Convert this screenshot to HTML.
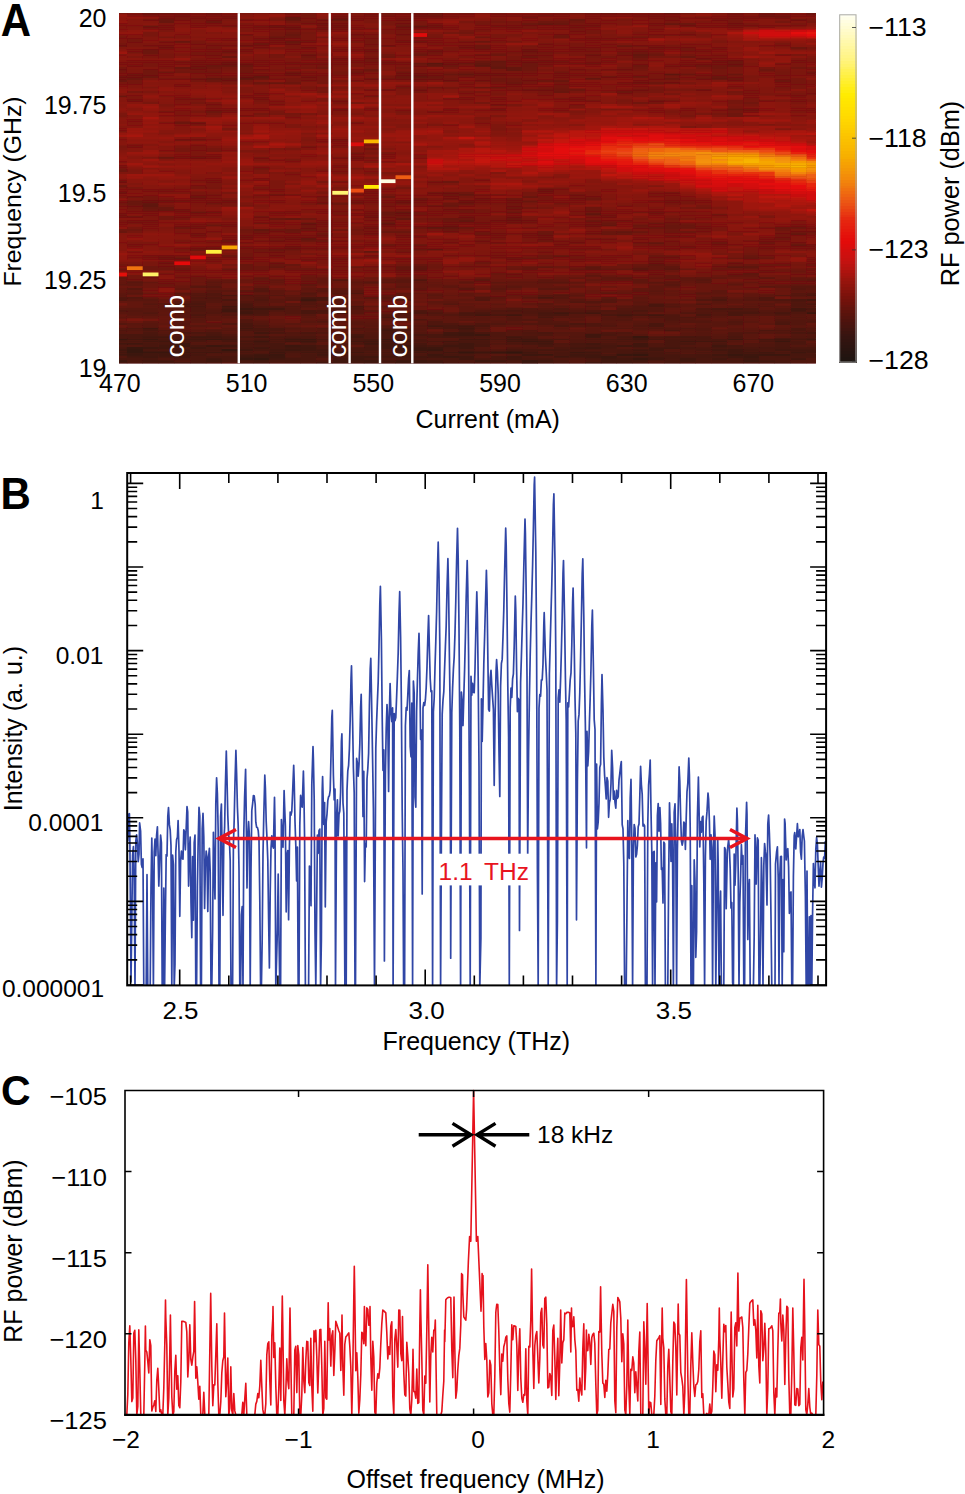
<!DOCTYPE html>
<html><head><meta charset="utf-8"><style>
html,body{margin:0;padding:0;background:#fff;width:965px;height:1494px;overflow:hidden}
svg{display:block}
text{font-family:"Liberation Sans", sans-serif}
</style></head><body>
<svg width="965" height="1494" viewBox="0 0 965 1494">
<rect width="965" height="1494" fill="#fff"/>
<filter id="blurA" x="0" y="0" width="1" height="1"><feGaussianBlur stdDeviation="0.75"/></filter>
<g filter="url(#blurA)"><rect x="119.0" y="13.1" width="696.7" height="350.2" fill="#81120b"/>
<path fill="#41140f" d="M119.0 362.21h8.2v1.39h-8.2zM119.0 353.45h8.2v2.49h-8.2zM119.0 349.07h8.2v2.49h-8.2zM126.9 342.51h16.1v2.49h-16.1zM142.7 355.64h16.1v2.49h-16.1zM142.7 327.19h16.1v2.49h-16.1zM174.3 349.07h16.1v2.49h-16.1zM190.1 346.88h16.1v2.49h-16.1zM190.1 335.94h16.1v2.49h-16.1zM205.9 357.83h16.1v2.49h-16.1zM205.9 351.26h16.1v2.49h-16.1zM237.5 349.07h16.1v2.49h-16.1zM253.3 346.88h16.1v2.49h-16.1zM284.9 340.32h16.1v2.49h-16.1zM300.7 362.21h16.1v1.39h-16.1zM316.5 353.45h16.1v2.49h-16.1zM332.3 362.21h16.1v1.39h-16.1zM332.3 360.02h16.1v2.49h-16.1zM348.1 351.26h16.1v2.49h-16.1zM363.9 355.64h16.1v2.49h-16.1zM363.9 342.51h16.1v2.49h-16.1zM395.5 353.45h16.1v2.49h-16.1zM395.5 338.13h16.1v2.49h-16.1zM427.1 360.02h16.1v2.49h-16.1zM427.1 355.64h16.1v2.49h-16.1zM442.9 351.26h16.1v2.49h-16.1zM442.9 333.75h16.1v2.49h-16.1zM458.7 357.83h16.1v2.49h-16.1zM458.7 355.64h16.1v2.49h-16.1zM458.7 346.88h16.1v2.49h-16.1zM458.7 344.70h16.1v2.49h-16.1zM490.3 360.02h16.1v2.49h-16.1zM506.1 362.21h16.1v1.39h-16.1zM506.1 355.64h16.1v2.49h-16.1zM506.1 338.13h16.1v2.49h-16.1zM506.1 314.05h16.1v2.49h-16.1zM553.5 355.64h16.1v2.49h-16.1zM553.5 311.86h16.1v2.49h-16.1zM600.9 360.02h16.1v2.49h-16.1zM600.9 357.83h16.1v2.49h-16.1zM616.7 360.02h16.1v2.49h-16.1zM616.7 344.70h16.1v2.49h-16.1zM632.5 349.07h16.1v2.49h-16.1zM632.5 342.51h16.1v2.49h-16.1zM679.9 340.32h16.1v2.49h-16.1zM711.5 353.45h16.1v2.49h-16.1zM727.3 338.13h16.1v2.49h-16.1zM758.9 362.21h16.1v1.39h-16.1zM758.9 351.26h16.1v2.49h-16.1zM790.5 357.83h16.1v2.49h-16.1z"/>
<path fill="#3a1410" d="M119.0 360.02h8.2v2.49h-8.2zM126.9 353.45h16.1v2.49h-16.1zM142.7 338.13h16.1v2.49h-16.1zM158.5 362.21h16.1v1.39h-16.1zM174.3 351.26h16.1v2.49h-16.1zM174.3 344.70h16.1v2.49h-16.1zM190.1 362.21h16.1v1.39h-16.1zM205.9 344.70h16.1v2.49h-16.1zM205.9 338.13h16.1v2.49h-16.1zM269.1 353.45h16.1v2.49h-16.1zM300.7 338.13h16.1v2.49h-16.1zM332.3 351.26h16.1v2.49h-16.1zM379.7 362.21h16.1v1.39h-16.1zM379.7 338.13h16.1v2.49h-16.1zM395.5 360.02h16.1v2.49h-16.1zM395.5 344.70h16.1v2.49h-16.1zM411.3 349.07h16.1v2.49h-16.1zM411.3 346.88h16.1v2.49h-16.1zM442.9 362.21h16.1v1.39h-16.1zM442.9 355.64h16.1v2.49h-16.1zM458.7 362.21h16.1v1.39h-16.1zM474.5 333.75h16.1v2.49h-16.1zM521.9 340.32h16.1v2.49h-16.1zM537.7 362.21h16.1v1.39h-16.1zM537.7 353.45h16.1v2.49h-16.1zM569.3 351.26h16.1v2.49h-16.1zM600.9 362.21h16.1v1.39h-16.1zM600.9 355.64h16.1v2.49h-16.1zM743.1 360.02h16.1v2.49h-16.1zM743.1 355.64h16.1v2.49h-16.1zM758.9 353.45h16.1v2.49h-16.1zM774.7 353.45h16.1v2.49h-16.1zM774.7 340.32h16.1v2.49h-16.1zM806.3 311.86h9.7v2.49h-9.7z"/>
<path fill="#48140e" d="M119.0 357.83h8.2v2.49h-8.2zM126.9 360.02h16.1v2.49h-16.1zM126.9 335.94h16.1v2.49h-16.1zM126.9 333.75h16.1v2.49h-16.1zM142.7 329.37h16.1v2.49h-16.1zM158.5 342.51h16.1v2.49h-16.1zM174.3 346.88h16.1v2.49h-16.1zM190.1 349.07h16.1v2.49h-16.1zM205.9 355.64h16.1v2.49h-16.1zM205.9 333.75h16.1v2.49h-16.1zM221.7 360.02h16.1v2.49h-16.1zM221.7 357.83h16.1v2.49h-16.1zM221.7 355.64h16.1v2.49h-16.1zM237.5 360.02h16.1v2.49h-16.1zM237.5 322.81h16.1v2.49h-16.1zM253.3 327.19h16.1v2.49h-16.1zM253.3 309.68h16.1v2.49h-16.1zM269.1 362.21h16.1v1.39h-16.1zM269.1 331.56h16.1v2.49h-16.1zM284.9 362.21h16.1v1.39h-16.1zM284.9 360.02h16.1v2.49h-16.1zM300.7 355.64h16.1v2.49h-16.1zM300.7 296.54h16.1v2.49h-16.1zM316.5 344.70h16.1v2.49h-16.1zM316.5 298.73h16.1v2.49h-16.1zM332.3 355.64h16.1v2.49h-16.1zM332.3 353.45h16.1v2.49h-16.1zM348.1 349.07h16.1v2.49h-16.1zM348.1 338.13h16.1v2.49h-16.1zM363.9 349.07h16.1v2.49h-16.1zM379.7 335.94h16.1v2.49h-16.1zM395.5 342.51h16.1v2.49h-16.1zM427.1 340.32h16.1v2.49h-16.1zM427.1 335.94h16.1v2.49h-16.1zM427.1 333.75h16.1v2.49h-16.1zM442.9 327.19h16.1v2.49h-16.1zM442.9 325.00h16.1v2.49h-16.1zM458.7 353.45h16.1v2.49h-16.1zM458.7 340.32h16.1v2.49h-16.1zM474.5 357.83h16.1v2.49h-16.1zM474.5 342.51h16.1v2.49h-16.1zM474.5 340.32h16.1v2.49h-16.1zM490.3 314.05h16.1v2.49h-16.1zM506.1 360.02h16.1v2.49h-16.1zM521.9 357.83h16.1v2.49h-16.1zM521.9 349.07h16.1v2.49h-16.1zM537.7 338.13h16.1v2.49h-16.1zM537.7 316.24h16.1v2.49h-16.1zM553.5 360.02h16.1v2.49h-16.1zM553.5 353.45h16.1v2.49h-16.1zM553.5 351.26h16.1v2.49h-16.1zM569.3 349.07h16.1v2.49h-16.1zM600.9 353.45h16.1v2.49h-16.1zM600.9 346.88h16.1v2.49h-16.1zM616.7 355.64h16.1v2.49h-16.1zM616.7 351.26h16.1v2.49h-16.1zM616.7 349.07h16.1v2.49h-16.1zM616.7 335.94h16.1v2.49h-16.1zM632.5 314.05h16.1v2.49h-16.1zM648.3 325.00h16.1v2.49h-16.1zM648.3 305.30h16.1v2.49h-16.1zM648.3 303.11h16.1v2.49h-16.1zM664.1 357.83h16.1v2.49h-16.1zM664.1 353.45h16.1v2.49h-16.1zM664.1 342.51h16.1v2.49h-16.1zM664.1 340.32h16.1v2.49h-16.1zM664.1 338.13h16.1v2.49h-16.1zM679.9 353.45h16.1v2.49h-16.1zM679.9 338.13h16.1v2.49h-16.1zM711.5 360.02h16.1v2.49h-16.1zM711.5 351.26h16.1v2.49h-16.1zM711.5 346.88h16.1v2.49h-16.1zM711.5 338.13h16.1v2.49h-16.1zM727.3 307.49h16.1v2.49h-16.1zM758.9 346.88h16.1v2.49h-16.1zM758.9 340.32h16.1v2.49h-16.1zM774.7 360.02h16.1v2.49h-16.1zM774.7 355.64h16.1v2.49h-16.1zM774.7 344.70h16.1v2.49h-16.1zM774.7 342.51h16.1v2.49h-16.1zM790.5 355.64h16.1v2.49h-16.1zM806.3 355.64h9.7v2.49h-9.7zM806.3 307.49h9.7v2.49h-9.7zM806.3 303.11h9.7v2.49h-9.7z"/>
<path fill="#51130d" d="M119.0 355.64h8.2v2.49h-8.2zM119.0 309.68h8.2v2.49h-8.2zM119.0 296.54h8.2v2.49h-8.2zM126.9 344.70h16.1v2.49h-16.1zM126.9 296.54h16.1v2.49h-16.1zM142.7 311.86h16.1v2.49h-16.1zM158.5 329.37h16.1v2.49h-16.1zM174.3 360.02h16.1v2.49h-16.1zM174.3 333.75h16.1v2.49h-16.1zM190.1 316.24h16.1v2.49h-16.1zM190.1 296.54h16.1v2.49h-16.1zM205.9 353.45h16.1v2.49h-16.1zM205.9 311.86h16.1v2.49h-16.1zM205.9 294.35h16.1v2.49h-16.1zM205.9 292.17h16.1v2.49h-16.1zM221.7 322.81h16.1v2.49h-16.1zM221.7 314.05h16.1v2.49h-16.1zM237.5 338.13h16.1v2.49h-16.1zM237.5 320.62h16.1v2.49h-16.1zM237.5 318.43h16.1v2.49h-16.1zM237.5 314.05h16.1v2.49h-16.1zM253.3 351.26h16.1v2.49h-16.1zM253.3 333.75h16.1v2.49h-16.1zM253.3 305.30h16.1v2.49h-16.1zM269.1 309.68h16.1v2.49h-16.1zM269.1 305.30h16.1v2.49h-16.1zM284.9 355.64h16.1v2.49h-16.1zM284.9 331.56h16.1v2.49h-16.1zM284.9 305.30h16.1v2.49h-16.1zM300.7 333.75h16.1v2.49h-16.1zM300.7 303.11h16.1v2.49h-16.1zM316.5 340.32h16.1v2.49h-16.1zM316.5 327.19h16.1v2.49h-16.1zM316.5 320.62h16.1v2.49h-16.1zM332.3 342.51h16.1v2.49h-16.1zM332.3 338.13h16.1v2.49h-16.1zM348.1 307.49h16.1v2.49h-16.1zM363.9 333.75h16.1v2.49h-16.1zM379.7 325.00h16.1v2.49h-16.1zM379.7 314.05h16.1v2.49h-16.1zM395.5 327.19h16.1v2.49h-16.1zM395.5 316.24h16.1v2.49h-16.1zM411.3 279.03h16.1v2.49h-16.1zM474.5 353.45h16.1v2.49h-16.1zM474.5 349.07h16.1v2.49h-16.1zM474.5 327.19h16.1v2.49h-16.1zM474.5 298.73h16.1v2.49h-16.1zM490.3 349.07h16.1v2.49h-16.1zM490.3 342.51h16.1v2.49h-16.1zM490.3 335.94h16.1v2.49h-16.1zM490.3 322.81h16.1v2.49h-16.1zM521.9 346.88h16.1v2.49h-16.1zM521.9 333.75h16.1v2.49h-16.1zM521.9 329.37h16.1v2.49h-16.1zM521.9 309.68h16.1v2.49h-16.1zM521.9 307.49h16.1v2.49h-16.1zM537.7 322.81h16.1v2.49h-16.1zM553.5 344.70h16.1v2.49h-16.1zM553.5 322.81h16.1v2.49h-16.1zM569.3 340.32h16.1v2.49h-16.1zM569.3 338.13h16.1v2.49h-16.1zM569.3 300.92h16.1v2.49h-16.1zM585.1 325.00h16.1v2.49h-16.1zM600.9 325.00h16.1v2.49h-16.1zM616.7 342.51h16.1v2.49h-16.1zM616.7 316.24h16.1v2.49h-16.1zM616.7 309.68h16.1v2.49h-16.1zM632.5 325.00h16.1v2.49h-16.1zM648.3 327.19h16.1v2.49h-16.1zM679.9 351.26h16.1v2.49h-16.1zM679.9 349.07h16.1v2.49h-16.1zM679.9 344.70h16.1v2.49h-16.1zM679.9 327.19h16.1v2.49h-16.1zM679.9 311.86h16.1v2.49h-16.1zM695.7 316.24h16.1v2.49h-16.1zM695.7 311.86h16.1v2.49h-16.1zM695.7 303.11h16.1v2.49h-16.1zM695.7 298.73h16.1v2.49h-16.1zM711.5 309.68h16.1v2.49h-16.1zM727.3 331.56h16.1v2.49h-16.1zM727.3 320.62h16.1v2.49h-16.1zM727.3 309.68h16.1v2.49h-16.1zM743.1 344.70h16.1v2.49h-16.1zM743.1 342.51h16.1v2.49h-16.1zM743.1 338.13h16.1v2.49h-16.1zM743.1 331.56h16.1v2.49h-16.1zM743.1 309.68h16.1v2.49h-16.1zM758.9 342.51h16.1v2.49h-16.1zM758.9 311.86h16.1v2.49h-16.1zM774.7 331.56h16.1v2.49h-16.1zM774.7 314.05h16.1v2.49h-16.1zM790.5 335.94h16.1v2.49h-16.1zM790.5 300.92h16.1v2.49h-16.1zM806.3 357.83h9.7v2.49h-9.7zM806.3 344.70h9.7v2.49h-9.7zM806.3 333.75h9.7v2.49h-9.7zM806.3 329.37h9.7v2.49h-9.7zM806.3 292.17h9.7v2.49h-9.7z"/>
<path fill="#43140f" d="M119.0 351.26h8.2v2.49h-8.2zM119.0 342.51h8.2v2.49h-8.2zM126.9 362.21h16.1v1.39h-16.1zM126.9 355.64h16.1v2.49h-16.1zM126.9 338.13h16.1v2.49h-16.1zM142.7 360.02h16.1v2.49h-16.1zM142.7 353.45h16.1v2.49h-16.1zM142.7 340.32h16.1v2.49h-16.1zM142.7 335.94h16.1v2.49h-16.1zM158.5 360.02h16.1v2.49h-16.1zM158.5 355.64h16.1v2.49h-16.1zM158.5 344.70h16.1v2.49h-16.1zM158.5 335.94h16.1v2.49h-16.1zM190.1 351.26h16.1v2.49h-16.1zM205.9 335.94h16.1v2.49h-16.1zM221.7 305.30h16.1v2.49h-16.1zM237.5 327.19h16.1v2.49h-16.1zM253.3 360.02h16.1v2.49h-16.1zM253.3 335.94h16.1v2.49h-16.1zM253.3 331.56h16.1v2.49h-16.1zM253.3 307.49h16.1v2.49h-16.1zM269.1 357.83h16.1v2.49h-16.1zM269.1 349.07h16.1v2.49h-16.1zM269.1 307.49h16.1v2.49h-16.1zM284.9 346.88h16.1v2.49h-16.1zM300.7 351.26h16.1v2.49h-16.1zM300.7 344.70h16.1v2.49h-16.1zM316.5 349.07h16.1v2.49h-16.1zM332.3 357.83h16.1v2.49h-16.1zM348.1 362.21h16.1v1.39h-16.1zM348.1 360.02h16.1v2.49h-16.1zM348.1 340.32h16.1v2.49h-16.1zM348.1 335.94h16.1v2.49h-16.1zM379.7 360.02h16.1v2.49h-16.1zM379.7 355.64h16.1v2.49h-16.1zM379.7 342.51h16.1v2.49h-16.1zM395.5 355.64h16.1v2.49h-16.1zM411.3 355.64h16.1v2.49h-16.1zM411.3 351.26h16.1v2.49h-16.1zM411.3 344.70h16.1v2.49h-16.1zM427.1 325.00h16.1v2.49h-16.1zM442.9 340.32h16.1v2.49h-16.1zM442.9 331.56h16.1v2.49h-16.1zM458.7 338.13h16.1v2.49h-16.1zM458.7 325.00h16.1v2.49h-16.1zM474.5 362.21h16.1v1.39h-16.1zM474.5 338.13h16.1v2.49h-16.1zM474.5 314.05h16.1v2.49h-16.1zM506.1 357.83h16.1v2.49h-16.1zM506.1 340.32h16.1v2.49h-16.1zM506.1 335.94h16.1v2.49h-16.1zM537.7 342.51h16.1v2.49h-16.1zM553.5 362.21h16.1v1.39h-16.1zM569.3 355.64h16.1v2.49h-16.1zM569.3 346.88h16.1v2.49h-16.1zM585.1 353.45h16.1v2.49h-16.1zM585.1 342.51h16.1v2.49h-16.1zM585.1 335.94h16.1v2.49h-16.1zM585.1 311.86h16.1v2.49h-16.1zM616.7 357.83h16.1v2.49h-16.1zM616.7 314.05h16.1v2.49h-16.1zM632.5 360.02h16.1v2.49h-16.1zM632.5 351.26h16.1v2.49h-16.1zM648.3 349.07h16.1v2.49h-16.1zM648.3 346.88h16.1v2.49h-16.1zM648.3 314.05h16.1v2.49h-16.1zM664.1 346.88h16.1v2.49h-16.1zM679.9 360.02h16.1v2.49h-16.1zM695.7 340.32h16.1v2.49h-16.1zM711.5 362.21h16.1v1.39h-16.1zM711.5 357.83h16.1v2.49h-16.1zM711.5 349.07h16.1v2.49h-16.1zM711.5 340.32h16.1v2.49h-16.1zM727.3 362.21h16.1v1.39h-16.1zM743.1 351.26h16.1v2.49h-16.1zM758.9 360.02h16.1v2.49h-16.1zM774.7 349.07h16.1v2.49h-16.1zM790.5 349.07h16.1v2.49h-16.1zM790.5 309.68h16.1v2.49h-16.1zM790.5 307.49h16.1v2.49h-16.1zM806.3 351.26h9.7v2.49h-9.7zM806.3 349.07h9.7v2.49h-9.7zM806.3 298.73h9.7v2.49h-9.7z"/>
<path fill="#46140e" d="M119.0 346.88h8.2v2.49h-8.2zM142.7 357.83h16.1v2.49h-16.1zM158.5 338.13h16.1v2.49h-16.1zM174.3 340.32h16.1v2.49h-16.1zM174.3 335.94h16.1v2.49h-16.1zM190.1 353.45h16.1v2.49h-16.1zM190.1 344.70h16.1v2.49h-16.1zM205.9 362.21h16.1v1.39h-16.1zM205.9 349.07h16.1v2.49h-16.1zM221.7 351.26h16.1v2.49h-16.1zM221.7 340.32h16.1v2.49h-16.1zM221.7 335.94h16.1v2.49h-16.1zM221.7 307.49h16.1v2.49h-16.1zM237.5 353.45h16.1v2.49h-16.1zM237.5 346.88h16.1v2.49h-16.1zM237.5 340.32h16.1v2.49h-16.1zM237.5 325.00h16.1v2.49h-16.1zM237.5 309.68h16.1v2.49h-16.1zM253.3 349.07h16.1v2.49h-16.1zM253.3 342.51h16.1v2.49h-16.1zM269.1 346.88h16.1v2.49h-16.1zM269.1 344.70h16.1v2.49h-16.1zM269.1 342.51h16.1v2.49h-16.1zM269.1 338.13h16.1v2.49h-16.1zM284.9 357.83h16.1v2.49h-16.1zM348.1 333.75h16.1v2.49h-16.1zM363.9 357.83h16.1v2.49h-16.1zM363.9 346.88h16.1v2.49h-16.1zM363.9 338.13h16.1v2.49h-16.1zM379.7 351.26h16.1v2.49h-16.1zM379.7 331.56h16.1v2.49h-16.1zM395.5 357.83h16.1v2.49h-16.1zM395.5 329.37h16.1v2.49h-16.1zM411.3 357.83h16.1v2.49h-16.1zM411.3 342.51h16.1v2.49h-16.1zM411.3 333.75h16.1v2.49h-16.1zM427.1 344.70h16.1v2.49h-16.1zM442.9 353.45h16.1v2.49h-16.1zM442.9 335.94h16.1v2.49h-16.1zM474.5 344.70h16.1v2.49h-16.1zM490.3 362.21h16.1v1.39h-16.1zM506.1 349.07h16.1v2.49h-16.1zM521.9 342.51h16.1v2.49h-16.1zM537.7 357.83h16.1v2.49h-16.1zM537.7 349.07h16.1v2.49h-16.1zM537.7 311.86h16.1v2.49h-16.1zM553.5 349.07h16.1v2.49h-16.1zM569.3 362.21h16.1v1.39h-16.1zM569.3 342.51h16.1v2.49h-16.1zM585.1 344.70h16.1v2.49h-16.1zM600.9 344.70h16.1v2.49h-16.1zM616.7 338.13h16.1v2.49h-16.1zM632.5 355.64h16.1v2.49h-16.1zM648.3 355.64h16.1v2.49h-16.1zM648.3 353.45h16.1v2.49h-16.1zM648.3 351.26h16.1v2.49h-16.1zM648.3 338.13h16.1v2.49h-16.1zM664.1 360.02h16.1v2.49h-16.1zM664.1 355.64h16.1v2.49h-16.1zM664.1 335.94h16.1v2.49h-16.1zM679.9 362.21h16.1v1.39h-16.1zM679.9 335.94h16.1v2.49h-16.1zM695.7 355.64h16.1v2.49h-16.1zM695.7 353.45h16.1v2.49h-16.1zM711.5 355.64h16.1v2.49h-16.1zM727.3 360.02h16.1v2.49h-16.1zM727.3 344.70h16.1v2.49h-16.1zM743.1 349.07h16.1v2.49h-16.1zM758.9 338.13h16.1v2.49h-16.1zM774.7 346.88h16.1v2.49h-16.1zM774.7 311.86h16.1v2.49h-16.1zM790.5 362.21h16.1v1.39h-16.1zM790.5 353.45h16.1v2.49h-16.1zM790.5 338.13h16.1v2.49h-16.1zM806.3 353.45h9.7v2.49h-9.7zM806.3 331.56h9.7v2.49h-9.7z"/>
<path fill="#4f130d" d="M119.0 344.70h8.2v2.49h-8.2zM119.0 329.37h8.2v2.49h-8.2zM119.0 298.73h8.2v2.49h-8.2zM126.9 327.19h16.1v2.49h-16.1zM158.5 357.83h16.1v2.49h-16.1zM158.5 333.75h16.1v2.49h-16.1zM190.1 309.68h16.1v2.49h-16.1zM190.1 307.49h16.1v2.49h-16.1zM190.1 300.92h16.1v2.49h-16.1zM205.9 340.32h16.1v2.49h-16.1zM205.9 296.54h16.1v2.49h-16.1zM221.7 362.21h16.1v1.39h-16.1zM221.7 353.45h16.1v2.49h-16.1zM221.7 346.88h16.1v2.49h-16.1zM221.7 333.75h16.1v2.49h-16.1zM237.5 294.35h16.1v2.49h-16.1zM253.3 325.00h16.1v2.49h-16.1zM253.3 314.05h16.1v2.49h-16.1zM253.3 298.73h16.1v2.49h-16.1zM284.9 353.45h16.1v2.49h-16.1zM300.7 342.51h16.1v2.49h-16.1zM316.5 331.56h16.1v2.49h-16.1zM316.5 311.86h16.1v2.49h-16.1zM332.3 349.07h16.1v2.49h-16.1zM332.3 333.75h16.1v2.49h-16.1zM348.1 327.19h16.1v2.49h-16.1zM348.1 292.17h16.1v2.49h-16.1zM363.9 335.94h16.1v2.49h-16.1zM395.5 311.86h16.1v2.49h-16.1zM411.3 335.94h16.1v2.49h-16.1zM411.3 318.43h16.1v2.49h-16.1zM411.3 309.68h16.1v2.49h-16.1zM427.1 327.19h16.1v2.49h-16.1zM427.1 322.81h16.1v2.49h-16.1zM427.1 320.62h16.1v2.49h-16.1zM427.1 311.86h16.1v2.49h-16.1zM442.9 322.81h16.1v2.49h-16.1zM474.5 322.81h16.1v2.49h-16.1zM490.3 333.75h16.1v2.49h-16.1zM490.3 331.56h16.1v2.49h-16.1zM490.3 309.68h16.1v2.49h-16.1zM506.1 353.45h16.1v2.49h-16.1zM506.1 346.88h16.1v2.49h-16.1zM521.9 331.56h16.1v2.49h-16.1zM521.9 311.86h16.1v2.49h-16.1zM537.7 355.64h16.1v2.49h-16.1zM537.7 333.75h16.1v2.49h-16.1zM537.7 309.68h16.1v2.49h-16.1zM553.5 357.83h16.1v2.49h-16.1zM553.5 342.51h16.1v2.49h-16.1zM553.5 307.49h16.1v2.49h-16.1zM569.3 357.83h16.1v2.49h-16.1zM585.1 349.07h16.1v2.49h-16.1zM585.1 340.32h16.1v2.49h-16.1zM585.1 322.81h16.1v2.49h-16.1zM585.1 309.68h16.1v2.49h-16.1zM600.9 340.32h16.1v2.49h-16.1zM600.9 331.56h16.1v2.49h-16.1zM600.9 309.68h16.1v2.49h-16.1zM616.7 331.56h16.1v2.49h-16.1zM616.7 311.86h16.1v2.49h-16.1zM632.5 346.88h16.1v2.49h-16.1zM648.3 360.02h16.1v2.49h-16.1zM648.3 344.70h16.1v2.49h-16.1zM648.3 342.51h16.1v2.49h-16.1zM648.3 316.24h16.1v2.49h-16.1zM664.1 318.43h16.1v2.49h-16.1zM664.1 316.24h16.1v2.49h-16.1zM664.1 314.05h16.1v2.49h-16.1zM679.9 316.24h16.1v2.49h-16.1zM695.7 307.49h16.1v2.49h-16.1zM727.3 333.75h16.1v2.49h-16.1zM743.1 307.49h16.1v2.49h-16.1zM758.9 344.70h16.1v2.49h-16.1zM758.9 298.73h16.1v2.49h-16.1zM758.9 296.54h16.1v2.49h-16.1zM774.7 329.37h16.1v2.49h-16.1zM774.7 320.62h16.1v2.49h-16.1zM774.7 298.73h16.1v2.49h-16.1zM790.5 360.02h16.1v2.49h-16.1zM790.5 311.86h16.1v2.49h-16.1zM790.5 305.30h16.1v2.49h-16.1zM790.5 303.11h16.1v2.49h-16.1zM806.3 362.21h9.7v1.39h-9.7zM806.3 360.02h9.7v2.49h-9.7zM806.3 335.94h9.7v2.49h-9.7zM806.3 320.62h9.7v2.49h-9.7zM806.3 309.68h9.7v2.49h-9.7zM806.3 305.30h9.7v2.49h-9.7z"/>
<path fill="#4a130e" d="M119.0 340.32h8.2v2.49h-8.2zM119.0 333.75h8.2v2.49h-8.2zM126.9 357.83h16.1v2.49h-16.1zM126.9 340.32h16.1v2.49h-16.1zM142.7 349.07h16.1v2.49h-16.1zM142.7 344.70h16.1v2.49h-16.1zM142.7 342.51h16.1v2.49h-16.1zM142.7 333.75h16.1v2.49h-16.1zM174.3 357.83h16.1v2.49h-16.1zM174.3 331.56h16.1v2.49h-16.1zM174.3 305.30h16.1v2.49h-16.1zM190.1 360.02h16.1v2.49h-16.1zM190.1 340.32h16.1v2.49h-16.1zM190.1 305.30h16.1v2.49h-16.1zM205.9 346.88h16.1v2.49h-16.1zM221.7 294.35h16.1v2.49h-16.1zM237.5 351.26h16.1v2.49h-16.1zM237.5 342.51h16.1v2.49h-16.1zM237.5 335.94h16.1v2.49h-16.1zM237.5 329.37h16.1v2.49h-16.1zM237.5 305.30h16.1v2.49h-16.1zM237.5 303.11h16.1v2.49h-16.1zM253.3 329.37h16.1v2.49h-16.1zM253.3 311.86h16.1v2.49h-16.1zM269.1 360.02h16.1v2.49h-16.1zM269.1 340.32h16.1v2.49h-16.1zM284.9 351.26h16.1v2.49h-16.1zM300.7 360.02h16.1v2.49h-16.1zM300.7 357.83h16.1v2.49h-16.1zM300.7 353.45h16.1v2.49h-16.1zM300.7 311.86h16.1v2.49h-16.1zM300.7 309.68h16.1v2.49h-16.1zM316.5 355.64h16.1v2.49h-16.1zM316.5 338.13h16.1v2.49h-16.1zM316.5 296.54h16.1v2.49h-16.1zM332.3 311.86h16.1v2.49h-16.1zM348.1 353.45h16.1v2.49h-16.1zM348.1 346.88h16.1v2.49h-16.1zM363.9 351.26h16.1v2.49h-16.1zM379.7 353.45h16.1v2.49h-16.1zM379.7 333.75h16.1v2.49h-16.1zM379.7 316.24h16.1v2.49h-16.1zM395.5 335.94h16.1v2.49h-16.1zM427.1 351.26h16.1v2.49h-16.1zM442.9 360.02h16.1v2.49h-16.1zM442.9 357.83h16.1v2.49h-16.1zM442.9 346.88h16.1v2.49h-16.1zM442.9 342.51h16.1v2.49h-16.1zM458.7 349.07h16.1v2.49h-16.1zM458.7 335.94h16.1v2.49h-16.1zM458.7 329.37h16.1v2.49h-16.1zM458.7 311.86h16.1v2.49h-16.1zM474.5 331.56h16.1v2.49h-16.1zM474.5 311.86h16.1v2.49h-16.1zM490.3 357.83h16.1v2.49h-16.1zM490.3 355.64h16.1v2.49h-16.1zM537.7 344.70h16.1v2.49h-16.1zM537.7 314.05h16.1v2.49h-16.1zM537.7 296.54h16.1v2.49h-16.1zM553.5 314.05h16.1v2.49h-16.1zM569.3 344.70h16.1v2.49h-16.1zM569.3 311.86h16.1v2.49h-16.1zM585.1 357.83h16.1v2.49h-16.1zM600.9 314.05h16.1v2.49h-16.1zM648.3 362.21h16.1v1.39h-16.1zM648.3 322.81h16.1v2.49h-16.1zM664.1 351.26h16.1v2.49h-16.1zM664.1 344.70h16.1v2.49h-16.1zM664.1 329.37h16.1v2.49h-16.1zM679.9 355.64h16.1v2.49h-16.1zM679.9 346.88h16.1v2.49h-16.1zM679.9 342.51h16.1v2.49h-16.1zM695.7 362.21h16.1v1.39h-16.1zM695.7 360.02h16.1v2.49h-16.1zM695.7 357.83h16.1v2.49h-16.1zM695.7 349.07h16.1v2.49h-16.1zM695.7 338.13h16.1v2.49h-16.1zM695.7 335.94h16.1v2.49h-16.1zM695.7 314.05h16.1v2.49h-16.1zM711.5 307.49h16.1v2.49h-16.1zM727.3 346.88h16.1v2.49h-16.1zM727.3 314.05h16.1v2.49h-16.1zM727.3 311.86h16.1v2.49h-16.1zM743.1 311.86h16.1v2.49h-16.1zM774.7 351.26h16.1v2.49h-16.1zM790.5 346.88h16.1v2.49h-16.1zM790.5 331.56h16.1v2.49h-16.1zM790.5 298.73h16.1v2.49h-16.1zM806.3 346.88h9.7v2.49h-9.7z"/>
<path fill="#371410" d="M119.0 338.13h8.2v2.49h-8.2zM126.9 346.88h16.1v2.49h-16.1zM521.9 360.02h16.1v2.49h-16.1z"/>
<path fill="#4c130e" d="M119.0 335.94h8.2v2.49h-8.2zM142.7 331.56h16.1v2.49h-16.1zM158.5 349.07h16.1v2.49h-16.1zM174.3 303.11h16.1v2.49h-16.1zM190.1 357.83h16.1v2.49h-16.1zM190.1 355.64h16.1v2.49h-16.1zM190.1 331.56h16.1v2.49h-16.1zM190.1 314.05h16.1v2.49h-16.1zM190.1 303.11h16.1v2.49h-16.1zM205.9 331.56h16.1v2.49h-16.1zM221.7 298.73h16.1v2.49h-16.1zM237.5 344.70h16.1v2.49h-16.1zM253.3 344.70h16.1v2.49h-16.1zM253.3 338.13h16.1v2.49h-16.1zM269.1 335.94h16.1v2.49h-16.1zM269.1 329.37h16.1v2.49h-16.1zM269.1 327.19h16.1v2.49h-16.1zM284.9 335.94h16.1v2.49h-16.1zM300.7 335.94h16.1v2.49h-16.1zM300.7 331.56h16.1v2.49h-16.1zM316.5 360.02h16.1v2.49h-16.1zM316.5 346.88h16.1v2.49h-16.1zM316.5 309.68h16.1v2.49h-16.1zM332.3 307.49h16.1v2.49h-16.1zM348.1 342.51h16.1v2.49h-16.1zM348.1 305.30h16.1v2.49h-16.1zM363.9 353.45h16.1v2.49h-16.1zM363.9 344.70h16.1v2.49h-16.1zM379.7 357.83h16.1v2.49h-16.1zM379.7 349.07h16.1v2.49h-16.1zM379.7 327.19h16.1v2.49h-16.1zM395.5 333.75h16.1v2.49h-16.1zM411.3 353.45h16.1v2.49h-16.1zM411.3 340.32h16.1v2.49h-16.1zM411.3 338.13h16.1v2.49h-16.1zM411.3 311.86h16.1v2.49h-16.1zM427.1 357.83h16.1v2.49h-16.1zM442.9 349.07h16.1v2.49h-16.1zM458.7 360.02h16.1v2.49h-16.1zM458.7 314.05h16.1v2.49h-16.1zM474.5 335.94h16.1v2.49h-16.1zM474.5 325.00h16.1v2.49h-16.1zM490.3 338.13h16.1v2.49h-16.1zM506.1 342.51h16.1v2.49h-16.1zM506.1 309.68h16.1v2.49h-16.1zM521.9 355.64h16.1v2.49h-16.1zM521.9 335.94h16.1v2.49h-16.1zM537.7 351.26h16.1v2.49h-16.1zM537.7 331.56h16.1v2.49h-16.1zM553.5 346.88h16.1v2.49h-16.1zM553.5 338.13h16.1v2.49h-16.1zM553.5 325.00h16.1v2.49h-16.1zM569.3 322.81h16.1v2.49h-16.1zM585.1 360.02h16.1v2.49h-16.1zM585.1 338.13h16.1v2.49h-16.1zM600.9 351.26h16.1v2.49h-16.1zM600.9 349.07h16.1v2.49h-16.1zM600.9 342.51h16.1v2.49h-16.1zM600.9 338.13h16.1v2.49h-16.1zM600.9 333.75h16.1v2.49h-16.1zM616.7 340.32h16.1v2.49h-16.1zM632.5 340.32h16.1v2.49h-16.1zM632.5 309.68h16.1v2.49h-16.1zM648.3 335.94h16.1v2.49h-16.1zM695.7 351.26h16.1v2.49h-16.1zM695.7 346.88h16.1v2.49h-16.1zM711.5 342.51h16.1v2.49h-16.1zM711.5 298.73h16.1v2.49h-16.1zM727.3 357.83h16.1v2.49h-16.1zM727.3 335.94h16.1v2.49h-16.1zM743.1 346.88h16.1v2.49h-16.1zM758.9 357.83h16.1v2.49h-16.1zM758.9 355.64h16.1v2.49h-16.1zM758.9 349.07h16.1v2.49h-16.1zM758.9 329.37h16.1v2.49h-16.1zM774.7 357.83h16.1v2.49h-16.1zM774.7 322.81h16.1v2.49h-16.1zM790.5 342.51h16.1v2.49h-16.1zM790.5 340.32h16.1v2.49h-16.1zM790.5 329.37h16.1v2.49h-16.1zM790.5 327.19h16.1v2.49h-16.1zM806.3 294.35h9.7v2.49h-9.7z"/>
<path fill="#55130d" d="M119.0 331.56h8.2v2.49h-8.2zM119.0 327.19h8.2v2.49h-8.2zM119.0 322.81h8.2v2.49h-8.2zM126.9 309.68h16.1v2.49h-16.1zM126.9 287.79h16.1v2.49h-16.1zM142.7 303.11h16.1v2.49h-16.1zM158.5 331.56h16.1v2.49h-16.1zM174.3 329.37h16.1v2.49h-16.1zM174.3 322.81h16.1v2.49h-16.1zM174.3 311.86h16.1v2.49h-16.1zM190.1 298.73h16.1v2.49h-16.1zM190.1 292.17h16.1v2.49h-16.1zM205.9 300.92h16.1v2.49h-16.1zM205.9 285.60h16.1v2.49h-16.1zM221.7 329.37h16.1v2.49h-16.1zM221.7 311.86h16.1v2.49h-16.1zM221.7 303.11h16.1v2.49h-16.1zM237.5 333.75h16.1v2.49h-16.1zM237.5 331.56h16.1v2.49h-16.1zM253.3 322.81h16.1v2.49h-16.1zM253.3 300.92h16.1v2.49h-16.1zM253.3 294.35h16.1v2.49h-16.1zM253.3 287.79h16.1v2.49h-16.1zM269.1 294.35h16.1v2.49h-16.1zM284.9 298.73h16.1v2.49h-16.1zM300.7 314.05h16.1v2.49h-16.1zM316.5 357.83h16.1v2.49h-16.1zM316.5 329.37h16.1v2.49h-16.1zM316.5 305.30h16.1v2.49h-16.1zM316.5 303.11h16.1v2.49h-16.1zM332.3 344.70h16.1v2.49h-16.1zM332.3 335.94h16.1v2.49h-16.1zM332.3 298.73h16.1v2.49h-16.1zM332.3 279.03h16.1v2.49h-16.1zM348.1 329.37h16.1v2.49h-16.1zM363.9 329.37h16.1v2.49h-16.1zM363.9 327.19h16.1v2.49h-16.1zM395.5 298.73h16.1v2.49h-16.1zM411.3 329.37h16.1v2.49h-16.1zM411.3 327.19h16.1v2.49h-16.1zM427.1 314.05h16.1v2.49h-16.1zM442.9 329.37h16.1v2.49h-16.1zM442.9 303.11h16.1v2.49h-16.1zM458.7 316.24h16.1v2.49h-16.1zM506.1 333.75h16.1v2.49h-16.1zM506.1 331.56h16.1v2.49h-16.1zM506.1 329.37h16.1v2.49h-16.1zM506.1 322.81h16.1v2.49h-16.1zM537.7 346.88h16.1v2.49h-16.1zM537.7 318.43h16.1v2.49h-16.1zM537.7 307.49h16.1v2.49h-16.1zM537.7 294.35h16.1v2.49h-16.1zM553.5 331.56h16.1v2.49h-16.1zM553.5 320.62h16.1v2.49h-16.1zM553.5 316.24h16.1v2.49h-16.1zM553.5 296.54h16.1v2.49h-16.1zM569.3 333.75h16.1v2.49h-16.1zM569.3 331.56h16.1v2.49h-16.1zM569.3 316.24h16.1v2.49h-16.1zM569.3 314.05h16.1v2.49h-16.1zM585.1 305.30h16.1v2.49h-16.1zM600.9 322.81h16.1v2.49h-16.1zM600.9 318.43h16.1v2.49h-16.1zM600.9 316.24h16.1v2.49h-16.1zM600.9 300.92h16.1v2.49h-16.1zM600.9 298.73h16.1v2.49h-16.1zM616.7 327.19h16.1v2.49h-16.1zM632.5 333.75h16.1v2.49h-16.1zM632.5 322.81h16.1v2.49h-16.1zM632.5 311.86h16.1v2.49h-16.1zM664.1 320.62h16.1v2.49h-16.1zM664.1 303.11h16.1v2.49h-16.1zM679.9 318.43h16.1v2.49h-16.1zM695.7 333.75h16.1v2.49h-16.1zM695.7 331.56h16.1v2.49h-16.1zM711.5 335.94h16.1v2.49h-16.1zM711.5 311.86h16.1v2.49h-16.1zM743.1 314.05h16.1v2.49h-16.1zM743.1 298.73h16.1v2.49h-16.1zM758.9 331.56h16.1v2.49h-16.1zM758.9 314.05h16.1v2.49h-16.1zM758.9 309.68h16.1v2.49h-16.1zM758.9 305.30h16.1v2.49h-16.1zM774.7 307.49h16.1v2.49h-16.1zM774.7 294.35h16.1v2.49h-16.1zM790.5 318.43h16.1v2.49h-16.1zM790.5 314.05h16.1v2.49h-16.1zM790.5 292.17h16.1v2.49h-16.1zM790.5 287.79h16.1v2.49h-16.1zM806.3 342.51h9.7v2.49h-9.7z"/>
<path fill="#67130c" d="M119.0 325.00h8.2v2.49h-8.2zM126.9 285.60h16.1v2.49h-16.1zM126.9 200.24h16.1v2.49h-16.1zM142.7 206.80h16.1v2.49h-16.1zM158.5 325.00h16.1v2.49h-16.1zM158.5 300.92h16.1v2.49h-16.1zM158.5 208.99h16.1v2.49h-16.1zM158.5 156.46h16.1v2.49h-16.1zM158.5 20.76h16.1v2.49h-16.1zM174.3 268.09h16.1v2.49h-16.1zM174.3 263.71h16.1v2.49h-16.1zM174.3 66.72h16.1v2.49h-16.1zM174.3 40.46h16.1v2.49h-16.1zM190.1 281.22h16.1v2.49h-16.1zM205.9 327.19h16.1v2.49h-16.1zM221.7 268.09h16.1v2.49h-16.1zM221.7 64.54h16.1v2.49h-16.1zM237.5 279.03h16.1v2.49h-16.1zM237.5 263.71h16.1v2.49h-16.1zM253.3 279.03h16.1v2.49h-16.1zM253.3 77.67h16.1v2.49h-16.1zM269.1 287.79h16.1v2.49h-16.1zM269.1 248.39h16.1v2.49h-16.1zM284.9 263.71h16.1v2.49h-16.1zM284.9 40.46h16.1v2.49h-16.1zM284.9 33.89h16.1v2.49h-16.1zM300.7 325.00h16.1v2.49h-16.1zM300.7 285.60h16.1v2.49h-16.1zM300.7 276.84h16.1v2.49h-16.1zM316.5 314.05h16.1v2.49h-16.1zM316.5 283.41h16.1v2.49h-16.1zM332.3 294.35h16.1v2.49h-16.1zM332.3 281.22h16.1v2.49h-16.1zM348.1 279.03h16.1v2.49h-16.1zM348.1 265.90h16.1v2.49h-16.1zM363.9 314.05h16.1v2.49h-16.1zM363.9 298.73h16.1v2.49h-16.1zM379.7 211.18h16.1v2.49h-16.1zM395.5 287.79h16.1v2.49h-16.1zM395.5 25.14h16.1v2.49h-16.1zM411.3 307.49h16.1v2.49h-16.1zM411.3 300.92h16.1v2.49h-16.1zM411.3 296.54h16.1v2.49h-16.1zM411.3 276.84h16.1v2.49h-16.1zM411.3 263.71h16.1v2.49h-16.1zM411.3 248.39h16.1v2.49h-16.1zM411.3 62.35h16.1v2.49h-16.1zM427.1 329.37h16.1v2.49h-16.1zM427.1 305.30h16.1v2.49h-16.1zM442.9 287.79h16.1v2.49h-16.1zM442.9 283.41h16.1v2.49h-16.1zM442.9 204.62h16.1v2.49h-16.1zM442.9 73.29h16.1v2.49h-16.1zM458.7 320.62h16.1v2.49h-16.1zM458.7 300.92h16.1v2.49h-16.1zM458.7 202.43h16.1v2.49h-16.1zM474.5 300.92h16.1v2.49h-16.1zM474.5 294.35h16.1v2.49h-16.1zM474.5 287.79h16.1v2.49h-16.1zM474.5 276.84h16.1v2.49h-16.1zM490.3 329.37h16.1v2.49h-16.1zM490.3 283.41h16.1v2.49h-16.1zM490.3 64.54h16.1v2.49h-16.1zM490.3 62.35h16.1v2.49h-16.1zM506.1 268.09h16.1v2.49h-16.1zM521.9 200.24h16.1v2.49h-16.1zM521.9 195.86h16.1v2.49h-16.1zM537.7 292.17h16.1v2.49h-16.1zM537.7 257.15h16.1v2.49h-16.1zM553.5 303.11h16.1v2.49h-16.1zM553.5 276.84h16.1v2.49h-16.1zM553.5 90.80h16.1v2.49h-16.1zM553.5 79.86h16.1v2.49h-16.1zM569.3 327.19h16.1v2.49h-16.1zM569.3 303.11h16.1v2.49h-16.1zM569.3 296.54h16.1v2.49h-16.1zM585.1 292.17h16.1v2.49h-16.1zM585.1 289.98h16.1v2.49h-16.1zM600.9 329.37h16.1v2.49h-16.1zM600.9 233.07h16.1v2.49h-16.1zM600.9 230.88h16.1v2.49h-16.1zM616.7 289.98h16.1v2.49h-16.1zM632.5 55.78h16.1v2.49h-16.1zM648.3 296.54h16.1v2.49h-16.1zM648.3 283.41h16.1v2.49h-16.1zM664.1 300.92h16.1v2.49h-16.1zM664.1 226.50h16.1v2.49h-16.1zM664.1 224.31h16.1v2.49h-16.1zM664.1 22.95h16.1v2.49h-16.1zM664.1 13.10h16.1v1.39h-16.1zM679.9 283.41h16.1v2.49h-16.1zM679.9 226.50h16.1v2.49h-16.1zM695.7 289.98h16.1v2.49h-16.1zM711.5 327.19h16.1v2.49h-16.1zM711.5 287.79h16.1v2.49h-16.1zM711.5 285.60h16.1v2.49h-16.1zM711.5 283.41h16.1v2.49h-16.1zM727.3 303.11h16.1v2.49h-16.1zM727.3 281.22h16.1v2.49h-16.1zM727.3 64.54h16.1v2.49h-16.1zM743.1 254.96h16.1v2.49h-16.1zM774.7 289.98h16.1v2.49h-16.1zM774.7 279.03h16.1v2.49h-16.1zM806.3 283.41h9.7v2.49h-9.7z"/>
<path fill="#64130c" d="M119.0 320.62h8.2v2.49h-8.2zM119.0 314.05h8.2v2.49h-8.2zM119.0 300.92h8.2v2.49h-8.2zM119.0 289.98h8.2v2.49h-8.2zM119.0 279.03h8.2v2.49h-8.2zM142.7 296.54h16.1v2.49h-16.1zM142.7 281.22h16.1v2.49h-16.1zM142.7 202.43h16.1v2.49h-16.1zM158.5 320.62h16.1v2.49h-16.1zM158.5 318.43h16.1v2.49h-16.1zM158.5 298.73h16.1v2.49h-16.1zM174.3 298.73h16.1v2.49h-16.1zM174.3 294.35h16.1v2.49h-16.1zM174.3 287.79h16.1v2.49h-16.1zM174.3 257.15h16.1v2.49h-16.1zM190.1 322.81h16.1v2.49h-16.1zM190.1 289.98h16.1v2.49h-16.1zM205.9 279.03h16.1v2.49h-16.1zM205.9 77.67h16.1v2.49h-16.1zM221.7 318.43h16.1v2.49h-16.1zM221.7 287.79h16.1v2.49h-16.1zM253.3 316.24h16.1v2.49h-16.1zM253.3 285.60h16.1v2.49h-16.1zM269.1 320.62h16.1v2.49h-16.1zM269.1 318.43h16.1v2.49h-16.1zM269.1 296.54h16.1v2.49h-16.1zM269.1 281.22h16.1v2.49h-16.1zM269.1 265.90h16.1v2.49h-16.1zM284.9 289.98h16.1v2.49h-16.1zM284.9 217.75h16.1v2.49h-16.1zM284.9 18.57h16.1v2.49h-16.1zM284.9 16.38h16.1v2.49h-16.1zM316.5 292.17h16.1v2.49h-16.1zM316.5 276.84h16.1v2.49h-16.1zM332.3 322.81h16.1v2.49h-16.1zM332.3 18.57h16.1v2.49h-16.1zM348.1 318.43h16.1v2.49h-16.1zM348.1 303.11h16.1v2.49h-16.1zM348.1 294.35h16.1v2.49h-16.1zM348.1 287.79h16.1v2.49h-16.1zM348.1 283.41h16.1v2.49h-16.1zM379.7 322.81h16.1v2.49h-16.1zM379.7 320.62h16.1v2.49h-16.1zM379.7 307.49h16.1v2.49h-16.1zM379.7 287.79h16.1v2.49h-16.1zM395.5 268.09h16.1v2.49h-16.1zM395.5 217.75h16.1v2.49h-16.1zM411.3 305.30h16.1v2.49h-16.1zM411.3 292.17h16.1v2.49h-16.1zM411.3 283.41h16.1v2.49h-16.1zM411.3 75.48h16.1v2.49h-16.1zM427.1 303.11h16.1v2.49h-16.1zM427.1 292.17h16.1v2.49h-16.1zM427.1 285.60h16.1v2.49h-16.1zM427.1 281.22h16.1v2.49h-16.1zM442.9 305.30h16.1v2.49h-16.1zM442.9 298.73h16.1v2.49h-16.1zM442.9 294.35h16.1v2.49h-16.1zM458.7 193.67h16.1v2.49h-16.1zM474.5 305.30h16.1v2.49h-16.1zM474.5 292.17h16.1v2.49h-16.1zM474.5 62.35h16.1v2.49h-16.1zM490.3 305.30h16.1v2.49h-16.1zM490.3 298.73h16.1v2.49h-16.1zM490.3 60.16h16.1v2.49h-16.1zM506.1 294.35h16.1v2.49h-16.1zM506.1 287.79h16.1v2.49h-16.1zM506.1 283.41h16.1v2.49h-16.1zM506.1 68.91h16.1v2.49h-16.1zM506.1 66.72h16.1v2.49h-16.1zM521.9 327.19h16.1v2.49h-16.1zM521.9 325.00h16.1v2.49h-16.1zM521.9 320.62h16.1v2.49h-16.1zM521.9 294.35h16.1v2.49h-16.1zM521.9 268.09h16.1v2.49h-16.1zM521.9 265.90h16.1v2.49h-16.1zM537.7 298.73h16.1v2.49h-16.1zM537.7 283.41h16.1v2.49h-16.1zM537.7 22.95h16.1v2.49h-16.1zM553.5 285.60h16.1v2.49h-16.1zM553.5 254.96h16.1v2.49h-16.1zM569.3 276.84h16.1v2.49h-16.1zM569.3 268.09h16.1v2.49h-16.1zM585.1 318.43h16.1v2.49h-16.1zM585.1 298.73h16.1v2.49h-16.1zM585.1 77.67h16.1v2.49h-16.1zM600.9 268.09h16.1v2.49h-16.1zM600.9 224.31h16.1v2.49h-16.1zM616.7 329.37h16.1v2.49h-16.1zM616.7 279.03h16.1v2.49h-16.1zM616.7 268.09h16.1v2.49h-16.1zM632.5 265.90h16.1v2.49h-16.1zM632.5 53.59h16.1v2.49h-16.1zM648.3 333.75h16.1v2.49h-16.1zM648.3 300.92h16.1v2.49h-16.1zM648.3 298.73h16.1v2.49h-16.1zM648.3 294.35h16.1v2.49h-16.1zM648.3 276.84h16.1v2.49h-16.1zM648.3 268.09h16.1v2.49h-16.1zM648.3 265.90h16.1v2.49h-16.1zM664.1 298.73h16.1v2.49h-16.1zM664.1 292.17h16.1v2.49h-16.1zM664.1 274.66h16.1v2.49h-16.1zM679.9 322.81h16.1v2.49h-16.1zM679.9 307.49h16.1v2.49h-16.1zM679.9 298.73h16.1v2.49h-16.1zM679.9 292.17h16.1v2.49h-16.1zM679.9 281.22h16.1v2.49h-16.1zM695.7 294.35h16.1v2.49h-16.1zM711.5 294.35h16.1v2.49h-16.1zM711.5 77.67h16.1v2.49h-16.1zM727.3 296.54h16.1v2.49h-16.1zM743.1 325.00h16.1v2.49h-16.1zM743.1 322.81h16.1v2.49h-16.1zM743.1 292.17h16.1v2.49h-16.1zM743.1 281.22h16.1v2.49h-16.1zM758.9 335.94h16.1v2.49h-16.1zM758.9 318.43h16.1v2.49h-16.1zM758.9 316.24h16.1v2.49h-16.1zM790.5 283.41h16.1v2.49h-16.1zM790.5 244.01h16.1v2.49h-16.1zM790.5 233.07h16.1v2.49h-16.1zM806.3 276.84h9.7v2.49h-9.7z"/>
<path fill="#6e120b" d="M119.0 318.43h8.2v2.49h-8.2zM119.0 268.09h8.2v2.49h-8.2zM119.0 228.69h8.2v2.49h-8.2zM119.0 191.48h8.2v2.49h-8.2zM119.0 180.54h8.2v2.49h-8.2zM119.0 75.48h8.2v2.49h-8.2zM119.0 44.84h8.2v2.49h-8.2zM126.9 279.03h16.1v2.49h-16.1zM126.9 228.69h16.1v2.49h-16.1zM126.9 215.56h16.1v2.49h-16.1zM126.9 204.62h16.1v2.49h-16.1zM126.9 73.29h16.1v2.49h-16.1zM158.5 296.54h16.1v2.49h-16.1zM158.5 285.60h16.1v2.49h-16.1zM158.5 265.90h16.1v2.49h-16.1zM158.5 261.52h16.1v2.49h-16.1zM158.5 200.24h16.1v2.49h-16.1zM158.5 71.10h16.1v2.49h-16.1zM158.5 13.10h16.1v1.39h-16.1zM190.1 156.46h16.1v2.49h-16.1zM190.1 77.67h16.1v2.49h-16.1zM205.9 320.62h16.1v2.49h-16.1zM205.9 248.39h16.1v2.49h-16.1zM205.9 211.18h16.1v2.49h-16.1zM205.9 202.43h16.1v2.49h-16.1zM205.9 66.72h16.1v2.49h-16.1zM221.7 200.24h16.1v2.49h-16.1zM221.7 51.40h16.1v2.49h-16.1zM237.5 292.17h16.1v2.49h-16.1zM237.5 287.79h16.1v2.49h-16.1zM237.5 235.26h16.1v2.49h-16.1zM237.5 228.69h16.1v2.49h-16.1zM237.5 75.48h16.1v2.49h-16.1zM237.5 71.10h16.1v2.49h-16.1zM237.5 44.84h16.1v2.49h-16.1zM253.3 248.39h16.1v2.49h-16.1zM253.3 222.13h16.1v2.49h-16.1zM269.1 239.64h16.1v2.49h-16.1zM269.1 193.67h16.1v2.49h-16.1zM269.1 38.27h16.1v2.49h-16.1zM284.9 318.43h16.1v2.49h-16.1zM284.9 300.92h16.1v2.49h-16.1zM284.9 283.41h16.1v2.49h-16.1zM284.9 71.10h16.1v2.49h-16.1zM284.9 42.65h16.1v2.49h-16.1zM284.9 31.70h16.1v2.49h-16.1zM300.7 259.33h16.1v2.49h-16.1zM300.7 226.50h16.1v2.49h-16.1zM300.7 224.31h16.1v2.49h-16.1zM300.7 217.75h16.1v2.49h-16.1zM300.7 53.59h16.1v2.49h-16.1zM316.5 235.26h16.1v2.49h-16.1zM316.5 66.72h16.1v2.49h-16.1zM316.5 27.33h16.1v2.49h-16.1zM316.5 22.95h16.1v2.49h-16.1zM332.3 283.41h16.1v2.49h-16.1zM332.3 108.31h16.1v2.49h-16.1zM332.3 25.14h16.1v2.49h-16.1zM348.1 316.24h16.1v2.49h-16.1zM348.1 202.43h16.1v2.49h-16.1zM348.1 156.46h16.1v2.49h-16.1zM348.1 71.10h16.1v2.49h-16.1zM363.9 311.86h16.1v2.49h-16.1zM363.9 300.92h16.1v2.49h-16.1zM363.9 265.90h16.1v2.49h-16.1zM363.9 254.96h16.1v2.49h-16.1zM363.9 233.07h16.1v2.49h-16.1zM363.9 226.50h16.1v2.49h-16.1zM363.9 215.56h16.1v2.49h-16.1zM363.9 187.11h16.1v2.49h-16.1zM363.9 49.21h16.1v2.49h-16.1zM379.7 309.68h16.1v2.49h-16.1zM379.7 300.92h16.1v2.49h-16.1zM379.7 224.31h16.1v2.49h-16.1zM379.7 55.78h16.1v2.49h-16.1zM379.7 44.84h16.1v2.49h-16.1zM395.5 303.11h16.1v2.49h-16.1zM395.5 202.43h16.1v2.49h-16.1zM395.5 77.67h16.1v2.49h-16.1zM395.5 71.10h16.1v2.49h-16.1zM411.3 289.98h16.1v2.49h-16.1zM411.3 270.28h16.1v2.49h-16.1zM411.3 235.26h16.1v2.49h-16.1zM411.3 77.67h16.1v2.49h-16.1zM411.3 64.54h16.1v2.49h-16.1zM411.3 40.46h16.1v2.49h-16.1zM411.3 14.19h16.1v2.49h-16.1zM427.1 298.73h16.1v2.49h-16.1zM427.1 263.71h16.1v2.49h-16.1zM427.1 204.62h16.1v2.49h-16.1zM427.1 86.42h16.1v2.49h-16.1zM427.1 77.67h16.1v2.49h-16.1zM427.1 49.21h16.1v2.49h-16.1zM427.1 25.14h16.1v2.49h-16.1zM427.1 14.19h16.1v2.49h-16.1zM427.1 13.10h16.1v1.39h-16.1zM442.9 289.98h16.1v2.49h-16.1zM442.9 224.31h16.1v2.49h-16.1zM442.9 198.05h16.1v2.49h-16.1zM442.9 191.48h16.1v2.49h-16.1zM442.9 79.86h16.1v2.49h-16.1zM442.9 62.35h16.1v2.49h-16.1zM458.7 283.41h16.1v2.49h-16.1zM458.7 279.03h16.1v2.49h-16.1zM458.7 211.18h16.1v2.49h-16.1zM458.7 208.99h16.1v2.49h-16.1zM458.7 191.48h16.1v2.49h-16.1zM474.5 230.88h16.1v2.49h-16.1zM474.5 222.13h16.1v2.49h-16.1zM474.5 198.05h16.1v2.49h-16.1zM474.5 36.08h16.1v2.49h-16.1zM490.3 294.35h16.1v2.49h-16.1zM490.3 276.84h16.1v2.49h-16.1zM490.3 274.66h16.1v2.49h-16.1zM490.3 79.86h16.1v2.49h-16.1zM490.3 77.67h16.1v2.49h-16.1zM506.1 292.17h16.1v2.49h-16.1zM506.1 272.47h16.1v2.49h-16.1zM506.1 219.94h16.1v2.49h-16.1zM506.1 202.43h16.1v2.49h-16.1zM506.1 60.16h16.1v2.49h-16.1zM521.9 300.92h16.1v2.49h-16.1zM521.9 88.61h16.1v2.49h-16.1zM521.9 68.91h16.1v2.49h-16.1zM521.9 66.72h16.1v2.49h-16.1zM521.9 51.40h16.1v2.49h-16.1zM537.7 235.26h16.1v2.49h-16.1zM537.7 88.61h16.1v2.49h-16.1zM537.7 60.16h16.1v2.49h-16.1zM537.7 20.76h16.1v2.49h-16.1zM553.5 274.66h16.1v2.49h-16.1zM553.5 33.89h16.1v2.49h-16.1zM553.5 20.76h16.1v2.49h-16.1zM569.3 283.41h16.1v2.49h-16.1zM569.3 274.66h16.1v2.49h-16.1zM569.3 265.90h16.1v2.49h-16.1zM585.1 287.79h16.1v2.49h-16.1zM585.1 285.60h16.1v2.49h-16.1zM585.1 62.35h16.1v2.49h-16.1zM585.1 53.59h16.1v2.49h-16.1zM600.9 289.98h16.1v2.49h-16.1zM600.9 75.48h16.1v2.49h-16.1zM600.9 13.10h16.1v1.39h-16.1zM616.7 265.90h16.1v2.49h-16.1zM616.7 263.71h16.1v2.49h-16.1zM632.5 276.84h16.1v2.49h-16.1zM632.5 270.28h16.1v2.49h-16.1zM632.5 241.82h16.1v2.49h-16.1zM632.5 226.50h16.1v2.49h-16.1zM632.5 82.05h16.1v2.49h-16.1zM632.5 51.40h16.1v2.49h-16.1zM648.3 272.47h16.1v2.49h-16.1zM648.3 261.52h16.1v2.49h-16.1zM648.3 211.18h16.1v2.49h-16.1zM664.1 279.03h16.1v2.49h-16.1zM664.1 257.15h16.1v2.49h-16.1zM664.1 235.26h16.1v2.49h-16.1zM664.1 228.69h16.1v2.49h-16.1zM664.1 82.05h16.1v2.49h-16.1zM679.9 296.54h16.1v2.49h-16.1zM679.9 246.20h16.1v2.49h-16.1zM695.7 88.61h16.1v2.49h-16.1zM695.7 77.67h16.1v2.49h-16.1zM695.7 57.97h16.1v2.49h-16.1zM711.5 265.90h16.1v2.49h-16.1zM711.5 213.37h16.1v2.49h-16.1zM711.5 66.72h16.1v2.49h-16.1zM711.5 64.54h16.1v2.49h-16.1zM711.5 60.16h16.1v2.49h-16.1zM727.3 272.47h16.1v2.49h-16.1zM727.3 261.52h16.1v2.49h-16.1zM727.3 114.88h16.1v2.49h-16.1zM727.3 112.69h16.1v2.49h-16.1zM743.1 283.41h16.1v2.49h-16.1zM743.1 268.09h16.1v2.49h-16.1zM743.1 108.31h16.1v2.49h-16.1zM758.9 292.17h16.1v2.49h-16.1zM758.9 281.22h16.1v2.49h-16.1zM774.7 276.84h16.1v2.49h-16.1zM774.7 274.66h16.1v2.49h-16.1zM774.7 270.28h16.1v2.49h-16.1zM774.7 268.09h16.1v2.49h-16.1zM774.7 228.69h16.1v2.49h-16.1zM774.7 16.38h16.1v2.49h-16.1zM790.5 268.09h16.1v2.49h-16.1zM790.5 230.88h16.1v2.49h-16.1zM790.5 18.57h16.1v2.49h-16.1zM806.3 281.22h9.7v2.49h-9.7zM806.3 272.47h9.7v2.49h-9.7zM806.3 230.88h9.7v2.49h-9.7zM806.3 71.10h9.7v2.49h-9.7z"/>
<path fill="#5d130c" d="M119.0 316.24h8.2v2.49h-8.2zM119.0 292.17h8.2v2.49h-8.2zM119.0 283.41h8.2v2.49h-8.2zM126.9 325.00h16.1v2.49h-16.1zM126.9 316.24h16.1v2.49h-16.1zM126.9 283.41h16.1v2.49h-16.1zM142.7 320.62h16.1v2.49h-16.1zM142.7 300.92h16.1v2.49h-16.1zM158.5 327.19h16.1v2.49h-16.1zM158.5 314.05h16.1v2.49h-16.1zM158.5 309.68h16.1v2.49h-16.1zM174.3 327.19h16.1v2.49h-16.1zM205.9 322.81h16.1v2.49h-16.1zM205.9 318.43h16.1v2.49h-16.1zM205.9 316.24h16.1v2.49h-16.1zM205.9 303.11h16.1v2.49h-16.1zM205.9 283.41h16.1v2.49h-16.1zM237.5 316.24h16.1v2.49h-16.1zM237.5 289.98h16.1v2.49h-16.1zM269.1 314.05h16.1v2.49h-16.1zM269.1 292.17h16.1v2.49h-16.1zM269.1 289.98h16.1v2.49h-16.1zM284.9 314.05h16.1v2.49h-16.1zM284.9 294.35h16.1v2.49h-16.1zM300.7 307.49h16.1v2.49h-16.1zM316.5 300.92h16.1v2.49h-16.1zM332.3 287.79h16.1v2.49h-16.1zM348.1 344.70h16.1v2.49h-16.1zM348.1 281.22h16.1v2.49h-16.1zM363.9 320.62h16.1v2.49h-16.1zM363.9 309.68h16.1v2.49h-16.1zM395.5 325.00h16.1v2.49h-16.1zM395.5 292.17h16.1v2.49h-16.1zM395.5 285.60h16.1v2.49h-16.1zM411.3 287.79h16.1v2.49h-16.1zM411.3 281.22h16.1v2.49h-16.1zM411.3 268.09h16.1v2.49h-16.1zM427.1 300.92h16.1v2.49h-16.1zM442.9 320.62h16.1v2.49h-16.1zM442.9 318.43h16.1v2.49h-16.1zM442.9 316.24h16.1v2.49h-16.1zM442.9 300.92h16.1v2.49h-16.1zM442.9 285.60h16.1v2.49h-16.1zM458.7 309.68h16.1v2.49h-16.1zM458.7 307.49h16.1v2.49h-16.1zM458.7 305.30h16.1v2.49h-16.1zM458.7 281.22h16.1v2.49h-16.1zM474.5 320.62h16.1v2.49h-16.1zM474.5 307.49h16.1v2.49h-16.1zM474.5 279.03h16.1v2.49h-16.1zM474.5 64.54h16.1v2.49h-16.1zM490.3 346.88h16.1v2.49h-16.1zM490.3 318.43h16.1v2.49h-16.1zM490.3 303.11h16.1v2.49h-16.1zM490.3 296.54h16.1v2.49h-16.1zM490.3 281.22h16.1v2.49h-16.1zM521.9 316.24h16.1v2.49h-16.1zM537.7 279.03h16.1v2.49h-16.1zM553.5 340.32h16.1v2.49h-16.1zM553.5 335.94h16.1v2.49h-16.1zM553.5 298.73h16.1v2.49h-16.1zM585.1 307.49h16.1v2.49h-16.1zM585.1 274.66h16.1v2.49h-16.1zM585.1 268.09h16.1v2.49h-16.1zM585.1 265.90h16.1v2.49h-16.1zM600.9 296.54h16.1v2.49h-16.1zM600.9 292.17h16.1v2.49h-16.1zM616.7 322.81h16.1v2.49h-16.1zM632.5 331.56h16.1v2.49h-16.1zM632.5 303.11h16.1v2.49h-16.1zM632.5 296.54h16.1v2.49h-16.1zM648.3 292.17h16.1v2.49h-16.1zM664.1 325.00h16.1v2.49h-16.1zM664.1 73.29h16.1v2.49h-16.1zM679.9 325.00h16.1v2.49h-16.1zM679.9 309.68h16.1v2.49h-16.1zM679.9 305.30h16.1v2.49h-16.1zM679.9 303.11h16.1v2.49h-16.1zM679.9 276.84h16.1v2.49h-16.1zM695.7 305.30h16.1v2.49h-16.1zM695.7 296.54h16.1v2.49h-16.1zM695.7 276.84h16.1v2.49h-16.1zM711.5 331.56h16.1v2.49h-16.1zM711.5 303.11h16.1v2.49h-16.1zM711.5 292.17h16.1v2.49h-16.1zM711.5 289.98h16.1v2.49h-16.1zM727.3 300.92h16.1v2.49h-16.1zM727.3 283.41h16.1v2.49h-16.1zM743.1 327.19h16.1v2.49h-16.1zM743.1 316.24h16.1v2.49h-16.1zM758.9 322.81h16.1v2.49h-16.1zM758.9 307.49h16.1v2.49h-16.1zM758.9 294.35h16.1v2.49h-16.1zM758.9 276.84h16.1v2.49h-16.1zM774.7 333.75h16.1v2.49h-16.1zM774.7 325.00h16.1v2.49h-16.1zM790.5 289.98h16.1v2.49h-16.1zM806.3 325.00h9.7v2.49h-9.7zM806.3 279.03h9.7v2.49h-9.7z"/>
<path fill="#5a130c" d="M119.0 311.86h8.2v2.49h-8.2zM119.0 307.49h8.2v2.49h-8.2zM119.0 294.35h8.2v2.49h-8.2zM126.9 322.81h16.1v2.49h-16.1zM126.9 314.05h16.1v2.49h-16.1zM142.7 305.30h16.1v2.49h-16.1zM158.5 307.49h16.1v2.49h-16.1zM158.5 305.30h16.1v2.49h-16.1zM174.3 292.17h16.1v2.49h-16.1zM190.1 320.62h16.1v2.49h-16.1zM205.9 325.00h16.1v2.49h-16.1zM205.9 305.30h16.1v2.49h-16.1zM205.9 281.22h16.1v2.49h-16.1zM221.7 316.24h16.1v2.49h-16.1zM221.7 296.54h16.1v2.49h-16.1zM221.7 289.98h16.1v2.49h-16.1zM237.5 298.73h16.1v2.49h-16.1zM269.1 325.00h16.1v2.49h-16.1zM269.1 311.86h16.1v2.49h-16.1zM269.1 300.92h16.1v2.49h-16.1zM269.1 298.73h16.1v2.49h-16.1zM284.9 342.51h16.1v2.49h-16.1zM284.9 329.37h16.1v2.49h-16.1zM284.9 322.81h16.1v2.49h-16.1zM300.7 316.24h16.1v2.49h-16.1zM316.5 342.51h16.1v2.49h-16.1zM316.5 333.75h16.1v2.49h-16.1zM316.5 318.43h16.1v2.49h-16.1zM316.5 287.79h16.1v2.49h-16.1zM332.3 346.88h16.1v2.49h-16.1zM332.3 327.19h16.1v2.49h-16.1zM332.3 320.62h16.1v2.49h-16.1zM332.3 303.11h16.1v2.49h-16.1zM348.1 320.62h16.1v2.49h-16.1zM348.1 289.98h16.1v2.49h-16.1zM363.9 322.81h16.1v2.49h-16.1zM363.9 296.54h16.1v2.49h-16.1zM379.7 318.43h16.1v2.49h-16.1zM379.7 305.30h16.1v2.49h-16.1zM379.7 281.22h16.1v2.49h-16.1zM395.5 305.30h16.1v2.49h-16.1zM395.5 281.22h16.1v2.49h-16.1zM395.5 279.03h16.1v2.49h-16.1zM411.3 322.81h16.1v2.49h-16.1zM411.3 314.05h16.1v2.49h-16.1zM427.1 318.43h16.1v2.49h-16.1zM427.1 294.35h16.1v2.49h-16.1zM427.1 62.35h16.1v2.49h-16.1zM442.9 311.86h16.1v2.49h-16.1zM490.3 344.70h16.1v2.49h-16.1zM490.3 325.00h16.1v2.49h-16.1zM490.3 307.49h16.1v2.49h-16.1zM490.3 287.79h16.1v2.49h-16.1zM506.1 320.62h16.1v2.49h-16.1zM506.1 285.60h16.1v2.49h-16.1zM521.9 296.54h16.1v2.49h-16.1zM537.7 335.94h16.1v2.49h-16.1zM537.7 325.00h16.1v2.49h-16.1zM537.7 305.30h16.1v2.49h-16.1zM537.7 287.79h16.1v2.49h-16.1zM553.5 287.79h16.1v2.49h-16.1zM569.3 307.49h16.1v2.49h-16.1zM569.3 294.35h16.1v2.49h-16.1zM585.1 327.19h16.1v2.49h-16.1zM616.7 325.00h16.1v2.49h-16.1zM616.7 320.62h16.1v2.49h-16.1zM616.7 276.84h16.1v2.49h-16.1zM632.5 329.37h16.1v2.49h-16.1zM632.5 300.92h16.1v2.49h-16.1zM632.5 268.09h16.1v2.49h-16.1zM648.3 340.32h16.1v2.49h-16.1zM648.3 329.37h16.1v2.49h-16.1zM648.3 289.98h16.1v2.49h-16.1zM648.3 281.22h16.1v2.49h-16.1zM664.1 281.22h16.1v2.49h-16.1zM664.1 268.09h16.1v2.49h-16.1zM679.9 331.56h16.1v2.49h-16.1zM695.7 322.81h16.1v2.49h-16.1zM695.7 318.43h16.1v2.49h-16.1zM695.7 292.17h16.1v2.49h-16.1zM695.7 281.22h16.1v2.49h-16.1zM711.5 329.37h16.1v2.49h-16.1zM711.5 325.00h16.1v2.49h-16.1zM711.5 320.62h16.1v2.49h-16.1zM711.5 316.24h16.1v2.49h-16.1zM727.3 342.51h16.1v2.49h-16.1zM727.3 329.37h16.1v2.49h-16.1zM727.3 327.19h16.1v2.49h-16.1zM727.3 305.30h16.1v2.49h-16.1zM727.3 298.73h16.1v2.49h-16.1zM727.3 265.90h16.1v2.49h-16.1zM743.1 340.32h16.1v2.49h-16.1zM743.1 335.94h16.1v2.49h-16.1zM743.1 333.75h16.1v2.49h-16.1zM743.1 320.62h16.1v2.49h-16.1zM743.1 303.11h16.1v2.49h-16.1zM758.9 285.60h16.1v2.49h-16.1zM774.7 305.30h16.1v2.49h-16.1zM790.5 325.00h16.1v2.49h-16.1zM806.3 340.32h9.7v2.49h-9.7zM806.3 314.05h9.7v2.49h-9.7zM806.3 287.79h9.7v2.49h-9.7z"/>
<path fill="#62130c" d="M119.0 305.30h8.2v2.49h-8.2zM119.0 287.79h8.2v2.49h-8.2zM119.0 281.22h8.2v2.49h-8.2zM126.9 305.30h16.1v2.49h-16.1zM126.9 303.11h16.1v2.49h-16.1zM126.9 300.92h16.1v2.49h-16.1zM158.5 316.24h16.1v2.49h-16.1zM174.3 318.43h16.1v2.49h-16.1zM190.1 327.19h16.1v2.49h-16.1zM221.7 325.00h16.1v2.49h-16.1zM221.7 320.62h16.1v2.49h-16.1zM221.7 292.17h16.1v2.49h-16.1zM221.7 279.03h16.1v2.49h-16.1zM253.3 318.43h16.1v2.49h-16.1zM253.3 292.17h16.1v2.49h-16.1zM253.3 276.84h16.1v2.49h-16.1zM253.3 228.69h16.1v2.49h-16.1zM253.3 75.48h16.1v2.49h-16.1zM269.1 303.11h16.1v2.49h-16.1zM269.1 279.03h16.1v2.49h-16.1zM284.9 325.00h16.1v2.49h-16.1zM300.7 289.98h16.1v2.49h-16.1zM300.7 237.45h16.1v2.49h-16.1zM300.7 222.13h16.1v2.49h-16.1zM316.5 316.24h16.1v2.49h-16.1zM316.5 281.22h16.1v2.49h-16.1zM316.5 279.03h16.1v2.49h-16.1zM332.3 318.43h16.1v2.49h-16.1zM348.1 296.54h16.1v2.49h-16.1zM363.9 250.58h16.1v2.49h-16.1zM379.7 311.86h16.1v2.49h-16.1zM379.7 222.13h16.1v2.49h-16.1zM395.5 320.62h16.1v2.49h-16.1zM395.5 296.54h16.1v2.49h-16.1zM395.5 283.41h16.1v2.49h-16.1zM395.5 276.84h16.1v2.49h-16.1zM395.5 265.90h16.1v2.49h-16.1zM395.5 211.18h16.1v2.49h-16.1zM411.3 285.60h16.1v2.49h-16.1zM411.3 25.14h16.1v2.49h-16.1zM427.1 283.41h16.1v2.49h-16.1zM427.1 64.54h16.1v2.49h-16.1zM442.9 226.50h16.1v2.49h-16.1zM458.7 219.94h16.1v2.49h-16.1zM458.7 73.29h16.1v2.49h-16.1zM474.5 303.11h16.1v2.49h-16.1zM490.3 289.98h16.1v2.49h-16.1zM490.3 66.72h16.1v2.49h-16.1zM521.9 285.60h16.1v2.49h-16.1zM521.9 283.41h16.1v2.49h-16.1zM537.7 285.60h16.1v2.49h-16.1zM537.7 265.90h16.1v2.49h-16.1zM553.5 279.03h16.1v2.49h-16.1zM569.3 305.30h16.1v2.49h-16.1zM569.3 292.17h16.1v2.49h-16.1zM569.3 285.60h16.1v2.49h-16.1zM585.1 320.62h16.1v2.49h-16.1zM585.1 316.24h16.1v2.49h-16.1zM585.1 303.11h16.1v2.49h-16.1zM585.1 279.03h16.1v2.49h-16.1zM600.9 279.03h16.1v2.49h-16.1zM616.7 292.17h16.1v2.49h-16.1zM616.7 230.88h16.1v2.49h-16.1zM632.5 318.43h16.1v2.49h-16.1zM632.5 294.35h16.1v2.49h-16.1zM632.5 287.79h16.1v2.49h-16.1zM648.3 311.86h16.1v2.49h-16.1zM648.3 241.82h16.1v2.49h-16.1zM664.1 333.75h16.1v2.49h-16.1zM664.1 309.68h16.1v2.49h-16.1zM664.1 294.35h16.1v2.49h-16.1zM664.1 289.98h16.1v2.49h-16.1zM664.1 276.84h16.1v2.49h-16.1zM695.7 300.92h16.1v2.49h-16.1zM711.5 276.84h16.1v2.49h-16.1zM727.3 292.17h16.1v2.49h-16.1zM727.3 274.66h16.1v2.49h-16.1zM743.1 274.66h16.1v2.49h-16.1zM743.1 257.15h16.1v2.49h-16.1zM758.9 333.75h16.1v2.49h-16.1zM758.9 327.19h16.1v2.49h-16.1zM758.9 320.62h16.1v2.49h-16.1zM790.5 296.54h16.1v2.49h-16.1zM790.5 279.03h16.1v2.49h-16.1zM790.5 276.84h16.1v2.49h-16.1zM806.3 322.81h9.7v2.49h-9.7z"/>
<path fill="#71120b" d="M119.0 303.11h8.2v2.49h-8.2zM119.0 215.56h8.2v2.49h-8.2zM119.0 202.43h8.2v2.49h-8.2zM119.0 77.67h8.2v2.49h-8.2zM119.0 68.91h8.2v2.49h-8.2zM126.9 276.84h16.1v2.49h-16.1zM126.9 274.66h16.1v2.49h-16.1zM126.9 195.86h16.1v2.49h-16.1zM126.9 99.56h16.1v2.49h-16.1zM126.9 75.48h16.1v2.49h-16.1zM142.7 318.43h16.1v2.49h-16.1zM142.7 276.84h16.1v2.49h-16.1zM142.7 73.29h16.1v2.49h-16.1zM142.7 71.10h16.1v2.49h-16.1zM142.7 68.91h16.1v2.49h-16.1zM158.5 292.17h16.1v2.49h-16.1zM158.5 281.22h16.1v2.49h-16.1zM158.5 254.96h16.1v2.49h-16.1zM158.5 217.75h16.1v2.49h-16.1zM158.5 215.56h16.1v2.49h-16.1zM158.5 47.03h16.1v2.49h-16.1zM174.3 296.54h16.1v2.49h-16.1zM174.3 283.41h16.1v2.49h-16.1zM174.3 281.22h16.1v2.49h-16.1zM174.3 265.90h16.1v2.49h-16.1zM174.3 208.99h16.1v2.49h-16.1zM174.3 200.24h16.1v2.49h-16.1zM174.3 138.95h16.1v2.49h-16.1zM174.3 71.10h16.1v2.49h-16.1zM174.3 14.19h16.1v2.49h-16.1zM190.1 233.07h16.1v2.49h-16.1zM190.1 226.50h16.1v2.49h-16.1zM190.1 121.44h16.1v2.49h-16.1zM190.1 71.10h16.1v2.49h-16.1zM190.1 64.54h16.1v2.49h-16.1zM205.9 246.20h16.1v2.49h-16.1zM205.9 71.10h16.1v2.49h-16.1zM205.9 13.10h16.1v1.39h-16.1zM221.7 224.31h16.1v2.49h-16.1zM221.7 79.86h16.1v2.49h-16.1zM221.7 49.21h16.1v2.49h-16.1zM221.7 25.14h16.1v2.49h-16.1zM237.5 254.96h16.1v2.49h-16.1zM237.5 252.77h16.1v2.49h-16.1zM237.5 246.20h16.1v2.49h-16.1zM237.5 237.45h16.1v2.49h-16.1zM237.5 230.88h16.1v2.49h-16.1zM237.5 68.91h16.1v2.49h-16.1zM237.5 66.72h16.1v2.49h-16.1zM237.5 62.35h16.1v2.49h-16.1zM237.5 33.89h16.1v2.49h-16.1zM253.3 250.58h16.1v2.49h-16.1zM253.3 215.56h16.1v2.49h-16.1zM253.3 167.41h16.1v2.49h-16.1zM253.3 38.27h16.1v2.49h-16.1zM253.3 25.14h16.1v2.49h-16.1zM269.1 268.09h16.1v2.49h-16.1zM269.1 261.52h16.1v2.49h-16.1zM269.1 254.96h16.1v2.49h-16.1zM269.1 250.58h16.1v2.49h-16.1zM284.9 316.24h16.1v2.49h-16.1zM284.9 265.90h16.1v2.49h-16.1zM284.9 237.45h16.1v2.49h-16.1zM284.9 62.35h16.1v2.49h-16.1zM284.9 25.14h16.1v2.49h-16.1zM284.9 13.10h16.1v1.39h-16.1zM300.7 75.48h16.1v2.49h-16.1zM300.7 62.35h16.1v2.49h-16.1zM300.7 55.78h16.1v2.49h-16.1zM300.7 47.03h16.1v2.49h-16.1zM300.7 40.46h16.1v2.49h-16.1zM316.5 274.66h16.1v2.49h-16.1zM316.5 248.39h16.1v2.49h-16.1zM316.5 222.13h16.1v2.49h-16.1zM316.5 195.86h16.1v2.49h-16.1zM316.5 62.35h16.1v2.49h-16.1zM316.5 18.57h16.1v2.49h-16.1zM332.3 257.15h16.1v2.49h-16.1zM332.3 246.20h16.1v2.49h-16.1zM332.3 228.69h16.1v2.49h-16.1zM332.3 57.97h16.1v2.49h-16.1zM332.3 16.38h16.1v2.49h-16.1zM348.1 228.69h16.1v2.49h-16.1zM348.1 200.24h16.1v2.49h-16.1zM348.1 152.09h16.1v2.49h-16.1zM348.1 33.89h16.1v2.49h-16.1zM363.9 294.35h16.1v2.49h-16.1zM363.9 147.71h16.1v2.49h-16.1zM363.9 95.18h16.1v2.49h-16.1zM363.9 77.67h16.1v2.49h-16.1zM363.9 60.16h16.1v2.49h-16.1zM363.9 57.97h16.1v2.49h-16.1zM379.7 303.11h16.1v2.49h-16.1zM379.7 289.98h16.1v2.49h-16.1zM379.7 283.41h16.1v2.49h-16.1zM379.7 265.90h16.1v2.49h-16.1zM379.7 219.94h16.1v2.49h-16.1zM379.7 215.56h16.1v2.49h-16.1zM379.7 88.61h16.1v2.49h-16.1zM379.7 77.67h16.1v2.49h-16.1zM379.7 62.35h16.1v2.49h-16.1zM379.7 53.59h16.1v2.49h-16.1zM395.5 322.81h16.1v2.49h-16.1zM395.5 263.71h16.1v2.49h-16.1zM395.5 257.15h16.1v2.49h-16.1zM395.5 250.58h16.1v2.49h-16.1zM395.5 215.56h16.1v2.49h-16.1zM395.5 86.42h16.1v2.49h-16.1zM395.5 73.29h16.1v2.49h-16.1zM395.5 40.46h16.1v2.49h-16.1zM395.5 33.89h16.1v2.49h-16.1zM395.5 27.33h16.1v2.49h-16.1zM395.5 22.95h16.1v2.49h-16.1zM395.5 18.57h16.1v2.49h-16.1zM411.3 303.11h16.1v2.49h-16.1zM411.3 213.37h16.1v2.49h-16.1zM411.3 211.18h16.1v2.49h-16.1zM411.3 88.61h16.1v2.49h-16.1zM411.3 79.86h16.1v2.49h-16.1zM411.3 27.33h16.1v2.49h-16.1zM411.3 13.10h16.1v1.39h-16.1zM427.1 307.49h16.1v2.49h-16.1zM427.1 268.09h16.1v2.49h-16.1zM427.1 217.75h16.1v2.49h-16.1zM427.1 191.48h16.1v2.49h-16.1zM427.1 51.40h16.1v2.49h-16.1zM442.9 230.88h16.1v2.49h-16.1zM442.9 208.99h16.1v2.49h-16.1zM442.9 77.67h16.1v2.49h-16.1zM458.7 265.90h16.1v2.49h-16.1zM458.7 215.56h16.1v2.49h-16.1zM458.7 75.48h16.1v2.49h-16.1zM458.7 71.10h16.1v2.49h-16.1zM458.7 47.03h16.1v2.49h-16.1zM458.7 31.70h16.1v2.49h-16.1zM474.5 265.90h16.1v2.49h-16.1zM474.5 239.64h16.1v2.49h-16.1zM474.5 79.86h16.1v2.49h-16.1zM474.5 53.59h16.1v2.49h-16.1zM490.3 241.82h16.1v2.49h-16.1zM490.3 233.07h16.1v2.49h-16.1zM490.3 219.94h16.1v2.49h-16.1zM490.3 108.31h16.1v2.49h-16.1zM490.3 103.93h16.1v2.49h-16.1zM490.3 25.14h16.1v2.49h-16.1zM506.1 222.13h16.1v2.49h-16.1zM506.1 215.56h16.1v2.49h-16.1zM506.1 204.62h16.1v2.49h-16.1zM506.1 200.24h16.1v2.49h-16.1zM506.1 79.86h16.1v2.49h-16.1zM506.1 77.67h16.1v2.49h-16.1zM521.9 292.17h16.1v2.49h-16.1zM521.9 287.79h16.1v2.49h-16.1zM521.9 276.84h16.1v2.49h-16.1zM521.9 274.66h16.1v2.49h-16.1zM521.9 233.07h16.1v2.49h-16.1zM521.9 219.94h16.1v2.49h-16.1zM521.9 206.80h16.1v2.49h-16.1zM521.9 79.86h16.1v2.49h-16.1zM521.9 60.16h16.1v2.49h-16.1zM521.9 16.38h16.1v2.49h-16.1zM537.7 276.84h16.1v2.49h-16.1zM537.7 237.45h16.1v2.49h-16.1zM537.7 191.48h16.1v2.49h-16.1zM537.7 51.40h16.1v2.49h-16.1zM537.7 14.19h16.1v2.49h-16.1zM553.5 202.43h16.1v2.49h-16.1zM553.5 86.42h16.1v2.49h-16.1zM553.5 84.23h16.1v2.49h-16.1zM553.5 71.10h16.1v2.49h-16.1zM553.5 60.16h16.1v2.49h-16.1zM569.3 289.98h16.1v2.49h-16.1zM569.3 287.79h16.1v2.49h-16.1zM569.3 257.15h16.1v2.49h-16.1zM569.3 254.96h16.1v2.49h-16.1zM569.3 248.39h16.1v2.49h-16.1zM569.3 241.82h16.1v2.49h-16.1zM569.3 198.05h16.1v2.49h-16.1zM569.3 193.67h16.1v2.49h-16.1zM569.3 62.35h16.1v2.49h-16.1zM569.3 25.14h16.1v2.49h-16.1zM569.3 20.76h16.1v2.49h-16.1zM585.1 296.54h16.1v2.49h-16.1zM585.1 237.45h16.1v2.49h-16.1zM585.1 233.07h16.1v2.49h-16.1zM585.1 211.18h16.1v2.49h-16.1zM585.1 195.86h16.1v2.49h-16.1zM585.1 25.14h16.1v2.49h-16.1zM585.1 13.10h16.1v1.39h-16.1zM600.9 281.22h16.1v2.49h-16.1zM600.9 219.94h16.1v2.49h-16.1zM600.9 215.56h16.1v2.49h-16.1zM616.7 294.35h16.1v2.49h-16.1zM616.7 219.94h16.1v2.49h-16.1zM616.7 68.91h16.1v2.49h-16.1zM616.7 53.59h16.1v2.49h-16.1zM616.7 51.40h16.1v2.49h-16.1zM632.5 283.41h16.1v2.49h-16.1zM632.5 274.66h16.1v2.49h-16.1zM632.5 211.18h16.1v2.49h-16.1zM632.5 101.74h16.1v2.49h-16.1zM632.5 88.61h16.1v2.49h-16.1zM632.5 66.72h16.1v2.49h-16.1zM632.5 57.97h16.1v2.49h-16.1zM632.5 49.21h16.1v2.49h-16.1zM632.5 44.84h16.1v2.49h-16.1zM632.5 36.08h16.1v2.49h-16.1zM648.3 270.28h16.1v2.49h-16.1zM648.3 244.01h16.1v2.49h-16.1zM648.3 99.56h16.1v2.49h-16.1zM648.3 47.03h16.1v2.49h-16.1zM664.1 248.39h16.1v2.49h-16.1zM664.1 217.75h16.1v2.49h-16.1zM664.1 200.24h16.1v2.49h-16.1zM679.9 300.92h16.1v2.49h-16.1zM679.9 285.60h16.1v2.49h-16.1zM679.9 235.26h16.1v2.49h-16.1zM679.9 222.13h16.1v2.49h-16.1zM679.9 64.54h16.1v2.49h-16.1zM679.9 49.21h16.1v2.49h-16.1zM679.9 47.03h16.1v2.49h-16.1zM679.9 25.14h16.1v2.49h-16.1zM695.7 274.66h16.1v2.49h-16.1zM695.7 272.47h16.1v2.49h-16.1zM695.7 226.50h16.1v2.49h-16.1zM695.7 206.80h16.1v2.49h-16.1zM711.5 281.22h16.1v2.49h-16.1zM711.5 279.03h16.1v2.49h-16.1zM711.5 263.71h16.1v2.49h-16.1zM727.3 22.95h16.1v2.49h-16.1zM743.1 285.60h16.1v2.49h-16.1zM743.1 279.03h16.1v2.49h-16.1zM743.1 252.77h16.1v2.49h-16.1zM743.1 101.74h16.1v2.49h-16.1zM758.9 279.03h16.1v2.49h-16.1zM758.9 274.66h16.1v2.49h-16.1zM758.9 254.96h16.1v2.49h-16.1zM758.9 246.20h16.1v2.49h-16.1zM758.9 13.10h16.1v1.39h-16.1zM774.7 296.54h16.1v2.49h-16.1zM774.7 235.26h16.1v2.49h-16.1zM774.7 233.07h16.1v2.49h-16.1zM774.7 14.19h16.1v2.49h-16.1zM790.5 272.47h16.1v2.49h-16.1zM790.5 241.82h16.1v2.49h-16.1zM790.5 66.72h16.1v2.49h-16.1zM806.3 244.01h9.7v2.49h-9.7z"/>
<path fill="#69130c" d="M119.0 285.60h8.2v2.49h-8.2zM119.0 230.88h8.2v2.49h-8.2zM119.0 95.18h8.2v2.49h-8.2zM119.0 79.86h8.2v2.49h-8.2zM126.9 320.62h16.1v2.49h-16.1zM126.9 294.35h16.1v2.49h-16.1zM126.9 202.43h16.1v2.49h-16.1zM126.9 77.67h16.1v2.49h-16.1zM142.7 292.17h16.1v2.49h-16.1zM142.7 25.14h16.1v2.49h-16.1zM158.5 206.80h16.1v2.49h-16.1zM158.5 18.57h16.1v2.49h-16.1zM174.3 285.60h16.1v2.49h-16.1zM190.1 287.79h16.1v2.49h-16.1zM190.1 211.18h16.1v2.49h-16.1zM205.9 224.31h16.1v2.49h-16.1zM205.9 64.54h16.1v2.49h-16.1zM221.7 77.67h16.1v2.49h-16.1zM221.7 55.78h16.1v2.49h-16.1zM237.5 285.60h16.1v2.49h-16.1zM237.5 281.22h16.1v2.49h-16.1zM237.5 268.09h16.1v2.49h-16.1zM237.5 265.90h16.1v2.49h-16.1zM237.5 64.54h16.1v2.49h-16.1zM253.3 283.41h16.1v2.49h-16.1zM269.1 316.24h16.1v2.49h-16.1zM269.1 283.41h16.1v2.49h-16.1zM269.1 263.71h16.1v2.49h-16.1zM269.1 217.75h16.1v2.49h-16.1zM269.1 82.05h16.1v2.49h-16.1zM269.1 36.08h16.1v2.49h-16.1zM284.9 320.62h16.1v2.49h-16.1zM284.9 292.17h16.1v2.49h-16.1zM284.9 248.39h16.1v2.49h-16.1zM284.9 228.69h16.1v2.49h-16.1zM300.7 279.03h16.1v2.49h-16.1zM300.7 239.64h16.1v2.49h-16.1zM316.5 294.35h16.1v2.49h-16.1zM316.5 268.09h16.1v2.49h-16.1zM316.5 202.43h16.1v2.49h-16.1zM348.1 314.05h16.1v2.49h-16.1zM348.1 298.73h16.1v2.49h-16.1zM348.1 285.60h16.1v2.49h-16.1zM363.9 276.84h16.1v2.49h-16.1zM379.7 276.84h16.1v2.49h-16.1zM379.7 230.88h16.1v2.49h-16.1zM379.7 213.37h16.1v2.49h-16.1zM379.7 195.86h16.1v2.49h-16.1zM395.5 309.68h16.1v2.49h-16.1zM395.5 230.88h16.1v2.49h-16.1zM411.3 294.35h16.1v2.49h-16.1zM411.3 244.01h16.1v2.49h-16.1zM427.1 279.03h16.1v2.49h-16.1zM442.9 296.54h16.1v2.49h-16.1zM442.9 292.17h16.1v2.49h-16.1zM442.9 281.22h16.1v2.49h-16.1zM442.9 217.75h16.1v2.49h-16.1zM458.7 296.54h16.1v2.49h-16.1zM458.7 285.60h16.1v2.49h-16.1zM458.7 226.50h16.1v2.49h-16.1zM458.7 62.35h16.1v2.49h-16.1zM474.5 86.42h16.1v2.49h-16.1zM474.5 60.16h16.1v2.49h-16.1zM474.5 40.46h16.1v2.49h-16.1zM490.3 327.19h16.1v2.49h-16.1zM490.3 300.92h16.1v2.49h-16.1zM490.3 292.17h16.1v2.49h-16.1zM490.3 279.03h16.1v2.49h-16.1zM490.3 272.47h16.1v2.49h-16.1zM490.3 86.42h16.1v2.49h-16.1zM506.1 305.30h16.1v2.49h-16.1zM506.1 303.11h16.1v2.49h-16.1zM506.1 296.54h16.1v2.49h-16.1zM506.1 279.03h16.1v2.49h-16.1zM506.1 217.75h16.1v2.49h-16.1zM506.1 211.18h16.1v2.49h-16.1zM521.9 305.30h16.1v2.49h-16.1zM521.9 279.03h16.1v2.49h-16.1zM521.9 257.15h16.1v2.49h-16.1zM537.7 289.98h16.1v2.49h-16.1zM537.7 233.07h16.1v2.49h-16.1zM553.5 22.95h16.1v2.49h-16.1zM569.3 18.57h16.1v2.49h-16.1zM585.1 281.22h16.1v2.49h-16.1zM585.1 272.47h16.1v2.49h-16.1zM585.1 219.94h16.1v2.49h-16.1zM600.9 303.11h16.1v2.49h-16.1zM600.9 285.60h16.1v2.49h-16.1zM600.9 274.66h16.1v2.49h-16.1zM600.9 222.13h16.1v2.49h-16.1zM616.7 303.11h16.1v2.49h-16.1zM616.7 300.92h16.1v2.49h-16.1zM616.7 233.07h16.1v2.49h-16.1zM616.7 44.84h16.1v2.49h-16.1zM632.5 263.71h16.1v2.49h-16.1zM632.5 230.88h16.1v2.49h-16.1zM632.5 224.31h16.1v2.49h-16.1zM632.5 75.48h16.1v2.49h-16.1zM648.3 254.96h16.1v2.49h-16.1zM648.3 226.50h16.1v2.49h-16.1zM648.3 222.13h16.1v2.49h-16.1zM664.1 331.56h16.1v2.49h-16.1zM664.1 270.28h16.1v2.49h-16.1zM664.1 263.71h16.1v2.49h-16.1zM664.1 254.96h16.1v2.49h-16.1zM664.1 77.67h16.1v2.49h-16.1zM679.9 289.98h16.1v2.49h-16.1zM679.9 268.09h16.1v2.49h-16.1zM679.9 224.31h16.1v2.49h-16.1zM679.9 73.29h16.1v2.49h-16.1zM679.9 55.78h16.1v2.49h-16.1zM695.7 287.79h16.1v2.49h-16.1zM695.7 285.60h16.1v2.49h-16.1zM695.7 283.41h16.1v2.49h-16.1zM711.5 274.66h16.1v2.49h-16.1zM711.5 268.09h16.1v2.49h-16.1zM711.5 75.48h16.1v2.49h-16.1zM727.3 294.35h16.1v2.49h-16.1zM727.3 287.79h16.1v2.49h-16.1zM727.3 276.84h16.1v2.49h-16.1zM727.3 268.09h16.1v2.49h-16.1zM727.3 257.15h16.1v2.49h-16.1zM727.3 108.31h16.1v2.49h-16.1zM727.3 73.29h16.1v2.49h-16.1zM743.1 287.79h16.1v2.49h-16.1zM743.1 276.84h16.1v2.49h-16.1zM743.1 263.71h16.1v2.49h-16.1zM758.9 283.41h16.1v2.49h-16.1zM758.9 257.15h16.1v2.49h-16.1zM774.7 303.11h16.1v2.49h-16.1zM774.7 292.17h16.1v2.49h-16.1zM774.7 287.79h16.1v2.49h-16.1zM774.7 283.41h16.1v2.49h-16.1zM774.7 226.50h16.1v2.49h-16.1zM790.5 270.28h16.1v2.49h-16.1zM790.5 226.50h16.1v2.49h-16.1z"/>
<path fill="#5f130c" d="M119.0 276.84h8.2v2.49h-8.2zM126.9 289.98h16.1v2.49h-16.1zM142.7 316.24h16.1v2.49h-16.1zM142.7 204.62h16.1v2.49h-16.1zM158.5 322.81h16.1v2.49h-16.1zM158.5 311.86h16.1v2.49h-16.1zM205.9 287.79h16.1v2.49h-16.1zM221.7 281.22h16.1v2.49h-16.1zM237.5 77.67h16.1v2.49h-16.1zM269.1 322.81h16.1v2.49h-16.1zM300.7 322.81h16.1v2.49h-16.1zM300.7 318.43h16.1v2.49h-16.1zM300.7 287.79h16.1v2.49h-16.1zM300.7 283.41h16.1v2.49h-16.1zM316.5 322.81h16.1v2.49h-16.1zM332.3 331.56h16.1v2.49h-16.1zM332.3 316.24h16.1v2.49h-16.1zM332.3 314.05h16.1v2.49h-16.1zM348.1 325.00h16.1v2.49h-16.1zM348.1 300.92h16.1v2.49h-16.1zM363.9 318.43h16.1v2.49h-16.1zM363.9 305.30h16.1v2.49h-16.1zM379.7 298.73h16.1v2.49h-16.1zM379.7 294.35h16.1v2.49h-16.1zM379.7 279.03h16.1v2.49h-16.1zM395.5 307.49h16.1v2.49h-16.1zM395.5 294.35h16.1v2.49h-16.1zM411.3 320.62h16.1v2.49h-16.1zM411.3 316.24h16.1v2.49h-16.1zM411.3 265.90h16.1v2.49h-16.1zM427.1 316.24h16.1v2.49h-16.1zM427.1 296.54h16.1v2.49h-16.1zM427.1 248.39h16.1v2.49h-16.1zM427.1 226.50h16.1v2.49h-16.1zM458.7 303.11h16.1v2.49h-16.1zM458.7 298.73h16.1v2.49h-16.1zM458.7 294.35h16.1v2.49h-16.1zM458.7 292.17h16.1v2.49h-16.1zM490.3 285.60h16.1v2.49h-16.1zM506.1 325.00h16.1v2.49h-16.1zM506.1 281.22h16.1v2.49h-16.1zM521.9 303.11h16.1v2.49h-16.1zM521.9 281.22h16.1v2.49h-16.1zM537.7 329.37h16.1v2.49h-16.1zM537.7 327.19h16.1v2.49h-16.1zM553.5 329.37h16.1v2.49h-16.1zM553.5 318.43h16.1v2.49h-16.1zM553.5 300.92h16.1v2.49h-16.1zM569.3 329.37h16.1v2.49h-16.1zM569.3 320.62h16.1v2.49h-16.1zM569.3 281.22h16.1v2.49h-16.1zM585.1 213.37h16.1v2.49h-16.1zM600.9 305.30h16.1v2.49h-16.1zM600.9 276.84h16.1v2.49h-16.1zM616.7 298.73h16.1v2.49h-16.1zM632.5 298.73h16.1v2.49h-16.1zM632.5 289.98h16.1v2.49h-16.1zM632.5 281.22h16.1v2.49h-16.1zM632.5 279.03h16.1v2.49h-16.1zM648.3 287.79h16.1v2.49h-16.1zM648.3 285.60h16.1v2.49h-16.1zM648.3 263.71h16.1v2.49h-16.1zM664.1 311.86h16.1v2.49h-16.1zM664.1 307.49h16.1v2.49h-16.1zM664.1 285.60h16.1v2.49h-16.1zM664.1 265.90h16.1v2.49h-16.1zM679.9 314.05h16.1v2.49h-16.1zM679.9 279.03h16.1v2.49h-16.1zM711.5 318.43h16.1v2.49h-16.1zM711.5 305.30h16.1v2.49h-16.1zM727.3 325.00h16.1v2.49h-16.1zM727.3 316.24h16.1v2.49h-16.1zM743.1 318.43h16.1v2.49h-16.1zM743.1 300.92h16.1v2.49h-16.1zM743.1 294.35h16.1v2.49h-16.1zM743.1 272.47h16.1v2.49h-16.1zM743.1 265.90h16.1v2.49h-16.1zM758.9 300.92h16.1v2.49h-16.1zM774.7 285.60h16.1v2.49h-16.1zM806.3 296.54h9.7v2.49h-9.7zM806.3 289.98h9.7v2.49h-9.7z"/>
<path fill="#76120b" d="M119.0 274.66h8.2v2.49h-8.2zM119.0 204.62h8.2v2.49h-8.2zM119.0 167.41h8.2v2.49h-8.2zM119.0 71.10h8.2v2.49h-8.2zM119.0 66.72h8.2v2.49h-8.2zM119.0 42.65h8.2v2.49h-8.2zM119.0 36.08h8.2v2.49h-8.2zM126.9 265.90h16.1v2.49h-16.1zM126.9 263.71h16.1v2.49h-16.1zM126.9 244.01h16.1v2.49h-16.1zM126.9 226.50h16.1v2.49h-16.1zM126.9 222.13h16.1v2.49h-16.1zM126.9 145.52h16.1v2.49h-16.1zM126.9 90.80h16.1v2.49h-16.1zM126.9 79.86h16.1v2.49h-16.1zM126.9 64.54h16.1v2.49h-16.1zM126.9 51.40h16.1v2.49h-16.1zM142.7 289.98h16.1v2.49h-16.1zM142.7 279.03h16.1v2.49h-16.1zM142.7 53.59h16.1v2.49h-16.1zM142.7 44.84h16.1v2.49h-16.1zM142.7 27.33h16.1v2.49h-16.1zM158.5 279.03h16.1v2.49h-16.1zM158.5 272.47h16.1v2.49h-16.1zM158.5 204.62h16.1v2.49h-16.1zM158.5 189.29h16.1v2.49h-16.1zM158.5 110.50h16.1v2.49h-16.1zM158.5 77.67h16.1v2.49h-16.1zM158.5 40.46h16.1v2.49h-16.1zM158.5 36.08h16.1v2.49h-16.1zM158.5 25.14h16.1v2.49h-16.1zM174.3 276.84h16.1v2.49h-16.1zM174.3 248.39h16.1v2.49h-16.1zM174.3 215.56h16.1v2.49h-16.1zM174.3 211.18h16.1v2.49h-16.1zM174.3 156.46h16.1v2.49h-16.1zM174.3 149.90h16.1v2.49h-16.1zM174.3 147.71h16.1v2.49h-16.1zM174.3 97.37h16.1v2.49h-16.1zM174.3 77.67h16.1v2.49h-16.1zM174.3 60.16h16.1v2.49h-16.1zM174.3 18.57h16.1v2.49h-16.1zM174.3 16.38h16.1v2.49h-16.1zM190.1 274.66h16.1v2.49h-16.1zM190.1 254.96h16.1v2.49h-16.1zM190.1 246.20h16.1v2.49h-16.1zM190.1 101.74h16.1v2.49h-16.1zM190.1 97.37h16.1v2.49h-16.1zM190.1 79.86h16.1v2.49h-16.1zM190.1 60.16h16.1v2.49h-16.1zM190.1 53.59h16.1v2.49h-16.1zM190.1 51.40h16.1v2.49h-16.1zM190.1 42.65h16.1v2.49h-16.1zM190.1 16.38h16.1v2.49h-16.1zM205.9 230.88h16.1v2.49h-16.1zM205.9 200.24h16.1v2.49h-16.1zM205.9 193.67h16.1v2.49h-16.1zM205.9 187.11h16.1v2.49h-16.1zM205.9 180.54h16.1v2.49h-16.1zM205.9 156.46h16.1v2.49h-16.1zM205.9 147.71h16.1v2.49h-16.1zM205.9 112.69h16.1v2.49h-16.1zM205.9 103.93h16.1v2.49h-16.1zM205.9 75.48h16.1v2.49h-16.1zM205.9 68.91h16.1v2.49h-16.1zM205.9 51.40h16.1v2.49h-16.1zM205.9 47.03h16.1v2.49h-16.1zM205.9 44.84h16.1v2.49h-16.1zM205.9 14.19h16.1v2.49h-16.1zM221.7 270.28h16.1v2.49h-16.1zM221.7 204.62h16.1v2.49h-16.1zM221.7 202.43h16.1v2.49h-16.1zM221.7 110.50h16.1v2.49h-16.1zM221.7 66.72h16.1v2.49h-16.1zM221.7 60.16h16.1v2.49h-16.1zM221.7 44.84h16.1v2.49h-16.1zM237.5 274.66h16.1v2.49h-16.1zM237.5 270.28h16.1v2.49h-16.1zM237.5 250.58h16.1v2.49h-16.1zM237.5 241.82h16.1v2.49h-16.1zM237.5 233.07h16.1v2.49h-16.1zM237.5 204.62h16.1v2.49h-16.1zM237.5 114.88h16.1v2.49h-16.1zM253.3 270.28h16.1v2.49h-16.1zM253.3 239.64h16.1v2.49h-16.1zM253.3 156.46h16.1v2.49h-16.1zM253.3 92.99h16.1v2.49h-16.1zM253.3 64.54h16.1v2.49h-16.1zM253.3 47.03h16.1v2.49h-16.1zM269.1 285.60h16.1v2.49h-16.1zM269.1 274.66h16.1v2.49h-16.1zM269.1 252.77h16.1v2.49h-16.1zM269.1 246.20h16.1v2.49h-16.1zM269.1 235.26h16.1v2.49h-16.1zM269.1 211.18h16.1v2.49h-16.1zM269.1 189.29h16.1v2.49h-16.1zM269.1 112.69h16.1v2.49h-16.1zM269.1 77.67h16.1v2.49h-16.1zM269.1 55.78h16.1v2.49h-16.1zM269.1 40.46h16.1v2.49h-16.1zM284.9 287.79h16.1v2.49h-16.1zM284.9 285.60h16.1v2.49h-16.1zM284.9 252.77h16.1v2.49h-16.1zM284.9 250.58h16.1v2.49h-16.1zM284.9 239.64h16.1v2.49h-16.1zM284.9 112.69h16.1v2.49h-16.1zM300.7 270.28h16.1v2.49h-16.1zM300.7 252.77h16.1v2.49h-16.1zM300.7 248.39h16.1v2.49h-16.1zM300.7 235.26h16.1v2.49h-16.1zM300.7 145.52h16.1v2.49h-16.1zM300.7 79.86h16.1v2.49h-16.1zM300.7 57.97h16.1v2.49h-16.1zM300.7 31.70h16.1v2.49h-16.1zM300.7 27.33h16.1v2.49h-16.1zM300.7 22.95h16.1v2.49h-16.1zM300.7 16.38h16.1v2.49h-16.1zM300.7 14.19h16.1v2.49h-16.1zM300.7 13.10h16.1v1.39h-16.1zM316.5 246.20h16.1v2.49h-16.1zM316.5 230.88h16.1v2.49h-16.1zM316.5 219.94h16.1v2.49h-16.1zM316.5 200.24h16.1v2.49h-16.1zM316.5 198.05h16.1v2.49h-16.1zM316.5 90.80h16.1v2.49h-16.1zM316.5 79.86h16.1v2.49h-16.1zM316.5 77.67h16.1v2.49h-16.1zM316.5 36.08h16.1v2.49h-16.1zM316.5 25.14h16.1v2.49h-16.1zM332.3 268.09h16.1v2.49h-16.1zM332.3 265.90h16.1v2.49h-16.1zM332.3 180.54h16.1v2.49h-16.1zM332.3 165.22h16.1v2.49h-16.1zM332.3 156.46h16.1v2.49h-16.1zM332.3 99.56h16.1v2.49h-16.1zM332.3 73.29h16.1v2.49h-16.1zM332.3 71.10h16.1v2.49h-16.1zM332.3 62.35h16.1v2.49h-16.1zM332.3 14.19h16.1v2.49h-16.1zM348.1 270.28h16.1v2.49h-16.1zM348.1 268.09h16.1v2.49h-16.1zM348.1 230.88h16.1v2.49h-16.1zM348.1 222.13h16.1v2.49h-16.1zM348.1 208.99h16.1v2.49h-16.1zM348.1 193.67h16.1v2.49h-16.1zM348.1 167.41h16.1v2.49h-16.1zM348.1 158.65h16.1v2.49h-16.1zM348.1 121.44h16.1v2.49h-16.1zM348.1 79.86h16.1v2.49h-16.1zM348.1 68.91h16.1v2.49h-16.1zM348.1 49.21h16.1v2.49h-16.1zM348.1 18.57h16.1v2.49h-16.1zM363.9 270.28h16.1v2.49h-16.1zM363.9 230.88h16.1v2.49h-16.1zM363.9 211.18h16.1v2.49h-16.1zM363.9 191.48h16.1v2.49h-16.1zM363.9 108.31h16.1v2.49h-16.1zM363.9 88.61h16.1v2.49h-16.1zM363.9 62.35h16.1v2.49h-16.1zM363.9 55.78h16.1v2.49h-16.1zM363.9 42.65h16.1v2.49h-16.1zM363.9 36.08h16.1v2.49h-16.1zM363.9 33.89h16.1v2.49h-16.1zM363.9 27.33h16.1v2.49h-16.1zM379.7 292.17h16.1v2.49h-16.1zM379.7 263.71h16.1v2.49h-16.1zM379.7 193.67h16.1v2.49h-16.1zM395.5 272.47h16.1v2.49h-16.1zM395.5 233.07h16.1v2.49h-16.1zM395.5 224.31h16.1v2.49h-16.1zM395.5 208.99h16.1v2.49h-16.1zM395.5 31.70h16.1v2.49h-16.1zM411.3 204.62h16.1v2.49h-16.1zM411.3 202.43h16.1v2.49h-16.1zM411.3 90.80h16.1v2.49h-16.1zM411.3 51.40h16.1v2.49h-16.1zM411.3 36.08h16.1v2.49h-16.1zM411.3 33.89h16.1v2.49h-16.1zM427.1 289.98h16.1v2.49h-16.1zM427.1 270.28h16.1v2.49h-16.1zM427.1 219.94h16.1v2.49h-16.1zM427.1 213.37h16.1v2.49h-16.1zM427.1 71.10h16.1v2.49h-16.1zM427.1 53.59h16.1v2.49h-16.1zM427.1 36.08h16.1v2.49h-16.1zM442.9 265.90h16.1v2.49h-16.1zM442.9 254.96h16.1v2.49h-16.1zM442.9 195.86h16.1v2.49h-16.1zM442.9 108.31h16.1v2.49h-16.1zM442.9 71.10h16.1v2.49h-16.1zM442.9 31.70h16.1v2.49h-16.1zM458.7 244.01h16.1v2.49h-16.1zM458.7 228.69h16.1v2.49h-16.1zM458.7 86.42h16.1v2.49h-16.1zM458.7 29.52h16.1v2.49h-16.1zM474.5 263.71h16.1v2.49h-16.1zM474.5 254.96h16.1v2.49h-16.1zM474.5 241.82h16.1v2.49h-16.1zM474.5 219.94h16.1v2.49h-16.1zM474.5 217.75h16.1v2.49h-16.1zM474.5 200.24h16.1v2.49h-16.1zM474.5 101.74h16.1v2.49h-16.1zM474.5 90.80h16.1v2.49h-16.1zM474.5 77.67h16.1v2.49h-16.1zM474.5 20.76h16.1v2.49h-16.1zM490.3 265.90h16.1v2.49h-16.1zM490.3 257.15h16.1v2.49h-16.1zM490.3 235.26h16.1v2.49h-16.1zM490.3 217.75h16.1v2.49h-16.1zM490.3 211.18h16.1v2.49h-16.1zM490.3 202.43h16.1v2.49h-16.1zM490.3 198.05h16.1v2.49h-16.1zM490.3 193.67h16.1v2.49h-16.1zM490.3 75.48h16.1v2.49h-16.1zM506.1 276.84h16.1v2.49h-16.1zM506.1 233.07h16.1v2.49h-16.1zM506.1 88.61h16.1v2.49h-16.1zM506.1 84.23h16.1v2.49h-16.1zM506.1 62.35h16.1v2.49h-16.1zM506.1 57.97h16.1v2.49h-16.1zM506.1 55.78h16.1v2.49h-16.1zM506.1 40.46h16.1v2.49h-16.1zM506.1 27.33h16.1v2.49h-16.1zM506.1 20.76h16.1v2.49h-16.1zM521.9 270.28h16.1v2.49h-16.1zM521.9 226.50h16.1v2.49h-16.1zM521.9 222.13h16.1v2.49h-16.1zM521.9 217.75h16.1v2.49h-16.1zM521.9 193.67h16.1v2.49h-16.1zM521.9 77.67h16.1v2.49h-16.1zM521.9 73.29h16.1v2.49h-16.1zM521.9 44.84h16.1v2.49h-16.1zM521.9 27.33h16.1v2.49h-16.1zM521.9 25.14h16.1v2.49h-16.1zM537.7 270.28h16.1v2.49h-16.1zM537.7 206.80h16.1v2.49h-16.1zM537.7 187.11h16.1v2.49h-16.1zM537.7 90.80h16.1v2.49h-16.1zM537.7 62.35h16.1v2.49h-16.1zM537.7 53.59h16.1v2.49h-16.1zM537.7 42.65h16.1v2.49h-16.1zM553.5 239.64h16.1v2.49h-16.1zM553.5 187.11h16.1v2.49h-16.1zM553.5 97.37h16.1v2.49h-16.1zM553.5 75.48h16.1v2.49h-16.1zM553.5 18.57h16.1v2.49h-16.1zM569.3 270.28h16.1v2.49h-16.1zM569.3 239.64h16.1v2.49h-16.1zM569.3 217.75h16.1v2.49h-16.1zM569.3 103.93h16.1v2.49h-16.1zM569.3 99.56h16.1v2.49h-16.1zM569.3 73.29h16.1v2.49h-16.1zM569.3 57.97h16.1v2.49h-16.1zM569.3 49.21h16.1v2.49h-16.1zM569.3 22.95h16.1v2.49h-16.1zM585.1 294.35h16.1v2.49h-16.1zM585.1 259.33h16.1v2.49h-16.1zM585.1 230.88h16.1v2.49h-16.1zM585.1 215.56h16.1v2.49h-16.1zM585.1 38.27h16.1v2.49h-16.1zM585.1 31.70h16.1v2.49h-16.1zM585.1 29.52h16.1v2.49h-16.1zM585.1 22.95h16.1v2.49h-16.1zM600.9 272.47h16.1v2.49h-16.1zM600.9 254.96h16.1v2.49h-16.1zM600.9 248.39h16.1v2.49h-16.1zM600.9 228.69h16.1v2.49h-16.1zM600.9 68.91h16.1v2.49h-16.1zM600.9 60.16h16.1v2.49h-16.1zM616.7 296.54h16.1v2.49h-16.1zM616.7 254.96h16.1v2.49h-16.1zM616.7 228.69h16.1v2.49h-16.1zM616.7 204.62h16.1v2.49h-16.1zM616.7 82.05h16.1v2.49h-16.1zM616.7 75.48h16.1v2.49h-16.1zM616.7 66.72h16.1v2.49h-16.1zM632.5 252.77h16.1v2.49h-16.1zM632.5 244.01h16.1v2.49h-16.1zM632.5 233.07h16.1v2.49h-16.1zM632.5 217.75h16.1v2.49h-16.1zM632.5 90.80h16.1v2.49h-16.1zM632.5 79.86h16.1v2.49h-16.1zM632.5 14.19h16.1v2.49h-16.1zM648.3 252.77h16.1v2.49h-16.1zM648.3 213.37h16.1v2.49h-16.1zM648.3 90.80h16.1v2.49h-16.1zM648.3 55.78h16.1v2.49h-16.1zM648.3 51.40h16.1v2.49h-16.1zM664.1 239.64h16.1v2.49h-16.1zM664.1 219.94h16.1v2.49h-16.1zM664.1 211.18h16.1v2.49h-16.1zM664.1 99.56h16.1v2.49h-16.1zM664.1 64.54h16.1v2.49h-16.1zM664.1 55.78h16.1v2.49h-16.1zM664.1 47.03h16.1v2.49h-16.1zM664.1 33.89h16.1v2.49h-16.1zM664.1 18.57h16.1v2.49h-16.1zM664.1 16.38h16.1v2.49h-16.1zM679.9 206.80h16.1v2.49h-16.1zM679.9 202.43h16.1v2.49h-16.1zM679.9 200.24h16.1v2.49h-16.1zM695.7 270.28h16.1v2.49h-16.1zM695.7 268.09h16.1v2.49h-16.1zM695.7 230.88h16.1v2.49h-16.1zM695.7 224.31h16.1v2.49h-16.1zM695.7 222.13h16.1v2.49h-16.1zM695.7 204.62h16.1v2.49h-16.1zM695.7 73.29h16.1v2.49h-16.1zM695.7 66.72h16.1v2.49h-16.1zM695.7 49.21h16.1v2.49h-16.1zM711.5 252.77h16.1v2.49h-16.1zM711.5 112.69h16.1v2.49h-16.1zM711.5 47.03h16.1v2.49h-16.1zM727.3 254.96h16.1v2.49h-16.1zM727.3 252.77h16.1v2.49h-16.1zM727.3 244.01h16.1v2.49h-16.1zM727.3 101.74h16.1v2.49h-16.1zM727.3 79.86h16.1v2.49h-16.1zM727.3 75.48h16.1v2.49h-16.1zM727.3 20.76h16.1v2.49h-16.1zM727.3 14.19h16.1v2.49h-16.1zM743.1 289.98h16.1v2.49h-16.1zM743.1 250.58h16.1v2.49h-16.1zM743.1 248.39h16.1v2.49h-16.1zM743.1 246.20h16.1v2.49h-16.1zM743.1 239.64h16.1v2.49h-16.1zM743.1 110.50h16.1v2.49h-16.1zM758.9 265.90h16.1v2.49h-16.1zM758.9 237.45h16.1v2.49h-16.1zM758.9 226.50h16.1v2.49h-16.1zM758.9 99.56h16.1v2.49h-16.1zM758.9 16.38h16.1v2.49h-16.1zM774.7 239.64h16.1v2.49h-16.1zM774.7 230.88h16.1v2.49h-16.1zM774.7 86.42h16.1v2.49h-16.1zM774.7 73.29h16.1v2.49h-16.1zM774.7 71.10h16.1v2.49h-16.1zM774.7 53.59h16.1v2.49h-16.1zM790.5 224.31h16.1v2.49h-16.1zM790.5 99.56h16.1v2.49h-16.1zM790.5 95.18h16.1v2.49h-16.1zM790.5 79.86h16.1v2.49h-16.1zM790.5 77.67h16.1v2.49h-16.1zM790.5 60.16h16.1v2.49h-16.1zM806.3 270.28h9.7v2.49h-9.7zM806.3 248.39h9.7v2.49h-9.7zM806.3 226.50h9.7v2.49h-9.7zM806.3 92.99h9.7v2.49h-9.7zM806.3 73.29h9.7v2.49h-9.7zM806.3 20.76h9.7v2.49h-9.7z"/>
<path fill="#81120b" d="M119.0 272.47h8.2v2.49h-8.2zM119.0 270.28h8.2v2.49h-8.2zM119.0 265.90h8.2v2.49h-8.2zM119.0 211.18h8.2v2.49h-8.2zM119.0 208.99h8.2v2.49h-8.2zM119.0 193.67h8.2v2.49h-8.2zM119.0 182.73h8.2v2.49h-8.2zM119.0 138.95h8.2v2.49h-8.2zM119.0 128.01h8.2v2.49h-8.2zM119.0 64.54h8.2v2.49h-8.2zM119.0 47.03h8.2v2.49h-8.2zM119.0 27.33h8.2v2.49h-8.2zM119.0 25.14h8.2v2.49h-8.2zM126.9 254.96h16.1v2.49h-16.1zM126.9 235.26h16.1v2.49h-16.1zM126.9 191.48h16.1v2.49h-16.1zM126.9 189.29h16.1v2.49h-16.1zM126.9 182.73h16.1v2.49h-16.1zM126.9 123.63h16.1v2.49h-16.1zM126.9 121.44h16.1v2.49h-16.1zM126.9 86.42h16.1v2.49h-16.1zM126.9 84.23h16.1v2.49h-16.1zM126.9 66.72h16.1v2.49h-16.1zM126.9 62.35h16.1v2.49h-16.1zM126.9 36.08h16.1v2.49h-16.1zM126.9 33.89h16.1v2.49h-16.1zM142.7 193.67h16.1v2.49h-16.1zM142.7 191.48h16.1v2.49h-16.1zM142.7 66.72h16.1v2.49h-16.1zM142.7 47.03h16.1v2.49h-16.1zM142.7 38.27h16.1v2.49h-16.1zM142.7 36.08h16.1v2.49h-16.1zM158.5 259.33h16.1v2.49h-16.1zM158.5 228.69h16.1v2.49h-16.1zM158.5 222.13h16.1v2.49h-16.1zM158.5 211.18h16.1v2.49h-16.1zM158.5 187.11h16.1v2.49h-16.1zM158.5 169.60h16.1v2.49h-16.1zM158.5 158.65h16.1v2.49h-16.1zM158.5 132.39h16.1v2.49h-16.1zM158.5 114.88h16.1v2.49h-16.1zM158.5 75.48h16.1v2.49h-16.1zM174.3 233.07h16.1v2.49h-16.1zM174.3 213.37h16.1v2.49h-16.1zM174.3 189.29h16.1v2.49h-16.1zM174.3 108.31h16.1v2.49h-16.1zM174.3 103.93h16.1v2.49h-16.1zM174.3 95.18h16.1v2.49h-16.1zM174.3 75.48h16.1v2.49h-16.1zM174.3 49.21h16.1v2.49h-16.1zM174.3 47.03h16.1v2.49h-16.1zM174.3 42.65h16.1v2.49h-16.1zM174.3 22.95h16.1v2.49h-16.1zM190.1 272.47h16.1v2.49h-16.1zM190.1 239.64h16.1v2.49h-16.1zM190.1 206.80h16.1v2.49h-16.1zM190.1 143.33h16.1v2.49h-16.1zM190.1 114.88h16.1v2.49h-16.1zM190.1 103.93h16.1v2.49h-16.1zM190.1 55.78h16.1v2.49h-16.1zM190.1 36.08h16.1v2.49h-16.1zM205.9 268.09h16.1v2.49h-16.1zM205.9 250.58h16.1v2.49h-16.1zM205.9 235.26h16.1v2.49h-16.1zM205.9 233.07h16.1v2.49h-16.1zM205.9 228.69h16.1v2.49h-16.1zM205.9 213.37h16.1v2.49h-16.1zM205.9 171.78h16.1v2.49h-16.1zM205.9 138.95h16.1v2.49h-16.1zM205.9 97.37h16.1v2.49h-16.1zM205.9 31.70h16.1v2.49h-16.1zM221.7 276.84h16.1v2.49h-16.1zM221.7 272.47h16.1v2.49h-16.1zM221.7 187.11h16.1v2.49h-16.1zM221.7 182.73h16.1v2.49h-16.1zM221.7 149.90h16.1v2.49h-16.1zM221.7 123.63h16.1v2.49h-16.1zM221.7 86.42h16.1v2.49h-16.1zM221.7 73.29h16.1v2.49h-16.1zM221.7 57.97h16.1v2.49h-16.1zM221.7 20.76h16.1v2.49h-16.1zM221.7 13.10h16.1v1.39h-16.1zM237.5 178.35h16.1v2.49h-16.1zM237.5 169.60h16.1v2.49h-16.1zM237.5 167.41h16.1v2.49h-16.1zM237.5 132.39h16.1v2.49h-16.1zM237.5 121.44h16.1v2.49h-16.1zM237.5 97.37h16.1v2.49h-16.1zM237.5 60.16h16.1v2.49h-16.1zM237.5 55.78h16.1v2.49h-16.1zM237.5 47.03h16.1v2.49h-16.1zM253.3 272.47h16.1v2.49h-16.1zM253.3 257.15h16.1v2.49h-16.1zM253.3 241.82h16.1v2.49h-16.1zM253.3 237.45h16.1v2.49h-16.1zM253.3 226.50h16.1v2.49h-16.1zM253.3 219.94h16.1v2.49h-16.1zM253.3 211.18h16.1v2.49h-16.1zM253.3 206.80h16.1v2.49h-16.1zM253.3 189.29h16.1v2.49h-16.1zM253.3 184.92h16.1v2.49h-16.1zM253.3 141.14h16.1v2.49h-16.1zM253.3 95.18h16.1v2.49h-16.1zM253.3 90.80h16.1v2.49h-16.1zM253.3 79.86h16.1v2.49h-16.1zM253.3 71.10h16.1v2.49h-16.1zM253.3 40.46h16.1v2.49h-16.1zM253.3 29.52h16.1v2.49h-16.1zM269.1 202.43h16.1v2.49h-16.1zM269.1 191.48h16.1v2.49h-16.1zM269.1 167.41h16.1v2.49h-16.1zM269.1 92.99h16.1v2.49h-16.1zM269.1 86.42h16.1v2.49h-16.1zM269.1 71.10h16.1v2.49h-16.1zM269.1 60.16h16.1v2.49h-16.1zM284.9 274.66h16.1v2.49h-16.1zM284.9 213.37h16.1v2.49h-16.1zM284.9 182.73h16.1v2.49h-16.1zM284.9 167.41h16.1v2.49h-16.1zM284.9 160.84h16.1v2.49h-16.1zM284.9 117.07h16.1v2.49h-16.1zM284.9 86.42h16.1v2.49h-16.1zM284.9 68.91h16.1v2.49h-16.1zM284.9 51.40h16.1v2.49h-16.1zM300.7 263.71h16.1v2.49h-16.1zM300.7 230.88h16.1v2.49h-16.1zM300.7 200.24h16.1v2.49h-16.1zM300.7 176.16h16.1v2.49h-16.1zM300.7 154.27h16.1v2.49h-16.1zM300.7 147.71h16.1v2.49h-16.1zM300.7 136.76h16.1v2.49h-16.1zM300.7 132.39h16.1v2.49h-16.1zM300.7 125.82h16.1v2.49h-16.1zM300.7 99.56h16.1v2.49h-16.1zM300.7 60.16h16.1v2.49h-16.1zM300.7 49.21h16.1v2.49h-16.1zM316.5 254.96h16.1v2.49h-16.1zM316.5 244.01h16.1v2.49h-16.1zM316.5 217.75h16.1v2.49h-16.1zM316.5 187.11h16.1v2.49h-16.1zM316.5 138.95h16.1v2.49h-16.1zM316.5 112.69h16.1v2.49h-16.1zM316.5 71.10h16.1v2.49h-16.1zM316.5 68.91h16.1v2.49h-16.1zM332.3 272.47h16.1v2.49h-16.1zM332.3 254.96h16.1v2.49h-16.1zM332.3 244.01h16.1v2.49h-16.1zM332.3 195.86h16.1v2.49h-16.1zM332.3 167.41h16.1v2.49h-16.1zM332.3 143.33h16.1v2.49h-16.1zM332.3 13.10h16.1v1.39h-16.1zM348.1 274.66h16.1v2.49h-16.1zM348.1 254.96h16.1v2.49h-16.1zM348.1 217.75h16.1v2.49h-16.1zM348.1 191.48h16.1v2.49h-16.1zM348.1 77.67h16.1v2.49h-16.1zM348.1 38.27h16.1v2.49h-16.1zM348.1 25.14h16.1v2.49h-16.1zM363.9 292.17h16.1v2.49h-16.1zM363.9 263.71h16.1v2.49h-16.1zM363.9 246.20h16.1v2.49h-16.1zM363.9 235.26h16.1v2.49h-16.1zM363.9 206.80h16.1v2.49h-16.1zM363.9 169.60h16.1v2.49h-16.1zM363.9 158.65h16.1v2.49h-16.1zM363.9 145.52h16.1v2.49h-16.1zM363.9 75.48h16.1v2.49h-16.1zM363.9 73.29h16.1v2.49h-16.1zM363.9 13.10h16.1v1.39h-16.1zM379.7 189.29h16.1v2.49h-16.1zM379.7 154.27h16.1v2.49h-16.1zM379.7 147.71h16.1v2.49h-16.1zM379.7 66.72h16.1v2.49h-16.1zM379.7 42.65h16.1v2.49h-16.1zM379.7 36.08h16.1v2.49h-16.1zM379.7 16.38h16.1v2.49h-16.1zM395.5 252.77h16.1v2.49h-16.1zM395.5 237.45h16.1v2.49h-16.1zM395.5 222.13h16.1v2.49h-16.1zM395.5 198.05h16.1v2.49h-16.1zM395.5 193.67h16.1v2.49h-16.1zM395.5 184.92h16.1v2.49h-16.1zM395.5 125.82h16.1v2.49h-16.1zM395.5 123.63h16.1v2.49h-16.1zM395.5 60.16h16.1v2.49h-16.1zM395.5 53.59h16.1v2.49h-16.1zM395.5 42.65h16.1v2.49h-16.1zM411.3 241.82h16.1v2.49h-16.1zM411.3 239.64h16.1v2.49h-16.1zM411.3 237.45h16.1v2.49h-16.1zM411.3 193.67h16.1v2.49h-16.1zM411.3 187.11h16.1v2.49h-16.1zM411.3 55.78h16.1v2.49h-16.1zM411.3 47.03h16.1v2.49h-16.1zM411.3 31.70h16.1v2.49h-16.1zM427.1 259.33h16.1v2.49h-16.1zM427.1 244.01h16.1v2.49h-16.1zM427.1 230.88h16.1v2.49h-16.1zM427.1 222.13h16.1v2.49h-16.1zM427.1 202.43h16.1v2.49h-16.1zM427.1 90.80h16.1v2.49h-16.1zM427.1 68.91h16.1v2.49h-16.1zM427.1 57.97h16.1v2.49h-16.1zM427.1 44.84h16.1v2.49h-16.1zM427.1 31.70h16.1v2.49h-16.1zM442.9 246.20h16.1v2.49h-16.1zM442.9 237.45h16.1v2.49h-16.1zM442.9 187.11h16.1v2.49h-16.1zM442.9 110.50h16.1v2.49h-16.1zM442.9 90.80h16.1v2.49h-16.1zM442.9 88.61h16.1v2.49h-16.1zM442.9 51.40h16.1v2.49h-16.1zM442.9 44.84h16.1v2.49h-16.1zM442.9 40.46h16.1v2.49h-16.1zM442.9 38.27h16.1v2.49h-16.1zM458.7 248.39h16.1v2.49h-16.1zM458.7 246.20h16.1v2.49h-16.1zM458.7 233.07h16.1v2.49h-16.1zM458.7 224.31h16.1v2.49h-16.1zM458.7 84.23h16.1v2.49h-16.1zM458.7 53.59h16.1v2.49h-16.1zM458.7 49.21h16.1v2.49h-16.1zM458.7 14.19h16.1v2.49h-16.1zM474.5 289.98h16.1v2.49h-16.1zM474.5 283.41h16.1v2.49h-16.1zM474.5 248.39h16.1v2.49h-16.1zM474.5 246.20h16.1v2.49h-16.1zM474.5 244.01h16.1v2.49h-16.1zM474.5 206.80h16.1v2.49h-16.1zM474.5 189.29h16.1v2.49h-16.1zM474.5 82.05h16.1v2.49h-16.1zM474.5 57.97h16.1v2.49h-16.1zM474.5 33.89h16.1v2.49h-16.1zM474.5 25.14h16.1v2.49h-16.1zM490.3 248.39h16.1v2.49h-16.1zM490.3 239.64h16.1v2.49h-16.1zM490.3 226.50h16.1v2.49h-16.1zM490.3 171.78h16.1v2.49h-16.1zM490.3 132.39h16.1v2.49h-16.1zM490.3 55.78h16.1v2.49h-16.1zM490.3 47.03h16.1v2.49h-16.1zM506.1 263.71h16.1v2.49h-16.1zM506.1 254.96h16.1v2.49h-16.1zM506.1 250.58h16.1v2.49h-16.1zM506.1 226.50h16.1v2.49h-16.1zM506.1 193.67h16.1v2.49h-16.1zM506.1 123.63h16.1v2.49h-16.1zM506.1 99.56h16.1v2.49h-16.1zM506.1 44.84h16.1v2.49h-16.1zM506.1 36.08h16.1v2.49h-16.1zM506.1 29.52h16.1v2.49h-16.1zM521.9 259.33h16.1v2.49h-16.1zM521.9 248.39h16.1v2.49h-16.1zM521.9 211.18h16.1v2.49h-16.1zM521.9 97.37h16.1v2.49h-16.1zM521.9 84.23h16.1v2.49h-16.1zM521.9 38.27h16.1v2.49h-16.1zM521.9 18.57h16.1v2.49h-16.1zM537.7 193.67h16.1v2.49h-16.1zM537.7 176.16h16.1v2.49h-16.1zM537.7 108.31h16.1v2.49h-16.1zM537.7 97.37h16.1v2.49h-16.1zM537.7 95.18h16.1v2.49h-16.1zM537.7 84.23h16.1v2.49h-16.1zM537.7 77.67h16.1v2.49h-16.1zM537.7 66.72h16.1v2.49h-16.1zM537.7 40.46h16.1v2.49h-16.1zM537.7 33.89h16.1v2.49h-16.1zM553.5 272.47h16.1v2.49h-16.1zM553.5 252.77h16.1v2.49h-16.1zM553.5 237.45h16.1v2.49h-16.1zM553.5 228.69h16.1v2.49h-16.1zM553.5 215.56h16.1v2.49h-16.1zM553.5 99.56h16.1v2.49h-16.1zM553.5 57.97h16.1v2.49h-16.1zM553.5 49.21h16.1v2.49h-16.1zM553.5 31.70h16.1v2.49h-16.1zM553.5 16.38h16.1v2.49h-16.1zM569.3 263.71h16.1v2.49h-16.1zM569.3 261.52h16.1v2.49h-16.1zM569.3 250.58h16.1v2.49h-16.1zM569.3 226.50h16.1v2.49h-16.1zM569.3 206.80h16.1v2.49h-16.1zM569.3 184.92h16.1v2.49h-16.1zM569.3 112.69h16.1v2.49h-16.1zM569.3 77.67h16.1v2.49h-16.1zM569.3 60.16h16.1v2.49h-16.1zM569.3 33.89h16.1v2.49h-16.1zM585.1 252.77h16.1v2.49h-16.1zM585.1 241.82h16.1v2.49h-16.1zM585.1 239.64h16.1v2.49h-16.1zM585.1 88.61h16.1v2.49h-16.1zM585.1 84.23h16.1v2.49h-16.1zM585.1 71.10h16.1v2.49h-16.1zM585.1 33.89h16.1v2.49h-16.1zM600.9 261.52h16.1v2.49h-16.1zM600.9 202.43h16.1v2.49h-16.1zM600.9 195.86h16.1v2.49h-16.1zM600.9 193.67h16.1v2.49h-16.1zM600.9 101.74h16.1v2.49h-16.1zM600.9 88.61h16.1v2.49h-16.1zM600.9 57.97h16.1v2.49h-16.1zM600.9 31.70h16.1v2.49h-16.1zM616.7 283.41h16.1v2.49h-16.1zM616.7 272.47h16.1v2.49h-16.1zM616.7 252.77h16.1v2.49h-16.1zM616.7 222.13h16.1v2.49h-16.1zM616.7 217.75h16.1v2.49h-16.1zM616.7 77.67h16.1v2.49h-16.1zM632.5 272.47h16.1v2.49h-16.1zM632.5 259.33h16.1v2.49h-16.1zM632.5 235.26h16.1v2.49h-16.1zM632.5 200.24h16.1v2.49h-16.1zM632.5 108.31h16.1v2.49h-16.1zM632.5 84.23h16.1v2.49h-16.1zM632.5 38.27h16.1v2.49h-16.1zM648.3 250.58h16.1v2.49h-16.1zM648.3 235.26h16.1v2.49h-16.1zM648.3 215.56h16.1v2.49h-16.1zM648.3 184.92h16.1v2.49h-16.1zM648.3 108.31h16.1v2.49h-16.1zM664.1 112.69h16.1v2.49h-16.1zM664.1 71.10h16.1v2.49h-16.1zM664.1 62.35h16.1v2.49h-16.1zM664.1 49.21h16.1v2.49h-16.1zM679.9 263.71h16.1v2.49h-16.1zM679.9 261.52h16.1v2.49h-16.1zM679.9 248.39h16.1v2.49h-16.1zM679.9 233.07h16.1v2.49h-16.1zM679.9 57.97h16.1v2.49h-16.1zM679.9 20.76h16.1v2.49h-16.1zM695.7 265.90h16.1v2.49h-16.1zM695.7 248.39h16.1v2.49h-16.1zM695.7 244.01h16.1v2.49h-16.1zM695.7 215.56h16.1v2.49h-16.1zM695.7 90.80h16.1v2.49h-16.1zM695.7 79.86h16.1v2.49h-16.1zM695.7 53.59h16.1v2.49h-16.1zM695.7 42.65h16.1v2.49h-16.1zM695.7 36.08h16.1v2.49h-16.1zM695.7 22.95h16.1v2.49h-16.1zM711.5 261.52h16.1v2.49h-16.1zM711.5 237.45h16.1v2.49h-16.1zM711.5 224.31h16.1v2.49h-16.1zM711.5 99.56h16.1v2.49h-16.1zM711.5 90.80h16.1v2.49h-16.1zM711.5 33.89h16.1v2.49h-16.1zM711.5 22.95h16.1v2.49h-16.1zM711.5 14.19h16.1v2.49h-16.1zM711.5 13.10h16.1v1.39h-16.1zM727.3 241.82h16.1v2.49h-16.1zM727.3 239.64h16.1v2.49h-16.1zM727.3 84.23h16.1v2.49h-16.1zM727.3 51.40h16.1v2.49h-16.1zM727.3 27.33h16.1v2.49h-16.1zM743.1 244.01h16.1v2.49h-16.1zM743.1 226.50h16.1v2.49h-16.1zM743.1 95.18h16.1v2.49h-16.1zM743.1 86.42h16.1v2.49h-16.1zM758.9 261.52h16.1v2.49h-16.1zM758.9 222.13h16.1v2.49h-16.1zM758.9 108.31h16.1v2.49h-16.1zM758.9 90.80h16.1v2.49h-16.1zM758.9 88.61h16.1v2.49h-16.1zM758.9 86.42h16.1v2.49h-16.1zM758.9 73.29h16.1v2.49h-16.1zM774.7 265.90h16.1v2.49h-16.1zM774.7 254.96h16.1v2.49h-16.1zM774.7 248.39h16.1v2.49h-16.1zM774.7 224.31h16.1v2.49h-16.1zM774.7 95.18h16.1v2.49h-16.1zM790.5 108.31h16.1v2.49h-16.1zM790.5 97.37h16.1v2.49h-16.1zM790.5 75.48h16.1v2.49h-16.1zM790.5 20.76h16.1v2.49h-16.1zM806.3 224.31h9.7v2.49h-9.7zM806.3 68.91h9.7v2.49h-9.7zM806.3 62.35h9.7v2.49h-9.7z"/>
<path fill="#74120b" d="M119.0 263.71h8.2v2.49h-8.2zM119.0 213.37h8.2v2.49h-8.2zM119.0 200.24h8.2v2.49h-8.2zM126.9 230.88h16.1v2.49h-16.1zM126.9 219.94h16.1v2.49h-16.1zM126.9 206.80h16.1v2.49h-16.1zM126.9 82.05h16.1v2.49h-16.1zM126.9 40.46h16.1v2.49h-16.1zM126.9 38.27h16.1v2.49h-16.1zM142.7 287.79h16.1v2.49h-16.1zM142.7 254.96h16.1v2.49h-16.1zM142.7 219.94h16.1v2.49h-16.1zM142.7 198.05h16.1v2.49h-16.1zM142.7 195.86h16.1v2.49h-16.1zM142.7 18.57h16.1v2.49h-16.1zM142.7 14.19h16.1v2.49h-16.1zM158.5 263.71h16.1v2.49h-16.1zM158.5 44.84h16.1v2.49h-16.1zM158.5 16.38h16.1v2.49h-16.1zM174.3 289.98h16.1v2.49h-16.1zM174.3 274.66h16.1v2.49h-16.1zM174.3 270.28h16.1v2.49h-16.1zM174.3 259.33h16.1v2.49h-16.1zM174.3 254.96h16.1v2.49h-16.1zM174.3 217.75h16.1v2.49h-16.1zM174.3 68.91h16.1v2.49h-16.1zM174.3 13.10h16.1v1.39h-16.1zM190.1 257.15h16.1v2.49h-16.1zM190.1 235.26h16.1v2.49h-16.1zM190.1 224.31h16.1v2.49h-16.1zM190.1 198.05h16.1v2.49h-16.1zM190.1 187.11h16.1v2.49h-16.1zM190.1 184.92h16.1v2.49h-16.1zM190.1 138.95h16.1v2.49h-16.1zM190.1 123.63h16.1v2.49h-16.1zM190.1 68.91h16.1v2.49h-16.1zM190.1 62.35h16.1v2.49h-16.1zM205.9 276.84h16.1v2.49h-16.1zM205.9 149.90h16.1v2.49h-16.1zM205.9 62.35h16.1v2.49h-16.1zM205.9 53.59h16.1v2.49h-16.1zM205.9 18.57h16.1v2.49h-16.1zM221.7 263.71h16.1v2.49h-16.1zM221.7 75.48h16.1v2.49h-16.1zM221.7 16.38h16.1v2.49h-16.1zM237.5 276.84h16.1v2.49h-16.1zM237.5 248.39h16.1v2.49h-16.1zM237.5 79.86h16.1v2.49h-16.1zM237.5 73.29h16.1v2.49h-16.1zM237.5 49.21h16.1v2.49h-16.1zM237.5 18.57h16.1v2.49h-16.1zM253.3 263.71h16.1v2.49h-16.1zM253.3 261.52h16.1v2.49h-16.1zM253.3 233.07h16.1v2.49h-16.1zM253.3 112.69h16.1v2.49h-16.1zM253.3 97.37h16.1v2.49h-16.1zM253.3 73.29h16.1v2.49h-16.1zM253.3 68.91h16.1v2.49h-16.1zM269.1 276.84h16.1v2.49h-16.1zM269.1 237.45h16.1v2.49h-16.1zM269.1 230.88h16.1v2.49h-16.1zM269.1 222.13h16.1v2.49h-16.1zM269.1 53.59h16.1v2.49h-16.1zM269.1 42.65h16.1v2.49h-16.1zM269.1 33.89h16.1v2.49h-16.1zM269.1 31.70h16.1v2.49h-16.1zM284.9 279.03h16.1v2.49h-16.1zM284.9 235.26h16.1v2.49h-16.1zM284.9 193.67h16.1v2.49h-16.1zM284.9 79.86h16.1v2.49h-16.1zM284.9 77.67h16.1v2.49h-16.1zM284.9 66.72h16.1v2.49h-16.1zM284.9 29.52h16.1v2.49h-16.1zM284.9 20.76h16.1v2.49h-16.1zM300.7 246.20h16.1v2.49h-16.1zM300.7 77.67h16.1v2.49h-16.1zM300.7 66.72h16.1v2.49h-16.1zM300.7 20.76h16.1v2.49h-16.1zM316.5 285.60h16.1v2.49h-16.1zM316.5 270.28h16.1v2.49h-16.1zM316.5 257.15h16.1v2.49h-16.1zM316.5 228.69h16.1v2.49h-16.1zM316.5 224.31h16.1v2.49h-16.1zM316.5 86.42h16.1v2.49h-16.1zM316.5 82.05h16.1v2.49h-16.1zM316.5 75.48h16.1v2.49h-16.1zM316.5 64.54h16.1v2.49h-16.1zM332.3 276.84h16.1v2.49h-16.1zM332.3 259.33h16.1v2.49h-16.1zM332.3 239.64h16.1v2.49h-16.1zM332.3 213.37h16.1v2.49h-16.1zM332.3 211.18h16.1v2.49h-16.1zM332.3 138.95h16.1v2.49h-16.1zM332.3 27.33h16.1v2.49h-16.1zM332.3 22.95h16.1v2.49h-16.1zM348.1 276.84h16.1v2.49h-16.1zM348.1 246.20h16.1v2.49h-16.1zM348.1 233.07h16.1v2.49h-16.1zM348.1 73.29h16.1v2.49h-16.1zM348.1 60.16h16.1v2.49h-16.1zM363.9 303.11h16.1v2.49h-16.1zM363.9 285.60h16.1v2.49h-16.1zM363.9 268.09h16.1v2.49h-16.1zM363.9 244.01h16.1v2.49h-16.1zM363.9 228.69h16.1v2.49h-16.1zM363.9 213.37h16.1v2.49h-16.1zM363.9 200.24h16.1v2.49h-16.1zM363.9 156.46h16.1v2.49h-16.1zM363.9 51.40h16.1v2.49h-16.1zM363.9 44.84h16.1v2.49h-16.1zM363.9 40.46h16.1v2.49h-16.1zM363.9 38.27h16.1v2.49h-16.1zM363.9 14.19h16.1v2.49h-16.1zM379.7 268.09h16.1v2.49h-16.1zM379.7 228.69h16.1v2.49h-16.1zM379.7 217.75h16.1v2.49h-16.1zM379.7 204.62h16.1v2.49h-16.1zM379.7 202.43h16.1v2.49h-16.1zM379.7 60.16h16.1v2.49h-16.1zM379.7 14.19h16.1v2.49h-16.1zM379.7 13.10h16.1v1.39h-16.1zM395.5 289.98h16.1v2.49h-16.1zM395.5 274.66h16.1v2.49h-16.1zM395.5 248.39h16.1v2.49h-16.1zM395.5 244.01h16.1v2.49h-16.1zM395.5 235.26h16.1v2.49h-16.1zM395.5 228.69h16.1v2.49h-16.1zM395.5 187.11h16.1v2.49h-16.1zM395.5 66.72h16.1v2.49h-16.1zM395.5 62.35h16.1v2.49h-16.1zM395.5 29.52h16.1v2.49h-16.1zM411.3 257.15h16.1v2.49h-16.1zM411.3 246.20h16.1v2.49h-16.1zM411.3 217.75h16.1v2.49h-16.1zM411.3 200.24h16.1v2.49h-16.1zM411.3 16.38h16.1v2.49h-16.1zM427.1 276.84h16.1v2.49h-16.1zM427.1 261.52h16.1v2.49h-16.1zM427.1 257.15h16.1v2.49h-16.1zM427.1 228.69h16.1v2.49h-16.1zM427.1 193.67h16.1v2.49h-16.1zM427.1 180.54h16.1v2.49h-16.1zM427.1 110.50h16.1v2.49h-16.1zM427.1 73.29h16.1v2.49h-16.1zM427.1 27.33h16.1v2.49h-16.1zM427.1 22.95h16.1v2.49h-16.1zM427.1 16.38h16.1v2.49h-16.1zM442.9 274.66h16.1v2.49h-16.1zM442.9 241.82h16.1v2.49h-16.1zM442.9 222.13h16.1v2.49h-16.1zM442.9 97.37h16.1v2.49h-16.1zM442.9 86.42h16.1v2.49h-16.1zM442.9 75.48h16.1v2.49h-16.1zM442.9 66.72h16.1v2.49h-16.1zM458.7 289.98h16.1v2.49h-16.1zM458.7 268.09h16.1v2.49h-16.1zM458.7 263.71h16.1v2.49h-16.1zM458.7 222.13h16.1v2.49h-16.1zM458.7 204.62h16.1v2.49h-16.1zM458.7 195.86h16.1v2.49h-16.1zM458.7 64.54h16.1v2.49h-16.1zM458.7 44.84h16.1v2.49h-16.1zM458.7 40.46h16.1v2.49h-16.1zM458.7 13.10h16.1v1.39h-16.1zM474.5 226.50h16.1v2.49h-16.1zM474.5 211.18h16.1v2.49h-16.1zM474.5 208.99h16.1v2.49h-16.1zM474.5 202.43h16.1v2.49h-16.1zM474.5 193.67h16.1v2.49h-16.1zM474.5 75.48h16.1v2.49h-16.1zM474.5 71.10h16.1v2.49h-16.1zM474.5 22.95h16.1v2.49h-16.1zM490.3 254.96h16.1v2.49h-16.1zM490.3 237.45h16.1v2.49h-16.1zM490.3 82.05h16.1v2.49h-16.1zM490.3 68.91h16.1v2.49h-16.1zM490.3 20.76h16.1v2.49h-16.1zM506.1 289.98h16.1v2.49h-16.1zM506.1 208.99h16.1v2.49h-16.1zM506.1 73.29h16.1v2.49h-16.1zM506.1 64.54h16.1v2.49h-16.1zM506.1 51.40h16.1v2.49h-16.1zM506.1 25.14h16.1v2.49h-16.1zM521.9 272.47h16.1v2.49h-16.1zM521.9 254.96h16.1v2.49h-16.1zM521.9 235.26h16.1v2.49h-16.1zM521.9 191.48h16.1v2.49h-16.1zM521.9 82.05h16.1v2.49h-16.1zM521.9 71.10h16.1v2.49h-16.1zM521.9 53.59h16.1v2.49h-16.1zM537.7 274.66h16.1v2.49h-16.1zM537.7 250.58h16.1v2.49h-16.1zM537.7 198.05h16.1v2.49h-16.1zM537.7 195.86h16.1v2.49h-16.1zM537.7 86.42h16.1v2.49h-16.1zM537.7 64.54h16.1v2.49h-16.1zM537.7 55.78h16.1v2.49h-16.1zM553.5 292.17h16.1v2.49h-16.1zM553.5 244.01h16.1v2.49h-16.1zM553.5 82.05h16.1v2.49h-16.1zM553.5 73.29h16.1v2.49h-16.1zM569.3 279.03h16.1v2.49h-16.1zM569.3 259.33h16.1v2.49h-16.1zM569.3 195.86h16.1v2.49h-16.1zM569.3 68.91h16.1v2.49h-16.1zM569.3 47.03h16.1v2.49h-16.1zM569.3 38.27h16.1v2.49h-16.1zM569.3 29.52h16.1v2.49h-16.1zM569.3 27.33h16.1v2.49h-16.1zM585.1 248.39h16.1v2.49h-16.1zM585.1 222.13h16.1v2.49h-16.1zM585.1 99.56h16.1v2.49h-16.1zM585.1 55.78h16.1v2.49h-16.1zM585.1 49.21h16.1v2.49h-16.1zM585.1 47.03h16.1v2.49h-16.1zM600.9 237.45h16.1v2.49h-16.1zM600.9 213.37h16.1v2.49h-16.1zM600.9 55.78h16.1v2.49h-16.1zM600.9 38.27h16.1v2.49h-16.1zM616.7 287.79h16.1v2.49h-16.1zM616.7 285.60h16.1v2.49h-16.1zM616.7 281.22h16.1v2.49h-16.1zM616.7 36.08h16.1v2.49h-16.1zM616.7 13.10h16.1v1.39h-16.1zM632.5 285.60h16.1v2.49h-16.1zM632.5 237.45h16.1v2.49h-16.1zM632.5 68.91h16.1v2.49h-16.1zM648.3 230.88h16.1v2.49h-16.1zM648.3 228.69h16.1v2.49h-16.1zM648.3 224.31h16.1v2.49h-16.1zM648.3 200.24h16.1v2.49h-16.1zM648.3 101.74h16.1v2.49h-16.1zM648.3 88.61h16.1v2.49h-16.1zM648.3 77.67h16.1v2.49h-16.1zM648.3 44.84h16.1v2.49h-16.1zM648.3 33.89h16.1v2.49h-16.1zM648.3 22.95h16.1v2.49h-16.1zM648.3 14.19h16.1v2.49h-16.1zM664.1 272.47h16.1v2.49h-16.1zM664.1 261.52h16.1v2.49h-16.1zM664.1 244.01h16.1v2.49h-16.1zM664.1 241.82h16.1v2.49h-16.1zM664.1 202.43h16.1v2.49h-16.1zM664.1 191.48h16.1v2.49h-16.1zM664.1 75.48h16.1v2.49h-16.1zM679.9 287.79h16.1v2.49h-16.1zM679.9 274.66h16.1v2.49h-16.1zM679.9 217.75h16.1v2.49h-16.1zM679.9 53.59h16.1v2.49h-16.1zM679.9 33.89h16.1v2.49h-16.1zM695.7 228.69h16.1v2.49h-16.1zM695.7 75.48h16.1v2.49h-16.1zM711.5 272.47h16.1v2.49h-16.1zM711.5 270.28h16.1v2.49h-16.1zM711.5 257.15h16.1v2.49h-16.1zM711.5 244.01h16.1v2.49h-16.1zM711.5 73.29h16.1v2.49h-16.1zM711.5 71.10h16.1v2.49h-16.1zM711.5 68.91h16.1v2.49h-16.1zM711.5 62.35h16.1v2.49h-16.1zM711.5 18.57h16.1v2.49h-16.1zM727.3 279.03h16.1v2.49h-16.1zM727.3 110.50h16.1v2.49h-16.1zM727.3 99.56h16.1v2.49h-16.1zM727.3 90.80h16.1v2.49h-16.1zM727.3 25.14h16.1v2.49h-16.1zM727.3 18.57h16.1v2.49h-16.1zM727.3 13.10h16.1v1.39h-16.1zM743.1 25.14h16.1v2.49h-16.1zM743.1 16.38h16.1v2.49h-16.1zM758.9 289.98h16.1v2.49h-16.1zM758.9 268.09h16.1v2.49h-16.1zM758.9 248.39h16.1v2.49h-16.1zM758.9 239.64h16.1v2.49h-16.1zM758.9 66.72h16.1v2.49h-16.1zM774.7 281.22h16.1v2.49h-16.1zM774.7 20.76h16.1v2.49h-16.1zM790.5 274.66h16.1v2.49h-16.1zM790.5 263.71h16.1v2.49h-16.1zM790.5 246.20h16.1v2.49h-16.1zM790.5 82.05h16.1v2.49h-16.1zM806.3 259.33h9.7v2.49h-9.7zM806.3 246.20h9.7v2.49h-9.7zM806.3 233.07h9.7v2.49h-9.7zM806.3 66.72h9.7v2.49h-9.7zM806.3 14.19h9.7v2.49h-9.7z"/>
<path fill="#7e120b" d="M119.0 261.52h8.2v2.49h-8.2zM119.0 241.82h8.2v2.49h-8.2zM119.0 224.31h8.2v2.49h-8.2zM119.0 206.80h8.2v2.49h-8.2zM119.0 187.11h8.2v2.49h-8.2zM119.0 178.35h8.2v2.49h-8.2zM119.0 171.78h8.2v2.49h-8.2zM119.0 160.84h8.2v2.49h-8.2zM119.0 84.23h8.2v2.49h-8.2zM119.0 53.59h8.2v2.49h-8.2zM119.0 33.89h8.2v2.49h-8.2zM119.0 22.95h8.2v2.49h-8.2zM126.9 270.28h16.1v2.49h-16.1zM126.9 261.52h16.1v2.49h-16.1zM126.9 257.15h16.1v2.49h-16.1zM126.9 250.58h16.1v2.49h-16.1zM126.9 246.20h16.1v2.49h-16.1zM126.9 171.78h16.1v2.49h-16.1zM126.9 143.33h16.1v2.49h-16.1zM126.9 119.25h16.1v2.49h-16.1zM126.9 71.10h16.1v2.49h-16.1zM126.9 68.91h16.1v2.49h-16.1zM126.9 55.78h16.1v2.49h-16.1zM126.9 25.14h16.1v2.49h-16.1zM126.9 14.19h16.1v2.49h-16.1zM142.7 244.01h16.1v2.49h-16.1zM142.7 226.50h16.1v2.49h-16.1zM142.7 217.75h16.1v2.49h-16.1zM142.7 86.42h16.1v2.49h-16.1zM142.7 42.65h16.1v2.49h-16.1zM158.5 248.39h16.1v2.49h-16.1zM158.5 246.20h16.1v2.49h-16.1zM158.5 226.50h16.1v2.49h-16.1zM158.5 202.43h16.1v2.49h-16.1zM158.5 195.86h16.1v2.49h-16.1zM158.5 149.90h16.1v2.49h-16.1zM158.5 121.44h16.1v2.49h-16.1zM158.5 95.18h16.1v2.49h-16.1zM158.5 73.29h16.1v2.49h-16.1zM158.5 62.35h16.1v2.49h-16.1zM158.5 51.40h16.1v2.49h-16.1zM158.5 49.21h16.1v2.49h-16.1zM158.5 42.65h16.1v2.49h-16.1zM174.3 272.47h16.1v2.49h-16.1zM174.3 250.58h16.1v2.49h-16.1zM174.3 246.20h16.1v2.49h-16.1zM174.3 241.82h16.1v2.49h-16.1zM174.3 222.13h16.1v2.49h-16.1zM174.3 198.05h16.1v2.49h-16.1zM174.3 187.11h16.1v2.49h-16.1zM174.3 154.27h16.1v2.49h-16.1zM174.3 123.63h16.1v2.49h-16.1zM174.3 114.88h16.1v2.49h-16.1zM174.3 101.74h16.1v2.49h-16.1zM174.3 33.89h16.1v2.49h-16.1zM190.1 270.28h16.1v2.49h-16.1zM190.1 259.33h16.1v2.49h-16.1zM190.1 252.77h16.1v2.49h-16.1zM190.1 241.82h16.1v2.49h-16.1zM190.1 230.88h16.1v2.49h-16.1zM190.1 228.69h16.1v2.49h-16.1zM190.1 208.99h16.1v2.49h-16.1zM190.1 204.62h16.1v2.49h-16.1zM190.1 178.35h16.1v2.49h-16.1zM190.1 49.21h16.1v2.49h-16.1zM190.1 44.84h16.1v2.49h-16.1zM190.1 22.95h16.1v2.49h-16.1zM190.1 14.19h16.1v2.49h-16.1zM205.9 241.82h16.1v2.49h-16.1zM205.9 191.48h16.1v2.49h-16.1zM205.9 145.52h16.1v2.49h-16.1zM205.9 57.97h16.1v2.49h-16.1zM205.9 38.27h16.1v2.49h-16.1zM205.9 25.14h16.1v2.49h-16.1zM205.9 16.38h16.1v2.49h-16.1zM221.7 265.90h16.1v2.49h-16.1zM221.7 246.20h16.1v2.49h-16.1zM221.7 237.45h16.1v2.49h-16.1zM221.7 230.88h16.1v2.49h-16.1zM221.7 228.69h16.1v2.49h-16.1zM221.7 147.71h16.1v2.49h-16.1zM221.7 71.10h16.1v2.49h-16.1zM221.7 53.59h16.1v2.49h-16.1zM221.7 22.95h16.1v2.49h-16.1zM237.5 261.52h16.1v2.49h-16.1zM237.5 141.14h16.1v2.49h-16.1zM237.5 90.80h16.1v2.49h-16.1zM237.5 88.61h16.1v2.49h-16.1zM237.5 86.42h16.1v2.49h-16.1zM237.5 57.97h16.1v2.49h-16.1zM237.5 38.27h16.1v2.49h-16.1zM237.5 36.08h16.1v2.49h-16.1zM237.5 25.14h16.1v2.49h-16.1zM253.3 200.24h16.1v2.49h-16.1zM253.3 193.67h16.1v2.49h-16.1zM253.3 165.22h16.1v2.49h-16.1zM253.3 121.44h16.1v2.49h-16.1zM253.3 101.74h16.1v2.49h-16.1zM253.3 55.78h16.1v2.49h-16.1zM253.3 53.59h16.1v2.49h-16.1zM253.3 18.57h16.1v2.49h-16.1zM253.3 13.10h16.1v1.39h-16.1zM269.1 257.15h16.1v2.49h-16.1zM269.1 233.07h16.1v2.49h-16.1zM269.1 224.31h16.1v2.49h-16.1zM269.1 213.37h16.1v2.49h-16.1zM269.1 187.11h16.1v2.49h-16.1zM269.1 171.78h16.1v2.49h-16.1zM269.1 158.65h16.1v2.49h-16.1zM269.1 121.44h16.1v2.49h-16.1zM269.1 103.93h16.1v2.49h-16.1zM269.1 99.56h16.1v2.49h-16.1zM269.1 66.72h16.1v2.49h-16.1zM284.9 276.84h16.1v2.49h-16.1zM284.9 244.01h16.1v2.49h-16.1zM284.9 233.07h16.1v2.49h-16.1zM284.9 222.13h16.1v2.49h-16.1zM284.9 173.97h16.1v2.49h-16.1zM284.9 125.82h16.1v2.49h-16.1zM284.9 123.63h16.1v2.49h-16.1zM284.9 64.54h16.1v2.49h-16.1zM284.9 49.21h16.1v2.49h-16.1zM284.9 22.95h16.1v2.49h-16.1zM284.9 14.19h16.1v2.49h-16.1zM300.7 219.94h16.1v2.49h-16.1zM300.7 211.18h16.1v2.49h-16.1zM300.7 208.99h16.1v2.49h-16.1zM300.7 195.86h16.1v2.49h-16.1zM300.7 138.95h16.1v2.49h-16.1zM300.7 88.61h16.1v2.49h-16.1zM300.7 44.84h16.1v2.49h-16.1zM316.5 263.71h16.1v2.49h-16.1zM316.5 241.82h16.1v2.49h-16.1zM316.5 237.45h16.1v2.49h-16.1zM316.5 208.99h16.1v2.49h-16.1zM316.5 141.14h16.1v2.49h-16.1zM316.5 99.56h16.1v2.49h-16.1zM316.5 97.37h16.1v2.49h-16.1zM316.5 60.16h16.1v2.49h-16.1zM316.5 44.84h16.1v2.49h-16.1zM332.3 248.39h16.1v2.49h-16.1zM332.3 217.75h16.1v2.49h-16.1zM332.3 206.80h16.1v2.49h-16.1zM332.3 198.05h16.1v2.49h-16.1zM332.3 141.14h16.1v2.49h-16.1zM332.3 112.69h16.1v2.49h-16.1zM332.3 75.48h16.1v2.49h-16.1zM332.3 66.72h16.1v2.49h-16.1zM332.3 55.78h16.1v2.49h-16.1zM332.3 47.03h16.1v2.49h-16.1zM332.3 36.08h16.1v2.49h-16.1zM348.1 244.01h16.1v2.49h-16.1zM348.1 184.92h16.1v2.49h-16.1zM348.1 92.99h16.1v2.49h-16.1zM348.1 86.42h16.1v2.49h-16.1zM348.1 57.97h16.1v2.49h-16.1zM348.1 47.03h16.1v2.49h-16.1zM348.1 14.19h16.1v2.49h-16.1zM348.1 13.10h16.1v1.39h-16.1zM363.9 274.66h16.1v2.49h-16.1zM363.9 272.47h16.1v2.49h-16.1zM363.9 257.15h16.1v2.49h-16.1zM363.9 241.82h16.1v2.49h-16.1zM363.9 204.62h16.1v2.49h-16.1zM363.9 193.67h16.1v2.49h-16.1zM363.9 189.29h16.1v2.49h-16.1zM363.9 149.90h16.1v2.49h-16.1zM363.9 79.86h16.1v2.49h-16.1zM363.9 31.70h16.1v2.49h-16.1zM363.9 16.38h16.1v2.49h-16.1zM379.7 160.84h16.1v2.49h-16.1zM379.7 156.46h16.1v2.49h-16.1zM379.7 68.91h16.1v2.49h-16.1zM379.7 64.54h16.1v2.49h-16.1zM379.7 51.40h16.1v2.49h-16.1zM379.7 40.46h16.1v2.49h-16.1zM379.7 38.27h16.1v2.49h-16.1zM379.7 27.33h16.1v2.49h-16.1zM379.7 18.57h16.1v2.49h-16.1zM395.5 246.20h16.1v2.49h-16.1zM395.5 241.82h16.1v2.49h-16.1zM395.5 219.94h16.1v2.49h-16.1zM395.5 204.62h16.1v2.49h-16.1zM395.5 112.69h16.1v2.49h-16.1zM395.5 108.31h16.1v2.49h-16.1zM395.5 92.99h16.1v2.49h-16.1zM395.5 90.80h16.1v2.49h-16.1zM395.5 84.23h16.1v2.49h-16.1zM395.5 79.86h16.1v2.49h-16.1zM395.5 55.78h16.1v2.49h-16.1zM395.5 44.84h16.1v2.49h-16.1zM395.5 14.19h16.1v2.49h-16.1zM411.3 252.77h16.1v2.49h-16.1zM411.3 224.31h16.1v2.49h-16.1zM411.3 215.56h16.1v2.49h-16.1zM411.3 195.86h16.1v2.49h-16.1zM411.3 156.46h16.1v2.49h-16.1zM411.3 154.27h16.1v2.49h-16.1zM411.3 66.72h16.1v2.49h-16.1zM411.3 38.27h16.1v2.49h-16.1zM411.3 18.57h16.1v2.49h-16.1zM427.1 246.20h16.1v2.49h-16.1zM427.1 241.82h16.1v2.49h-16.1zM427.1 237.45h16.1v2.49h-16.1zM427.1 206.80h16.1v2.49h-16.1zM427.1 200.24h16.1v2.49h-16.1zM427.1 88.61h16.1v2.49h-16.1zM427.1 38.27h16.1v2.49h-16.1zM442.9 276.84h16.1v2.49h-16.1zM442.9 272.47h16.1v2.49h-16.1zM442.9 263.71h16.1v2.49h-16.1zM442.9 252.77h16.1v2.49h-16.1zM442.9 123.63h16.1v2.49h-16.1zM442.9 25.14h16.1v2.49h-16.1zM442.9 16.38h16.1v2.49h-16.1zM442.9 13.10h16.1v1.39h-16.1zM458.7 254.96h16.1v2.49h-16.1zM458.7 239.64h16.1v2.49h-16.1zM458.7 101.74h16.1v2.49h-16.1zM458.7 99.56h16.1v2.49h-16.1zM458.7 79.86h16.1v2.49h-16.1zM458.7 68.91h16.1v2.49h-16.1zM458.7 42.65h16.1v2.49h-16.1zM458.7 33.89h16.1v2.49h-16.1zM474.5 272.47h16.1v2.49h-16.1zM474.5 268.09h16.1v2.49h-16.1zM474.5 259.33h16.1v2.49h-16.1zM474.5 252.77h16.1v2.49h-16.1zM474.5 250.58h16.1v2.49h-16.1zM474.5 235.26h16.1v2.49h-16.1zM474.5 184.92h16.1v2.49h-16.1zM474.5 121.44h16.1v2.49h-16.1zM474.5 108.31h16.1v2.49h-16.1zM474.5 95.18h16.1v2.49h-16.1zM474.5 68.91h16.1v2.49h-16.1zM474.5 66.72h16.1v2.49h-16.1zM474.5 55.78h16.1v2.49h-16.1zM490.3 246.20h16.1v2.49h-16.1zM490.3 224.31h16.1v2.49h-16.1zM490.3 208.99h16.1v2.49h-16.1zM490.3 206.80h16.1v2.49h-16.1zM490.3 200.24h16.1v2.49h-16.1zM490.3 125.82h16.1v2.49h-16.1zM490.3 123.63h16.1v2.49h-16.1zM490.3 99.56h16.1v2.49h-16.1zM490.3 88.61h16.1v2.49h-16.1zM490.3 84.23h16.1v2.49h-16.1zM490.3 57.97h16.1v2.49h-16.1zM490.3 44.84h16.1v2.49h-16.1zM490.3 38.27h16.1v2.49h-16.1zM490.3 27.33h16.1v2.49h-16.1zM506.1 261.52h16.1v2.49h-16.1zM506.1 246.20h16.1v2.49h-16.1zM506.1 241.82h16.1v2.49h-16.1zM521.9 263.71h16.1v2.49h-16.1zM521.9 204.62h16.1v2.49h-16.1zM521.9 57.97h16.1v2.49h-16.1zM521.9 31.70h16.1v2.49h-16.1zM537.7 224.31h16.1v2.49h-16.1zM537.7 215.56h16.1v2.49h-16.1zM537.7 31.70h16.1v2.49h-16.1zM537.7 25.14h16.1v2.49h-16.1zM537.7 13.10h16.1v1.39h-16.1zM553.5 270.28h16.1v2.49h-16.1zM553.5 268.09h16.1v2.49h-16.1zM553.5 263.71h16.1v2.49h-16.1zM553.5 261.52h16.1v2.49h-16.1zM553.5 248.39h16.1v2.49h-16.1zM553.5 217.75h16.1v2.49h-16.1zM553.5 198.05h16.1v2.49h-16.1zM553.5 193.67h16.1v2.49h-16.1zM553.5 108.31h16.1v2.49h-16.1zM553.5 44.84h16.1v2.49h-16.1zM569.3 252.77h16.1v2.49h-16.1zM569.3 233.07h16.1v2.49h-16.1zM569.3 219.94h16.1v2.49h-16.1zM569.3 82.05h16.1v2.49h-16.1zM569.3 71.10h16.1v2.49h-16.1zM569.3 66.72h16.1v2.49h-16.1zM585.1 283.41h16.1v2.49h-16.1zM585.1 228.69h16.1v2.49h-16.1zM585.1 202.43h16.1v2.49h-16.1zM585.1 95.18h16.1v2.49h-16.1zM585.1 82.05h16.1v2.49h-16.1zM585.1 64.54h16.1v2.49h-16.1zM585.1 44.84h16.1v2.49h-16.1zM585.1 40.46h16.1v2.49h-16.1zM585.1 27.33h16.1v2.49h-16.1zM585.1 20.76h16.1v2.49h-16.1zM585.1 16.38h16.1v2.49h-16.1zM600.9 294.35h16.1v2.49h-16.1zM600.9 241.82h16.1v2.49h-16.1zM600.9 217.75h16.1v2.49h-16.1zM600.9 211.18h16.1v2.49h-16.1zM600.9 206.80h16.1v2.49h-16.1zM600.9 198.05h16.1v2.49h-16.1zM600.9 189.29h16.1v2.49h-16.1zM600.9 86.42h16.1v2.49h-16.1zM600.9 84.23h16.1v2.49h-16.1zM600.9 62.35h16.1v2.49h-16.1zM600.9 53.59h16.1v2.49h-16.1zM600.9 49.21h16.1v2.49h-16.1zM600.9 47.03h16.1v2.49h-16.1zM600.9 29.52h16.1v2.49h-16.1zM600.9 22.95h16.1v2.49h-16.1zM600.9 18.57h16.1v2.49h-16.1zM616.7 259.33h16.1v2.49h-16.1zM616.7 257.15h16.1v2.49h-16.1zM616.7 224.31h16.1v2.49h-16.1zM616.7 208.99h16.1v2.49h-16.1zM616.7 202.43h16.1v2.49h-16.1zM616.7 108.31h16.1v2.49h-16.1zM616.7 84.23h16.1v2.49h-16.1zM616.7 73.29h16.1v2.49h-16.1zM616.7 64.54h16.1v2.49h-16.1zM616.7 62.35h16.1v2.49h-16.1zM616.7 42.65h16.1v2.49h-16.1zM616.7 38.27h16.1v2.49h-16.1zM616.7 20.76h16.1v2.49h-16.1zM632.5 246.20h16.1v2.49h-16.1zM632.5 239.64h16.1v2.49h-16.1zM632.5 215.56h16.1v2.49h-16.1zM632.5 202.43h16.1v2.49h-16.1zM632.5 95.18h16.1v2.49h-16.1zM632.5 92.99h16.1v2.49h-16.1zM632.5 77.67h16.1v2.49h-16.1zM632.5 47.03h16.1v2.49h-16.1zM632.5 33.89h16.1v2.49h-16.1zM632.5 22.95h16.1v2.49h-16.1zM632.5 18.57h16.1v2.49h-16.1zM632.5 16.38h16.1v2.49h-16.1zM648.3 248.39h16.1v2.49h-16.1zM648.3 208.99h16.1v2.49h-16.1zM648.3 195.86h16.1v2.49h-16.1zM648.3 110.50h16.1v2.49h-16.1zM648.3 60.16h16.1v2.49h-16.1zM648.3 29.52h16.1v2.49h-16.1zM648.3 20.76h16.1v2.49h-16.1zM664.1 237.45h16.1v2.49h-16.1zM664.1 53.59h16.1v2.49h-16.1zM679.9 265.90h16.1v2.49h-16.1zM679.9 228.69h16.1v2.49h-16.1zM679.9 215.56h16.1v2.49h-16.1zM679.9 195.86h16.1v2.49h-16.1zM679.9 125.82h16.1v2.49h-16.1zM679.9 112.69h16.1v2.49h-16.1zM679.9 110.50h16.1v2.49h-16.1zM679.9 51.40h16.1v2.49h-16.1zM679.9 42.65h16.1v2.49h-16.1zM679.9 16.38h16.1v2.49h-16.1zM695.7 261.52h16.1v2.49h-16.1zM695.7 246.20h16.1v2.49h-16.1zM695.7 239.64h16.1v2.49h-16.1zM695.7 233.07h16.1v2.49h-16.1zM695.7 213.37h16.1v2.49h-16.1zM695.7 211.18h16.1v2.49h-16.1zM695.7 202.43h16.1v2.49h-16.1zM711.5 248.39h16.1v2.49h-16.1zM711.5 222.13h16.1v2.49h-16.1zM711.5 110.50h16.1v2.49h-16.1zM711.5 79.86h16.1v2.49h-16.1zM711.5 49.21h16.1v2.49h-16.1zM711.5 20.76h16.1v2.49h-16.1zM711.5 16.38h16.1v2.49h-16.1zM727.3 230.88h16.1v2.49h-16.1zM727.3 222.13h16.1v2.49h-16.1zM727.3 57.97h16.1v2.49h-16.1zM743.1 230.88h16.1v2.49h-16.1zM743.1 88.61h16.1v2.49h-16.1zM743.1 79.86h16.1v2.49h-16.1zM743.1 77.67h16.1v2.49h-16.1zM743.1 64.54h16.1v2.49h-16.1zM743.1 62.35h16.1v2.49h-16.1zM743.1 57.97h16.1v2.49h-16.1zM743.1 18.57h16.1v2.49h-16.1zM743.1 14.19h16.1v2.49h-16.1zM743.1 13.10h16.1v1.39h-16.1zM758.9 235.26h16.1v2.49h-16.1zM758.9 71.10h16.1v2.49h-16.1zM758.9 44.84h16.1v2.49h-16.1zM774.7 252.77h16.1v2.49h-16.1zM774.7 128.01h16.1v2.49h-16.1zM774.7 84.23h16.1v2.49h-16.1zM774.7 66.72h16.1v2.49h-16.1zM774.7 18.57h16.1v2.49h-16.1zM790.5 252.77h16.1v2.49h-16.1zM790.5 239.64h16.1v2.49h-16.1zM790.5 222.13h16.1v2.49h-16.1zM790.5 219.94h16.1v2.49h-16.1zM790.5 114.88h16.1v2.49h-16.1zM790.5 106.12h16.1v2.49h-16.1zM790.5 90.80h16.1v2.49h-16.1zM790.5 68.91h16.1v2.49h-16.1zM790.5 25.14h16.1v2.49h-16.1zM806.3 265.90h9.7v2.49h-9.7zM806.3 235.26h9.7v2.49h-9.7zM806.3 110.50h9.7v2.49h-9.7zM806.3 84.23h9.7v2.49h-9.7zM806.3 55.78h9.7v2.49h-9.7z"/>
<path fill="#89130c" d="M119.0 259.33h8.2v2.49h-8.2zM119.0 226.50h8.2v2.49h-8.2zM119.0 152.09h8.2v2.49h-8.2zM119.0 119.25h8.2v2.49h-8.2zM119.0 110.50h8.2v2.49h-8.2zM119.0 106.12h8.2v2.49h-8.2zM119.0 101.74h8.2v2.49h-8.2zM119.0 57.97h8.2v2.49h-8.2zM119.0 49.21h8.2v2.49h-8.2zM126.9 259.33h16.1v2.49h-16.1zM126.9 252.77h16.1v2.49h-16.1zM126.9 180.54h16.1v2.49h-16.1zM126.9 178.35h16.1v2.49h-16.1zM126.9 117.07h16.1v2.49h-16.1zM126.9 88.61h16.1v2.49h-16.1zM126.9 57.97h16.1v2.49h-16.1zM142.7 252.77h16.1v2.49h-16.1zM142.7 237.45h16.1v2.49h-16.1zM142.7 235.26h16.1v2.49h-16.1zM142.7 178.35h16.1v2.49h-16.1zM142.7 147.71h16.1v2.49h-16.1zM142.7 110.50h16.1v2.49h-16.1zM142.7 92.99h16.1v2.49h-16.1zM142.7 88.61h16.1v2.49h-16.1zM142.7 84.23h16.1v2.49h-16.1zM142.7 22.95h16.1v2.49h-16.1zM158.5 287.79h16.1v2.49h-16.1zM158.5 276.84h16.1v2.49h-16.1zM158.5 252.77h16.1v2.49h-16.1zM158.5 250.58h16.1v2.49h-16.1zM158.5 237.45h16.1v2.49h-16.1zM158.5 235.26h16.1v2.49h-16.1zM158.5 224.31h16.1v2.49h-16.1zM158.5 184.92h16.1v2.49h-16.1zM158.5 167.41h16.1v2.49h-16.1zM158.5 108.31h16.1v2.49h-16.1zM158.5 97.37h16.1v2.49h-16.1zM158.5 57.97h16.1v2.49h-16.1zM158.5 38.27h16.1v2.49h-16.1zM174.3 202.43h16.1v2.49h-16.1zM174.3 178.35h16.1v2.49h-16.1zM174.3 158.65h16.1v2.49h-16.1zM174.3 132.39h16.1v2.49h-16.1zM174.3 90.80h16.1v2.49h-16.1zM174.3 79.86h16.1v2.49h-16.1zM174.3 73.29h16.1v2.49h-16.1zM174.3 38.27h16.1v2.49h-16.1zM190.1 244.01h16.1v2.49h-16.1zM190.1 189.29h16.1v2.49h-16.1zM190.1 95.18h16.1v2.49h-16.1zM190.1 84.23h16.1v2.49h-16.1zM205.9 123.63h16.1v2.49h-16.1zM205.9 86.42h16.1v2.49h-16.1zM221.7 261.52h16.1v2.49h-16.1zM221.7 244.01h16.1v2.49h-16.1zM221.7 178.35h16.1v2.49h-16.1zM221.7 125.82h16.1v2.49h-16.1zM221.7 121.44h16.1v2.49h-16.1zM221.7 112.69h16.1v2.49h-16.1zM221.7 106.12h16.1v2.49h-16.1zM221.7 27.33h16.1v2.49h-16.1zM237.5 217.75h16.1v2.49h-16.1zM237.5 200.24h16.1v2.49h-16.1zM237.5 193.67h16.1v2.49h-16.1zM237.5 187.11h16.1v2.49h-16.1zM237.5 154.27h16.1v2.49h-16.1zM237.5 130.20h16.1v2.49h-16.1zM237.5 106.12h16.1v2.49h-16.1zM237.5 103.93h16.1v2.49h-16.1zM237.5 53.59h16.1v2.49h-16.1zM237.5 40.46h16.1v2.49h-16.1zM237.5 31.70h16.1v2.49h-16.1zM237.5 20.76h16.1v2.49h-16.1zM237.5 16.38h16.1v2.49h-16.1zM253.3 224.31h16.1v2.49h-16.1zM253.3 208.99h16.1v2.49h-16.1zM253.3 202.43h16.1v2.49h-16.1zM253.3 160.84h16.1v2.49h-16.1zM253.3 154.27h16.1v2.49h-16.1zM253.3 119.25h16.1v2.49h-16.1zM253.3 14.19h16.1v2.49h-16.1zM269.1 206.80h16.1v2.49h-16.1zM269.1 204.62h16.1v2.49h-16.1zM269.1 198.05h16.1v2.49h-16.1zM269.1 160.84h16.1v2.49h-16.1zM269.1 125.82h16.1v2.49h-16.1zM269.1 114.88h16.1v2.49h-16.1zM269.1 108.31h16.1v2.49h-16.1zM269.1 84.23h16.1v2.49h-16.1zM269.1 79.86h16.1v2.49h-16.1zM269.1 49.21h16.1v2.49h-16.1zM269.1 20.76h16.1v2.49h-16.1zM284.9 206.80h16.1v2.49h-16.1zM284.9 198.05h16.1v2.49h-16.1zM284.9 191.48h16.1v2.49h-16.1zM284.9 187.11h16.1v2.49h-16.1zM284.9 156.46h16.1v2.49h-16.1zM284.9 152.09h16.1v2.49h-16.1zM284.9 149.90h16.1v2.49h-16.1zM284.9 108.31h16.1v2.49h-16.1zM284.9 101.74h16.1v2.49h-16.1zM300.7 206.80h16.1v2.49h-16.1zM300.7 191.48h16.1v2.49h-16.1zM300.7 171.78h16.1v2.49h-16.1zM300.7 158.65h16.1v2.49h-16.1zM300.7 143.33h16.1v2.49h-16.1zM300.7 134.58h16.1v2.49h-16.1zM300.7 123.63h16.1v2.49h-16.1zM300.7 97.37h16.1v2.49h-16.1zM316.5 265.90h16.1v2.49h-16.1zM316.5 213.37h16.1v2.49h-16.1zM316.5 206.80h16.1v2.49h-16.1zM316.5 204.62h16.1v2.49h-16.1zM316.5 189.29h16.1v2.49h-16.1zM316.5 182.73h16.1v2.49h-16.1zM316.5 158.65h16.1v2.49h-16.1zM316.5 156.46h16.1v2.49h-16.1zM316.5 103.93h16.1v2.49h-16.1zM316.5 55.78h16.1v2.49h-16.1zM316.5 31.70h16.1v2.49h-16.1zM332.3 230.88h16.1v2.49h-16.1zM332.3 154.27h16.1v2.49h-16.1zM332.3 136.76h16.1v2.49h-16.1zM332.3 103.93h16.1v2.49h-16.1zM332.3 92.99h16.1v2.49h-16.1zM332.3 44.84h16.1v2.49h-16.1zM332.3 40.46h16.1v2.49h-16.1zM348.1 237.45h16.1v2.49h-16.1zM348.1 219.94h16.1v2.49h-16.1zM348.1 211.18h16.1v2.49h-16.1zM348.1 189.29h16.1v2.49h-16.1zM348.1 180.54h16.1v2.49h-16.1zM348.1 75.48h16.1v2.49h-16.1zM348.1 66.72h16.1v2.49h-16.1zM348.1 42.65h16.1v2.49h-16.1zM348.1 29.52h16.1v2.49h-16.1zM363.9 237.45h16.1v2.49h-16.1zM363.9 173.97h16.1v2.49h-16.1zM363.9 123.63h16.1v2.49h-16.1zM363.9 112.69h16.1v2.49h-16.1zM363.9 110.50h16.1v2.49h-16.1zM363.9 97.37h16.1v2.49h-16.1zM363.9 92.99h16.1v2.49h-16.1zM363.9 90.80h16.1v2.49h-16.1zM379.7 272.47h16.1v2.49h-16.1zM379.7 239.64h16.1v2.49h-16.1zM379.7 167.41h16.1v2.49h-16.1zM379.7 145.52h16.1v2.49h-16.1zM379.7 141.14h16.1v2.49h-16.1zM379.7 121.44h16.1v2.49h-16.1zM379.7 117.07h16.1v2.49h-16.1zM379.7 90.80h16.1v2.49h-16.1zM379.7 86.42h16.1v2.49h-16.1zM379.7 73.29h16.1v2.49h-16.1zM379.7 71.10h16.1v2.49h-16.1zM379.7 47.03h16.1v2.49h-16.1zM395.5 149.90h16.1v2.49h-16.1zM395.5 128.01h16.1v2.49h-16.1zM395.5 121.44h16.1v2.49h-16.1zM395.5 51.40h16.1v2.49h-16.1zM411.3 206.80h16.1v2.49h-16.1zM411.3 191.48h16.1v2.49h-16.1zM411.3 189.29h16.1v2.49h-16.1zM411.3 149.90h16.1v2.49h-16.1zM411.3 145.52h16.1v2.49h-16.1zM411.3 108.31h16.1v2.49h-16.1zM411.3 92.99h16.1v2.49h-16.1zM427.1 250.58h16.1v2.49h-16.1zM427.1 189.29h16.1v2.49h-16.1zM427.1 187.11h16.1v2.49h-16.1zM427.1 176.16h16.1v2.49h-16.1zM427.1 121.44h16.1v2.49h-16.1zM427.1 84.23h16.1v2.49h-16.1zM427.1 66.72h16.1v2.49h-16.1zM427.1 47.03h16.1v2.49h-16.1zM442.9 233.07h16.1v2.49h-16.1zM442.9 173.97h16.1v2.49h-16.1zM442.9 134.58h16.1v2.49h-16.1zM442.9 53.59h16.1v2.49h-16.1zM442.9 22.95h16.1v2.49h-16.1zM458.7 237.45h16.1v2.49h-16.1zM458.7 176.16h16.1v2.49h-16.1zM458.7 171.78h16.1v2.49h-16.1zM458.7 143.33h16.1v2.49h-16.1zM458.7 121.44h16.1v2.49h-16.1zM458.7 103.93h16.1v2.49h-16.1zM458.7 88.61h16.1v2.49h-16.1zM458.7 57.97h16.1v2.49h-16.1zM474.5 173.97h16.1v2.49h-16.1zM474.5 114.88h16.1v2.49h-16.1zM474.5 103.93h16.1v2.49h-16.1zM474.5 99.56h16.1v2.49h-16.1zM506.1 244.01h16.1v2.49h-16.1zM506.1 239.64h16.1v2.49h-16.1zM506.1 224.31h16.1v2.49h-16.1zM506.1 191.48h16.1v2.49h-16.1zM506.1 16.38h16.1v2.49h-16.1zM521.9 228.69h16.1v2.49h-16.1zM521.9 176.16h16.1v2.49h-16.1zM521.9 123.63h16.1v2.49h-16.1zM537.7 241.82h16.1v2.49h-16.1zM537.7 117.07h16.1v2.49h-16.1zM537.7 110.50h16.1v2.49h-16.1zM537.7 82.05h16.1v2.49h-16.1zM553.5 230.88h16.1v2.49h-16.1zM553.5 184.92h16.1v2.49h-16.1zM553.5 117.07h16.1v2.49h-16.1zM553.5 55.78h16.1v2.49h-16.1zM569.3 230.88h16.1v2.49h-16.1zM569.3 204.62h16.1v2.49h-16.1zM569.3 187.11h16.1v2.49h-16.1zM569.3 182.73h16.1v2.49h-16.1zM569.3 117.07h16.1v2.49h-16.1zM569.3 114.88h16.1v2.49h-16.1zM569.3 79.86h16.1v2.49h-16.1zM569.3 64.54h16.1v2.49h-16.1zM585.1 261.52h16.1v2.49h-16.1zM585.1 250.58h16.1v2.49h-16.1zM585.1 244.01h16.1v2.49h-16.1zM585.1 182.73h16.1v2.49h-16.1zM585.1 112.69h16.1v2.49h-16.1zM585.1 101.74h16.1v2.49h-16.1zM585.1 92.99h16.1v2.49h-16.1zM600.9 246.20h16.1v2.49h-16.1zM600.9 244.01h16.1v2.49h-16.1zM600.9 200.24h16.1v2.49h-16.1zM600.9 95.18h16.1v2.49h-16.1zM600.9 71.10h16.1v2.49h-16.1zM600.9 16.38h16.1v2.49h-16.1zM616.7 237.45h16.1v2.49h-16.1zM616.7 215.56h16.1v2.49h-16.1zM616.7 206.80h16.1v2.49h-16.1zM616.7 193.67h16.1v2.49h-16.1zM616.7 187.11h16.1v2.49h-16.1zM616.7 27.33h16.1v2.49h-16.1zM632.5 187.11h16.1v2.49h-16.1zM632.5 123.63h16.1v2.49h-16.1zM632.5 110.50h16.1v2.49h-16.1zM648.3 112.69h16.1v2.49h-16.1zM648.3 106.12h16.1v2.49h-16.1zM664.1 250.58h16.1v2.49h-16.1zM664.1 208.99h16.1v2.49h-16.1zM664.1 114.88h16.1v2.49h-16.1zM664.1 86.42h16.1v2.49h-16.1zM664.1 36.08h16.1v2.49h-16.1zM679.9 106.12h16.1v2.49h-16.1zM679.9 99.56h16.1v2.49h-16.1zM679.9 40.46h16.1v2.49h-16.1zM679.9 29.52h16.1v2.49h-16.1zM695.7 263.71h16.1v2.49h-16.1zM695.7 257.15h16.1v2.49h-16.1zM695.7 110.50h16.1v2.49h-16.1zM695.7 106.12h16.1v2.49h-16.1zM695.7 95.18h16.1v2.49h-16.1zM695.7 71.10h16.1v2.49h-16.1zM695.7 13.10h16.1v1.39h-16.1zM711.5 233.07h16.1v2.49h-16.1zM711.5 219.94h16.1v2.49h-16.1zM711.5 211.18h16.1v2.49h-16.1zM711.5 208.99h16.1v2.49h-16.1zM711.5 204.62h16.1v2.49h-16.1zM711.5 202.43h16.1v2.49h-16.1zM711.5 200.24h16.1v2.49h-16.1zM711.5 121.44h16.1v2.49h-16.1zM711.5 103.93h16.1v2.49h-16.1zM727.3 250.58h16.1v2.49h-16.1zM727.3 228.69h16.1v2.49h-16.1zM727.3 226.50h16.1v2.49h-16.1zM727.3 88.61h16.1v2.49h-16.1zM727.3 42.65h16.1v2.49h-16.1zM743.1 228.69h16.1v2.49h-16.1zM743.1 222.13h16.1v2.49h-16.1zM743.1 121.44h16.1v2.49h-16.1zM743.1 53.59h16.1v2.49h-16.1zM743.1 44.84h16.1v2.49h-16.1zM743.1 42.65h16.1v2.49h-16.1zM758.9 230.88h16.1v2.49h-16.1zM758.9 53.59h16.1v2.49h-16.1zM758.9 40.46h16.1v2.49h-16.1zM774.7 259.33h16.1v2.49h-16.1zM774.7 110.50h16.1v2.49h-16.1zM774.7 106.12h16.1v2.49h-16.1zM774.7 103.93h16.1v2.49h-16.1zM774.7 101.74h16.1v2.49h-16.1zM790.5 128.01h16.1v2.49h-16.1zM790.5 117.07h16.1v2.49h-16.1zM790.5 88.61h16.1v2.49h-16.1zM790.5 55.78h16.1v2.49h-16.1zM790.5 42.65h16.1v2.49h-16.1zM806.3 252.77h9.7v2.49h-9.7zM806.3 241.82h9.7v2.49h-9.7zM806.3 239.64h9.7v2.49h-9.7zM806.3 222.13h9.7v2.49h-9.7zM806.3 106.12h9.7v2.49h-9.7zM806.3 40.46h9.7v2.49h-9.7z"/>
<path fill="#8e130c" d="M119.0 257.15h8.2v2.49h-8.2zM119.0 254.96h8.2v2.49h-8.2zM119.0 176.16h8.2v2.49h-8.2zM119.0 173.97h8.2v2.49h-8.2zM119.0 163.03h8.2v2.49h-8.2zM119.0 108.31h8.2v2.49h-8.2zM119.0 90.80h8.2v2.49h-8.2zM119.0 16.38h8.2v2.49h-8.2zM126.9 165.22h16.1v2.49h-16.1zM126.9 160.84h16.1v2.49h-16.1zM126.9 158.65h16.1v2.49h-16.1zM126.9 154.27h16.1v2.49h-16.1zM126.9 110.50h16.1v2.49h-16.1zM126.9 106.12h16.1v2.49h-16.1zM126.9 29.52h16.1v2.49h-16.1zM142.7 250.58h16.1v2.49h-16.1zM142.7 233.07h16.1v2.49h-16.1zM142.7 180.54h16.1v2.49h-16.1zM142.7 176.16h16.1v2.49h-16.1zM142.7 160.84h16.1v2.49h-16.1zM142.7 123.63h16.1v2.49h-16.1zM142.7 29.52h16.1v2.49h-16.1zM158.5 193.67h16.1v2.49h-16.1zM158.5 178.35h16.1v2.49h-16.1zM158.5 171.78h16.1v2.49h-16.1zM158.5 152.09h16.1v2.49h-16.1zM158.5 138.95h16.1v2.49h-16.1zM158.5 134.58h16.1v2.49h-16.1zM158.5 128.01h16.1v2.49h-16.1zM158.5 123.63h16.1v2.49h-16.1zM158.5 117.07h16.1v2.49h-16.1zM158.5 86.42h16.1v2.49h-16.1zM174.3 195.86h16.1v2.49h-16.1zM174.3 193.67h16.1v2.49h-16.1zM174.3 167.41h16.1v2.49h-16.1zM174.3 160.84h16.1v2.49h-16.1zM174.3 143.33h16.1v2.49h-16.1zM174.3 141.14h16.1v2.49h-16.1zM190.1 163.03h16.1v2.49h-16.1zM190.1 92.99h16.1v2.49h-16.1zM190.1 88.61h16.1v2.49h-16.1zM190.1 27.33h16.1v2.49h-16.1zM205.9 254.96h16.1v2.49h-16.1zM205.9 252.77h16.1v2.49h-16.1zM205.9 219.94h16.1v2.49h-16.1zM205.9 169.60h16.1v2.49h-16.1zM205.9 160.84h16.1v2.49h-16.1zM205.9 141.14h16.1v2.49h-16.1zM205.9 132.39h16.1v2.49h-16.1zM205.9 88.61h16.1v2.49h-16.1zM205.9 84.23h16.1v2.49h-16.1zM205.9 29.52h16.1v2.49h-16.1zM205.9 27.33h16.1v2.49h-16.1zM221.7 233.07h16.1v2.49h-16.1zM221.7 171.78h16.1v2.49h-16.1zM221.7 165.22h16.1v2.49h-16.1zM221.7 154.27h16.1v2.49h-16.1zM221.7 134.58h16.1v2.49h-16.1zM237.5 182.73h16.1v2.49h-16.1zM237.5 176.16h16.1v2.49h-16.1zM237.5 171.78h16.1v2.49h-16.1zM237.5 156.46h16.1v2.49h-16.1zM237.5 101.74h16.1v2.49h-16.1zM237.5 84.23h16.1v2.49h-16.1zM253.3 182.73h16.1v2.49h-16.1zM253.3 176.16h16.1v2.49h-16.1zM253.3 138.95h16.1v2.49h-16.1zM253.3 16.38h16.1v2.49h-16.1zM269.1 128.01h16.1v2.49h-16.1zM269.1 95.18h16.1v2.49h-16.1zM269.1 90.80h16.1v2.49h-16.1zM269.1 51.40h16.1v2.49h-16.1zM284.9 215.56h16.1v2.49h-16.1zM284.9 169.60h16.1v2.49h-16.1zM284.9 163.03h16.1v2.49h-16.1zM284.9 145.52h16.1v2.49h-16.1zM284.9 138.95h16.1v2.49h-16.1zM284.9 128.01h16.1v2.49h-16.1zM284.9 99.56h16.1v2.49h-16.1zM284.9 90.80h16.1v2.49h-16.1zM284.9 84.23h16.1v2.49h-16.1zM300.7 261.52h16.1v2.49h-16.1zM300.7 178.35h16.1v2.49h-16.1zM300.7 152.09h16.1v2.49h-16.1zM316.5 165.22h16.1v2.49h-16.1zM316.5 92.99h16.1v2.49h-16.1zM316.5 84.23h16.1v2.49h-16.1zM332.3 173.97h16.1v2.49h-16.1zM332.3 53.59h16.1v2.49h-16.1zM348.1 206.80h16.1v2.49h-16.1zM348.1 165.22h16.1v2.49h-16.1zM348.1 163.03h16.1v2.49h-16.1zM348.1 160.84h16.1v2.49h-16.1zM348.1 141.14h16.1v2.49h-16.1zM348.1 132.39h16.1v2.49h-16.1zM363.9 184.92h16.1v2.49h-16.1zM363.9 134.58h16.1v2.49h-16.1zM379.7 252.77h16.1v2.49h-16.1zM379.7 180.54h16.1v2.49h-16.1zM379.7 125.82h16.1v2.49h-16.1zM379.7 112.69h16.1v2.49h-16.1zM379.7 99.56h16.1v2.49h-16.1zM379.7 92.99h16.1v2.49h-16.1zM395.5 191.48h16.1v2.49h-16.1zM395.5 176.16h16.1v2.49h-16.1zM395.5 158.65h16.1v2.49h-16.1zM395.5 147.71h16.1v2.49h-16.1zM395.5 145.52h16.1v2.49h-16.1zM395.5 117.07h16.1v2.49h-16.1zM395.5 114.88h16.1v2.49h-16.1zM395.5 97.37h16.1v2.49h-16.1zM411.3 182.73h16.1v2.49h-16.1zM411.3 169.60h16.1v2.49h-16.1zM411.3 158.65h16.1v2.49h-16.1zM411.3 134.58h16.1v2.49h-16.1zM411.3 82.05h16.1v2.49h-16.1zM411.3 57.97h16.1v2.49h-16.1zM427.1 125.82h16.1v2.49h-16.1zM427.1 117.07h16.1v2.49h-16.1zM427.1 108.31h16.1v2.49h-16.1zM427.1 97.37h16.1v2.49h-16.1zM427.1 95.18h16.1v2.49h-16.1zM427.1 92.99h16.1v2.49h-16.1zM427.1 20.76h16.1v2.49h-16.1zM442.9 270.28h16.1v2.49h-16.1zM442.9 184.92h16.1v2.49h-16.1zM442.9 171.78h16.1v2.49h-16.1zM442.9 132.39h16.1v2.49h-16.1zM442.9 128.01h16.1v2.49h-16.1zM442.9 119.25h16.1v2.49h-16.1zM442.9 117.07h16.1v2.49h-16.1zM442.9 106.12h16.1v2.49h-16.1zM442.9 33.89h16.1v2.49h-16.1zM458.7 272.47h16.1v2.49h-16.1zM458.7 182.73h16.1v2.49h-16.1zM458.7 134.58h16.1v2.49h-16.1zM458.7 130.20h16.1v2.49h-16.1zM458.7 128.01h16.1v2.49h-16.1zM458.7 117.07h16.1v2.49h-16.1zM474.5 14.19h16.1v2.49h-16.1zM490.3 195.86h16.1v2.49h-16.1zM490.3 191.48h16.1v2.49h-16.1zM490.3 173.97h16.1v2.49h-16.1zM490.3 119.25h16.1v2.49h-16.1zM506.1 138.95h16.1v2.49h-16.1zM506.1 125.82h16.1v2.49h-16.1zM506.1 114.88h16.1v2.49h-16.1zM506.1 110.50h16.1v2.49h-16.1zM506.1 106.12h16.1v2.49h-16.1zM506.1 101.74h16.1v2.49h-16.1zM506.1 92.99h16.1v2.49h-16.1zM521.9 187.11h16.1v2.49h-16.1zM521.9 178.35h16.1v2.49h-16.1zM521.9 101.74h16.1v2.49h-16.1zM521.9 29.52h16.1v2.49h-16.1zM537.7 217.75h16.1v2.49h-16.1zM537.7 213.37h16.1v2.49h-16.1zM537.7 182.73h16.1v2.49h-16.1zM537.7 178.35h16.1v2.49h-16.1zM537.7 123.63h16.1v2.49h-16.1zM537.7 106.12h16.1v2.49h-16.1zM553.5 38.27h16.1v2.49h-16.1zM569.3 215.56h16.1v2.49h-16.1zM569.3 86.42h16.1v2.49h-16.1zM585.1 114.88h16.1v2.49h-16.1zM600.9 27.33h16.1v2.49h-16.1zM616.7 248.39h16.1v2.49h-16.1zM616.7 191.48h16.1v2.49h-16.1zM616.7 40.46h16.1v2.49h-16.1zM616.7 25.14h16.1v2.49h-16.1zM616.7 16.38h16.1v2.49h-16.1zM632.5 191.48h16.1v2.49h-16.1zM632.5 112.69h16.1v2.49h-16.1zM648.3 189.29h16.1v2.49h-16.1zM648.3 114.88h16.1v2.49h-16.1zM648.3 95.18h16.1v2.49h-16.1zM648.3 64.54h16.1v2.49h-16.1zM664.1 121.44h16.1v2.49h-16.1zM664.1 84.23h16.1v2.49h-16.1zM664.1 51.40h16.1v2.49h-16.1zM679.9 121.44h16.1v2.49h-16.1zM679.9 92.99h16.1v2.49h-16.1zM679.9 84.23h16.1v2.49h-16.1zM695.7 195.86h16.1v2.49h-16.1zM695.7 103.93h16.1v2.49h-16.1zM695.7 84.23h16.1v2.49h-16.1zM695.7 14.19h16.1v2.49h-16.1zM711.5 254.96h16.1v2.49h-16.1zM727.3 217.75h16.1v2.49h-16.1zM727.3 208.99h16.1v2.49h-16.1zM727.3 206.80h16.1v2.49h-16.1zM727.3 204.62h16.1v2.49h-16.1zM727.3 202.43h16.1v2.49h-16.1zM727.3 200.24h16.1v2.49h-16.1zM727.3 119.25h16.1v2.49h-16.1zM727.3 97.37h16.1v2.49h-16.1zM743.1 217.75h16.1v2.49h-16.1zM743.1 82.05h16.1v2.49h-16.1zM758.9 219.94h16.1v2.49h-16.1zM758.9 213.37h16.1v2.49h-16.1zM758.9 106.12h16.1v2.49h-16.1zM758.9 97.37h16.1v2.49h-16.1zM758.9 60.16h16.1v2.49h-16.1zM758.9 49.21h16.1v2.49h-16.1zM774.7 250.58h16.1v2.49h-16.1zM774.7 215.56h16.1v2.49h-16.1zM774.7 114.88h16.1v2.49h-16.1zM774.7 97.37h16.1v2.49h-16.1zM790.5 213.37h16.1v2.49h-16.1zM790.5 125.82h16.1v2.49h-16.1zM790.5 40.46h16.1v2.49h-16.1zM806.3 219.94h9.7v2.49h-9.7zM806.3 125.82h9.7v2.49h-9.7zM806.3 123.63h9.7v2.49h-9.7zM806.3 103.93h9.7v2.49h-9.7zM806.3 77.67h9.7v2.49h-9.7z"/>
<path fill="#97140d" d="M119.0 252.77h8.2v2.49h-8.2zM126.9 112.69h16.1v2.49h-16.1zM142.7 149.90h16.1v2.49h-16.1zM142.7 125.82h16.1v2.49h-16.1zM142.7 121.44h16.1v2.49h-16.1zM158.5 165.22h16.1v2.49h-16.1zM158.5 136.76h16.1v2.49h-16.1zM205.9 117.07h16.1v2.49h-16.1zM221.7 141.14h16.1v2.49h-16.1zM221.7 136.76h16.1v2.49h-16.1zM221.7 130.20h16.1v2.49h-16.1zM237.5 184.92h16.1v2.49h-16.1zM237.5 158.65h16.1v2.49h-16.1zM253.3 180.54h16.1v2.49h-16.1zM269.1 141.14h16.1v2.49h-16.1zM269.1 130.20h16.1v2.49h-16.1zM269.1 88.61h16.1v2.49h-16.1zM300.7 189.29h16.1v2.49h-16.1zM300.7 182.73h16.1v2.49h-16.1zM300.7 180.54h16.1v2.49h-16.1zM300.7 103.93h16.1v2.49h-16.1zM316.5 119.25h16.1v2.49h-16.1zM316.5 114.88h16.1v2.49h-16.1zM332.3 90.80h16.1v2.49h-16.1zM332.3 84.23h16.1v2.49h-16.1zM332.3 42.65h16.1v2.49h-16.1zM348.1 252.77h16.1v2.49h-16.1zM348.1 136.76h16.1v2.49h-16.1zM348.1 53.59h16.1v2.49h-16.1zM363.9 141.14h16.1v2.49h-16.1zM363.9 136.76h16.1v2.49h-16.1zM363.9 117.07h16.1v2.49h-16.1zM379.7 132.39h16.1v2.49h-16.1zM395.5 136.76h16.1v2.49h-16.1zM395.5 106.12h16.1v2.49h-16.1zM411.3 128.01h16.1v2.49h-16.1zM411.3 121.44h16.1v2.49h-16.1zM442.9 141.14h16.1v2.49h-16.1zM458.7 173.97h16.1v2.49h-16.1zM458.7 114.88h16.1v2.49h-16.1zM474.5 145.52h16.1v2.49h-16.1zM474.5 106.12h16.1v2.49h-16.1zM490.3 180.54h16.1v2.49h-16.1zM490.3 167.41h16.1v2.49h-16.1zM506.1 180.54h16.1v2.49h-16.1zM506.1 178.35h16.1v2.49h-16.1zM506.1 141.14h16.1v2.49h-16.1zM521.9 134.58h16.1v2.49h-16.1zM521.9 121.44h16.1v2.49h-16.1zM521.9 117.07h16.1v2.49h-16.1zM537.7 184.92h16.1v2.49h-16.1zM537.7 173.97h16.1v2.49h-16.1zM537.7 128.01h16.1v2.49h-16.1zM553.5 180.54h16.1v2.49h-16.1zM553.5 171.78h16.1v2.49h-16.1zM553.5 114.88h16.1v2.49h-16.1zM569.3 173.97h16.1v2.49h-16.1zM569.3 125.82h16.1v2.49h-16.1zM569.3 108.31h16.1v2.49h-16.1zM585.1 171.78h16.1v2.49h-16.1zM585.1 119.25h16.1v2.49h-16.1zM585.1 117.07h16.1v2.49h-16.1zM585.1 106.12h16.1v2.49h-16.1zM600.9 123.63h16.1v2.49h-16.1zM600.9 121.44h16.1v2.49h-16.1zM616.7 182.73h16.1v2.49h-16.1zM616.7 110.50h16.1v2.49h-16.1zM632.5 121.44h16.1v2.49h-16.1zM632.5 114.88h16.1v2.49h-16.1zM632.5 106.12h16.1v2.49h-16.1zM632.5 25.14h16.1v2.49h-16.1zM664.1 187.11h16.1v2.49h-16.1zM664.1 184.92h16.1v2.49h-16.1zM664.1 27.33h16.1v2.49h-16.1zM679.9 101.74h16.1v2.49h-16.1zM695.7 29.52h16.1v2.49h-16.1zM711.5 235.26h16.1v2.49h-16.1zM711.5 82.05h16.1v2.49h-16.1zM743.1 215.56h16.1v2.49h-16.1zM743.1 208.99h16.1v2.49h-16.1zM743.1 125.82h16.1v2.49h-16.1zM743.1 49.21h16.1v2.49h-16.1zM743.1 47.03h16.1v2.49h-16.1zM758.9 27.33h16.1v2.49h-16.1zM774.7 125.82h16.1v2.49h-16.1zM774.7 112.69h16.1v2.49h-16.1zM806.3 119.25h9.7v2.49h-9.7zM806.3 42.65h9.7v2.49h-9.7z"/>
<path fill="#8c130c" d="M119.0 250.58h8.2v2.49h-8.2zM119.0 198.05h8.2v2.49h-8.2zM119.0 158.65h8.2v2.49h-8.2zM119.0 154.27h8.2v2.49h-8.2zM119.0 123.63h8.2v2.49h-8.2zM119.0 88.61h8.2v2.49h-8.2zM119.0 18.57h8.2v2.49h-8.2zM126.9 138.95h16.1v2.49h-16.1zM142.7 239.64h16.1v2.49h-16.1zM142.7 182.73h16.1v2.49h-16.1zM142.7 171.78h16.1v2.49h-16.1zM142.7 163.03h16.1v2.49h-16.1zM142.7 145.52h16.1v2.49h-16.1zM142.7 138.95h16.1v2.49h-16.1zM142.7 132.39h16.1v2.49h-16.1zM142.7 97.37h16.1v2.49h-16.1zM142.7 79.86h16.1v2.49h-16.1zM142.7 16.38h16.1v2.49h-16.1zM158.5 289.98h16.1v2.49h-16.1zM158.5 244.01h16.1v2.49h-16.1zM158.5 233.07h16.1v2.49h-16.1zM158.5 213.37h16.1v2.49h-16.1zM158.5 112.69h16.1v2.49h-16.1zM158.5 92.99h16.1v2.49h-16.1zM174.3 252.77h16.1v2.49h-16.1zM174.3 180.54h16.1v2.49h-16.1zM174.3 173.97h16.1v2.49h-16.1zM174.3 163.03h16.1v2.49h-16.1zM174.3 106.12h16.1v2.49h-16.1zM174.3 88.61h16.1v2.49h-16.1zM174.3 29.52h16.1v2.49h-16.1zM174.3 27.33h16.1v2.49h-16.1zM190.1 261.52h16.1v2.49h-16.1zM190.1 217.75h16.1v2.49h-16.1zM190.1 171.78h16.1v2.49h-16.1zM190.1 169.60h16.1v2.49h-16.1zM190.1 167.41h16.1v2.49h-16.1zM190.1 130.20h16.1v2.49h-16.1zM190.1 106.12h16.1v2.49h-16.1zM205.9 265.90h16.1v2.49h-16.1zM205.9 263.71h16.1v2.49h-16.1zM205.9 167.41h16.1v2.49h-16.1zM205.9 165.22h16.1v2.49h-16.1zM205.9 152.09h16.1v2.49h-16.1zM205.9 143.33h16.1v2.49h-16.1zM205.9 134.58h16.1v2.49h-16.1zM221.7 213.37h16.1v2.49h-16.1zM221.7 211.18h16.1v2.49h-16.1zM221.7 184.92h16.1v2.49h-16.1zM221.7 132.39h16.1v2.49h-16.1zM221.7 92.99h16.1v2.49h-16.1zM221.7 84.23h16.1v2.49h-16.1zM237.5 211.18h16.1v2.49h-16.1zM237.5 208.99h16.1v2.49h-16.1zM237.5 189.29h16.1v2.49h-16.1zM237.5 152.09h16.1v2.49h-16.1zM237.5 147.71h16.1v2.49h-16.1zM237.5 119.25h16.1v2.49h-16.1zM253.3 244.01h16.1v2.49h-16.1zM253.3 51.40h16.1v2.49h-16.1zM253.3 20.76h16.1v2.49h-16.1zM269.1 208.99h16.1v2.49h-16.1zM269.1 156.46h16.1v2.49h-16.1zM269.1 152.09h16.1v2.49h-16.1zM269.1 138.95h16.1v2.49h-16.1zM269.1 119.25h16.1v2.49h-16.1zM269.1 97.37h16.1v2.49h-16.1zM269.1 44.84h16.1v2.49h-16.1zM269.1 22.95h16.1v2.49h-16.1zM284.9 204.62h16.1v2.49h-16.1zM284.9 180.54h16.1v2.49h-16.1zM284.9 141.14h16.1v2.49h-16.1zM284.9 121.44h16.1v2.49h-16.1zM284.9 119.25h16.1v2.49h-16.1zM284.9 103.93h16.1v2.49h-16.1zM300.7 213.37h16.1v2.49h-16.1zM300.7 198.05h16.1v2.49h-16.1zM300.7 184.92h16.1v2.49h-16.1zM300.7 121.44h16.1v2.49h-16.1zM300.7 114.88h16.1v2.49h-16.1zM300.7 101.74h16.1v2.49h-16.1zM300.7 25.14h16.1v2.49h-16.1zM316.5 128.01h16.1v2.49h-16.1zM316.5 123.63h16.1v2.49h-16.1zM316.5 117.07h16.1v2.49h-16.1zM316.5 108.31h16.1v2.49h-16.1zM316.5 49.21h16.1v2.49h-16.1zM316.5 38.27h16.1v2.49h-16.1zM316.5 14.19h16.1v2.49h-16.1zM316.5 13.10h16.1v1.39h-16.1zM332.3 182.73h16.1v2.49h-16.1zM332.3 160.84h16.1v2.49h-16.1zM332.3 152.09h16.1v2.49h-16.1zM332.3 147.71h16.1v2.49h-16.1zM332.3 77.67h16.1v2.49h-16.1zM332.3 51.40h16.1v2.49h-16.1zM348.1 215.56h16.1v2.49h-16.1zM348.1 204.62h16.1v2.49h-16.1zM348.1 195.86h16.1v2.49h-16.1zM348.1 182.73h16.1v2.49h-16.1zM348.1 114.88h16.1v2.49h-16.1zM348.1 95.18h16.1v2.49h-16.1zM348.1 55.78h16.1v2.49h-16.1zM363.9 261.52h16.1v2.49h-16.1zM363.9 132.39h16.1v2.49h-16.1zM363.9 128.01h16.1v2.49h-16.1zM363.9 121.44h16.1v2.49h-16.1zM363.9 29.52h16.1v2.49h-16.1zM379.7 274.66h16.1v2.49h-16.1zM379.7 254.96h16.1v2.49h-16.1zM379.7 149.90h16.1v2.49h-16.1zM379.7 130.20h16.1v2.49h-16.1zM379.7 101.74h16.1v2.49h-16.1zM379.7 97.37h16.1v2.49h-16.1zM379.7 57.97h16.1v2.49h-16.1zM395.5 154.27h16.1v2.49h-16.1zM395.5 101.74h16.1v2.49h-16.1zM395.5 99.56h16.1v2.49h-16.1zM395.5 95.18h16.1v2.49h-16.1zM411.3 222.13h16.1v2.49h-16.1zM411.3 208.99h16.1v2.49h-16.1zM411.3 173.97h16.1v2.49h-16.1zM411.3 167.41h16.1v2.49h-16.1zM411.3 160.84h16.1v2.49h-16.1zM411.3 147.71h16.1v2.49h-16.1zM411.3 136.76h16.1v2.49h-16.1zM411.3 119.25h16.1v2.49h-16.1zM411.3 84.23h16.1v2.49h-16.1zM411.3 44.84h16.1v2.49h-16.1zM427.1 178.35h16.1v2.49h-16.1zM427.1 119.25h16.1v2.49h-16.1zM427.1 29.52h16.1v2.49h-16.1zM442.9 250.58h16.1v2.49h-16.1zM442.9 235.26h16.1v2.49h-16.1zM442.9 125.82h16.1v2.49h-16.1zM442.9 92.99h16.1v2.49h-16.1zM442.9 18.57h16.1v2.49h-16.1zM458.7 270.28h16.1v2.49h-16.1zM458.7 169.60h16.1v2.49h-16.1zM458.7 145.52h16.1v2.49h-16.1zM458.7 119.25h16.1v2.49h-16.1zM458.7 110.50h16.1v2.49h-16.1zM458.7 18.57h16.1v2.49h-16.1zM474.5 191.48h16.1v2.49h-16.1zM474.5 134.58h16.1v2.49h-16.1zM474.5 125.82h16.1v2.49h-16.1zM474.5 112.69h16.1v2.49h-16.1zM474.5 88.61h16.1v2.49h-16.1zM474.5 84.23h16.1v2.49h-16.1zM474.5 16.38h16.1v2.49h-16.1zM490.3 213.37h16.1v2.49h-16.1zM490.3 189.29h16.1v2.49h-16.1zM490.3 176.16h16.1v2.49h-16.1zM490.3 117.07h16.1v2.49h-16.1zM490.3 112.69h16.1v2.49h-16.1zM506.1 228.69h16.1v2.49h-16.1zM506.1 136.76h16.1v2.49h-16.1zM506.1 130.20h16.1v2.49h-16.1zM506.1 108.31h16.1v2.49h-16.1zM521.9 261.52h16.1v2.49h-16.1zM521.9 108.31h16.1v2.49h-16.1zM537.7 244.01h16.1v2.49h-16.1zM553.5 213.37h16.1v2.49h-16.1zM553.5 208.99h16.1v2.49h-16.1zM553.5 195.86h16.1v2.49h-16.1zM553.5 123.63h16.1v2.49h-16.1zM553.5 119.25h16.1v2.49h-16.1zM553.5 64.54h16.1v2.49h-16.1zM569.3 235.26h16.1v2.49h-16.1zM569.3 101.74h16.1v2.49h-16.1zM569.3 92.99h16.1v2.49h-16.1zM585.1 204.62h16.1v2.49h-16.1zM600.9 226.50h16.1v2.49h-16.1zM600.9 180.54h16.1v2.49h-16.1zM600.9 114.88h16.1v2.49h-16.1zM600.9 64.54h16.1v2.49h-16.1zM616.7 244.01h16.1v2.49h-16.1zM616.7 241.82h16.1v2.49h-16.1zM616.7 235.26h16.1v2.49h-16.1zM616.7 198.05h16.1v2.49h-16.1zM616.7 189.29h16.1v2.49h-16.1zM616.7 112.69h16.1v2.49h-16.1zM616.7 103.93h16.1v2.49h-16.1zM616.7 60.16h16.1v2.49h-16.1zM616.7 31.70h16.1v2.49h-16.1zM616.7 29.52h16.1v2.49h-16.1zM632.5 213.37h16.1v2.49h-16.1zM632.5 184.92h16.1v2.49h-16.1zM648.3 84.23h16.1v2.49h-16.1zM648.3 62.35h16.1v2.49h-16.1zM648.3 40.46h16.1v2.49h-16.1zM664.1 101.74h16.1v2.49h-16.1zM679.9 259.33h16.1v2.49h-16.1zM679.9 250.58h16.1v2.49h-16.1zM679.9 219.94h16.1v2.49h-16.1zM679.9 191.48h16.1v2.49h-16.1zM679.9 123.63h16.1v2.49h-16.1zM679.9 117.07h16.1v2.49h-16.1zM679.9 14.19h16.1v2.49h-16.1zM695.7 259.33h16.1v2.49h-16.1zM695.7 235.26h16.1v2.49h-16.1zM695.7 97.37h16.1v2.49h-16.1zM695.7 27.33h16.1v2.49h-16.1zM711.5 230.88h16.1v2.49h-16.1zM711.5 123.63h16.1v2.49h-16.1zM711.5 36.08h16.1v2.49h-16.1zM711.5 27.33h16.1v2.49h-16.1zM727.3 235.26h16.1v2.49h-16.1zM727.3 224.31h16.1v2.49h-16.1zM727.3 215.56h16.1v2.49h-16.1zM727.3 82.05h16.1v2.49h-16.1zM727.3 55.78h16.1v2.49h-16.1zM727.3 49.21h16.1v2.49h-16.1zM727.3 44.84h16.1v2.49h-16.1zM743.1 211.18h16.1v2.49h-16.1zM743.1 51.40h16.1v2.49h-16.1zM743.1 27.33h16.1v2.49h-16.1zM758.9 233.07h16.1v2.49h-16.1zM758.9 217.75h16.1v2.49h-16.1zM758.9 211.18h16.1v2.49h-16.1zM758.9 110.50h16.1v2.49h-16.1zM758.9 103.93h16.1v2.49h-16.1zM758.9 101.74h16.1v2.49h-16.1zM758.9 95.18h16.1v2.49h-16.1zM758.9 47.03h16.1v2.49h-16.1zM758.9 42.65h16.1v2.49h-16.1zM774.7 121.44h16.1v2.49h-16.1zM774.7 108.31h16.1v2.49h-16.1zM790.5 250.58h16.1v2.49h-16.1zM790.5 119.25h16.1v2.49h-16.1zM806.3 215.56h9.7v2.49h-9.7zM806.3 112.69h9.7v2.49h-9.7zM806.3 25.14h9.7v2.49h-9.7z"/>
<path fill="#84130c" d="M119.0 248.39h8.2v2.49h-8.2zM119.0 244.01h8.2v2.49h-8.2zM119.0 233.07h8.2v2.49h-8.2zM119.0 217.75h8.2v2.49h-8.2zM119.0 149.90h8.2v2.49h-8.2zM119.0 125.82h8.2v2.49h-8.2zM119.0 99.56h8.2v2.49h-8.2zM119.0 92.99h8.2v2.49h-8.2zM119.0 60.16h8.2v2.49h-8.2zM126.9 239.64h16.1v2.49h-16.1zM126.9 233.07h16.1v2.49h-16.1zM126.9 224.31h16.1v2.49h-16.1zM126.9 217.75h16.1v2.49h-16.1zM126.9 193.67h16.1v2.49h-16.1zM126.9 167.41h16.1v2.49h-16.1zM126.9 149.90h16.1v2.49h-16.1zM126.9 147.71h16.1v2.49h-16.1zM126.9 114.88h16.1v2.49h-16.1zM126.9 92.99h16.1v2.49h-16.1zM126.9 47.03h16.1v2.49h-16.1zM126.9 27.33h16.1v2.49h-16.1zM126.9 22.95h16.1v2.49h-16.1zM126.9 18.57h16.1v2.49h-16.1zM142.7 270.28h16.1v2.49h-16.1zM142.7 167.41h16.1v2.49h-16.1zM142.7 143.33h16.1v2.49h-16.1zM142.7 99.56h16.1v2.49h-16.1zM142.7 40.46h16.1v2.49h-16.1zM142.7 20.76h16.1v2.49h-16.1zM158.5 270.28h16.1v2.49h-16.1zM158.5 230.88h16.1v2.49h-16.1zM158.5 219.94h16.1v2.49h-16.1zM158.5 180.54h16.1v2.49h-16.1zM158.5 154.27h16.1v2.49h-16.1zM158.5 145.52h16.1v2.49h-16.1zM158.5 106.12h16.1v2.49h-16.1zM158.5 101.74h16.1v2.49h-16.1zM158.5 82.05h16.1v2.49h-16.1zM158.5 68.91h16.1v2.49h-16.1zM174.3 206.80h16.1v2.49h-16.1zM174.3 204.62h16.1v2.49h-16.1zM174.3 184.92h16.1v2.49h-16.1zM174.3 171.78h16.1v2.49h-16.1zM174.3 152.09h16.1v2.49h-16.1zM174.3 128.01h16.1v2.49h-16.1zM174.3 125.82h16.1v2.49h-16.1zM174.3 82.05h16.1v2.49h-16.1zM174.3 64.54h16.1v2.49h-16.1zM174.3 55.78h16.1v2.49h-16.1zM174.3 51.40h16.1v2.49h-16.1zM174.3 20.76h16.1v2.49h-16.1zM190.1 263.71h16.1v2.49h-16.1zM190.1 250.58h16.1v2.49h-16.1zM190.1 176.16h16.1v2.49h-16.1zM190.1 158.65h16.1v2.49h-16.1zM190.1 112.69h16.1v2.49h-16.1zM190.1 82.05h16.1v2.49h-16.1zM190.1 31.70h16.1v2.49h-16.1zM190.1 29.52h16.1v2.49h-16.1zM205.9 272.47h16.1v2.49h-16.1zM205.9 244.01h16.1v2.49h-16.1zM205.9 226.50h16.1v2.49h-16.1zM205.9 208.99h16.1v2.49h-16.1zM205.9 206.80h16.1v2.49h-16.1zM205.9 189.29h16.1v2.49h-16.1zM205.9 36.08h16.1v2.49h-16.1zM221.7 274.66h16.1v2.49h-16.1zM221.7 215.56h16.1v2.49h-16.1zM221.7 180.54h16.1v2.49h-16.1zM221.7 169.60h16.1v2.49h-16.1zM221.7 167.41h16.1v2.49h-16.1zM221.7 103.93h16.1v2.49h-16.1zM221.7 90.80h16.1v2.49h-16.1zM221.7 47.03h16.1v2.49h-16.1zM221.7 40.46h16.1v2.49h-16.1zM237.5 272.47h16.1v2.49h-16.1zM237.5 244.01h16.1v2.49h-16.1zM237.5 239.64h16.1v2.49h-16.1zM237.5 222.13h16.1v2.49h-16.1zM237.5 219.94h16.1v2.49h-16.1zM237.5 143.33h16.1v2.49h-16.1zM237.5 128.01h16.1v2.49h-16.1zM237.5 125.82h16.1v2.49h-16.1zM237.5 123.63h16.1v2.49h-16.1zM237.5 110.50h16.1v2.49h-16.1zM237.5 14.19h16.1v2.49h-16.1zM253.3 213.37h16.1v2.49h-16.1zM253.3 198.05h16.1v2.49h-16.1zM253.3 152.09h16.1v2.49h-16.1zM253.3 110.50h16.1v2.49h-16.1zM253.3 88.61h16.1v2.49h-16.1zM253.3 86.42h16.1v2.49h-16.1zM253.3 84.23h16.1v2.49h-16.1zM253.3 66.72h16.1v2.49h-16.1zM253.3 31.70h16.1v2.49h-16.1zM269.1 272.47h16.1v2.49h-16.1zM269.1 270.28h16.1v2.49h-16.1zM269.1 244.01h16.1v2.49h-16.1zM269.1 226.50h16.1v2.49h-16.1zM269.1 215.56h16.1v2.49h-16.1zM269.1 195.86h16.1v2.49h-16.1zM269.1 178.35h16.1v2.49h-16.1zM269.1 176.16h16.1v2.49h-16.1zM269.1 173.97h16.1v2.49h-16.1zM269.1 154.27h16.1v2.49h-16.1zM269.1 16.38h16.1v2.49h-16.1zM284.9 272.47h16.1v2.49h-16.1zM284.9 219.94h16.1v2.49h-16.1zM284.9 202.43h16.1v2.49h-16.1zM284.9 189.29h16.1v2.49h-16.1zM284.9 178.35h16.1v2.49h-16.1zM284.9 176.16h16.1v2.49h-16.1zM284.9 154.27h16.1v2.49h-16.1zM284.9 95.18h16.1v2.49h-16.1zM300.7 250.58h16.1v2.49h-16.1zM300.7 244.01h16.1v2.49h-16.1zM300.7 215.56h16.1v2.49h-16.1zM300.7 204.62h16.1v2.49h-16.1zM300.7 193.67h16.1v2.49h-16.1zM300.7 187.11h16.1v2.49h-16.1zM300.7 167.41h16.1v2.49h-16.1zM300.7 156.46h16.1v2.49h-16.1zM300.7 141.14h16.1v2.49h-16.1zM300.7 90.80h16.1v2.49h-16.1zM300.7 84.23h16.1v2.49h-16.1zM300.7 82.05h16.1v2.49h-16.1zM300.7 68.91h16.1v2.49h-16.1zM316.5 250.58h16.1v2.49h-16.1zM316.5 215.56h16.1v2.49h-16.1zM316.5 193.67h16.1v2.49h-16.1zM316.5 154.27h16.1v2.49h-16.1zM316.5 145.52h16.1v2.49h-16.1zM316.5 125.82h16.1v2.49h-16.1zM316.5 110.50h16.1v2.49h-16.1zM316.5 47.03h16.1v2.49h-16.1zM316.5 40.46h16.1v2.49h-16.1zM332.3 250.58h16.1v2.49h-16.1zM332.3 241.82h16.1v2.49h-16.1zM332.3 226.50h16.1v2.49h-16.1zM332.3 200.24h16.1v2.49h-16.1zM332.3 189.29h16.1v2.49h-16.1zM332.3 184.92h16.1v2.49h-16.1zM332.3 163.03h16.1v2.49h-16.1zM332.3 158.65h16.1v2.49h-16.1zM332.3 88.61h16.1v2.49h-16.1zM348.1 235.26h16.1v2.49h-16.1zM348.1 224.31h16.1v2.49h-16.1zM348.1 169.60h16.1v2.49h-16.1zM348.1 149.90h16.1v2.49h-16.1zM348.1 147.71h16.1v2.49h-16.1zM348.1 110.50h16.1v2.49h-16.1zM348.1 108.31h16.1v2.49h-16.1zM348.1 88.61h16.1v2.49h-16.1zM348.1 22.95h16.1v2.49h-16.1zM348.1 20.76h16.1v2.49h-16.1zM363.9 222.13h16.1v2.49h-16.1zM363.9 114.88h16.1v2.49h-16.1zM363.9 101.74h16.1v2.49h-16.1zM363.9 25.14h16.1v2.49h-16.1zM379.7 259.33h16.1v2.49h-16.1zM379.7 241.82h16.1v2.49h-16.1zM379.7 191.48h16.1v2.49h-16.1zM379.7 128.01h16.1v2.49h-16.1zM379.7 123.63h16.1v2.49h-16.1zM379.7 119.25h16.1v2.49h-16.1zM379.7 110.50h16.1v2.49h-16.1zM379.7 108.31h16.1v2.49h-16.1zM379.7 103.93h16.1v2.49h-16.1zM379.7 79.86h16.1v2.49h-16.1zM379.7 49.21h16.1v2.49h-16.1zM379.7 33.89h16.1v2.49h-16.1zM379.7 25.14h16.1v2.49h-16.1zM395.5 226.50h16.1v2.49h-16.1zM395.5 178.35h16.1v2.49h-16.1zM395.5 173.97h16.1v2.49h-16.1zM395.5 141.14h16.1v2.49h-16.1zM395.5 103.93h16.1v2.49h-16.1zM395.5 49.21h16.1v2.49h-16.1zM395.5 47.03h16.1v2.49h-16.1zM411.3 254.96h16.1v2.49h-16.1zM411.3 233.07h16.1v2.49h-16.1zM411.3 165.22h16.1v2.49h-16.1zM411.3 123.63h16.1v2.49h-16.1zM411.3 112.69h16.1v2.49h-16.1zM411.3 110.50h16.1v2.49h-16.1zM411.3 99.56h16.1v2.49h-16.1zM427.1 254.96h16.1v2.49h-16.1zM427.1 252.77h16.1v2.49h-16.1zM427.1 239.64h16.1v2.49h-16.1zM427.1 235.26h16.1v2.49h-16.1zM427.1 195.86h16.1v2.49h-16.1zM427.1 145.52h16.1v2.49h-16.1zM427.1 99.56h16.1v2.49h-16.1zM427.1 60.16h16.1v2.49h-16.1zM427.1 55.78h16.1v2.49h-16.1zM442.9 200.24h16.1v2.49h-16.1zM442.9 189.29h16.1v2.49h-16.1zM442.9 112.69h16.1v2.49h-16.1zM442.9 99.56h16.1v2.49h-16.1zM442.9 68.91h16.1v2.49h-16.1zM442.9 55.78h16.1v2.49h-16.1zM442.9 29.52h16.1v2.49h-16.1zM458.7 274.66h16.1v2.49h-16.1zM458.7 250.58h16.1v2.49h-16.1zM458.7 206.80h16.1v2.49h-16.1zM458.7 189.29h16.1v2.49h-16.1zM458.7 187.11h16.1v2.49h-16.1zM458.7 184.92h16.1v2.49h-16.1zM458.7 180.54h16.1v2.49h-16.1zM458.7 178.35h16.1v2.49h-16.1zM458.7 112.69h16.1v2.49h-16.1zM458.7 108.31h16.1v2.49h-16.1zM458.7 77.67h16.1v2.49h-16.1zM458.7 51.40h16.1v2.49h-16.1zM458.7 38.27h16.1v2.49h-16.1zM458.7 25.14h16.1v2.49h-16.1zM458.7 22.95h16.1v2.49h-16.1zM458.7 16.38h16.1v2.49h-16.1zM474.5 274.66h16.1v2.49h-16.1zM474.5 270.28h16.1v2.49h-16.1zM474.5 228.69h16.1v2.49h-16.1zM474.5 187.11h16.1v2.49h-16.1zM474.5 180.54h16.1v2.49h-16.1zM474.5 123.63h16.1v2.49h-16.1zM474.5 119.25h16.1v2.49h-16.1zM474.5 110.50h16.1v2.49h-16.1zM474.5 97.37h16.1v2.49h-16.1zM474.5 92.99h16.1v2.49h-16.1zM474.5 38.27h16.1v2.49h-16.1zM474.5 31.70h16.1v2.49h-16.1zM474.5 18.57h16.1v2.49h-16.1zM474.5 13.10h16.1v1.39h-16.1zM490.3 134.58h16.1v2.49h-16.1zM490.3 130.20h16.1v2.49h-16.1zM490.3 110.50h16.1v2.49h-16.1zM490.3 101.74h16.1v2.49h-16.1zM490.3 95.18h16.1v2.49h-16.1zM490.3 42.65h16.1v2.49h-16.1zM490.3 29.52h16.1v2.49h-16.1zM490.3 16.38h16.1v2.49h-16.1zM506.1 230.88h16.1v2.49h-16.1zM506.1 189.29h16.1v2.49h-16.1zM506.1 132.39h16.1v2.49h-16.1zM506.1 128.01h16.1v2.49h-16.1zM506.1 121.44h16.1v2.49h-16.1zM506.1 90.80h16.1v2.49h-16.1zM506.1 13.10h16.1v1.39h-16.1zM521.9 252.77h16.1v2.49h-16.1zM521.9 224.31h16.1v2.49h-16.1zM521.9 208.99h16.1v2.49h-16.1zM521.9 189.29h16.1v2.49h-16.1zM521.9 180.54h16.1v2.49h-16.1zM521.9 95.18h16.1v2.49h-16.1zM521.9 40.46h16.1v2.49h-16.1zM521.9 33.89h16.1v2.49h-16.1zM537.7 259.33h16.1v2.49h-16.1zM537.7 222.13h16.1v2.49h-16.1zM537.7 71.10h16.1v2.49h-16.1zM537.7 38.27h16.1v2.49h-16.1zM537.7 16.38h16.1v2.49h-16.1zM553.5 259.33h16.1v2.49h-16.1zM553.5 250.58h16.1v2.49h-16.1zM553.5 224.31h16.1v2.49h-16.1zM553.5 176.16h16.1v2.49h-16.1zM553.5 53.59h16.1v2.49h-16.1zM553.5 40.46h16.1v2.49h-16.1zM553.5 29.52h16.1v2.49h-16.1zM569.3 244.01h16.1v2.49h-16.1zM569.3 95.18h16.1v2.49h-16.1zM569.3 40.46h16.1v2.49h-16.1zM569.3 36.08h16.1v2.49h-16.1zM569.3 16.38h16.1v2.49h-16.1zM585.1 235.26h16.1v2.49h-16.1zM585.1 200.24h16.1v2.49h-16.1zM585.1 189.29h16.1v2.49h-16.1zM585.1 184.92h16.1v2.49h-16.1zM585.1 180.54h16.1v2.49h-16.1zM585.1 110.50h16.1v2.49h-16.1zM585.1 108.31h16.1v2.49h-16.1zM585.1 97.37h16.1v2.49h-16.1zM585.1 90.80h16.1v2.49h-16.1zM585.1 86.42h16.1v2.49h-16.1zM585.1 79.86h16.1v2.49h-16.1zM600.9 263.71h16.1v2.49h-16.1zM600.9 250.58h16.1v2.49h-16.1zM600.9 235.26h16.1v2.49h-16.1zM600.9 204.62h16.1v2.49h-16.1zM600.9 99.56h16.1v2.49h-16.1zM600.9 82.05h16.1v2.49h-16.1zM600.9 73.29h16.1v2.49h-16.1zM600.9 66.72h16.1v2.49h-16.1zM616.7 270.28h16.1v2.49h-16.1zM616.7 261.52h16.1v2.49h-16.1zM616.7 250.58h16.1v2.49h-16.1zM616.7 226.50h16.1v2.49h-16.1zM616.7 213.37h16.1v2.49h-16.1zM616.7 97.37h16.1v2.49h-16.1zM616.7 33.89h16.1v2.49h-16.1zM632.5 257.15h16.1v2.49h-16.1zM632.5 254.96h16.1v2.49h-16.1zM632.5 206.80h16.1v2.49h-16.1zM632.5 195.86h16.1v2.49h-16.1zM632.5 99.56h16.1v2.49h-16.1zM632.5 42.65h16.1v2.49h-16.1zM632.5 40.46h16.1v2.49h-16.1zM632.5 29.52h16.1v2.49h-16.1zM632.5 27.33h16.1v2.49h-16.1zM648.3 217.75h16.1v2.49h-16.1zM648.3 204.62h16.1v2.49h-16.1zM648.3 202.43h16.1v2.49h-16.1zM648.3 97.37h16.1v2.49h-16.1zM648.3 68.91h16.1v2.49h-16.1zM648.3 66.72h16.1v2.49h-16.1zM648.3 57.97h16.1v2.49h-16.1zM648.3 31.70h16.1v2.49h-16.1zM664.1 213.37h16.1v2.49h-16.1zM664.1 206.80h16.1v2.49h-16.1zM664.1 108.31h16.1v2.49h-16.1zM664.1 97.37h16.1v2.49h-16.1zM664.1 90.80h16.1v2.49h-16.1zM664.1 68.91h16.1v2.49h-16.1zM664.1 40.46h16.1v2.49h-16.1zM664.1 25.14h16.1v2.49h-16.1zM679.9 270.28h16.1v2.49h-16.1zM679.9 237.45h16.1v2.49h-16.1zM679.9 208.99h16.1v2.49h-16.1zM679.9 204.62h16.1v2.49h-16.1zM679.9 90.80h16.1v2.49h-16.1zM679.9 66.72h16.1v2.49h-16.1zM679.9 18.57h16.1v2.49h-16.1zM695.7 250.58h16.1v2.49h-16.1zM695.7 198.05h16.1v2.49h-16.1zM695.7 108.31h16.1v2.49h-16.1zM695.7 92.99h16.1v2.49h-16.1zM695.7 86.42h16.1v2.49h-16.1zM695.7 82.05h16.1v2.49h-16.1zM695.7 47.03h16.1v2.49h-16.1zM695.7 31.70h16.1v2.49h-16.1zM695.7 18.57h16.1v2.49h-16.1zM711.5 217.75h16.1v2.49h-16.1zM711.5 101.74h16.1v2.49h-16.1zM711.5 88.61h16.1v2.49h-16.1zM711.5 51.40h16.1v2.49h-16.1zM711.5 44.84h16.1v2.49h-16.1zM711.5 42.65h16.1v2.49h-16.1zM727.3 259.33h16.1v2.49h-16.1zM727.3 213.37h16.1v2.49h-16.1zM727.3 123.63h16.1v2.49h-16.1zM727.3 40.46h16.1v2.49h-16.1zM743.1 106.12h16.1v2.49h-16.1zM743.1 84.23h16.1v2.49h-16.1zM743.1 73.29h16.1v2.49h-16.1zM743.1 71.10h16.1v2.49h-16.1zM743.1 66.72h16.1v2.49h-16.1zM743.1 60.16h16.1v2.49h-16.1zM743.1 20.76h16.1v2.49h-16.1zM758.9 259.33h16.1v2.49h-16.1zM758.9 22.95h16.1v2.49h-16.1zM758.9 20.76h16.1v2.49h-16.1zM758.9 18.57h16.1v2.49h-16.1zM774.7 257.15h16.1v2.49h-16.1zM774.7 64.54h16.1v2.49h-16.1zM790.5 103.93h16.1v2.49h-16.1zM790.5 44.84h16.1v2.49h-16.1zM790.5 16.38h16.1v2.49h-16.1zM790.5 13.10h16.1v1.39h-16.1zM806.3 237.45h9.7v2.49h-9.7zM806.3 97.37h9.7v2.49h-9.7zM806.3 95.18h9.7v2.49h-9.7zM806.3 75.48h9.7v2.49h-9.7zM806.3 49.21h9.7v2.49h-9.7zM806.3 44.84h9.7v2.49h-9.7zM806.3 22.95h9.7v2.49h-9.7zM806.3 16.38h9.7v2.49h-9.7z"/>
<path fill="#86130c" d="M119.0 246.20h8.2v2.49h-8.2zM119.0 239.64h8.2v2.49h-8.2zM119.0 237.45h8.2v2.49h-8.2zM119.0 235.26h8.2v2.49h-8.2zM119.0 143.33h8.2v2.49h-8.2zM119.0 141.14h8.2v2.49h-8.2zM119.0 136.76h8.2v2.49h-8.2zM119.0 121.44h8.2v2.49h-8.2zM119.0 117.07h8.2v2.49h-8.2zM119.0 103.93h8.2v2.49h-8.2zM119.0 97.37h8.2v2.49h-8.2zM119.0 86.42h8.2v2.49h-8.2zM119.0 55.78h8.2v2.49h-8.2zM119.0 29.52h8.2v2.49h-8.2zM126.9 272.47h16.1v2.49h-16.1zM126.9 213.37h16.1v2.49h-16.1zM126.9 184.92h16.1v2.49h-16.1zM126.9 156.46h16.1v2.49h-16.1zM126.9 125.82h16.1v2.49h-16.1zM126.9 108.31h16.1v2.49h-16.1zM126.9 101.74h16.1v2.49h-16.1zM126.9 53.59h16.1v2.49h-16.1zM126.9 20.76h16.1v2.49h-16.1zM142.7 259.33h16.1v2.49h-16.1zM142.7 248.39h16.1v2.49h-16.1zM142.7 246.20h16.1v2.49h-16.1zM142.7 230.88h16.1v2.49h-16.1zM142.7 187.11h16.1v2.49h-16.1zM142.7 184.92h16.1v2.49h-16.1zM142.7 82.05h16.1v2.49h-16.1zM142.7 57.97h16.1v2.49h-16.1zM158.5 274.66h16.1v2.49h-16.1zM158.5 241.82h16.1v2.49h-16.1zM158.5 239.64h16.1v2.49h-16.1zM158.5 163.03h16.1v2.49h-16.1zM158.5 147.71h16.1v2.49h-16.1zM158.5 141.14h16.1v2.49h-16.1zM158.5 130.20h16.1v2.49h-16.1zM158.5 99.56h16.1v2.49h-16.1zM158.5 90.80h16.1v2.49h-16.1zM158.5 84.23h16.1v2.49h-16.1zM158.5 79.86h16.1v2.49h-16.1zM158.5 33.89h16.1v2.49h-16.1zM158.5 31.70h16.1v2.49h-16.1zM174.3 237.45h16.1v2.49h-16.1zM174.3 235.26h16.1v2.49h-16.1zM174.3 219.94h16.1v2.49h-16.1zM174.3 169.60h16.1v2.49h-16.1zM174.3 136.76h16.1v2.49h-16.1zM174.3 130.20h16.1v2.49h-16.1zM174.3 119.25h16.1v2.49h-16.1zM174.3 117.07h16.1v2.49h-16.1zM174.3 92.99h16.1v2.49h-16.1zM174.3 86.42h16.1v2.49h-16.1zM174.3 44.84h16.1v2.49h-16.1zM174.3 31.70h16.1v2.49h-16.1zM174.3 25.14h16.1v2.49h-16.1zM190.1 237.45h16.1v2.49h-16.1zM190.1 182.73h16.1v2.49h-16.1zM190.1 173.97h16.1v2.49h-16.1zM190.1 128.01h16.1v2.49h-16.1zM190.1 108.31h16.1v2.49h-16.1zM190.1 86.42h16.1v2.49h-16.1zM190.1 38.27h16.1v2.49h-16.1zM190.1 33.89h16.1v2.49h-16.1zM205.9 217.75h16.1v2.49h-16.1zM205.9 176.16h16.1v2.49h-16.1zM205.9 173.97h16.1v2.49h-16.1zM205.9 158.65h16.1v2.49h-16.1zM205.9 136.76h16.1v2.49h-16.1zM205.9 82.05h16.1v2.49h-16.1zM205.9 40.46h16.1v2.49h-16.1zM205.9 33.89h16.1v2.49h-16.1zM221.7 259.33h16.1v2.49h-16.1zM221.7 250.58h16.1v2.49h-16.1zM221.7 219.94h16.1v2.49h-16.1zM221.7 195.86h16.1v2.49h-16.1zM221.7 193.67h16.1v2.49h-16.1zM221.7 173.97h16.1v2.49h-16.1zM221.7 145.52h16.1v2.49h-16.1zM221.7 97.37h16.1v2.49h-16.1zM221.7 88.61h16.1v2.49h-16.1zM221.7 36.08h16.1v2.49h-16.1zM221.7 33.89h16.1v2.49h-16.1zM221.7 31.70h16.1v2.49h-16.1zM237.5 224.31h16.1v2.49h-16.1zM237.5 198.05h16.1v2.49h-16.1zM237.5 191.48h16.1v2.49h-16.1zM237.5 180.54h16.1v2.49h-16.1zM237.5 173.97h16.1v2.49h-16.1zM237.5 165.22h16.1v2.49h-16.1zM237.5 112.69h16.1v2.49h-16.1zM237.5 92.99h16.1v2.49h-16.1zM253.3 147.71h16.1v2.49h-16.1zM253.3 106.12h16.1v2.49h-16.1zM253.3 103.93h16.1v2.49h-16.1zM253.3 49.21h16.1v2.49h-16.1zM253.3 33.89h16.1v2.49h-16.1zM253.3 22.95h16.1v2.49h-16.1zM269.1 259.33h16.1v2.49h-16.1zM269.1 165.22h16.1v2.49h-16.1zM269.1 149.90h16.1v2.49h-16.1zM269.1 123.63h16.1v2.49h-16.1zM284.9 261.52h16.1v2.49h-16.1zM284.9 259.33h16.1v2.49h-16.1zM284.9 208.99h16.1v2.49h-16.1zM284.9 200.24h16.1v2.49h-16.1zM284.9 88.61h16.1v2.49h-16.1zM284.9 55.78h16.1v2.49h-16.1zM300.7 254.96h16.1v2.49h-16.1zM300.7 169.60h16.1v2.49h-16.1zM300.7 128.01h16.1v2.49h-16.1zM300.7 117.07h16.1v2.49h-16.1zM300.7 42.65h16.1v2.49h-16.1zM316.5 167.41h16.1v2.49h-16.1zM316.5 132.39h16.1v2.49h-16.1zM316.5 51.40h16.1v2.49h-16.1zM316.5 16.38h16.1v2.49h-16.1zM332.3 274.66h16.1v2.49h-16.1zM332.3 237.45h16.1v2.49h-16.1zM332.3 215.56h16.1v2.49h-16.1zM332.3 123.63h16.1v2.49h-16.1zM332.3 121.44h16.1v2.49h-16.1zM332.3 114.88h16.1v2.49h-16.1zM332.3 97.37h16.1v2.49h-16.1zM332.3 82.05h16.1v2.49h-16.1zM332.3 33.89h16.1v2.49h-16.1zM348.1 272.47h16.1v2.49h-16.1zM348.1 248.39h16.1v2.49h-16.1zM348.1 241.82h16.1v2.49h-16.1zM348.1 187.11h16.1v2.49h-16.1zM348.1 171.78h16.1v2.49h-16.1zM348.1 145.52h16.1v2.49h-16.1zM348.1 123.63h16.1v2.49h-16.1zM348.1 97.37h16.1v2.49h-16.1zM348.1 51.40h16.1v2.49h-16.1zM348.1 44.84h16.1v2.49h-16.1zM363.9 252.77h16.1v2.49h-16.1zM363.9 180.54h16.1v2.49h-16.1zM363.9 178.35h16.1v2.49h-16.1zM363.9 154.27h16.1v2.49h-16.1zM363.9 106.12h16.1v2.49h-16.1zM363.9 86.42h16.1v2.49h-16.1zM363.9 82.05h16.1v2.49h-16.1zM363.9 22.95h16.1v2.49h-16.1zM379.7 248.39h16.1v2.49h-16.1zM379.7 235.26h16.1v2.49h-16.1zM379.7 178.35h16.1v2.49h-16.1zM379.7 173.97h16.1v2.49h-16.1zM379.7 95.18h16.1v2.49h-16.1zM395.5 206.80h16.1v2.49h-16.1zM395.5 195.86h16.1v2.49h-16.1zM395.5 189.29h16.1v2.49h-16.1zM395.5 160.84h16.1v2.49h-16.1zM395.5 152.09h16.1v2.49h-16.1zM395.5 119.25h16.1v2.49h-16.1zM411.3 180.54h16.1v2.49h-16.1zM411.3 176.16h16.1v2.49h-16.1zM411.3 125.82h16.1v2.49h-16.1zM411.3 97.37h16.1v2.49h-16.1zM411.3 95.18h16.1v2.49h-16.1zM411.3 60.16h16.1v2.49h-16.1zM411.3 42.65h16.1v2.49h-16.1zM427.1 184.92h16.1v2.49h-16.1zM427.1 112.69h16.1v2.49h-16.1zM427.1 103.93h16.1v2.49h-16.1zM427.1 18.57h16.1v2.49h-16.1zM442.9 257.15h16.1v2.49h-16.1zM442.9 244.01h16.1v2.49h-16.1zM442.9 130.20h16.1v2.49h-16.1zM442.9 103.93h16.1v2.49h-16.1zM442.9 101.74h16.1v2.49h-16.1zM442.9 84.23h16.1v2.49h-16.1zM442.9 82.05h16.1v2.49h-16.1zM442.9 36.08h16.1v2.49h-16.1zM458.7 241.82h16.1v2.49h-16.1zM458.7 95.18h16.1v2.49h-16.1zM458.7 66.72h16.1v2.49h-16.1zM458.7 27.33h16.1v2.49h-16.1zM474.5 257.15h16.1v2.49h-16.1zM474.5 51.40h16.1v2.49h-16.1zM474.5 42.65h16.1v2.49h-16.1zM490.3 263.71h16.1v2.49h-16.1zM490.3 259.33h16.1v2.49h-16.1zM490.3 244.01h16.1v2.49h-16.1zM490.3 121.44h16.1v2.49h-16.1zM490.3 106.12h16.1v2.49h-16.1zM490.3 31.70h16.1v2.49h-16.1zM506.1 270.28h16.1v2.49h-16.1zM506.1 248.39h16.1v2.49h-16.1zM506.1 237.45h16.1v2.49h-16.1zM506.1 235.26h16.1v2.49h-16.1zM506.1 195.86h16.1v2.49h-16.1zM506.1 176.16h16.1v2.49h-16.1zM506.1 134.58h16.1v2.49h-16.1zM506.1 97.37h16.1v2.49h-16.1zM506.1 95.18h16.1v2.49h-16.1zM506.1 38.27h16.1v2.49h-16.1zM506.1 31.70h16.1v2.49h-16.1zM506.1 18.57h16.1v2.49h-16.1zM521.9 119.25h16.1v2.49h-16.1zM521.9 103.93h16.1v2.49h-16.1zM521.9 92.99h16.1v2.49h-16.1zM521.9 36.08h16.1v2.49h-16.1zM521.9 13.10h16.1v1.39h-16.1zM537.7 272.47h16.1v2.49h-16.1zM537.7 228.69h16.1v2.49h-16.1zM537.7 219.94h16.1v2.49h-16.1zM537.7 211.18h16.1v2.49h-16.1zM537.7 208.99h16.1v2.49h-16.1zM537.7 202.43h16.1v2.49h-16.1zM537.7 114.88h16.1v2.49h-16.1zM537.7 99.56h16.1v2.49h-16.1zM537.7 29.52h16.1v2.49h-16.1zM553.5 219.94h16.1v2.49h-16.1zM553.5 206.80h16.1v2.49h-16.1zM553.5 173.97h16.1v2.49h-16.1zM553.5 106.12h16.1v2.49h-16.1zM553.5 103.93h16.1v2.49h-16.1zM553.5 101.74h16.1v2.49h-16.1zM553.5 95.18h16.1v2.49h-16.1zM553.5 92.99h16.1v2.49h-16.1zM569.3 123.63h16.1v2.49h-16.1zM569.3 55.78h16.1v2.49h-16.1zM569.3 14.19h16.1v2.49h-16.1zM585.1 187.11h16.1v2.49h-16.1zM585.1 178.35h16.1v2.49h-16.1zM585.1 66.72h16.1v2.49h-16.1zM600.9 252.77h16.1v2.49h-16.1zM600.9 191.48h16.1v2.49h-16.1zM600.9 187.11h16.1v2.49h-16.1zM600.9 184.92h16.1v2.49h-16.1zM600.9 182.73h16.1v2.49h-16.1zM600.9 97.37h16.1v2.49h-16.1zM600.9 79.86h16.1v2.49h-16.1zM600.9 51.40h16.1v2.49h-16.1zM600.9 40.46h16.1v2.49h-16.1zM600.9 25.14h16.1v2.49h-16.1zM616.7 200.24h16.1v2.49h-16.1zM616.7 195.86h16.1v2.49h-16.1zM616.7 184.92h16.1v2.49h-16.1zM616.7 95.18h16.1v2.49h-16.1zM616.7 86.42h16.1v2.49h-16.1zM616.7 79.86h16.1v2.49h-16.1zM632.5 248.39h16.1v2.49h-16.1zM632.5 208.99h16.1v2.49h-16.1zM632.5 198.05h16.1v2.49h-16.1zM632.5 193.67h16.1v2.49h-16.1zM632.5 103.93h16.1v2.49h-16.1zM632.5 20.76h16.1v2.49h-16.1zM648.3 198.05h16.1v2.49h-16.1zM648.3 92.99h16.1v2.49h-16.1zM648.3 42.65h16.1v2.49h-16.1zM664.1 252.77h16.1v2.49h-16.1zM664.1 60.16h16.1v2.49h-16.1zM664.1 57.97h16.1v2.49h-16.1zM664.1 42.65h16.1v2.49h-16.1zM664.1 31.70h16.1v2.49h-16.1zM664.1 29.52h16.1v2.49h-16.1zM679.9 239.64h16.1v2.49h-16.1zM679.9 193.67h16.1v2.49h-16.1zM679.9 95.18h16.1v2.49h-16.1zM679.9 86.42h16.1v2.49h-16.1zM679.9 79.86h16.1v2.49h-16.1zM679.9 36.08h16.1v2.49h-16.1zM695.7 219.94h16.1v2.49h-16.1zM695.7 208.99h16.1v2.49h-16.1zM695.7 125.82h16.1v2.49h-16.1zM695.7 123.63h16.1v2.49h-16.1zM695.7 99.56h16.1v2.49h-16.1zM695.7 60.16h16.1v2.49h-16.1zM695.7 40.46h16.1v2.49h-16.1zM711.5 259.33h16.1v2.49h-16.1zM711.5 92.99h16.1v2.49h-16.1zM711.5 86.42h16.1v2.49h-16.1zM711.5 38.27h16.1v2.49h-16.1zM727.3 246.20h16.1v2.49h-16.1zM727.3 237.45h16.1v2.49h-16.1zM727.3 219.94h16.1v2.49h-16.1zM727.3 121.44h16.1v2.49h-16.1zM727.3 53.59h16.1v2.49h-16.1zM727.3 47.03h16.1v2.49h-16.1zM743.1 241.82h16.1v2.49h-16.1zM743.1 237.45h16.1v2.49h-16.1zM743.1 235.26h16.1v2.49h-16.1zM743.1 219.94h16.1v2.49h-16.1zM743.1 213.37h16.1v2.49h-16.1zM743.1 123.63h16.1v2.49h-16.1zM743.1 68.91h16.1v2.49h-16.1zM743.1 40.46h16.1v2.49h-16.1zM758.9 228.69h16.1v2.49h-16.1zM758.9 224.31h16.1v2.49h-16.1zM758.9 114.88h16.1v2.49h-16.1zM758.9 84.23h16.1v2.49h-16.1zM758.9 82.05h16.1v2.49h-16.1zM758.9 79.86h16.1v2.49h-16.1zM758.9 77.67h16.1v2.49h-16.1zM758.9 57.97h16.1v2.49h-16.1zM774.7 222.13h16.1v2.49h-16.1zM774.7 123.63h16.1v2.49h-16.1zM774.7 90.80h16.1v2.49h-16.1zM774.7 47.03h16.1v2.49h-16.1zM774.7 40.46h16.1v2.49h-16.1zM774.7 22.95h16.1v2.49h-16.1zM790.5 123.63h16.1v2.49h-16.1zM790.5 112.69h16.1v2.49h-16.1zM790.5 49.21h16.1v2.49h-16.1zM806.3 254.96h9.7v2.49h-9.7zM806.3 250.58h9.7v2.49h-9.7zM806.3 117.07h9.7v2.49h-9.7zM806.3 114.88h9.7v2.49h-9.7zM806.3 101.74h9.7v2.49h-9.7zM806.3 86.42h9.7v2.49h-9.7zM806.3 64.54h9.7v2.49h-9.7zM806.3 53.59h9.7v2.49h-9.7z"/>
<path fill="#7b120b" d="M119.0 222.13h8.2v2.49h-8.2zM119.0 189.29h8.2v2.49h-8.2zM119.0 147.71h8.2v2.49h-8.2zM119.0 130.20h8.2v2.49h-8.2zM119.0 112.69h8.2v2.49h-8.2zM119.0 73.29h8.2v2.49h-8.2zM119.0 62.35h8.2v2.49h-8.2zM119.0 40.46h8.2v2.49h-8.2zM119.0 38.27h8.2v2.49h-8.2zM126.9 241.82h16.1v2.49h-16.1zM126.9 211.18h16.1v2.49h-16.1zM126.9 198.05h16.1v2.49h-16.1zM126.9 169.60h16.1v2.49h-16.1zM126.9 97.37h16.1v2.49h-16.1zM126.9 95.18h16.1v2.49h-16.1zM126.9 60.16h16.1v2.49h-16.1zM126.9 49.21h16.1v2.49h-16.1zM126.9 44.84h16.1v2.49h-16.1zM126.9 42.65h16.1v2.49h-16.1zM126.9 13.10h16.1v1.39h-16.1zM142.7 241.82h16.1v2.49h-16.1zM142.7 228.69h16.1v2.49h-16.1zM142.7 224.31h16.1v2.49h-16.1zM142.7 215.56h16.1v2.49h-16.1zM142.7 211.18h16.1v2.49h-16.1zM142.7 156.46h16.1v2.49h-16.1zM142.7 90.80h16.1v2.49h-16.1zM142.7 77.67h16.1v2.49h-16.1zM142.7 60.16h16.1v2.49h-16.1zM142.7 55.78h16.1v2.49h-16.1zM158.5 191.48h16.1v2.49h-16.1zM158.5 103.93h16.1v2.49h-16.1zM158.5 64.54h16.1v2.49h-16.1zM158.5 60.16h16.1v2.49h-16.1zM158.5 29.52h16.1v2.49h-16.1zM158.5 22.95h16.1v2.49h-16.1zM174.3 279.03h16.1v2.49h-16.1zM174.3 228.69h16.1v2.49h-16.1zM174.3 224.31h16.1v2.49h-16.1zM174.3 191.48h16.1v2.49h-16.1zM174.3 145.52h16.1v2.49h-16.1zM174.3 112.69h16.1v2.49h-16.1zM174.3 110.50h16.1v2.49h-16.1zM174.3 99.56h16.1v2.49h-16.1zM174.3 53.59h16.1v2.49h-16.1zM174.3 36.08h16.1v2.49h-16.1zM190.1 265.90h16.1v2.49h-16.1zM190.1 222.13h16.1v2.49h-16.1zM190.1 215.56h16.1v2.49h-16.1zM190.1 202.43h16.1v2.49h-16.1zM190.1 180.54h16.1v2.49h-16.1zM190.1 154.27h16.1v2.49h-16.1zM190.1 152.09h16.1v2.49h-16.1zM190.1 149.90h16.1v2.49h-16.1zM190.1 136.76h16.1v2.49h-16.1zM190.1 99.56h16.1v2.49h-16.1zM190.1 75.48h16.1v2.49h-16.1zM190.1 73.29h16.1v2.49h-16.1zM190.1 57.97h16.1v2.49h-16.1zM190.1 25.14h16.1v2.49h-16.1zM190.1 20.76h16.1v2.49h-16.1zM190.1 13.10h16.1v1.39h-16.1zM205.9 274.66h16.1v2.49h-16.1zM205.9 270.28h16.1v2.49h-16.1zM205.9 261.52h16.1v2.49h-16.1zM205.9 257.15h16.1v2.49h-16.1zM205.9 215.56h16.1v2.49h-16.1zM205.9 204.62h16.1v2.49h-16.1zM205.9 198.05h16.1v2.49h-16.1zM205.9 154.27h16.1v2.49h-16.1zM205.9 114.88h16.1v2.49h-16.1zM205.9 106.12h16.1v2.49h-16.1zM205.9 101.74h16.1v2.49h-16.1zM205.9 22.95h16.1v2.49h-16.1zM221.7 257.15h16.1v2.49h-16.1zM221.7 252.77h16.1v2.49h-16.1zM221.7 241.82h16.1v2.49h-16.1zM221.7 235.26h16.1v2.49h-16.1zM221.7 226.50h16.1v2.49h-16.1zM221.7 222.13h16.1v2.49h-16.1zM221.7 217.75h16.1v2.49h-16.1zM221.7 42.65h16.1v2.49h-16.1zM221.7 18.57h16.1v2.49h-16.1zM237.5 283.41h16.1v2.49h-16.1zM237.5 259.33h16.1v2.49h-16.1zM237.5 202.43h16.1v2.49h-16.1zM237.5 195.86h16.1v2.49h-16.1zM237.5 149.90h16.1v2.49h-16.1zM237.5 108.31h16.1v2.49h-16.1zM237.5 51.40h16.1v2.49h-16.1zM237.5 29.52h16.1v2.49h-16.1zM237.5 27.33h16.1v2.49h-16.1zM237.5 22.95h16.1v2.49h-16.1zM237.5 13.10h16.1v1.39h-16.1zM253.3 259.33h16.1v2.49h-16.1zM253.3 246.20h16.1v2.49h-16.1zM253.3 217.75h16.1v2.49h-16.1zM253.3 204.62h16.1v2.49h-16.1zM253.3 171.78h16.1v2.49h-16.1zM253.3 169.60h16.1v2.49h-16.1zM253.3 158.65h16.1v2.49h-16.1zM253.3 149.90h16.1v2.49h-16.1zM253.3 114.88h16.1v2.49h-16.1zM253.3 62.35h16.1v2.49h-16.1zM253.3 57.97h16.1v2.49h-16.1zM253.3 36.08h16.1v2.49h-16.1zM269.1 241.82h16.1v2.49h-16.1zM269.1 219.94h16.1v2.49h-16.1zM269.1 200.24h16.1v2.49h-16.1zM269.1 184.92h16.1v2.49h-16.1zM269.1 182.73h16.1v2.49h-16.1zM269.1 180.54h16.1v2.49h-16.1zM269.1 147.71h16.1v2.49h-16.1zM269.1 101.74h16.1v2.49h-16.1zM269.1 75.48h16.1v2.49h-16.1zM269.1 64.54h16.1v2.49h-16.1zM269.1 57.97h16.1v2.49h-16.1zM269.1 27.33h16.1v2.49h-16.1zM269.1 13.10h16.1v1.39h-16.1zM284.9 270.28h16.1v2.49h-16.1zM284.9 257.15h16.1v2.49h-16.1zM284.9 254.96h16.1v2.49h-16.1zM284.9 241.82h16.1v2.49h-16.1zM284.9 226.50h16.1v2.49h-16.1zM284.9 224.31h16.1v2.49h-16.1zM284.9 171.78h16.1v2.49h-16.1zM284.9 75.48h16.1v2.49h-16.1zM284.9 60.16h16.1v2.49h-16.1zM284.9 57.97h16.1v2.49h-16.1zM284.9 53.59h16.1v2.49h-16.1zM284.9 38.27h16.1v2.49h-16.1zM300.7 272.47h16.1v2.49h-16.1zM300.7 241.82h16.1v2.49h-16.1zM300.7 233.07h16.1v2.49h-16.1zM300.7 73.29h16.1v2.49h-16.1zM300.7 51.40h16.1v2.49h-16.1zM300.7 29.52h16.1v2.49h-16.1zM316.5 252.77h16.1v2.49h-16.1zM316.5 211.18h16.1v2.49h-16.1zM316.5 169.60h16.1v2.49h-16.1zM316.5 53.59h16.1v2.49h-16.1zM332.3 270.28h16.1v2.49h-16.1zM332.3 261.52h16.1v2.49h-16.1zM332.3 235.26h16.1v2.49h-16.1zM332.3 233.07h16.1v2.49h-16.1zM332.3 222.13h16.1v2.49h-16.1zM332.3 204.62h16.1v2.49h-16.1zM332.3 193.67h16.1v2.49h-16.1zM332.3 169.60h16.1v2.49h-16.1zM332.3 145.52h16.1v2.49h-16.1zM332.3 110.50h16.1v2.49h-16.1zM332.3 86.42h16.1v2.49h-16.1zM332.3 68.91h16.1v2.49h-16.1zM332.3 60.16h16.1v2.49h-16.1zM332.3 38.27h16.1v2.49h-16.1zM348.1 198.05h16.1v2.49h-16.1zM348.1 154.27h16.1v2.49h-16.1zM348.1 143.33h16.1v2.49h-16.1zM348.1 112.69h16.1v2.49h-16.1zM348.1 31.70h16.1v2.49h-16.1zM348.1 16.38h16.1v2.49h-16.1zM363.9 289.98h16.1v2.49h-16.1zM363.9 239.64h16.1v2.49h-16.1zM363.9 219.94h16.1v2.49h-16.1zM363.9 208.99h16.1v2.49h-16.1zM363.9 198.05h16.1v2.49h-16.1zM363.9 167.41h16.1v2.49h-16.1zM363.9 160.84h16.1v2.49h-16.1zM363.9 71.10h16.1v2.49h-16.1zM363.9 66.72h16.1v2.49h-16.1zM363.9 64.54h16.1v2.49h-16.1zM363.9 53.59h16.1v2.49h-16.1zM363.9 47.03h16.1v2.49h-16.1zM363.9 20.76h16.1v2.49h-16.1zM363.9 18.57h16.1v2.49h-16.1zM379.7 257.15h16.1v2.49h-16.1zM379.7 250.58h16.1v2.49h-16.1zM379.7 246.20h16.1v2.49h-16.1zM379.7 233.07h16.1v2.49h-16.1zM379.7 226.50h16.1v2.49h-16.1zM379.7 208.99h16.1v2.49h-16.1zM379.7 206.80h16.1v2.49h-16.1zM379.7 198.05h16.1v2.49h-16.1zM379.7 187.11h16.1v2.49h-16.1zM379.7 171.78h16.1v2.49h-16.1zM395.5 259.33h16.1v2.49h-16.1zM395.5 239.64h16.1v2.49h-16.1zM395.5 171.78h16.1v2.49h-16.1zM395.5 88.61h16.1v2.49h-16.1zM395.5 68.91h16.1v2.49h-16.1zM395.5 64.54h16.1v2.49h-16.1zM411.3 272.47h16.1v2.49h-16.1zM411.3 250.58h16.1v2.49h-16.1zM427.1 215.56h16.1v2.49h-16.1zM427.1 211.18h16.1v2.49h-16.1zM427.1 182.73h16.1v2.49h-16.1zM427.1 123.63h16.1v2.49h-16.1zM427.1 40.46h16.1v2.49h-16.1zM442.9 248.39h16.1v2.49h-16.1zM442.9 215.56h16.1v2.49h-16.1zM442.9 213.37h16.1v2.49h-16.1zM442.9 182.73h16.1v2.49h-16.1zM442.9 57.97h16.1v2.49h-16.1zM442.9 42.65h16.1v2.49h-16.1zM442.9 27.33h16.1v2.49h-16.1zM442.9 14.19h16.1v2.49h-16.1zM458.7 261.52h16.1v2.49h-16.1zM458.7 252.77h16.1v2.49h-16.1zM458.7 230.88h16.1v2.49h-16.1zM458.7 213.37h16.1v2.49h-16.1zM458.7 198.05h16.1v2.49h-16.1zM458.7 92.99h16.1v2.49h-16.1zM458.7 60.16h16.1v2.49h-16.1zM474.5 237.45h16.1v2.49h-16.1zM474.5 213.37h16.1v2.49h-16.1zM474.5 204.62h16.1v2.49h-16.1zM474.5 195.86h16.1v2.49h-16.1zM474.5 117.07h16.1v2.49h-16.1zM474.5 27.33h16.1v2.49h-16.1zM490.3 250.58h16.1v2.49h-16.1zM490.3 228.69h16.1v2.49h-16.1zM490.3 222.13h16.1v2.49h-16.1zM490.3 204.62h16.1v2.49h-16.1zM490.3 128.01h16.1v2.49h-16.1zM490.3 114.88h16.1v2.49h-16.1zM490.3 90.80h16.1v2.49h-16.1zM490.3 51.40h16.1v2.49h-16.1zM490.3 22.95h16.1v2.49h-16.1zM490.3 18.57h16.1v2.49h-16.1zM490.3 14.19h16.1v2.49h-16.1zM506.1 298.73h16.1v2.49h-16.1zM506.1 252.77h16.1v2.49h-16.1zM506.1 213.37h16.1v2.49h-16.1zM506.1 53.59h16.1v2.49h-16.1zM506.1 49.21h16.1v2.49h-16.1zM506.1 47.03h16.1v2.49h-16.1zM521.9 250.58h16.1v2.49h-16.1zM521.9 241.82h16.1v2.49h-16.1zM521.9 230.88h16.1v2.49h-16.1zM521.9 198.05h16.1v2.49h-16.1zM521.9 90.80h16.1v2.49h-16.1zM521.9 86.42h16.1v2.49h-16.1zM521.9 75.48h16.1v2.49h-16.1zM521.9 14.19h16.1v2.49h-16.1zM537.7 261.52h16.1v2.49h-16.1zM537.7 248.39h16.1v2.49h-16.1zM537.7 226.50h16.1v2.49h-16.1zM537.7 204.62h16.1v2.49h-16.1zM537.7 75.48h16.1v2.49h-16.1zM537.7 73.29h16.1v2.49h-16.1zM537.7 47.03h16.1v2.49h-16.1zM537.7 36.08h16.1v2.49h-16.1zM537.7 27.33h16.1v2.49h-16.1zM537.7 18.57h16.1v2.49h-16.1zM553.5 226.50h16.1v2.49h-16.1zM553.5 222.13h16.1v2.49h-16.1zM553.5 204.62h16.1v2.49h-16.1zM553.5 200.24h16.1v2.49h-16.1zM553.5 191.48h16.1v2.49h-16.1zM553.5 189.29h16.1v2.49h-16.1zM553.5 110.50h16.1v2.49h-16.1zM553.5 68.91h16.1v2.49h-16.1zM553.5 66.72h16.1v2.49h-16.1zM553.5 47.03h16.1v2.49h-16.1zM553.5 42.65h16.1v2.49h-16.1zM553.5 25.14h16.1v2.49h-16.1zM553.5 14.19h16.1v2.49h-16.1zM569.3 272.47h16.1v2.49h-16.1zM569.3 237.45h16.1v2.49h-16.1zM569.3 222.13h16.1v2.49h-16.1zM569.3 208.99h16.1v2.49h-16.1zM569.3 200.24h16.1v2.49h-16.1zM569.3 191.48h16.1v2.49h-16.1zM569.3 110.50h16.1v2.49h-16.1zM569.3 106.12h16.1v2.49h-16.1zM569.3 84.23h16.1v2.49h-16.1zM585.1 254.96h16.1v2.49h-16.1zM585.1 193.67h16.1v2.49h-16.1zM585.1 191.48h16.1v2.49h-16.1zM585.1 73.29h16.1v2.49h-16.1zM585.1 42.65h16.1v2.49h-16.1zM585.1 18.57h16.1v2.49h-16.1zM585.1 14.19h16.1v2.49h-16.1zM600.9 287.79h16.1v2.49h-16.1zM600.9 259.33h16.1v2.49h-16.1zM600.9 77.67h16.1v2.49h-16.1zM600.9 42.65h16.1v2.49h-16.1zM600.9 36.08h16.1v2.49h-16.1zM600.9 33.89h16.1v2.49h-16.1zM600.9 20.76h16.1v2.49h-16.1zM616.7 211.18h16.1v2.49h-16.1zM616.7 101.74h16.1v2.49h-16.1zM616.7 92.99h16.1v2.49h-16.1zM616.7 88.61h16.1v2.49h-16.1zM616.7 71.10h16.1v2.49h-16.1zM616.7 55.78h16.1v2.49h-16.1zM616.7 47.03h16.1v2.49h-16.1zM616.7 22.95h16.1v2.49h-16.1zM616.7 14.19h16.1v2.49h-16.1zM632.5 261.52h16.1v2.49h-16.1zM632.5 250.58h16.1v2.49h-16.1zM632.5 219.94h16.1v2.49h-16.1zM632.5 204.62h16.1v2.49h-16.1zM632.5 86.42h16.1v2.49h-16.1zM632.5 73.29h16.1v2.49h-16.1zM632.5 71.10h16.1v2.49h-16.1zM632.5 62.35h16.1v2.49h-16.1zM632.5 60.16h16.1v2.49h-16.1zM632.5 31.70h16.1v2.49h-16.1zM632.5 13.10h16.1v1.39h-16.1zM648.3 246.20h16.1v2.49h-16.1zM648.3 239.64h16.1v2.49h-16.1zM648.3 237.45h16.1v2.49h-16.1zM648.3 219.94h16.1v2.49h-16.1zM648.3 206.80h16.1v2.49h-16.1zM648.3 191.48h16.1v2.49h-16.1zM648.3 71.10h16.1v2.49h-16.1zM648.3 36.08h16.1v2.49h-16.1zM648.3 27.33h16.1v2.49h-16.1zM648.3 25.14h16.1v2.49h-16.1zM648.3 18.57h16.1v2.49h-16.1zM664.1 259.33h16.1v2.49h-16.1zM664.1 233.07h16.1v2.49h-16.1zM664.1 204.62h16.1v2.49h-16.1zM664.1 193.67h16.1v2.49h-16.1zM664.1 110.50h16.1v2.49h-16.1zM664.1 66.72h16.1v2.49h-16.1zM679.9 272.47h16.1v2.49h-16.1zM679.9 257.15h16.1v2.49h-16.1zM679.9 254.96h16.1v2.49h-16.1zM679.9 241.82h16.1v2.49h-16.1zM679.9 213.37h16.1v2.49h-16.1zM679.9 211.18h16.1v2.49h-16.1zM679.9 198.05h16.1v2.49h-16.1zM679.9 108.31h16.1v2.49h-16.1zM679.9 75.48h16.1v2.49h-16.1zM679.9 71.10h16.1v2.49h-16.1zM679.9 68.91h16.1v2.49h-16.1zM679.9 60.16h16.1v2.49h-16.1zM679.9 44.84h16.1v2.49h-16.1zM695.7 200.24h16.1v2.49h-16.1zM695.7 68.91h16.1v2.49h-16.1zM695.7 51.40h16.1v2.49h-16.1zM695.7 44.84h16.1v2.49h-16.1zM695.7 33.89h16.1v2.49h-16.1zM695.7 20.76h16.1v2.49h-16.1zM711.5 250.58h16.1v2.49h-16.1zM711.5 246.20h16.1v2.49h-16.1zM711.5 239.64h16.1v2.49h-16.1zM711.5 215.56h16.1v2.49h-16.1zM711.5 206.80h16.1v2.49h-16.1zM711.5 114.88h16.1v2.49h-16.1zM711.5 57.97h16.1v2.49h-16.1zM711.5 53.59h16.1v2.49h-16.1zM711.5 40.46h16.1v2.49h-16.1zM727.3 270.28h16.1v2.49h-16.1zM727.3 233.07h16.1v2.49h-16.1zM727.3 103.93h16.1v2.49h-16.1zM727.3 71.10h16.1v2.49h-16.1zM743.1 261.52h16.1v2.49h-16.1zM743.1 259.33h16.1v2.49h-16.1zM743.1 114.88h16.1v2.49h-16.1zM743.1 92.99h16.1v2.49h-16.1zM743.1 75.48h16.1v2.49h-16.1zM758.9 252.77h16.1v2.49h-16.1zM758.9 250.58h16.1v2.49h-16.1zM758.9 244.01h16.1v2.49h-16.1zM758.9 215.56h16.1v2.49h-16.1zM758.9 123.63h16.1v2.49h-16.1zM758.9 92.99h16.1v2.49h-16.1zM758.9 75.48h16.1v2.49h-16.1zM774.7 272.47h16.1v2.49h-16.1zM774.7 261.52h16.1v2.49h-16.1zM774.7 244.01h16.1v2.49h-16.1zM774.7 241.82h16.1v2.49h-16.1zM774.7 99.56h16.1v2.49h-16.1zM774.7 92.99h16.1v2.49h-16.1zM774.7 88.61h16.1v2.49h-16.1zM774.7 82.05h16.1v2.49h-16.1zM774.7 77.67h16.1v2.49h-16.1zM774.7 44.84h16.1v2.49h-16.1zM774.7 25.14h16.1v2.49h-16.1zM774.7 13.10h16.1v1.39h-16.1zM790.5 237.45h16.1v2.49h-16.1zM790.5 235.26h16.1v2.49h-16.1zM790.5 110.50h16.1v2.49h-16.1zM790.5 101.74h16.1v2.49h-16.1zM790.5 73.29h16.1v2.49h-16.1zM790.5 71.10h16.1v2.49h-16.1zM790.5 64.54h16.1v2.49h-16.1zM790.5 62.35h16.1v2.49h-16.1zM790.5 57.97h16.1v2.49h-16.1zM790.5 14.19h16.1v2.49h-16.1zM806.3 274.66h9.7v2.49h-9.7zM806.3 228.69h9.7v2.49h-9.7zM806.3 108.31h9.7v2.49h-9.7zM806.3 99.56h9.7v2.49h-9.7zM806.3 90.80h9.7v2.49h-9.7zM806.3 88.61h9.7v2.49h-9.7zM806.3 82.05h9.7v2.49h-9.7zM806.3 79.86h9.7v2.49h-9.7z"/>
<path fill="#79120b" d="M119.0 219.94h8.2v2.49h-8.2zM119.0 195.86h8.2v2.49h-8.2zM119.0 165.22h8.2v2.49h-8.2zM119.0 145.52h8.2v2.49h-8.2zM119.0 114.88h8.2v2.49h-8.2zM119.0 82.05h8.2v2.49h-8.2zM119.0 13.10h8.2v1.39h-8.2zM126.9 318.43h16.1v2.49h-16.1zM126.9 208.99h16.1v2.49h-16.1zM126.9 187.11h16.1v2.49h-16.1zM142.7 294.35h16.1v2.49h-16.1zM142.7 272.47h16.1v2.49h-16.1zM142.7 263.71h16.1v2.49h-16.1zM142.7 261.52h16.1v2.49h-16.1zM142.7 257.15h16.1v2.49h-16.1zM142.7 222.13h16.1v2.49h-16.1zM142.7 213.37h16.1v2.49h-16.1zM142.7 189.29h16.1v2.49h-16.1zM142.7 101.74h16.1v2.49h-16.1zM142.7 64.54h16.1v2.49h-16.1zM142.7 62.35h16.1v2.49h-16.1zM142.7 33.89h16.1v2.49h-16.1zM142.7 31.70h16.1v2.49h-16.1zM158.5 294.35h16.1v2.49h-16.1zM158.5 198.05h16.1v2.49h-16.1zM158.5 66.72h16.1v2.49h-16.1zM158.5 55.78h16.1v2.49h-16.1zM158.5 53.59h16.1v2.49h-16.1zM158.5 27.33h16.1v2.49h-16.1zM158.5 14.19h16.1v2.49h-16.1zM174.3 239.64h16.1v2.49h-16.1zM174.3 230.88h16.1v2.49h-16.1zM174.3 84.23h16.1v2.49h-16.1zM174.3 62.35h16.1v2.49h-16.1zM190.1 268.09h16.1v2.49h-16.1zM190.1 213.37h16.1v2.49h-16.1zM190.1 200.24h16.1v2.49h-16.1zM190.1 193.67h16.1v2.49h-16.1zM190.1 191.48h16.1v2.49h-16.1zM190.1 147.71h16.1v2.49h-16.1zM190.1 145.52h16.1v2.49h-16.1zM190.1 110.50h16.1v2.49h-16.1zM190.1 47.03h16.1v2.49h-16.1zM190.1 40.46h16.1v2.49h-16.1zM190.1 18.57h16.1v2.49h-16.1zM205.9 259.33h16.1v2.49h-16.1zM205.9 239.64h16.1v2.49h-16.1zM205.9 222.13h16.1v2.49h-16.1zM205.9 195.86h16.1v2.49h-16.1zM205.9 184.92h16.1v2.49h-16.1zM205.9 182.73h16.1v2.49h-16.1zM205.9 178.35h16.1v2.49h-16.1zM205.9 108.31h16.1v2.49h-16.1zM205.9 73.29h16.1v2.49h-16.1zM205.9 60.16h16.1v2.49h-16.1zM205.9 55.78h16.1v2.49h-16.1zM205.9 49.21h16.1v2.49h-16.1zM205.9 42.65h16.1v2.49h-16.1zM221.7 248.39h16.1v2.49h-16.1zM221.7 198.05h16.1v2.49h-16.1zM221.7 191.48h16.1v2.49h-16.1zM221.7 128.01h16.1v2.49h-16.1zM221.7 108.31h16.1v2.49h-16.1zM221.7 82.05h16.1v2.49h-16.1zM221.7 68.91h16.1v2.49h-16.1zM221.7 38.27h16.1v2.49h-16.1zM221.7 14.19h16.1v2.49h-16.1zM237.5 226.50h16.1v2.49h-16.1zM237.5 95.18h16.1v2.49h-16.1zM237.5 82.05h16.1v2.49h-16.1zM237.5 42.65h16.1v2.49h-16.1zM253.3 274.66h16.1v2.49h-16.1zM253.3 254.96h16.1v2.49h-16.1zM253.3 252.77h16.1v2.49h-16.1zM253.3 235.26h16.1v2.49h-16.1zM253.3 195.86h16.1v2.49h-16.1zM253.3 187.11h16.1v2.49h-16.1zM253.3 178.35h16.1v2.49h-16.1zM253.3 108.31h16.1v2.49h-16.1zM253.3 99.56h16.1v2.49h-16.1zM253.3 60.16h16.1v2.49h-16.1zM253.3 44.84h16.1v2.49h-16.1zM253.3 27.33h16.1v2.49h-16.1zM269.1 110.50h16.1v2.49h-16.1zM269.1 73.29h16.1v2.49h-16.1zM269.1 68.91h16.1v2.49h-16.1zM269.1 62.35h16.1v2.49h-16.1zM269.1 47.03h16.1v2.49h-16.1zM269.1 29.52h16.1v2.49h-16.1zM269.1 18.57h16.1v2.49h-16.1zM284.9 281.22h16.1v2.49h-16.1zM284.9 211.18h16.1v2.49h-16.1zM284.9 158.65h16.1v2.49h-16.1zM284.9 147.71h16.1v2.49h-16.1zM284.9 114.88h16.1v2.49h-16.1zM284.9 47.03h16.1v2.49h-16.1zM284.9 44.84h16.1v2.49h-16.1zM300.7 265.90h16.1v2.49h-16.1zM300.7 257.15h16.1v2.49h-16.1zM300.7 202.43h16.1v2.49h-16.1zM300.7 112.69h16.1v2.49h-16.1zM300.7 86.42h16.1v2.49h-16.1zM300.7 71.10h16.1v2.49h-16.1zM300.7 64.54h16.1v2.49h-16.1zM300.7 38.27h16.1v2.49h-16.1zM300.7 36.08h16.1v2.49h-16.1zM300.7 33.89h16.1v2.49h-16.1zM300.7 18.57h16.1v2.49h-16.1zM316.5 272.47h16.1v2.49h-16.1zM316.5 261.52h16.1v2.49h-16.1zM316.5 259.33h16.1v2.49h-16.1zM316.5 226.50h16.1v2.49h-16.1zM316.5 191.48h16.1v2.49h-16.1zM316.5 180.54h16.1v2.49h-16.1zM316.5 88.61h16.1v2.49h-16.1zM316.5 73.29h16.1v2.49h-16.1zM316.5 57.97h16.1v2.49h-16.1zM316.5 29.52h16.1v2.49h-16.1zM316.5 20.76h16.1v2.49h-16.1zM332.3 263.71h16.1v2.49h-16.1zM332.3 224.31h16.1v2.49h-16.1zM332.3 219.94h16.1v2.49h-16.1zM332.3 208.99h16.1v2.49h-16.1zM332.3 191.48h16.1v2.49h-16.1zM332.3 187.11h16.1v2.49h-16.1zM332.3 171.78h16.1v2.49h-16.1zM332.3 101.74h16.1v2.49h-16.1zM332.3 79.86h16.1v2.49h-16.1zM332.3 64.54h16.1v2.49h-16.1zM332.3 49.21h16.1v2.49h-16.1zM332.3 29.52h16.1v2.49h-16.1zM332.3 20.76h16.1v2.49h-16.1zM348.1 257.15h16.1v2.49h-16.1zM348.1 250.58h16.1v2.49h-16.1zM348.1 239.64h16.1v2.49h-16.1zM348.1 226.50h16.1v2.49h-16.1zM348.1 213.37h16.1v2.49h-16.1zM348.1 101.74h16.1v2.49h-16.1zM348.1 64.54h16.1v2.49h-16.1zM348.1 62.35h16.1v2.49h-16.1zM348.1 40.46h16.1v2.49h-16.1zM348.1 36.08h16.1v2.49h-16.1zM348.1 27.33h16.1v2.49h-16.1zM363.9 287.79h16.1v2.49h-16.1zM363.9 224.31h16.1v2.49h-16.1zM363.9 217.75h16.1v2.49h-16.1zM363.9 202.43h16.1v2.49h-16.1zM363.9 195.86h16.1v2.49h-16.1zM363.9 171.78h16.1v2.49h-16.1zM363.9 152.09h16.1v2.49h-16.1zM363.9 143.33h16.1v2.49h-16.1zM379.7 270.28h16.1v2.49h-16.1zM379.7 200.24h16.1v2.49h-16.1zM379.7 152.09h16.1v2.49h-16.1zM379.7 75.48h16.1v2.49h-16.1zM379.7 31.70h16.1v2.49h-16.1zM379.7 29.52h16.1v2.49h-16.1zM379.7 22.95h16.1v2.49h-16.1zM379.7 20.76h16.1v2.49h-16.1zM395.5 261.52h16.1v2.49h-16.1zM395.5 110.50h16.1v2.49h-16.1zM395.5 38.27h16.1v2.49h-16.1zM395.5 36.08h16.1v2.49h-16.1zM395.5 20.76h16.1v2.49h-16.1zM395.5 16.38h16.1v2.49h-16.1zM395.5 13.10h16.1v1.39h-16.1zM411.3 261.52h16.1v2.49h-16.1zM411.3 259.33h16.1v2.49h-16.1zM411.3 230.88h16.1v2.49h-16.1zM411.3 228.69h16.1v2.49h-16.1zM411.3 219.94h16.1v2.49h-16.1zM411.3 86.42h16.1v2.49h-16.1zM411.3 71.10h16.1v2.49h-16.1zM411.3 68.91h16.1v2.49h-16.1zM411.3 49.21h16.1v2.49h-16.1zM411.3 22.95h16.1v2.49h-16.1zM411.3 20.76h16.1v2.49h-16.1zM427.1 274.66h16.1v2.49h-16.1zM427.1 272.47h16.1v2.49h-16.1zM427.1 224.31h16.1v2.49h-16.1zM427.1 208.99h16.1v2.49h-16.1zM427.1 198.05h16.1v2.49h-16.1zM427.1 79.86h16.1v2.49h-16.1zM427.1 42.65h16.1v2.49h-16.1zM427.1 33.89h16.1v2.49h-16.1zM442.9 268.09h16.1v2.49h-16.1zM442.9 239.64h16.1v2.49h-16.1zM442.9 211.18h16.1v2.49h-16.1zM442.9 206.80h16.1v2.49h-16.1zM442.9 60.16h16.1v2.49h-16.1zM442.9 49.21h16.1v2.49h-16.1zM442.9 47.03h16.1v2.49h-16.1zM458.7 276.84h16.1v2.49h-16.1zM458.7 97.37h16.1v2.49h-16.1zM458.7 90.80h16.1v2.49h-16.1zM458.7 82.05h16.1v2.49h-16.1zM458.7 55.78h16.1v2.49h-16.1zM458.7 20.76h16.1v2.49h-16.1zM474.5 224.31h16.1v2.49h-16.1zM474.5 215.56h16.1v2.49h-16.1zM474.5 178.35h16.1v2.49h-16.1zM474.5 49.21h16.1v2.49h-16.1zM474.5 29.52h16.1v2.49h-16.1zM490.3 270.28h16.1v2.49h-16.1zM490.3 268.09h16.1v2.49h-16.1zM490.3 261.52h16.1v2.49h-16.1zM490.3 252.77h16.1v2.49h-16.1zM490.3 230.88h16.1v2.49h-16.1zM490.3 215.56h16.1v2.49h-16.1zM490.3 97.37h16.1v2.49h-16.1zM490.3 92.99h16.1v2.49h-16.1zM490.3 71.10h16.1v2.49h-16.1zM490.3 49.21h16.1v2.49h-16.1zM490.3 40.46h16.1v2.49h-16.1zM490.3 36.08h16.1v2.49h-16.1zM490.3 33.89h16.1v2.49h-16.1zM490.3 13.10h16.1v1.39h-16.1zM506.1 259.33h16.1v2.49h-16.1zM506.1 103.93h16.1v2.49h-16.1zM506.1 86.42h16.1v2.49h-16.1zM506.1 75.48h16.1v2.49h-16.1zM506.1 71.10h16.1v2.49h-16.1zM506.1 33.89h16.1v2.49h-16.1zM506.1 22.95h16.1v2.49h-16.1zM506.1 14.19h16.1v2.49h-16.1zM521.9 289.98h16.1v2.49h-16.1zM521.9 246.20h16.1v2.49h-16.1zM521.9 239.64h16.1v2.49h-16.1zM521.9 237.45h16.1v2.49h-16.1zM521.9 215.56h16.1v2.49h-16.1zM521.9 202.43h16.1v2.49h-16.1zM521.9 47.03h16.1v2.49h-16.1zM521.9 20.76h16.1v2.49h-16.1zM537.7 268.09h16.1v2.49h-16.1zM537.7 263.71h16.1v2.49h-16.1zM537.7 252.77h16.1v2.49h-16.1zM537.7 246.20h16.1v2.49h-16.1zM537.7 200.24h16.1v2.49h-16.1zM537.7 92.99h16.1v2.49h-16.1zM537.7 68.91h16.1v2.49h-16.1zM537.7 57.97h16.1v2.49h-16.1zM537.7 49.21h16.1v2.49h-16.1zM537.7 44.84h16.1v2.49h-16.1zM553.5 257.15h16.1v2.49h-16.1zM553.5 246.20h16.1v2.49h-16.1zM553.5 241.82h16.1v2.49h-16.1zM553.5 233.07h16.1v2.49h-16.1zM553.5 77.67h16.1v2.49h-16.1zM553.5 62.35h16.1v2.49h-16.1zM553.5 51.40h16.1v2.49h-16.1zM553.5 27.33h16.1v2.49h-16.1zM553.5 13.10h16.1v1.39h-16.1zM569.3 246.20h16.1v2.49h-16.1zM569.3 224.31h16.1v2.49h-16.1zM569.3 213.37h16.1v2.49h-16.1zM569.3 211.18h16.1v2.49h-16.1zM569.3 202.43h16.1v2.49h-16.1zM569.3 97.37h16.1v2.49h-16.1zM569.3 90.80h16.1v2.49h-16.1zM569.3 75.48h16.1v2.49h-16.1zM569.3 53.59h16.1v2.49h-16.1zM569.3 51.40h16.1v2.49h-16.1zM569.3 44.84h16.1v2.49h-16.1zM569.3 42.65h16.1v2.49h-16.1zM569.3 31.70h16.1v2.49h-16.1zM569.3 13.10h16.1v1.39h-16.1zM585.1 270.28h16.1v2.49h-16.1zM585.1 263.71h16.1v2.49h-16.1zM585.1 257.15h16.1v2.49h-16.1zM585.1 246.20h16.1v2.49h-16.1zM585.1 226.50h16.1v2.49h-16.1zM585.1 217.75h16.1v2.49h-16.1zM585.1 75.48h16.1v2.49h-16.1zM585.1 68.91h16.1v2.49h-16.1zM585.1 60.16h16.1v2.49h-16.1zM585.1 57.97h16.1v2.49h-16.1zM585.1 51.40h16.1v2.49h-16.1zM585.1 36.08h16.1v2.49h-16.1zM600.9 283.41h16.1v2.49h-16.1zM600.9 270.28h16.1v2.49h-16.1zM600.9 257.15h16.1v2.49h-16.1zM600.9 239.64h16.1v2.49h-16.1zM600.9 208.99h16.1v2.49h-16.1zM600.9 108.31h16.1v2.49h-16.1zM600.9 90.80h16.1v2.49h-16.1zM600.9 44.84h16.1v2.49h-16.1zM600.9 14.19h16.1v2.49h-16.1zM616.7 239.64h16.1v2.49h-16.1zM616.7 99.56h16.1v2.49h-16.1zM616.7 57.97h16.1v2.49h-16.1zM616.7 49.21h16.1v2.49h-16.1zM616.7 18.57h16.1v2.49h-16.1zM632.5 228.69h16.1v2.49h-16.1zM632.5 222.13h16.1v2.49h-16.1zM648.3 233.07h16.1v2.49h-16.1zM648.3 193.67h16.1v2.49h-16.1zM648.3 86.42h16.1v2.49h-16.1zM648.3 79.86h16.1v2.49h-16.1zM648.3 75.48h16.1v2.49h-16.1zM648.3 73.29h16.1v2.49h-16.1zM648.3 49.21h16.1v2.49h-16.1zM648.3 16.38h16.1v2.49h-16.1zM648.3 13.10h16.1v1.39h-16.1zM664.1 246.20h16.1v2.49h-16.1zM664.1 215.56h16.1v2.49h-16.1zM664.1 198.05h16.1v2.49h-16.1zM664.1 195.86h16.1v2.49h-16.1zM664.1 92.99h16.1v2.49h-16.1zM664.1 88.61h16.1v2.49h-16.1zM664.1 79.86h16.1v2.49h-16.1zM664.1 44.84h16.1v2.49h-16.1zM664.1 20.76h16.1v2.49h-16.1zM664.1 14.19h16.1v2.49h-16.1zM679.9 244.01h16.1v2.49h-16.1zM679.9 114.88h16.1v2.49h-16.1zM679.9 88.61h16.1v2.49h-16.1zM679.9 82.05h16.1v2.49h-16.1zM679.9 77.67h16.1v2.49h-16.1zM679.9 62.35h16.1v2.49h-16.1zM679.9 31.70h16.1v2.49h-16.1zM679.9 13.10h16.1v1.39h-16.1zM695.7 241.82h16.1v2.49h-16.1zM695.7 237.45h16.1v2.49h-16.1zM695.7 217.75h16.1v2.49h-16.1zM695.7 112.69h16.1v2.49h-16.1zM695.7 62.35h16.1v2.49h-16.1zM695.7 55.78h16.1v2.49h-16.1zM695.7 25.14h16.1v2.49h-16.1zM695.7 16.38h16.1v2.49h-16.1zM711.5 228.69h16.1v2.49h-16.1zM711.5 226.50h16.1v2.49h-16.1zM711.5 108.31h16.1v2.49h-16.1zM711.5 55.78h16.1v2.49h-16.1zM711.5 25.14h16.1v2.49h-16.1zM727.3 289.98h16.1v2.49h-16.1zM727.3 248.39h16.1v2.49h-16.1zM727.3 106.12h16.1v2.49h-16.1zM727.3 92.99h16.1v2.49h-16.1zM727.3 86.42h16.1v2.49h-16.1zM727.3 68.91h16.1v2.49h-16.1zM727.3 66.72h16.1v2.49h-16.1zM727.3 16.38h16.1v2.49h-16.1zM743.1 270.28h16.1v2.49h-16.1zM743.1 103.93h16.1v2.49h-16.1zM743.1 99.56h16.1v2.49h-16.1zM743.1 97.37h16.1v2.49h-16.1zM743.1 90.80h16.1v2.49h-16.1zM743.1 22.95h16.1v2.49h-16.1zM758.9 287.79h16.1v2.49h-16.1zM758.9 272.47h16.1v2.49h-16.1zM758.9 25.14h16.1v2.49h-16.1zM774.7 246.20h16.1v2.49h-16.1zM774.7 75.48h16.1v2.49h-16.1zM774.7 68.91h16.1v2.49h-16.1zM774.7 62.35h16.1v2.49h-16.1zM774.7 42.65h16.1v2.49h-16.1zM790.5 265.90h16.1v2.49h-16.1zM790.5 261.52h16.1v2.49h-16.1zM790.5 254.96h16.1v2.49h-16.1zM790.5 248.39h16.1v2.49h-16.1zM790.5 228.69h16.1v2.49h-16.1zM790.5 92.99h16.1v2.49h-16.1zM790.5 86.42h16.1v2.49h-16.1zM790.5 84.23h16.1v2.49h-16.1zM790.5 53.59h16.1v2.49h-16.1zM790.5 22.95h16.1v2.49h-16.1zM806.3 261.52h9.7v2.49h-9.7zM806.3 257.15h9.7v2.49h-9.7zM806.3 60.16h9.7v2.49h-9.7zM806.3 57.97h9.7v2.49h-9.7zM806.3 47.03h9.7v2.49h-9.7zM806.3 18.57h9.7v2.49h-9.7z"/>
<path fill="#6c120b" d="M119.0 184.92h8.2v2.49h-8.2zM119.0 169.60h8.2v2.49h-8.2zM126.9 268.09h16.1v2.49h-16.1zM142.7 285.60h16.1v2.49h-16.1zM142.7 283.41h16.1v2.49h-16.1zM142.7 274.66h16.1v2.49h-16.1zM142.7 268.09h16.1v2.49h-16.1zM142.7 265.90h16.1v2.49h-16.1zM142.7 208.99h16.1v2.49h-16.1zM142.7 200.24h16.1v2.49h-16.1zM142.7 75.48h16.1v2.49h-16.1zM142.7 51.40h16.1v2.49h-16.1zM142.7 49.21h16.1v2.49h-16.1zM142.7 13.10h16.1v1.39h-16.1zM158.5 283.41h16.1v2.49h-16.1zM158.5 268.09h16.1v2.49h-16.1zM158.5 257.15h16.1v2.49h-16.1zM174.3 261.52h16.1v2.49h-16.1zM174.3 226.50h16.1v2.49h-16.1zM174.3 121.44h16.1v2.49h-16.1zM190.1 283.41h16.1v2.49h-16.1zM190.1 279.03h16.1v2.49h-16.1zM190.1 276.84h16.1v2.49h-16.1zM190.1 248.39h16.1v2.49h-16.1zM190.1 195.86h16.1v2.49h-16.1zM190.1 66.72h16.1v2.49h-16.1zM205.9 110.50h16.1v2.49h-16.1zM205.9 79.86h16.1v2.49h-16.1zM205.9 20.76h16.1v2.49h-16.1zM221.7 285.60h16.1v2.49h-16.1zM221.7 283.41h16.1v2.49h-16.1zM221.7 254.96h16.1v2.49h-16.1zM221.7 239.64h16.1v2.49h-16.1zM221.7 62.35h16.1v2.49h-16.1zM237.5 257.15h16.1v2.49h-16.1zM253.3 281.22h16.1v2.49h-16.1zM253.3 268.09h16.1v2.49h-16.1zM253.3 265.90h16.1v2.49h-16.1zM253.3 230.88h16.1v2.49h-16.1zM253.3 82.05h16.1v2.49h-16.1zM253.3 42.65h16.1v2.49h-16.1zM269.1 228.69h16.1v2.49h-16.1zM269.1 25.14h16.1v2.49h-16.1zM284.9 268.09h16.1v2.49h-16.1zM284.9 246.20h16.1v2.49h-16.1zM284.9 230.88h16.1v2.49h-16.1zM284.9 82.05h16.1v2.49h-16.1zM284.9 73.29h16.1v2.49h-16.1zM284.9 36.08h16.1v2.49h-16.1zM284.9 27.33h16.1v2.49h-16.1zM300.7 281.22h16.1v2.49h-16.1zM300.7 274.66h16.1v2.49h-16.1zM300.7 268.09h16.1v2.49h-16.1zM300.7 228.69h16.1v2.49h-16.1zM316.5 325.00h16.1v2.49h-16.1zM316.5 239.64h16.1v2.49h-16.1zM316.5 233.07h16.1v2.49h-16.1zM332.3 285.60h16.1v2.49h-16.1zM332.3 202.43h16.1v2.49h-16.1zM363.9 316.24h16.1v2.49h-16.1zM363.9 307.49h16.1v2.49h-16.1zM363.9 283.41h16.1v2.49h-16.1zM363.9 279.03h16.1v2.49h-16.1zM363.9 68.91h16.1v2.49h-16.1zM379.7 285.60h16.1v2.49h-16.1zM379.7 244.01h16.1v2.49h-16.1zM395.5 300.92h16.1v2.49h-16.1zM395.5 270.28h16.1v2.49h-16.1zM395.5 213.37h16.1v2.49h-16.1zM395.5 200.24h16.1v2.49h-16.1zM395.5 75.48h16.1v2.49h-16.1zM411.3 298.73h16.1v2.49h-16.1zM411.3 274.66h16.1v2.49h-16.1zM411.3 226.50h16.1v2.49h-16.1zM411.3 198.05h16.1v2.49h-16.1zM411.3 73.29h16.1v2.49h-16.1zM411.3 53.59h16.1v2.49h-16.1zM427.1 287.79h16.1v2.49h-16.1zM427.1 265.90h16.1v2.49h-16.1zM427.1 75.48h16.1v2.49h-16.1zM442.9 309.68h16.1v2.49h-16.1zM442.9 307.49h16.1v2.49h-16.1zM442.9 279.03h16.1v2.49h-16.1zM442.9 228.69h16.1v2.49h-16.1zM442.9 219.94h16.1v2.49h-16.1zM442.9 202.43h16.1v2.49h-16.1zM442.9 193.67h16.1v2.49h-16.1zM442.9 180.54h16.1v2.49h-16.1zM442.9 64.54h16.1v2.49h-16.1zM458.7 217.75h16.1v2.49h-16.1zM458.7 200.24h16.1v2.49h-16.1zM474.5 285.60h16.1v2.49h-16.1zM474.5 281.22h16.1v2.49h-16.1zM474.5 261.52h16.1v2.49h-16.1zM474.5 233.07h16.1v2.49h-16.1zM474.5 73.29h16.1v2.49h-16.1zM474.5 47.03h16.1v2.49h-16.1zM474.5 44.84h16.1v2.49h-16.1zM490.3 73.29h16.1v2.49h-16.1zM490.3 53.59h16.1v2.49h-16.1zM506.1 327.19h16.1v2.49h-16.1zM506.1 300.92h16.1v2.49h-16.1zM506.1 274.66h16.1v2.49h-16.1zM506.1 265.90h16.1v2.49h-16.1zM506.1 257.15h16.1v2.49h-16.1zM506.1 206.80h16.1v2.49h-16.1zM506.1 198.05h16.1v2.49h-16.1zM506.1 82.05h16.1v2.49h-16.1zM521.9 298.73h16.1v2.49h-16.1zM521.9 64.54h16.1v2.49h-16.1zM521.9 62.35h16.1v2.49h-16.1zM521.9 55.78h16.1v2.49h-16.1zM521.9 49.21h16.1v2.49h-16.1zM521.9 22.95h16.1v2.49h-16.1zM537.7 300.92h16.1v2.49h-16.1zM537.7 254.96h16.1v2.49h-16.1zM537.7 239.64h16.1v2.49h-16.1zM537.7 230.88h16.1v2.49h-16.1zM537.7 189.29h16.1v2.49h-16.1zM537.7 79.86h16.1v2.49h-16.1zM553.5 289.98h16.1v2.49h-16.1zM553.5 283.41h16.1v2.49h-16.1zM553.5 265.90h16.1v2.49h-16.1zM553.5 88.61h16.1v2.49h-16.1zM553.5 36.08h16.1v2.49h-16.1zM569.3 88.61h16.1v2.49h-16.1zM585.1 276.84h16.1v2.49h-16.1zM585.1 224.31h16.1v2.49h-16.1zM585.1 208.99h16.1v2.49h-16.1zM585.1 206.80h16.1v2.49h-16.1zM585.1 198.05h16.1v2.49h-16.1zM600.9 307.49h16.1v2.49h-16.1zM600.9 265.90h16.1v2.49h-16.1zM616.7 274.66h16.1v2.49h-16.1zM616.7 90.80h16.1v2.49h-16.1zM632.5 292.17h16.1v2.49h-16.1zM632.5 64.54h16.1v2.49h-16.1zM648.3 331.56h16.1v2.49h-16.1zM648.3 279.03h16.1v2.49h-16.1zM648.3 274.66h16.1v2.49h-16.1zM648.3 259.33h16.1v2.49h-16.1zM648.3 257.15h16.1v2.49h-16.1zM648.3 82.05h16.1v2.49h-16.1zM648.3 53.59h16.1v2.49h-16.1zM664.1 296.54h16.1v2.49h-16.1zM664.1 287.79h16.1v2.49h-16.1zM664.1 230.88h16.1v2.49h-16.1zM664.1 222.13h16.1v2.49h-16.1zM679.9 294.35h16.1v2.49h-16.1zM679.9 230.88h16.1v2.49h-16.1zM679.9 22.95h16.1v2.49h-16.1zM695.7 64.54h16.1v2.49h-16.1zM711.5 241.82h16.1v2.49h-16.1zM727.3 285.60h16.1v2.49h-16.1zM727.3 263.71h16.1v2.49h-16.1zM727.3 77.67h16.1v2.49h-16.1zM727.3 62.35h16.1v2.49h-16.1zM727.3 60.16h16.1v2.49h-16.1zM758.9 325.00h16.1v2.49h-16.1zM758.9 270.28h16.1v2.49h-16.1zM758.9 263.71h16.1v2.49h-16.1zM758.9 241.82h16.1v2.49h-16.1zM758.9 68.91h16.1v2.49h-16.1zM758.9 14.19h16.1v2.49h-16.1zM774.7 263.71h16.1v2.49h-16.1zM774.7 237.45h16.1v2.49h-16.1zM774.7 79.86h16.1v2.49h-16.1zM790.5 281.22h16.1v2.49h-16.1zM790.5 47.03h16.1v2.49h-16.1zM806.3 268.09h9.7v2.49h-9.7zM806.3 263.71h9.7v2.49h-9.7zM806.3 13.10h9.7v1.39h-9.7z"/>
<path fill="#91130c" d="M119.0 156.46h8.2v2.49h-8.2zM119.0 31.70h8.2v2.49h-8.2zM119.0 20.76h8.2v2.49h-8.2zM126.9 248.39h16.1v2.49h-16.1zM126.9 237.45h16.1v2.49h-16.1zM126.9 141.14h16.1v2.49h-16.1zM126.9 31.70h16.1v2.49h-16.1zM126.9 16.38h16.1v2.49h-16.1zM142.7 169.60h16.1v2.49h-16.1zM142.7 154.27h16.1v2.49h-16.1zM142.7 141.14h16.1v2.49h-16.1zM142.7 134.58h16.1v2.49h-16.1zM142.7 128.01h16.1v2.49h-16.1zM142.7 114.88h16.1v2.49h-16.1zM142.7 112.69h16.1v2.49h-16.1zM158.5 143.33h16.1v2.49h-16.1zM158.5 125.82h16.1v2.49h-16.1zM158.5 119.25h16.1v2.49h-16.1zM158.5 88.61h16.1v2.49h-16.1zM174.3 182.73h16.1v2.49h-16.1zM190.1 219.94h16.1v2.49h-16.1zM190.1 165.22h16.1v2.49h-16.1zM190.1 160.84h16.1v2.49h-16.1zM190.1 141.14h16.1v2.49h-16.1zM190.1 117.07h16.1v2.49h-16.1zM190.1 90.80h16.1v2.49h-16.1zM205.9 99.56h16.1v2.49h-16.1zM205.9 95.18h16.1v2.49h-16.1zM205.9 92.99h16.1v2.49h-16.1zM205.9 90.80h16.1v2.49h-16.1zM221.7 189.29h16.1v2.49h-16.1zM221.7 163.03h16.1v2.49h-16.1zM221.7 158.65h16.1v2.49h-16.1zM221.7 114.88h16.1v2.49h-16.1zM221.7 29.52h16.1v2.49h-16.1zM237.5 215.56h16.1v2.49h-16.1zM237.5 145.52h16.1v2.49h-16.1zM237.5 138.95h16.1v2.49h-16.1zM253.3 173.97h16.1v2.49h-16.1zM253.3 143.33h16.1v2.49h-16.1zM253.3 132.39h16.1v2.49h-16.1zM253.3 123.63h16.1v2.49h-16.1zM269.1 169.60h16.1v2.49h-16.1zM284.9 195.86h16.1v2.49h-16.1zM284.9 184.92h16.1v2.49h-16.1zM284.9 165.22h16.1v2.49h-16.1zM284.9 136.76h16.1v2.49h-16.1zM284.9 134.58h16.1v2.49h-16.1zM284.9 110.50h16.1v2.49h-16.1zM284.9 97.37h16.1v2.49h-16.1zM300.7 173.97h16.1v2.49h-16.1zM300.7 165.22h16.1v2.49h-16.1zM300.7 149.90h16.1v2.49h-16.1zM300.7 130.20h16.1v2.49h-16.1zM300.7 119.25h16.1v2.49h-16.1zM300.7 108.31h16.1v2.49h-16.1zM300.7 95.18h16.1v2.49h-16.1zM316.5 178.35h16.1v2.49h-16.1zM316.5 176.16h16.1v2.49h-16.1zM316.5 171.78h16.1v2.49h-16.1zM316.5 147.71h16.1v2.49h-16.1zM316.5 136.76h16.1v2.49h-16.1zM316.5 106.12h16.1v2.49h-16.1zM316.5 42.65h16.1v2.49h-16.1zM316.5 33.89h16.1v2.49h-16.1zM332.3 252.77h16.1v2.49h-16.1zM332.3 149.90h16.1v2.49h-16.1zM332.3 119.25h16.1v2.49h-16.1zM332.3 106.12h16.1v2.49h-16.1zM332.3 31.70h16.1v2.49h-16.1zM348.1 263.71h16.1v2.49h-16.1zM348.1 261.52h16.1v2.49h-16.1zM348.1 259.33h16.1v2.49h-16.1zM348.1 134.58h16.1v2.49h-16.1zM348.1 128.01h16.1v2.49h-16.1zM348.1 119.25h16.1v2.49h-16.1zM348.1 90.80h16.1v2.49h-16.1zM348.1 82.05h16.1v2.49h-16.1zM363.9 248.39h16.1v2.49h-16.1zM363.9 130.20h16.1v2.49h-16.1zM363.9 99.56h16.1v2.49h-16.1zM379.7 261.52h16.1v2.49h-16.1zM379.7 237.45h16.1v2.49h-16.1zM379.7 169.60h16.1v2.49h-16.1zM379.7 158.65h16.1v2.49h-16.1zM379.7 143.33h16.1v2.49h-16.1zM379.7 136.76h16.1v2.49h-16.1zM379.7 114.88h16.1v2.49h-16.1zM379.7 106.12h16.1v2.49h-16.1zM379.7 84.23h16.1v2.49h-16.1zM395.5 254.96h16.1v2.49h-16.1zM395.5 169.60h16.1v2.49h-16.1zM395.5 167.41h16.1v2.49h-16.1zM395.5 165.22h16.1v2.49h-16.1zM395.5 156.46h16.1v2.49h-16.1zM411.3 184.92h16.1v2.49h-16.1zM411.3 152.09h16.1v2.49h-16.1zM411.3 138.95h16.1v2.49h-16.1zM411.3 114.88h16.1v2.49h-16.1zM411.3 103.93h16.1v2.49h-16.1zM411.3 29.52h16.1v2.49h-16.1zM427.1 171.78h16.1v2.49h-16.1zM427.1 147.71h16.1v2.49h-16.1zM427.1 138.95h16.1v2.49h-16.1zM442.9 261.52h16.1v2.49h-16.1zM442.9 259.33h16.1v2.49h-16.1zM442.9 178.35h16.1v2.49h-16.1zM442.9 176.16h16.1v2.49h-16.1zM442.9 145.52h16.1v2.49h-16.1zM458.7 259.33h16.1v2.49h-16.1zM458.7 132.39h16.1v2.49h-16.1zM458.7 123.63h16.1v2.49h-16.1zM458.7 36.08h16.1v2.49h-16.1zM474.5 176.16h16.1v2.49h-16.1zM474.5 171.78h16.1v2.49h-16.1zM506.1 119.25h16.1v2.49h-16.1zM506.1 112.69h16.1v2.49h-16.1zM521.9 244.01h16.1v2.49h-16.1zM521.9 128.01h16.1v2.49h-16.1zM521.9 114.88h16.1v2.49h-16.1zM521.9 112.69h16.1v2.49h-16.1zM521.9 110.50h16.1v2.49h-16.1zM521.9 106.12h16.1v2.49h-16.1zM521.9 99.56h16.1v2.49h-16.1zM537.7 125.82h16.1v2.49h-16.1zM537.7 119.25h16.1v2.49h-16.1zM553.5 182.73h16.1v2.49h-16.1zM553.5 178.35h16.1v2.49h-16.1zM553.5 125.82h16.1v2.49h-16.1zM553.5 121.44h16.1v2.49h-16.1zM569.3 180.54h16.1v2.49h-16.1zM569.3 178.35h16.1v2.49h-16.1zM585.1 103.93h16.1v2.49h-16.1zM616.7 180.54h16.1v2.49h-16.1zM616.7 114.88h16.1v2.49h-16.1zM632.5 182.73h16.1v2.49h-16.1zM632.5 97.37h16.1v2.49h-16.1zM648.3 123.63h16.1v2.49h-16.1zM648.3 103.93h16.1v2.49h-16.1zM664.1 189.29h16.1v2.49h-16.1zM664.1 117.07h16.1v2.49h-16.1zM664.1 95.18h16.1v2.49h-16.1zM664.1 38.27h16.1v2.49h-16.1zM679.9 252.77h16.1v2.49h-16.1zM679.9 97.37h16.1v2.49h-16.1zM679.9 27.33h16.1v2.49h-16.1zM695.7 254.96h16.1v2.49h-16.1zM695.7 193.67h16.1v2.49h-16.1zM695.7 121.44h16.1v2.49h-16.1zM695.7 114.88h16.1v2.49h-16.1zM695.7 38.27h16.1v2.49h-16.1zM711.5 125.82h16.1v2.49h-16.1zM711.5 117.07h16.1v2.49h-16.1zM711.5 31.70h16.1v2.49h-16.1zM711.5 29.52h16.1v2.49h-16.1zM727.3 211.18h16.1v2.49h-16.1zM727.3 125.82h16.1v2.49h-16.1zM727.3 38.27h16.1v2.49h-16.1zM727.3 29.52h16.1v2.49h-16.1zM743.1 130.20h16.1v2.49h-16.1zM743.1 112.69h16.1v2.49h-16.1zM758.9 117.07h16.1v2.49h-16.1zM758.9 64.54h16.1v2.49h-16.1zM774.7 219.94h16.1v2.49h-16.1zM774.7 213.37h16.1v2.49h-16.1zM774.7 211.18h16.1v2.49h-16.1zM774.7 117.07h16.1v2.49h-16.1zM774.7 57.97h16.1v2.49h-16.1zM774.7 55.78h16.1v2.49h-16.1zM774.7 49.21h16.1v2.49h-16.1zM774.7 27.33h16.1v2.49h-16.1zM790.5 259.33h16.1v2.49h-16.1zM790.5 217.75h16.1v2.49h-16.1zM790.5 121.44h16.1v2.49h-16.1zM790.5 27.33h16.1v2.49h-16.1zM806.3 51.40h9.7v2.49h-9.7zM806.3 38.27h9.7v2.49h-9.7z"/>
<path fill="#9f140d" d="M119.0 134.58h8.2v2.49h-8.2zM126.9 163.03h16.1v2.49h-16.1zM142.7 165.22h16.1v2.49h-16.1zM237.5 163.03h16.1v2.49h-16.1zM300.7 106.12h16.1v2.49h-16.1zM300.7 92.99h16.1v2.49h-16.1zM316.5 95.18h16.1v2.49h-16.1zM332.3 128.01h16.1v2.49h-16.1zM348.1 117.07h16.1v2.49h-16.1zM348.1 103.93h16.1v2.49h-16.1zM427.1 169.60h16.1v2.49h-16.1zM427.1 154.27h16.1v2.49h-16.1zM427.1 132.39h16.1v2.49h-16.1zM474.5 130.20h16.1v2.49h-16.1zM490.3 187.11h16.1v2.49h-16.1zM490.3 143.33h16.1v2.49h-16.1zM506.1 184.92h16.1v2.49h-16.1zM506.1 173.97h16.1v2.49h-16.1zM506.1 147.71h16.1v2.49h-16.1zM521.9 184.92h16.1v2.49h-16.1zM521.9 132.39h16.1v2.49h-16.1zM537.7 132.39h16.1v2.49h-16.1zM537.7 112.69h16.1v2.49h-16.1zM616.7 123.63h16.1v2.49h-16.1zM616.7 119.25h16.1v2.49h-16.1zM616.7 117.07h16.1v2.49h-16.1zM632.5 119.25h16.1v2.49h-16.1zM648.3 119.25h16.1v2.49h-16.1zM664.1 103.93h16.1v2.49h-16.1zM695.7 191.48h16.1v2.49h-16.1zM695.7 119.25h16.1v2.49h-16.1zM711.5 95.18h16.1v2.49h-16.1zM727.3 195.86h16.1v2.49h-16.1zM743.1 206.80h16.1v2.49h-16.1zM743.1 204.62h16.1v2.49h-16.1zM743.1 202.43h16.1v2.49h-16.1zM743.1 128.01h16.1v2.49h-16.1zM743.1 117.07h16.1v2.49h-16.1zM743.1 55.78h16.1v2.49h-16.1zM758.9 204.62h16.1v2.49h-16.1zM758.9 202.43h16.1v2.49h-16.1zM758.9 51.40h16.1v2.49h-16.1zM758.9 38.27h16.1v2.49h-16.1zM774.7 119.25h16.1v2.49h-16.1zM790.5 211.18h16.1v2.49h-16.1zM790.5 134.58h16.1v2.49h-16.1zM806.3 130.20h9.7v2.49h-9.7z"/>
<path fill="#94140d" d="M119.0 132.39h8.2v2.49h-8.2zM119.0 14.19h8.2v2.49h-8.2zM126.9 136.76h16.1v2.49h-16.1zM126.9 103.93h16.1v2.49h-16.1zM142.7 136.76h16.1v2.49h-16.1zM142.7 119.25h16.1v2.49h-16.1zM142.7 108.31h16.1v2.49h-16.1zM142.7 103.93h16.1v2.49h-16.1zM142.7 95.18h16.1v2.49h-16.1zM158.5 182.73h16.1v2.49h-16.1zM158.5 176.16h16.1v2.49h-16.1zM158.5 160.84h16.1v2.49h-16.1zM174.3 244.01h16.1v2.49h-16.1zM174.3 176.16h16.1v2.49h-16.1zM174.3 165.22h16.1v2.49h-16.1zM174.3 57.97h16.1v2.49h-16.1zM190.1 132.39h16.1v2.49h-16.1zM190.1 125.82h16.1v2.49h-16.1zM205.9 237.45h16.1v2.49h-16.1zM205.9 163.03h16.1v2.49h-16.1zM205.9 121.44h16.1v2.49h-16.1zM221.7 208.99h16.1v2.49h-16.1zM221.7 156.46h16.1v2.49h-16.1zM221.7 152.09h16.1v2.49h-16.1zM221.7 143.33h16.1v2.49h-16.1zM221.7 119.25h16.1v2.49h-16.1zM221.7 101.74h16.1v2.49h-16.1zM221.7 95.18h16.1v2.49h-16.1zM237.5 213.37h16.1v2.49h-16.1zM237.5 117.07h16.1v2.49h-16.1zM237.5 99.56h16.1v2.49h-16.1zM253.3 191.48h16.1v2.49h-16.1zM269.1 163.03h16.1v2.49h-16.1zM269.1 136.76h16.1v2.49h-16.1zM269.1 134.58h16.1v2.49h-16.1zM269.1 106.12h16.1v2.49h-16.1zM269.1 14.19h16.1v2.49h-16.1zM284.9 132.39h16.1v2.49h-16.1zM300.7 160.84h16.1v2.49h-16.1zM300.7 110.50h16.1v2.49h-16.1zM316.5 149.90h16.1v2.49h-16.1zM316.5 143.33h16.1v2.49h-16.1zM316.5 101.74h16.1v2.49h-16.1zM332.3 178.35h16.1v2.49h-16.1zM332.3 134.58h16.1v2.49h-16.1zM332.3 132.39h16.1v2.49h-16.1zM332.3 125.82h16.1v2.49h-16.1zM332.3 117.07h16.1v2.49h-16.1zM348.1 178.35h16.1v2.49h-16.1zM348.1 173.97h16.1v2.49h-16.1zM348.1 138.95h16.1v2.49h-16.1zM348.1 125.82h16.1v2.49h-16.1zM348.1 99.56h16.1v2.49h-16.1zM348.1 84.23h16.1v2.49h-16.1zM363.9 182.73h16.1v2.49h-16.1zM363.9 138.95h16.1v2.49h-16.1zM363.9 125.82h16.1v2.49h-16.1zM363.9 119.25h16.1v2.49h-16.1zM379.7 184.92h16.1v2.49h-16.1zM379.7 176.16h16.1v2.49h-16.1zM379.7 138.95h16.1v2.49h-16.1zM379.7 82.05h16.1v2.49h-16.1zM395.5 182.73h16.1v2.49h-16.1zM395.5 180.54h16.1v2.49h-16.1zM395.5 143.33h16.1v2.49h-16.1zM395.5 82.05h16.1v2.49h-16.1zM395.5 57.97h16.1v2.49h-16.1zM411.3 178.35h16.1v2.49h-16.1zM411.3 171.78h16.1v2.49h-16.1zM411.3 106.12h16.1v2.49h-16.1zM411.3 101.74h16.1v2.49h-16.1zM427.1 136.76h16.1v2.49h-16.1zM427.1 134.58h16.1v2.49h-16.1zM427.1 106.12h16.1v2.49h-16.1zM442.9 147.71h16.1v2.49h-16.1zM442.9 143.33h16.1v2.49h-16.1zM442.9 121.44h16.1v2.49h-16.1zM442.9 114.88h16.1v2.49h-16.1zM442.9 20.76h16.1v2.49h-16.1zM458.7 257.15h16.1v2.49h-16.1zM458.7 235.26h16.1v2.49h-16.1zM458.7 106.12h16.1v2.49h-16.1zM474.5 169.60h16.1v2.49h-16.1zM474.5 132.39h16.1v2.49h-16.1zM474.5 128.01h16.1v2.49h-16.1zM490.3 138.95h16.1v2.49h-16.1zM490.3 136.76h16.1v2.49h-16.1zM506.1 169.60h16.1v2.49h-16.1zM506.1 117.07h16.1v2.49h-16.1zM506.1 42.65h16.1v2.49h-16.1zM521.9 213.37h16.1v2.49h-16.1zM521.9 182.73h16.1v2.49h-16.1zM521.9 141.14h16.1v2.49h-16.1zM521.9 125.82h16.1v2.49h-16.1zM521.9 42.65h16.1v2.49h-16.1zM537.7 101.74h16.1v2.49h-16.1zM553.5 235.26h16.1v2.49h-16.1zM569.3 228.69h16.1v2.49h-16.1zM569.3 189.29h16.1v2.49h-16.1zM569.3 121.44h16.1v2.49h-16.1zM600.9 110.50h16.1v2.49h-16.1zM648.3 187.11h16.1v2.49h-16.1zM679.9 103.93h16.1v2.49h-16.1zM679.9 38.27h16.1v2.49h-16.1zM695.7 252.77h16.1v2.49h-16.1zM695.7 101.74h16.1v2.49h-16.1zM711.5 195.86h16.1v2.49h-16.1zM711.5 106.12h16.1v2.49h-16.1zM711.5 97.37h16.1v2.49h-16.1zM711.5 84.23h16.1v2.49h-16.1zM727.3 95.18h16.1v2.49h-16.1zM727.3 36.08h16.1v2.49h-16.1zM743.1 233.07h16.1v2.49h-16.1zM743.1 224.31h16.1v2.49h-16.1zM758.9 121.44h16.1v2.49h-16.1zM758.9 55.78h16.1v2.49h-16.1zM774.7 217.75h16.1v2.49h-16.1zM774.7 60.16h16.1v2.49h-16.1zM774.7 51.40h16.1v2.49h-16.1zM790.5 257.15h16.1v2.49h-16.1zM790.5 215.56h16.1v2.49h-16.1zM790.5 51.40h16.1v2.49h-16.1zM806.3 217.75h9.7v2.49h-9.7zM806.3 128.01h9.7v2.49h-9.7z"/>
<path fill="#9c140d" d="M119.0 51.40h8.2v2.49h-8.2zM126.9 173.97h16.1v2.49h-16.1zM126.9 130.20h16.1v2.49h-16.1zM142.7 173.97h16.1v2.49h-16.1zM142.7 158.65h16.1v2.49h-16.1zM142.7 152.09h16.1v2.49h-16.1zM142.7 106.12h16.1v2.49h-16.1zM158.5 173.97h16.1v2.49h-16.1zM174.3 134.58h16.1v2.49h-16.1zM190.1 134.58h16.1v2.49h-16.1zM205.9 128.01h16.1v2.49h-16.1zM221.7 138.95h16.1v2.49h-16.1zM221.7 117.07h16.1v2.49h-16.1zM237.5 206.80h16.1v2.49h-16.1zM237.5 134.58h16.1v2.49h-16.1zM269.1 145.52h16.1v2.49h-16.1zM284.9 106.12h16.1v2.49h-16.1zM316.5 121.44h16.1v2.49h-16.1zM332.3 176.16h16.1v2.49h-16.1zM348.1 130.20h16.1v2.49h-16.1zM363.9 259.33h16.1v2.49h-16.1zM363.9 176.16h16.1v2.49h-16.1zM379.7 182.73h16.1v2.49h-16.1zM379.7 165.22h16.1v2.49h-16.1zM379.7 134.58h16.1v2.49h-16.1zM395.5 138.95h16.1v2.49h-16.1zM395.5 134.58h16.1v2.49h-16.1zM411.3 163.03h16.1v2.49h-16.1zM411.3 141.14h16.1v2.49h-16.1zM427.1 233.07h16.1v2.49h-16.1zM442.9 169.60h16.1v2.49h-16.1zM458.7 138.95h16.1v2.49h-16.1zM490.3 145.52h16.1v2.49h-16.1zM490.3 141.14h16.1v2.49h-16.1zM506.1 145.52h16.1v2.49h-16.1zM521.9 143.33h16.1v2.49h-16.1zM537.7 171.78h16.1v2.49h-16.1zM553.5 128.01h16.1v2.49h-16.1zM569.3 176.16h16.1v2.49h-16.1zM569.3 171.78h16.1v2.49h-16.1zM569.3 119.25h16.1v2.49h-16.1zM600.9 178.35h16.1v2.49h-16.1zM648.3 180.54h16.1v2.49h-16.1zM648.3 121.44h16.1v2.49h-16.1zM664.1 123.63h16.1v2.49h-16.1zM664.1 106.12h16.1v2.49h-16.1zM711.5 119.25h16.1v2.49h-16.1zM758.9 208.99h16.1v2.49h-16.1zM758.9 125.82h16.1v2.49h-16.1zM758.9 112.69h16.1v2.49h-16.1zM790.5 206.80h16.1v2.49h-16.1zM806.3 213.37h9.7v2.49h-9.7zM806.3 204.62h9.7v2.49h-9.7zM806.3 141.14h9.7v2.49h-9.7z"/>
<path fill="#351410" d="M126.9 351.26h16.1v2.49h-16.1zM126.9 349.07h16.1v2.49h-16.1zM221.7 349.07h16.1v2.49h-16.1zM253.3 357.83h16.1v2.49h-16.1zM363.9 362.21h16.1v1.39h-16.1zM458.7 351.26h16.1v2.49h-16.1zM632.5 353.45h16.1v2.49h-16.1z"/>
<path fill="#58130c" d="M126.9 331.56h16.1v2.49h-16.1zM126.9 311.86h16.1v2.49h-16.1zM126.9 307.49h16.1v2.49h-16.1zM126.9 298.73h16.1v2.49h-16.1zM126.9 292.17h16.1v2.49h-16.1zM126.9 281.22h16.1v2.49h-16.1zM142.7 325.00h16.1v2.49h-16.1zM142.7 322.81h16.1v2.49h-16.1zM142.7 314.05h16.1v2.49h-16.1zM142.7 309.68h16.1v2.49h-16.1zM142.7 307.49h16.1v2.49h-16.1zM142.7 298.73h16.1v2.49h-16.1zM158.5 303.11h16.1v2.49h-16.1zM174.3 325.00h16.1v2.49h-16.1zM174.3 320.62h16.1v2.49h-16.1zM174.3 316.24h16.1v2.49h-16.1zM174.3 314.05h16.1v2.49h-16.1zM174.3 309.68h16.1v2.49h-16.1zM174.3 307.49h16.1v2.49h-16.1zM174.3 300.92h16.1v2.49h-16.1zM190.1 329.37h16.1v2.49h-16.1zM190.1 325.00h16.1v2.49h-16.1zM190.1 318.43h16.1v2.49h-16.1zM190.1 285.60h16.1v2.49h-16.1zM205.9 314.05h16.1v2.49h-16.1zM205.9 307.49h16.1v2.49h-16.1zM205.9 289.98h16.1v2.49h-16.1zM221.7 331.56h16.1v2.49h-16.1zM221.7 327.19h16.1v2.49h-16.1zM221.7 300.92h16.1v2.49h-16.1zM237.5 296.54h16.1v2.49h-16.1zM253.3 320.62h16.1v2.49h-16.1zM253.3 303.11h16.1v2.49h-16.1zM269.1 333.75h16.1v2.49h-16.1zM284.9 303.11h16.1v2.49h-16.1zM284.9 296.54h16.1v2.49h-16.1zM300.7 329.37h16.1v2.49h-16.1zM300.7 327.19h16.1v2.49h-16.1zM300.7 320.62h16.1v2.49h-16.1zM300.7 294.35h16.1v2.49h-16.1zM316.5 307.49h16.1v2.49h-16.1zM316.5 289.98h16.1v2.49h-16.1zM332.3 340.32h16.1v2.49h-16.1zM332.3 329.37h16.1v2.49h-16.1zM332.3 325.00h16.1v2.49h-16.1zM332.3 309.68h16.1v2.49h-16.1zM332.3 300.92h16.1v2.49h-16.1zM332.3 296.54h16.1v2.49h-16.1zM332.3 289.98h16.1v2.49h-16.1zM348.1 331.56h16.1v2.49h-16.1zM348.1 322.81h16.1v2.49h-16.1zM348.1 311.86h16.1v2.49h-16.1zM348.1 309.68h16.1v2.49h-16.1zM363.9 325.00h16.1v2.49h-16.1zM363.9 281.22h16.1v2.49h-16.1zM379.7 296.54h16.1v2.49h-16.1zM427.1 331.56h16.1v2.49h-16.1zM427.1 309.68h16.1v2.49h-16.1zM458.7 322.81h16.1v2.49h-16.1zM458.7 318.43h16.1v2.49h-16.1zM458.7 287.79h16.1v2.49h-16.1zM474.5 329.37h16.1v2.49h-16.1zM474.5 318.43h16.1v2.49h-16.1zM474.5 316.24h16.1v2.49h-16.1zM490.3 353.45h16.1v2.49h-16.1zM490.3 320.62h16.1v2.49h-16.1zM490.3 316.24h16.1v2.49h-16.1zM506.1 344.70h16.1v2.49h-16.1zM537.7 303.11h16.1v2.49h-16.1zM537.7 281.22h16.1v2.49h-16.1zM553.5 333.75h16.1v2.49h-16.1zM553.5 327.19h16.1v2.49h-16.1zM553.5 305.30h16.1v2.49h-16.1zM553.5 281.22h16.1v2.49h-16.1zM569.3 318.43h16.1v2.49h-16.1zM569.3 298.73h16.1v2.49h-16.1zM585.1 331.56h16.1v2.49h-16.1zM585.1 329.37h16.1v2.49h-16.1zM585.1 314.05h16.1v2.49h-16.1zM600.9 327.19h16.1v2.49h-16.1zM600.9 320.62h16.1v2.49h-16.1zM616.7 305.30h16.1v2.49h-16.1zM632.5 320.62h16.1v2.49h-16.1zM632.5 316.24h16.1v2.49h-16.1zM648.3 320.62h16.1v2.49h-16.1zM648.3 318.43h16.1v2.49h-16.1zM664.1 322.81h16.1v2.49h-16.1zM664.1 283.41h16.1v2.49h-16.1zM679.9 333.75h16.1v2.49h-16.1zM679.9 329.37h16.1v2.49h-16.1zM695.7 325.00h16.1v2.49h-16.1zM695.7 279.03h16.1v2.49h-16.1zM711.5 333.75h16.1v2.49h-16.1zM711.5 322.81h16.1v2.49h-16.1zM711.5 300.92h16.1v2.49h-16.1zM727.3 318.43h16.1v2.49h-16.1zM743.1 329.37h16.1v2.49h-16.1zM743.1 305.30h16.1v2.49h-16.1zM743.1 296.54h16.1v2.49h-16.1zM758.9 303.11h16.1v2.49h-16.1zM774.7 335.94h16.1v2.49h-16.1zM774.7 327.19h16.1v2.49h-16.1zM774.7 316.24h16.1v2.49h-16.1zM774.7 300.92h16.1v2.49h-16.1zM790.5 285.60h16.1v2.49h-16.1zM806.3 316.24h9.7v2.49h-9.7zM806.3 300.92h9.7v2.49h-9.7zM806.3 285.60h9.7v2.49h-9.7z"/>
<path fill="#53130d" d="M126.9 329.37h16.1v2.49h-16.1zM190.1 342.51h16.1v2.49h-16.1zM190.1 333.75h16.1v2.49h-16.1zM190.1 311.86h16.1v2.49h-16.1zM190.1 294.35h16.1v2.49h-16.1zM205.9 342.51h16.1v2.49h-16.1zM205.9 329.37h16.1v2.49h-16.1zM205.9 309.68h16.1v2.49h-16.1zM205.9 298.73h16.1v2.49h-16.1zM221.7 342.51h16.1v2.49h-16.1zM237.5 300.92h16.1v2.49h-16.1zM253.3 296.54h16.1v2.49h-16.1zM253.3 289.98h16.1v2.49h-16.1zM284.9 333.75h16.1v2.49h-16.1zM284.9 327.19h16.1v2.49h-16.1zM284.9 311.86h16.1v2.49h-16.1zM284.9 309.68h16.1v2.49h-16.1zM284.9 307.49h16.1v2.49h-16.1zM300.7 305.30h16.1v2.49h-16.1zM300.7 300.92h16.1v2.49h-16.1zM300.7 292.17h16.1v2.49h-16.1zM316.5 335.94h16.1v2.49h-16.1zM332.3 305.30h16.1v2.49h-16.1zM332.3 292.17h16.1v2.49h-16.1zM363.9 331.56h16.1v2.49h-16.1zM395.5 331.56h16.1v2.49h-16.1zM395.5 318.43h16.1v2.49h-16.1zM395.5 314.05h16.1v2.49h-16.1zM411.3 331.56h16.1v2.49h-16.1zM411.3 325.00h16.1v2.49h-16.1zM427.1 342.51h16.1v2.49h-16.1zM427.1 338.13h16.1v2.49h-16.1zM442.9 338.13h16.1v2.49h-16.1zM442.9 314.05h16.1v2.49h-16.1zM474.5 355.64h16.1v2.49h-16.1zM474.5 346.88h16.1v2.49h-16.1zM474.5 309.68h16.1v2.49h-16.1zM474.5 296.54h16.1v2.49h-16.1zM490.3 340.32h16.1v2.49h-16.1zM490.3 311.86h16.1v2.49h-16.1zM506.1 318.43h16.1v2.49h-16.1zM506.1 316.24h16.1v2.49h-16.1zM506.1 311.86h16.1v2.49h-16.1zM506.1 307.49h16.1v2.49h-16.1zM521.9 344.70h16.1v2.49h-16.1zM521.9 322.81h16.1v2.49h-16.1zM521.9 318.43h16.1v2.49h-16.1zM521.9 314.05h16.1v2.49h-16.1zM537.7 320.62h16.1v2.49h-16.1zM553.5 309.68h16.1v2.49h-16.1zM553.5 294.35h16.1v2.49h-16.1zM569.3 360.02h16.1v2.49h-16.1zM569.3 335.94h16.1v2.49h-16.1zM569.3 325.00h16.1v2.49h-16.1zM569.3 309.68h16.1v2.49h-16.1zM585.1 300.92h16.1v2.49h-16.1zM600.9 335.94h16.1v2.49h-16.1zM600.9 311.86h16.1v2.49h-16.1zM616.7 346.88h16.1v2.49h-16.1zM616.7 333.75h16.1v2.49h-16.1zM616.7 318.43h16.1v2.49h-16.1zM616.7 307.49h16.1v2.49h-16.1zM632.5 327.19h16.1v2.49h-16.1zM632.5 307.49h16.1v2.49h-16.1zM632.5 305.30h16.1v2.49h-16.1zM648.3 309.68h16.1v2.49h-16.1zM648.3 307.49h16.1v2.49h-16.1zM664.1 349.07h16.1v2.49h-16.1zM664.1 327.19h16.1v2.49h-16.1zM664.1 305.30h16.1v2.49h-16.1zM679.9 320.62h16.1v2.49h-16.1zM695.7 344.70h16.1v2.49h-16.1zM695.7 342.51h16.1v2.49h-16.1zM695.7 329.37h16.1v2.49h-16.1zM695.7 327.19h16.1v2.49h-16.1zM695.7 320.62h16.1v2.49h-16.1zM695.7 309.68h16.1v2.49h-16.1zM711.5 314.05h16.1v2.49h-16.1zM711.5 296.54h16.1v2.49h-16.1zM727.3 340.32h16.1v2.49h-16.1zM727.3 322.81h16.1v2.49h-16.1zM774.7 318.43h16.1v2.49h-16.1zM774.7 309.68h16.1v2.49h-16.1zM790.5 344.70h16.1v2.49h-16.1zM790.5 333.75h16.1v2.49h-16.1zM790.5 322.81h16.1v2.49h-16.1zM790.5 320.62h16.1v2.49h-16.1zM790.5 316.24h16.1v2.49h-16.1zM790.5 294.35h16.1v2.49h-16.1zM806.3 327.19h9.7v2.49h-9.7zM806.3 318.43h9.7v2.49h-9.7z"/>
<path fill="#99140d" d="M126.9 176.16h16.1v2.49h-16.1zM126.9 152.09h16.1v2.49h-16.1zM126.9 132.39h16.1v2.49h-16.1zM126.9 128.01h16.1v2.49h-16.1zM142.7 130.20h16.1v2.49h-16.1zM190.1 119.25h16.1v2.49h-16.1zM205.9 130.20h16.1v2.49h-16.1zM205.9 119.25h16.1v2.49h-16.1zM221.7 206.80h16.1v2.49h-16.1zM221.7 176.16h16.1v2.49h-16.1zM221.7 160.84h16.1v2.49h-16.1zM221.7 99.56h16.1v2.49h-16.1zM237.5 160.84h16.1v2.49h-16.1zM253.3 163.03h16.1v2.49h-16.1zM253.3 128.01h16.1v2.49h-16.1zM253.3 125.82h16.1v2.49h-16.1zM253.3 117.07h16.1v2.49h-16.1zM269.1 132.39h16.1v2.49h-16.1zM269.1 117.07h16.1v2.49h-16.1zM284.9 130.20h16.1v2.49h-16.1zM284.9 92.99h16.1v2.49h-16.1zM300.7 163.03h16.1v2.49h-16.1zM316.5 184.92h16.1v2.49h-16.1zM316.5 163.03h16.1v2.49h-16.1zM316.5 160.84h16.1v2.49h-16.1zM316.5 152.09h16.1v2.49h-16.1zM316.5 130.20h16.1v2.49h-16.1zM332.3 130.20h16.1v2.49h-16.1zM332.3 95.18h16.1v2.49h-16.1zM363.9 163.03h16.1v2.49h-16.1zM363.9 103.93h16.1v2.49h-16.1zM363.9 84.23h16.1v2.49h-16.1zM379.7 163.03h16.1v2.49h-16.1zM395.5 132.39h16.1v2.49h-16.1zM395.5 130.20h16.1v2.49h-16.1zM411.3 117.07h16.1v2.49h-16.1zM427.1 173.97h16.1v2.49h-16.1zM427.1 143.33h16.1v2.49h-16.1zM427.1 141.14h16.1v2.49h-16.1zM427.1 128.01h16.1v2.49h-16.1zM427.1 114.88h16.1v2.49h-16.1zM427.1 101.74h16.1v2.49h-16.1zM427.1 82.05h16.1v2.49h-16.1zM442.9 138.95h16.1v2.49h-16.1zM458.7 141.14h16.1v2.49h-16.1zM474.5 182.73h16.1v2.49h-16.1zM474.5 167.41h16.1v2.49h-16.1zM474.5 138.95h16.1v2.49h-16.1zM490.3 184.92h16.1v2.49h-16.1zM490.3 178.35h16.1v2.49h-16.1zM506.1 187.11h16.1v2.49h-16.1zM506.1 171.78h16.1v2.49h-16.1zM506.1 167.41h16.1v2.49h-16.1zM506.1 143.33h16.1v2.49h-16.1zM537.7 180.54h16.1v2.49h-16.1zM537.7 121.44h16.1v2.49h-16.1zM537.7 103.93h16.1v2.49h-16.1zM553.5 211.18h16.1v2.49h-16.1zM553.5 112.69h16.1v2.49h-16.1zM569.3 169.60h16.1v2.49h-16.1zM569.3 128.01h16.1v2.49h-16.1zM585.1 176.16h16.1v2.49h-16.1zM585.1 173.97h16.1v2.49h-16.1zM585.1 169.60h16.1v2.49h-16.1zM585.1 123.63h16.1v2.49h-16.1zM585.1 121.44h16.1v2.49h-16.1zM600.9 119.25h16.1v2.49h-16.1zM600.9 117.07h16.1v2.49h-16.1zM600.9 112.69h16.1v2.49h-16.1zM600.9 103.93h16.1v2.49h-16.1zM600.9 92.99h16.1v2.49h-16.1zM616.7 246.20h16.1v2.49h-16.1zM616.7 178.35h16.1v2.49h-16.1zM632.5 189.29h16.1v2.49h-16.1zM632.5 180.54h16.1v2.49h-16.1zM648.3 182.73h16.1v2.49h-16.1zM664.1 182.73h16.1v2.49h-16.1zM679.9 189.29h16.1v2.49h-16.1zM679.9 119.25h16.1v2.49h-16.1zM711.5 198.05h16.1v2.49h-16.1zM727.3 117.07h16.1v2.49h-16.1zM727.3 33.89h16.1v2.49h-16.1zM758.9 128.01h16.1v2.49h-16.1zM758.9 62.35h16.1v2.49h-16.1zM774.7 208.99h16.1v2.49h-16.1zM774.7 38.27h16.1v2.49h-16.1zM790.5 38.27h16.1v2.49h-16.1zM806.3 134.58h9.7v2.49h-9.7zM806.3 121.44h9.7v2.49h-9.7zM806.3 27.33h9.7v2.49h-9.7z"/>
<path fill="#a6140e" d="M126.9 134.58h16.1v2.49h-16.1zM142.7 117.07h16.1v2.49h-16.1zM348.1 176.16h16.1v2.49h-16.1zM348.1 106.12h16.1v2.49h-16.1zM363.9 165.22h16.1v2.49h-16.1zM395.5 163.03h16.1v2.49h-16.1zM427.1 156.46h16.1v2.49h-16.1zM442.9 156.46h16.1v2.49h-16.1zM442.9 149.90h16.1v2.49h-16.1zM442.9 136.76h16.1v2.49h-16.1zM490.3 147.71h16.1v2.49h-16.1zM506.1 149.90h16.1v2.49h-16.1zM521.9 167.41h16.1v2.49h-16.1zM521.9 165.22h16.1v2.49h-16.1zM521.9 136.76h16.1v2.49h-16.1zM537.7 136.76h16.1v2.49h-16.1zM553.5 130.20h16.1v2.49h-16.1zM569.3 165.22h16.1v2.49h-16.1zM600.9 106.12h16.1v2.49h-16.1zM616.7 125.82h16.1v2.49h-16.1zM632.5 178.35h16.1v2.49h-16.1zM664.1 125.82h16.1v2.49h-16.1zM664.1 119.25h16.1v2.49h-16.1zM679.9 187.11h16.1v2.49h-16.1zM727.3 128.01h16.1v2.49h-16.1zM743.1 38.27h16.1v2.49h-16.1zM758.9 206.80h16.1v2.49h-16.1zM774.7 206.80h16.1v2.49h-16.1zM774.7 130.20h16.1v2.49h-16.1zM790.5 136.76h16.1v2.49h-16.1zM806.3 211.18h9.7v2.49h-9.7zM806.3 202.43h9.7v2.49h-9.7zM806.3 136.76h9.7v2.49h-9.7z"/>
<path fill="#3f140f" d="M142.7 362.21h16.1v1.39h-16.1zM158.5 353.45h16.1v2.49h-16.1zM158.5 346.88h16.1v2.49h-16.1zM158.5 340.32h16.1v2.49h-16.1zM174.3 355.64h16.1v2.49h-16.1zM174.3 353.45h16.1v2.49h-16.1zM174.3 338.13h16.1v2.49h-16.1zM190.1 338.13h16.1v2.49h-16.1zM205.9 360.02h16.1v2.49h-16.1zM221.7 344.70h16.1v2.49h-16.1zM221.7 338.13h16.1v2.49h-16.1zM221.7 309.68h16.1v2.49h-16.1zM237.5 362.21h16.1v1.39h-16.1zM237.5 355.64h16.1v2.49h-16.1zM237.5 311.86h16.1v2.49h-16.1zM253.3 353.45h16.1v2.49h-16.1zM300.7 349.07h16.1v2.49h-16.1zM300.7 346.88h16.1v2.49h-16.1zM316.5 351.26h16.1v2.49h-16.1zM348.1 357.83h16.1v2.49h-16.1zM348.1 355.64h16.1v2.49h-16.1zM363.9 340.32h16.1v2.49h-16.1zM379.7 346.88h16.1v2.49h-16.1zM379.7 344.70h16.1v2.49h-16.1zM379.7 340.32h16.1v2.49h-16.1zM379.7 329.37h16.1v2.49h-16.1zM395.5 351.26h16.1v2.49h-16.1zM395.5 346.88h16.1v2.49h-16.1zM442.9 344.70h16.1v2.49h-16.1zM458.7 342.51h16.1v2.49h-16.1zM458.7 331.56h16.1v2.49h-16.1zM458.7 327.19h16.1v2.49h-16.1zM521.9 351.26h16.1v2.49h-16.1zM521.9 338.13h16.1v2.49h-16.1zM537.7 360.02h16.1v2.49h-16.1zM537.7 340.32h16.1v2.49h-16.1zM569.3 353.45h16.1v2.49h-16.1zM585.1 355.64h16.1v2.49h-16.1zM585.1 351.26h16.1v2.49h-16.1zM585.1 346.88h16.1v2.49h-16.1zM585.1 333.75h16.1v2.49h-16.1zM632.5 362.21h16.1v1.39h-16.1zM632.5 344.70h16.1v2.49h-16.1zM632.5 338.13h16.1v2.49h-16.1zM648.3 357.83h16.1v2.49h-16.1zM664.1 362.21h16.1v1.39h-16.1zM679.9 357.83h16.1v2.49h-16.1zM711.5 344.70h16.1v2.49h-16.1zM727.3 355.64h16.1v2.49h-16.1zM727.3 351.26h16.1v2.49h-16.1zM727.3 349.07h16.1v2.49h-16.1zM743.1 362.21h16.1v1.39h-16.1zM743.1 357.83h16.1v2.49h-16.1zM774.7 338.13h16.1v2.49h-16.1zM806.3 338.13h9.7v2.49h-9.7z"/>
<path fill="#381410" d="M142.7 351.26h16.1v2.49h-16.1zM158.5 351.26h16.1v2.49h-16.1zM237.5 357.83h16.1v2.49h-16.1zM316.5 362.21h16.1v1.39h-16.1zM427.1 349.07h16.1v2.49h-16.1zM490.3 351.26h16.1v2.49h-16.1zM585.1 362.21h16.1v1.39h-16.1zM616.7 362.21h16.1v1.39h-16.1zM616.7 353.45h16.1v2.49h-16.1zM632.5 357.83h16.1v2.49h-16.1zM632.5 335.94h16.1v2.49h-16.1zM727.3 353.45h16.1v2.49h-16.1z"/>
<path fill="#3d140f" d="M142.7 346.88h16.1v2.49h-16.1zM174.3 362.21h16.1v1.39h-16.1zM174.3 342.51h16.1v2.49h-16.1zM237.5 307.49h16.1v2.49h-16.1zM253.3 362.21h16.1v1.39h-16.1zM253.3 355.64h16.1v2.49h-16.1zM253.3 340.32h16.1v2.49h-16.1zM269.1 355.64h16.1v2.49h-16.1zM269.1 351.26h16.1v2.49h-16.1zM284.9 349.07h16.1v2.49h-16.1zM284.9 344.70h16.1v2.49h-16.1zM284.9 338.13h16.1v2.49h-16.1zM300.7 340.32h16.1v2.49h-16.1zM300.7 298.73h16.1v2.49h-16.1zM363.9 360.02h16.1v2.49h-16.1zM395.5 349.07h16.1v2.49h-16.1zM395.5 340.32h16.1v2.49h-16.1zM411.3 360.02h16.1v2.49h-16.1zM427.1 353.45h16.1v2.49h-16.1zM427.1 346.88h16.1v2.49h-16.1zM458.7 333.75h16.1v2.49h-16.1zM474.5 360.02h16.1v2.49h-16.1zM474.5 351.26h16.1v2.49h-16.1zM521.9 353.45h16.1v2.49h-16.1zM743.1 353.45h16.1v2.49h-16.1zM774.7 362.21h16.1v1.39h-16.1zM790.5 351.26h16.1v2.49h-16.1z"/>
<path fill="#a2140d" d="M205.9 125.82h16.1v2.49h-16.1zM253.3 130.20h16.1v2.49h-16.1zM284.9 143.33h16.1v2.49h-16.1zM316.5 173.97h16.1v2.49h-16.1zM316.5 134.58h16.1v2.49h-16.1zM411.3 132.39h16.1v2.49h-16.1zM411.3 130.20h16.1v2.49h-16.1zM427.1 152.09h16.1v2.49h-16.1zM427.1 149.90h16.1v2.49h-16.1zM442.9 165.22h16.1v2.49h-16.1zM442.9 152.09h16.1v2.49h-16.1zM442.9 95.18h16.1v2.49h-16.1zM458.7 167.41h16.1v2.49h-16.1zM458.7 125.82h16.1v2.49h-16.1zM474.5 165.22h16.1v2.49h-16.1zM521.9 173.97h16.1v2.49h-16.1zM521.9 169.60h16.1v2.49h-16.1zM553.5 169.60h16.1v2.49h-16.1zM585.1 128.01h16.1v2.49h-16.1zM585.1 125.82h16.1v2.49h-16.1zM616.7 121.44h16.1v2.49h-16.1zM616.7 106.12h16.1v2.49h-16.1zM648.3 38.27h16.1v2.49h-16.1zM695.7 117.07h16.1v2.49h-16.1zM743.1 119.25h16.1v2.49h-16.1zM758.9 130.20h16.1v2.49h-16.1zM758.9 119.25h16.1v2.49h-16.1zM790.5 204.62h16.1v2.49h-16.1zM806.3 206.80h9.7v2.49h-9.7zM806.3 138.95h9.7v2.49h-9.7z"/>
<path fill="#a9130e" d="M237.5 136.76h16.1v2.49h-16.1zM253.3 145.52h16.1v2.49h-16.1zM253.3 136.76h16.1v2.49h-16.1zM411.3 143.33h16.1v2.49h-16.1zM427.1 130.20h16.1v2.49h-16.1zM442.9 154.27h16.1v2.49h-16.1zM458.7 165.22h16.1v2.49h-16.1zM458.7 158.65h16.1v2.49h-16.1zM458.7 149.90h16.1v2.49h-16.1zM474.5 136.76h16.1v2.49h-16.1zM490.3 182.73h16.1v2.49h-16.1zM490.3 169.60h16.1v2.49h-16.1zM521.9 138.95h16.1v2.49h-16.1zM600.9 176.16h16.1v2.49h-16.1zM632.5 125.82h16.1v2.49h-16.1zM648.3 117.07h16.1v2.49h-16.1zM711.5 193.67h16.1v2.49h-16.1zM727.3 130.20h16.1v2.49h-16.1zM743.1 200.24h16.1v2.49h-16.1zM743.1 198.05h16.1v2.49h-16.1zM743.1 195.86h16.1v2.49h-16.1zM743.1 193.67h16.1v2.49h-16.1zM743.1 132.39h16.1v2.49h-16.1zM743.1 36.08h16.1v2.49h-16.1zM758.9 132.39h16.1v2.49h-16.1zM790.5 208.99h16.1v2.49h-16.1zM790.5 130.20h16.1v2.49h-16.1z"/>
<path fill="#ac130e" d="M253.3 134.58h16.1v2.49h-16.1zM269.1 143.33h16.1v2.49h-16.1zM458.7 147.71h16.1v2.49h-16.1zM474.5 143.33h16.1v2.49h-16.1zM490.3 152.09h16.1v2.49h-16.1zM506.1 182.73h16.1v2.49h-16.1zM569.3 167.41h16.1v2.49h-16.1zM600.9 171.78h16.1v2.49h-16.1zM600.9 125.82h16.1v2.49h-16.1zM695.7 189.29h16.1v2.49h-16.1zM727.3 31.70h16.1v2.49h-16.1zM774.7 202.43h16.1v2.49h-16.1zM774.7 200.24h16.1v2.49h-16.1zM774.7 134.58h16.1v2.49h-16.1zM790.5 202.43h16.1v2.49h-16.1zM790.5 138.95h16.1v2.49h-16.1z"/>
<path fill="#341410" d="M395.5 362.21h16.1v1.39h-16.1zM411.3 362.21h16.1v1.39h-16.1zM427.1 362.21h16.1v1.39h-16.1z"/>
<path fill="#af130e" d="M427.1 167.41h16.1v2.49h-16.1zM442.9 167.41h16.1v2.49h-16.1zM442.9 158.65h16.1v2.49h-16.1zM458.7 163.03h16.1v2.49h-16.1zM458.7 152.09h16.1v2.49h-16.1zM474.5 152.09h16.1v2.49h-16.1zM506.1 152.09h16.1v2.49h-16.1zM521.9 130.20h16.1v2.49h-16.1zM537.7 169.60h16.1v2.49h-16.1zM553.5 167.41h16.1v2.49h-16.1zM632.5 117.07h16.1v2.49h-16.1zM648.3 125.82h16.1v2.49h-16.1zM664.1 180.54h16.1v2.49h-16.1zM711.5 191.48h16.1v2.49h-16.1zM727.3 198.05h16.1v2.49h-16.1zM727.3 191.48h16.1v2.49h-16.1zM727.3 132.39h16.1v2.49h-16.1zM743.1 191.48h16.1v2.49h-16.1zM758.9 198.05h16.1v2.49h-16.1zM758.9 193.67h16.1v2.49h-16.1zM774.7 193.67h16.1v2.49h-16.1zM774.7 132.39h16.1v2.49h-16.1zM790.5 132.39h16.1v2.49h-16.1zM806.3 143.33h9.7v2.49h-9.7z"/>
<path fill="#b6130f" d="M427.1 165.22h16.1v2.49h-16.1zM458.7 156.46h16.1v2.49h-16.1zM474.5 147.71h16.1v2.49h-16.1zM490.3 149.90h16.1v2.49h-16.1zM506.1 160.84h16.1v2.49h-16.1zM537.7 167.41h16.1v2.49h-16.1zM537.7 141.14h16.1v2.49h-16.1zM553.5 136.76h16.1v2.49h-16.1zM553.5 132.39h16.1v2.49h-16.1zM585.1 134.58h16.1v2.49h-16.1zM616.7 173.97h16.1v2.49h-16.1zM695.7 187.11h16.1v2.49h-16.1zM695.7 128.01h16.1v2.49h-16.1zM758.9 200.24h16.1v2.49h-16.1zM790.5 36.08h16.1v2.49h-16.1zM806.3 132.39h9.7v2.49h-9.7z"/>
<path fill="#c51210" d="M427.1 163.03h16.1v2.49h-16.1zM474.5 160.84h16.1v2.49h-16.1zM474.5 158.65h16.1v2.49h-16.1zM490.3 158.65h16.1v2.49h-16.1zM506.1 163.03h16.1v2.49h-16.1zM521.9 160.84h16.1v2.49h-16.1zM521.9 156.46h16.1v2.49h-16.1zM521.9 149.90h16.1v2.49h-16.1zM537.7 158.65h16.1v2.49h-16.1zM553.5 141.14h16.1v2.49h-16.1zM553.5 138.95h16.1v2.49h-16.1zM569.3 136.76h16.1v2.49h-16.1zM600.9 167.41h16.1v2.49h-16.1zM600.9 128.01h16.1v2.49h-16.1zM616.7 134.58h16.1v2.49h-16.1zM632.5 128.01h16.1v2.49h-16.1zM664.1 178.35h16.1v2.49h-16.1zM679.9 180.54h16.1v2.49h-16.1zM679.9 132.39h16.1v2.49h-16.1zM695.7 134.58h16.1v2.49h-16.1zM711.5 132.39h16.1v2.49h-16.1zM743.1 138.95h16.1v2.49h-16.1zM790.5 195.86h16.1v2.49h-16.1zM806.3 36.08h9.7v2.49h-9.7z"/>
<path fill="#cb100f" d="M427.1 160.84h16.1v2.49h-16.1zM506.1 154.27h16.1v2.49h-16.1zM521.9 163.03h16.1v2.49h-16.1zM521.9 152.09h16.1v2.49h-16.1zM600.9 132.39h16.1v2.49h-16.1zM648.3 171.78h16.1v2.49h-16.1zM679.9 136.76h16.1v2.49h-16.1zM695.7 132.39h16.1v2.49h-16.1zM727.3 184.92h16.1v2.49h-16.1zM727.3 182.73h16.1v2.49h-16.1zM727.3 138.95h16.1v2.49h-16.1zM758.9 29.52h16.1v2.49h-16.1z"/>
<path fill="#c7110f" d="M427.1 158.65h16.1v2.49h-16.1zM490.3 156.46h16.1v2.49h-16.1zM506.1 158.65h16.1v2.49h-16.1zM553.5 163.03h16.1v2.49h-16.1zM585.1 138.95h16.1v2.49h-16.1zM632.5 134.58h16.1v2.49h-16.1zM632.5 130.20h16.1v2.49h-16.1zM664.1 173.97h16.1v2.49h-16.1zM664.1 132.39h16.1v2.49h-16.1zM679.9 178.35h16.1v2.49h-16.1zM711.5 130.20h16.1v2.49h-16.1zM758.9 191.48h16.1v2.49h-16.1zM790.5 193.67h16.1v2.49h-16.1z"/>
<path fill="#b2130f" d="M442.9 163.03h16.1v2.49h-16.1zM474.5 141.14h16.1v2.49h-16.1zM490.3 165.22h16.1v2.49h-16.1zM490.3 163.03h16.1v2.49h-16.1zM521.9 171.78h16.1v2.49h-16.1zM537.7 134.58h16.1v2.49h-16.1zM537.7 130.20h16.1v2.49h-16.1zM553.5 165.22h16.1v2.49h-16.1zM585.1 167.41h16.1v2.49h-16.1zM679.9 184.92h16.1v2.49h-16.1zM679.9 128.01h16.1v2.49h-16.1zM743.1 33.89h16.1v2.49h-16.1zM743.1 29.52h16.1v2.49h-16.1zM758.9 134.58h16.1v2.49h-16.1zM774.7 204.62h16.1v2.49h-16.1zM774.7 198.05h16.1v2.49h-16.1zM790.5 200.24h16.1v2.49h-16.1z"/>
<path fill="#bc120f" d="M442.9 160.84h16.1v2.49h-16.1zM458.7 154.27h16.1v2.49h-16.1zM506.1 165.22h16.1v2.49h-16.1zM521.9 145.52h16.1v2.49h-16.1zM537.7 165.22h16.1v2.49h-16.1zM648.3 176.16h16.1v2.49h-16.1zM648.3 128.01h16.1v2.49h-16.1zM664.1 130.20h16.1v2.49h-16.1zM664.1 128.01h16.1v2.49h-16.1zM695.7 130.20h16.1v2.49h-16.1zM727.3 134.58h16.1v2.49h-16.1zM743.1 189.29h16.1v2.49h-16.1zM758.9 36.08h16.1v2.49h-16.1zM774.7 36.08h16.1v2.49h-16.1z"/>
<path fill="#b9130f" d="M458.7 160.84h16.1v2.49h-16.1zM474.5 163.03h16.1v2.49h-16.1zM474.5 149.90h16.1v2.49h-16.1zM490.3 160.84h16.1v2.49h-16.1zM521.9 158.65h16.1v2.49h-16.1zM569.3 134.58h16.1v2.49h-16.1zM569.3 132.39h16.1v2.49h-16.1zM569.3 130.20h16.1v2.49h-16.1zM585.1 165.22h16.1v2.49h-16.1zM585.1 132.39h16.1v2.49h-16.1zM600.9 169.60h16.1v2.49h-16.1zM616.7 176.16h16.1v2.49h-16.1zM648.3 173.97h16.1v2.49h-16.1zM711.5 134.58h16.1v2.49h-16.1zM727.3 193.67h16.1v2.49h-16.1zM790.5 198.05h16.1v2.49h-16.1zM790.5 141.14h16.1v2.49h-16.1zM806.3 200.24h9.7v2.49h-9.7z"/>
<path fill="#c21210" d="M458.7 136.76h16.1v2.49h-16.1zM474.5 154.27h16.1v2.49h-16.1zM490.3 154.27h16.1v2.49h-16.1zM506.1 156.46h16.1v2.49h-16.1zM553.5 160.84h16.1v2.49h-16.1zM585.1 136.76h16.1v2.49h-16.1zM616.7 171.78h16.1v2.49h-16.1zM616.7 128.01h16.1v2.49h-16.1zM632.5 176.16h16.1v2.49h-16.1zM727.3 189.29h16.1v2.49h-16.1zM727.3 187.11h16.1v2.49h-16.1zM743.1 134.58h16.1v2.49h-16.1zM758.9 136.76h16.1v2.49h-16.1zM774.7 195.86h16.1v2.49h-16.1z"/>
<path fill="#bf1210" d="M474.5 156.46h16.1v2.49h-16.1zM537.7 138.95h16.1v2.49h-16.1zM553.5 158.65h16.1v2.49h-16.1zM553.5 134.58h16.1v2.49h-16.1zM569.3 163.03h16.1v2.49h-16.1zM585.1 130.20h16.1v2.49h-16.1zM600.9 173.97h16.1v2.49h-16.1zM632.5 173.97h16.1v2.49h-16.1zM648.3 178.35h16.1v2.49h-16.1zM648.3 130.20h16.1v2.49h-16.1zM679.9 182.73h16.1v2.49h-16.1zM679.9 130.20h16.1v2.49h-16.1zM711.5 128.01h16.1v2.49h-16.1zM758.9 195.86h16.1v2.49h-16.1zM774.7 138.95h16.1v2.49h-16.1zM774.7 136.76h16.1v2.49h-16.1zM774.7 29.52h16.1v2.49h-16.1zM806.3 208.99h9.7v2.49h-9.7z"/>
<path fill="#311410" d="M506.1 351.26h16.1v2.49h-16.1z"/>
<path fill="#321410" d="M521.9 362.21h16.1v1.39h-16.1z"/>
<path fill="#d60d0d" d="M521.9 154.27h16.1v2.49h-16.1zM711.5 182.73h16.1v2.49h-16.1zM743.1 182.73h16.1v2.49h-16.1zM806.3 191.48h9.7v2.49h-9.7z"/>
<path fill="#ce100e" d="M521.9 147.71h16.1v2.49h-16.1zM569.3 160.84h16.1v2.49h-16.1zM569.3 158.65h16.1v2.49h-16.1zM695.7 178.35h16.1v2.49h-16.1zM774.7 191.48h16.1v2.49h-16.1zM774.7 141.14h16.1v2.49h-16.1z"/>
<path fill="#d40e0d" d="M537.7 163.03h16.1v2.49h-16.1zM537.7 156.46h16.1v2.49h-16.1zM569.3 138.95h16.1v2.49h-16.1zM632.5 132.39h16.1v2.49h-16.1zM664.1 136.76h16.1v2.49h-16.1zM679.9 173.97h16.1v2.49h-16.1zM695.7 184.92h16.1v2.49h-16.1zM711.5 184.92h16.1v2.49h-16.1zM711.5 136.76h16.1v2.49h-16.1zM743.1 184.92h16.1v2.49h-16.1zM758.9 184.92h16.1v2.49h-16.1zM790.5 191.48h16.1v2.49h-16.1zM790.5 33.89h16.1v2.49h-16.1zM806.3 145.52h9.7v2.49h-9.7z"/>
<path fill="#dd0c0b" d="M537.7 160.84h16.1v2.49h-16.1zM553.5 143.33h16.1v2.49h-16.1zM632.5 136.76h16.1v2.49h-16.1zM758.9 187.11h16.1v2.49h-16.1zM790.5 147.71h16.1v2.49h-16.1z"/>
<path fill="#e40b0a" d="M537.7 154.27h16.1v2.49h-16.1zM585.1 160.84h16.1v2.49h-16.1zM648.3 167.41h16.1v2.49h-16.1zM648.3 138.95h16.1v2.49h-16.1zM711.5 141.14h16.1v2.49h-16.1zM727.3 180.54h16.1v2.49h-16.1zM790.5 184.92h16.1v2.49h-16.1z"/>
<path fill="#e40d0b" d="M537.7 152.09h16.1v2.49h-16.1zM553.5 147.71h16.1v2.49h-16.1zM585.1 158.65h16.1v2.49h-16.1zM585.1 143.33h16.1v2.49h-16.1zM600.9 160.84h16.1v2.49h-16.1zM616.7 136.76h16.1v2.49h-16.1zM632.5 138.95h16.1v2.49h-16.1zM664.1 167.41h16.1v2.49h-16.1zM679.9 169.60h16.1v2.49h-16.1zM695.7 176.16h16.1v2.49h-16.1zM695.7 141.14h16.1v2.49h-16.1zM727.3 176.16h16.1v2.49h-16.1zM743.1 178.35h16.1v2.49h-16.1zM743.1 141.14h16.1v2.49h-16.1zM758.9 182.73h16.1v2.49h-16.1zM758.9 143.33h16.1v2.49h-16.1zM774.7 187.11h16.1v2.49h-16.1zM790.5 31.70h16.1v2.49h-16.1z"/>
<path fill="#d20f0d" d="M537.7 149.90h16.1v2.49h-16.1zM537.7 147.71h16.1v2.49h-16.1zM600.9 134.58h16.1v2.49h-16.1zM616.7 167.41h16.1v2.49h-16.1zM679.9 134.58h16.1v2.49h-16.1zM695.7 180.54h16.1v2.49h-16.1zM695.7 138.95h16.1v2.49h-16.1zM711.5 189.29h16.1v2.49h-16.1zM774.7 33.89h16.1v2.49h-16.1zM806.3 195.86h9.7v2.49h-9.7zM806.3 147.71h9.7v2.49h-9.7zM806.3 29.52h9.7v2.49h-9.7z"/>
<path fill="#d80d0c" d="M537.7 145.52h16.1v2.49h-16.1zM569.3 156.46h16.1v2.49h-16.1zM569.3 143.33h16.1v2.49h-16.1zM679.9 176.16h16.1v2.49h-16.1zM758.9 180.54h16.1v2.49h-16.1zM774.7 143.33h16.1v2.49h-16.1z"/>
<path fill="#d00f0e" d="M537.7 143.33h16.1v2.49h-16.1zM569.3 141.14h16.1v2.49h-16.1zM616.7 169.60h16.1v2.49h-16.1zM616.7 132.39h16.1v2.49h-16.1zM648.3 132.39h16.1v2.49h-16.1zM664.1 176.16h16.1v2.49h-16.1zM664.1 171.78h16.1v2.49h-16.1zM695.7 136.76h16.1v2.49h-16.1zM727.3 136.76h16.1v2.49h-16.1zM743.1 187.11h16.1v2.49h-16.1zM758.9 33.89h16.1v2.49h-16.1zM758.9 31.70h16.1v2.49h-16.1zM774.7 31.70h16.1v2.49h-16.1zM790.5 143.33h16.1v2.49h-16.1zM806.3 198.05h9.7v2.49h-9.7zM806.3 193.67h9.7v2.49h-9.7z"/>
<path fill="#da0c0c" d="M553.5 156.46h16.1v2.49h-16.1zM585.1 163.03h16.1v2.49h-16.1zM585.1 141.14h16.1v2.49h-16.1zM600.9 163.03h16.1v2.49h-16.1zM632.5 169.60h16.1v2.49h-16.1zM648.3 169.60h16.1v2.49h-16.1zM664.1 134.58h16.1v2.49h-16.1zM711.5 180.54h16.1v2.49h-16.1zM711.5 138.95h16.1v2.49h-16.1zM758.9 141.14h16.1v2.49h-16.1zM774.7 189.29h16.1v2.49h-16.1z"/>
<path fill="#e4110b" d="M553.5 154.27h16.1v2.49h-16.1zM585.1 156.46h16.1v2.49h-16.1zM743.1 145.52h16.1v2.49h-16.1zM774.7 182.73h16.1v2.49h-16.1zM790.5 187.11h16.1v2.49h-16.1zM806.3 33.89h9.7v2.49h-9.7z"/>
<path fill="#e30a0a" d="M553.5 152.09h16.1v2.49h-16.1zM553.5 149.90h16.1v2.49h-16.1zM569.3 145.52h16.1v2.49h-16.1zM600.9 136.76h16.1v2.49h-16.1zM664.1 169.60h16.1v2.49h-16.1zM679.9 141.14h16.1v2.49h-16.1zM711.5 178.35h16.1v2.49h-16.1zM711.5 143.33h16.1v2.49h-16.1zM790.5 189.29h16.1v2.49h-16.1zM790.5 145.52h16.1v2.49h-16.1z"/>
<path fill="#df0b0b" d="M553.5 145.52h16.1v2.49h-16.1zM600.9 138.95h16.1v2.49h-16.1zM616.7 165.22h16.1v2.49h-16.1zM632.5 167.41h16.1v2.49h-16.1zM648.3 136.76h16.1v2.49h-16.1zM648.3 134.58h16.1v2.49h-16.1zM727.3 141.14h16.1v2.49h-16.1zM774.7 184.92h16.1v2.49h-16.1z"/>
<path fill="#e40f0b" d="M569.3 154.27h16.1v2.49h-16.1zM569.3 149.90h16.1v2.49h-16.1zM600.9 141.14h16.1v2.49h-16.1zM727.3 178.35h16.1v2.49h-16.1zM727.3 143.33h16.1v2.49h-16.1zM758.9 178.35h16.1v2.49h-16.1zM790.5 149.90h16.1v2.49h-16.1z"/>
<path fill="#e5190d" d="M569.3 152.09h16.1v2.49h-16.1zM585.1 154.27h16.1v2.49h-16.1zM616.7 138.95h16.1v2.49h-16.1zM632.5 141.14h16.1v2.49h-16.1zM679.9 167.41h16.1v2.49h-16.1zM695.7 173.97h16.1v2.49h-16.1z"/>
<path fill="#e5170d" d="M569.3 147.71h16.1v2.49h-16.1zM585.1 147.71h16.1v2.49h-16.1zM616.7 163.03h16.1v2.49h-16.1zM743.1 143.33h16.1v2.49h-16.1zM758.9 145.52h16.1v2.49h-16.1zM774.7 180.54h16.1v2.49h-16.1zM774.7 145.52h16.1v2.49h-16.1zM806.3 152.09h9.7v2.49h-9.7zM806.3 31.70h9.7v2.49h-9.7z"/>
<path fill="#e72d10" d="M585.1 152.09h16.1v2.49h-16.1zM600.9 154.27h16.1v2.49h-16.1zM600.9 145.52h16.1v2.49h-16.1zM632.5 160.84h16.1v2.49h-16.1zM711.5 145.52h16.1v2.49h-16.1zM774.7 149.90h16.1v2.49h-16.1zM806.3 156.46h9.7v2.49h-9.7z"/>
<path fill="#e62710" d="M585.1 149.90h16.1v2.49h-16.1zM600.9 156.46h16.1v2.49h-16.1zM616.7 145.52h16.1v2.49h-16.1zM695.7 169.60h16.1v2.49h-16.1zM806.3 182.73h9.7v2.49h-9.7z"/>
<path fill="#e5150c" d="M585.1 145.52h16.1v2.49h-16.1zM600.9 158.65h16.1v2.49h-16.1zM664.1 138.95h16.1v2.49h-16.1zM695.7 143.33h16.1v2.49h-16.1zM711.5 176.16h16.1v2.49h-16.1zM774.7 147.71h16.1v2.49h-16.1z"/>
<path fill="#c9110f" d="M600.9 165.22h16.1v2.49h-16.1zM600.9 130.20h16.1v2.49h-16.1zM616.7 130.20h16.1v2.49h-16.1zM632.5 171.78h16.1v2.49h-16.1zM695.7 182.73h16.1v2.49h-16.1zM711.5 187.11h16.1v2.49h-16.1zM743.1 136.76h16.1v2.49h-16.1zM743.1 31.70h16.1v2.49h-16.1zM758.9 189.29h16.1v2.49h-16.1zM758.9 138.95h16.1v2.49h-16.1zM790.5 29.52h16.1v2.49h-16.1z"/>
<path fill="#e83811" d="M600.9 152.09h16.1v2.49h-16.1zM632.5 143.33h16.1v2.49h-16.1zM648.3 163.03h16.1v2.49h-16.1zM664.1 145.52h16.1v2.49h-16.1zM727.3 171.78h16.1v2.49h-16.1zM758.9 147.71h16.1v2.49h-16.1z"/>
<path fill="#e93f12" d="M600.9 149.90h16.1v2.49h-16.1zM632.5 158.65h16.1v2.49h-16.1zM679.9 165.22h16.1v2.49h-16.1z"/>
<path fill="#e73111" d="M600.9 147.71h16.1v2.49h-16.1zM616.7 143.33h16.1v2.49h-16.1zM679.9 145.52h16.1v2.49h-16.1zM711.5 171.78h16.1v2.49h-16.1zM711.5 169.60h16.1v2.49h-16.1zM743.1 171.78h16.1v2.49h-16.1zM743.1 147.71h16.1v2.49h-16.1zM790.5 178.35h16.1v2.49h-16.1z"/>
<path fill="#e6230f" d="M600.9 143.33h16.1v2.49h-16.1zM616.7 141.14h16.1v2.49h-16.1zM632.5 163.03h16.1v2.49h-16.1zM727.3 173.97h16.1v2.49h-16.1zM790.5 152.09h16.1v2.49h-16.1zM806.3 154.27h9.7v2.49h-9.7z"/>
<path fill="#e5130c" d="M616.7 160.84h16.1v2.49h-16.1zM743.1 176.16h16.1v2.49h-16.1zM806.3 189.29h9.7v2.49h-9.7z"/>
<path fill="#e51f0e" d="M616.7 158.65h16.1v2.49h-16.1zM648.3 141.14h16.1v2.49h-16.1z"/>
<path fill="#e62a10" d="M616.7 156.46h16.1v2.49h-16.1zM664.1 143.33h16.1v2.49h-16.1zM695.7 145.52h16.1v2.49h-16.1zM727.3 145.52h16.1v2.49h-16.1zM790.5 180.54h16.1v2.49h-16.1z"/>
<path fill="#ea4312" d="M616.7 154.27h16.1v2.49h-16.1zM616.7 149.90h16.1v2.49h-16.1zM695.7 167.41h16.1v2.49h-16.1zM806.3 180.54h9.7v2.49h-9.7z"/>
<path fill="#eb4e13" d="M616.7 152.09h16.1v2.49h-16.1zM648.3 160.84h16.1v2.49h-16.1zM648.3 143.33h16.1v2.49h-16.1zM695.7 147.71h16.1v2.49h-16.1zM774.7 176.16h16.1v2.49h-16.1zM806.3 178.35h9.7v2.49h-9.7z"/>
<path fill="#e93c12" d="M616.7 147.71h16.1v2.49h-16.1zM727.3 147.71h16.1v2.49h-16.1z"/>
<path fill="#e10b0b" d="M632.5 165.22h16.1v2.49h-16.1zM679.9 171.78h16.1v2.49h-16.1zM679.9 138.95h16.1v2.49h-16.1zM743.1 180.54h16.1v2.49h-16.1zM806.3 149.90h9.7v2.49h-9.7z"/>
<path fill="#ec5514" d="M632.5 156.46h16.1v2.49h-16.1zM664.1 163.03h16.1v2.49h-16.1zM711.5 167.41h16.1v2.49h-16.1zM790.5 176.16h16.1v2.49h-16.1zM790.5 154.27h16.1v2.49h-16.1zM806.3 158.65h9.7v2.49h-9.7z"/>
<path fill="#ef6b10" d="M632.5 154.27h16.1v2.49h-16.1zM711.5 165.22h16.1v2.49h-16.1z"/>
<path fill="#ee6511" d="M632.5 152.09h16.1v2.49h-16.1zM648.3 149.90h16.1v2.49h-16.1zM648.3 147.71h16.1v2.49h-16.1zM695.7 165.22h16.1v2.49h-16.1zM758.9 152.09h16.1v2.49h-16.1zM790.5 173.97h16.1v2.49h-16.1z"/>
<path fill="#ee6212" d="M632.5 149.90h16.1v2.49h-16.1zM664.1 160.84h16.1v2.49h-16.1zM664.1 158.65h16.1v2.49h-16.1zM679.9 163.03h16.1v2.49h-16.1z"/>
<path fill="#ed5b13" d="M632.5 147.71h16.1v2.49h-16.1zM648.3 158.65h16.1v2.49h-16.1zM679.9 147.71h16.1v2.49h-16.1z"/>
<path fill="#ea4713" d="M632.5 145.52h16.1v2.49h-16.1zM648.3 145.52h16.1v2.49h-16.1z"/>
<path fill="#e51d0e" d="M648.3 165.22h16.1v2.49h-16.1zM695.7 171.78h16.1v2.49h-16.1zM711.5 173.97h16.1v2.49h-16.1zM790.5 182.73h16.1v2.49h-16.1z"/>
<path fill="#f0740f" d="M648.3 156.46h16.1v2.49h-16.1zM727.3 165.22h16.1v2.49h-16.1zM743.1 167.41h16.1v2.49h-16.1zM758.9 169.60h16.1v2.49h-16.1zM806.3 171.78h9.7v2.49h-9.7z"/>
<path fill="#f2860b" d="M648.3 154.27h16.1v2.49h-16.1zM664.1 152.09h16.1v2.49h-16.1zM695.7 163.03h16.1v2.49h-16.1zM790.5 171.78h16.1v2.49h-16.1z"/>
<path fill="#f17b0e" d="M648.3 152.09h16.1v2.49h-16.1zM679.9 158.65h16.1v2.49h-16.1zM790.5 158.65h16.1v2.49h-16.1z"/>
<path fill="#e83511" d="M664.1 165.22h16.1v2.49h-16.1zM758.9 173.97h16.1v2.49h-16.1zM758.9 171.78h16.1v2.49h-16.1z"/>
<path fill="#ef6e10" d="M664.1 156.46h16.1v2.49h-16.1zM664.1 147.71h16.1v2.49h-16.1zM695.7 149.90h16.1v2.49h-16.1zM790.5 156.46h16.1v2.49h-16.1z"/>
<path fill="#f3890b" d="M664.1 154.27h16.1v2.49h-16.1zM806.3 169.60h9.7v2.49h-9.7z"/>
<path fill="#f0710f" d="M664.1 149.90h16.1v2.49h-16.1zM679.9 149.90h16.1v2.49h-16.1zM774.7 171.78h16.1v2.49h-16.1z"/>
<path fill="#e51b0d" d="M664.1 141.14h16.1v2.49h-16.1zM679.9 143.33h16.1v2.49h-16.1zM806.3 187.11h9.7v2.49h-9.7z"/>
<path fill="#ee6811" d="M679.9 160.84h16.1v2.49h-16.1zM774.7 173.97h16.1v2.49h-16.1zM774.7 154.27h16.1v2.49h-16.1z"/>
<path fill="#f0770e" d="M679.9 156.46h16.1v2.49h-16.1z"/>
<path fill="#f2840c" d="M679.9 154.27h16.1v2.49h-16.1zM679.9 152.09h16.1v2.49h-16.1zM743.1 152.09h16.1v2.49h-16.1z"/>
<path fill="#f49208" d="M695.7 160.84h16.1v2.49h-16.1zM758.9 156.46h16.1v2.49h-16.1zM774.7 167.41h16.1v2.49h-16.1zM806.3 167.41h9.7v2.49h-9.7z"/>
<path fill="#f39009" d="M695.7 158.65h16.1v2.49h-16.1zM695.7 152.09h16.1v2.49h-16.1zM711.5 152.09h16.1v2.49h-16.1zM774.7 158.65h16.1v2.49h-16.1z"/>
<path fill="#f38b0a" d="M695.7 156.46h16.1v2.49h-16.1zM695.7 154.27h16.1v2.49h-16.1zM711.5 158.65h16.1v2.49h-16.1zM727.3 152.09h16.1v2.49h-16.1zM774.7 156.46h16.1v2.49h-16.1zM806.3 160.84h9.7v2.49h-9.7z"/>
<path fill="#f2810d" d="M711.5 163.03h16.1v2.49h-16.1zM774.7 169.60h16.1v2.49h-16.1z"/>
<path fill="#f59a06" d="M711.5 160.84h16.1v2.49h-16.1zM790.5 169.60h16.1v2.49h-16.1zM806.3 165.22h9.7v2.49h-9.7z"/>
<path fill="#f59e04" d="M711.5 156.46h16.1v2.49h-16.1zM743.1 154.27h16.1v2.49h-16.1z"/>
<path fill="#f49707" d="M711.5 154.27h16.1v2.49h-16.1zM774.7 160.84h16.1v2.49h-16.1z"/>
<path fill="#ec5813" d="M711.5 149.90h16.1v2.49h-16.1z"/>
<path fill="#ec5114" d="M711.5 147.71h16.1v2.49h-16.1z"/>
<path fill="#eb4a13" d="M727.3 169.60h16.1v2.49h-16.1zM758.9 149.90h16.1v2.49h-16.1zM774.7 152.09h16.1v2.49h-16.1z"/>
<path fill="#ed5e12" d="M727.3 167.41h16.1v2.49h-16.1zM727.3 149.90h16.1v2.49h-16.1zM743.1 169.60h16.1v2.49h-16.1zM743.1 149.90h16.1v2.49h-16.1zM806.3 176.16h9.7v2.49h-9.7zM806.3 173.97h9.7v2.49h-9.7z"/>
<path fill="#f59c05" d="M727.3 163.03h16.1v2.49h-16.1zM727.3 154.27h16.1v2.49h-16.1zM758.9 165.22h16.1v2.49h-16.1zM758.9 158.65h16.1v2.49h-16.1zM790.5 167.41h16.1v2.49h-16.1zM790.5 160.84h16.1v2.49h-16.1zM806.3 163.03h9.7v2.49h-9.7z"/>
<path fill="#f7b000" d="M727.3 160.84h16.1v2.49h-16.1z"/>
<path fill="#f6a303" d="M727.3 158.65h16.1v2.49h-16.1zM743.1 156.46h16.1v2.49h-16.1zM758.9 163.03h16.1v2.49h-16.1z"/>
<path fill="#f6a802" d="M727.3 156.46h16.1v2.49h-16.1zM774.7 163.03h16.1v2.49h-16.1z"/>
<path fill="#e6210f" d="M743.1 173.97h16.1v2.49h-16.1zM774.7 178.35h16.1v2.49h-16.1z"/>
<path fill="#f38e09" d="M743.1 165.22h16.1v2.49h-16.1z"/>
<path fill="#f5a104" d="M743.1 163.03h16.1v2.49h-16.1z"/>
<path fill="#f8b500" d="M743.1 160.84h16.1v2.49h-16.1zM790.5 165.22h16.1v2.49h-16.1z"/>
<path fill="#f8b200" d="M743.1 158.65h16.1v2.49h-16.1z"/>
<path fill="#e6250f" d="M758.9 176.16h16.1v2.49h-16.1zM806.3 184.92h9.7v2.49h-9.7z"/>
<path fill="#f49507" d="M758.9 167.41h16.1v2.49h-16.1z"/>
<path fill="#f6a602" d="M758.9 160.84h16.1v2.49h-16.1z"/>
<path fill="#f17e0d" d="M758.9 154.27h16.1v2.49h-16.1z"/>
<path fill="#f7aa01" d="M774.7 165.22h16.1v2.49h-16.1z"/>
<path fill="#f7ad00" d="M790.5 163.03h16.1v2.49h-16.1z"/>
</g>
<rect x="119.00" y="272.60" width="7.90" height="3.8" fill="#e40f0b"/>
<rect x="126.90" y="266.30" width="15.80" height="3.8" fill="#f0740f"/>
<rect x="142.70" y="272.50" width="15.80" height="3.8" fill="#fff266"/>
<rect x="174.30" y="261.40" width="15.80" height="3.8" fill="#e40a0a"/>
<rect x="190.10" y="255.50" width="15.80" height="3.8" fill="#df0b0b"/>
<rect x="205.90" y="249.90" width="15.80" height="3.8" fill="#fff040"/>
<rect x="221.70" y="245.50" width="15.80" height="3.8" fill="#f6a802"/>
<rect x="332.30" y="190.90" width="15.80" height="3.8" fill="#fff373"/>
<rect x="348.10" y="142.40" width="15.80" height="3.8" fill="#d90d0c"/>
<rect x="363.90" y="139.50" width="15.80" height="3.8" fill="#f9b900"/>
<rect x="348.10" y="188.70" width="15.80" height="3.8" fill="#eb4c13"/>
<rect x="363.90" y="185.00" width="15.80" height="3.8" fill="#ffe900"/>
<rect x="379.70" y="179.30" width="15.80" height="3.8" fill="#fffde2"/>
<rect x="395.50" y="175.30" width="15.80" height="3.8" fill="#ed5d13"/>
<rect x="411.30" y="33.10" width="15.80" height="3.8" fill="#df0b0b"/>
<rect x="237.60" y="13.10" width="2.4" height="350.20" fill="#fff"/>
<rect x="328.50" y="13.10" width="2.4" height="350.20" fill="#fff"/>
<rect x="348.40" y="13.10" width="2.4" height="350.20" fill="#fff"/>
<rect x="378.80" y="13.10" width="2.4" height="350.20" fill="#fff"/>
<rect x="411.10" y="13.10" width="2.4" height="350.20" fill="#fff"/>
<text transform="translate(183.60,357.20) rotate(-90)" font-size="25.5" text-anchor="start" fill="#fff">comb</text>
<text transform="translate(346.10,357.20) rotate(-90)" font-size="25.5" text-anchor="start" fill="#fff">comb</text>
<text transform="translate(406.60,357.20) rotate(-90)" font-size="25.5" text-anchor="start" fill="#fff">comb</text>
<text transform="translate(106.50,26.90)" font-size="25" text-anchor="end" fill="#000">20</text>
<text transform="translate(106.50,113.80)" font-size="25" text-anchor="end" fill="#000">19.75</text>
<text transform="translate(106.50,201.90)" font-size="25" text-anchor="end" fill="#000">19.5</text>
<text transform="translate(106.50,288.60)" font-size="25" text-anchor="end" fill="#000">19.25</text>
<text transform="translate(106.50,376.70)" font-size="25" text-anchor="end" fill="#000">19</text>
<text transform="translate(119.90,391.60)" font-size="25" text-anchor="middle" fill="#000">470</text>
<text transform="translate(246.60,391.60)" font-size="25" text-anchor="middle" fill="#000">510</text>
<text transform="translate(373.30,391.60)" font-size="25" text-anchor="middle" fill="#000">550</text>
<text transform="translate(500.00,391.60)" font-size="25" text-anchor="middle" fill="#000">590</text>
<text transform="translate(626.70,391.60)" font-size="25" text-anchor="middle" fill="#000">630</text>
<text transform="translate(753.40,391.60)" font-size="25" text-anchor="middle" fill="#000">670</text>
<text transform="translate(487.70,428.20)" font-size="25" text-anchor="middle" fill="#000">Current (mA)</text>
<text transform="translate(21.30,191.50) rotate(-90)" font-size="24.8" text-anchor="middle" fill="#000">Frequency (GHz)</text>
<text transform="translate(0.80,36.20) scale(1.0,1.08)" font-size="42" text-anchor="start" fill="#000" font-weight="bold">A</text>
<g shape-rendering="crispEdges">
<rect x="839.2" y="14.30" width="17.3" height="3.40" fill="#fffff0"/>
<rect x="839.2" y="17.20" width="17.3" height="3.40" fill="#fffee9"/>
<rect x="839.2" y="20.11" width="17.3" height="3.40" fill="#fffde1"/>
<rect x="839.2" y="23.01" width="17.3" height="3.40" fill="#fffdda"/>
<rect x="839.2" y="25.91" width="17.3" height="3.40" fill="#fffcd3"/>
<rect x="839.2" y="28.81" width="17.3" height="3.40" fill="#fffbcb"/>
<rect x="839.2" y="31.72" width="17.3" height="3.40" fill="#fffac4"/>
<rect x="839.2" y="34.62" width="17.3" height="3.40" fill="#fffabc"/>
<rect x="839.2" y="37.52" width="17.3" height="3.40" fill="#fff9b5"/>
<rect x="839.2" y="40.42" width="17.3" height="3.40" fill="#fff8ad"/>
<rect x="839.2" y="43.33" width="17.3" height="3.40" fill="#fff8a6"/>
<rect x="839.2" y="46.23" width="17.3" height="3.40" fill="#fff79e"/>
<rect x="839.2" y="49.13" width="17.3" height="3.40" fill="#fff697"/>
<rect x="839.2" y="52.03" width="17.3" height="3.40" fill="#fff590"/>
<rect x="839.2" y="54.94" width="17.3" height="3.40" fill="#fff588"/>
<rect x="839.2" y="57.84" width="17.3" height="3.40" fill="#fff481"/>
<rect x="839.2" y="60.74" width="17.3" height="3.40" fill="#fff376"/>
<rect x="839.2" y="63.64" width="17.3" height="3.40" fill="#fff36c"/>
<rect x="839.2" y="66.55" width="17.3" height="3.40" fill="#fff261"/>
<rect x="839.2" y="69.45" width="17.3" height="3.40" fill="#fff156"/>
<rect x="839.2" y="72.35" width="17.3" height="3.40" fill="#fff14c"/>
<rect x="839.2" y="75.25" width="17.3" height="3.40" fill="#fff041"/>
<rect x="839.2" y="78.16" width="17.3" height="3.40" fill="#ffef36"/>
<rect x="839.2" y="81.06" width="17.3" height="3.40" fill="#ffef2c"/>
<rect x="839.2" y="83.96" width="17.3" height="3.40" fill="#ffee21"/>
<rect x="839.2" y="86.86" width="17.3" height="3.40" fill="#ffed16"/>
<rect x="839.2" y="89.77" width="17.3" height="3.40" fill="#ffed0c"/>
<rect x="839.2" y="92.67" width="17.3" height="3.40" fill="#ffec01"/>
<rect x="839.2" y="95.57" width="17.3" height="3.40" fill="#ffea00"/>
<rect x="839.2" y="98.47" width="17.3" height="3.40" fill="#ffe700"/>
<rect x="839.2" y="101.38" width="17.3" height="3.40" fill="#ffe500"/>
<rect x="839.2" y="104.28" width="17.3" height="3.40" fill="#ffe300"/>
<rect x="839.2" y="107.18" width="17.3" height="3.40" fill="#ffe000"/>
<rect x="839.2" y="110.08" width="17.3" height="3.40" fill="#ffde00"/>
<rect x="839.2" y="112.98" width="17.3" height="3.40" fill="#ffdc00"/>
<rect x="839.2" y="115.89" width="17.3" height="3.40" fill="#ffd900"/>
<rect x="839.2" y="118.79" width="17.3" height="3.40" fill="#ffd600"/>
<rect x="839.2" y="121.69" width="17.3" height="3.40" fill="#fed300"/>
<rect x="839.2" y="124.59" width="17.3" height="3.40" fill="#fdd000"/>
<rect x="839.2" y="127.50" width="17.3" height="3.40" fill="#fdcd00"/>
<rect x="839.2" y="130.40" width="17.3" height="3.40" fill="#fcca00"/>
<rect x="839.2" y="133.30" width="17.3" height="3.40" fill="#fcc600"/>
<rect x="839.2" y="136.21" width="17.3" height="3.40" fill="#fbc300"/>
<rect x="839.2" y="139.11" width="17.3" height="3.40" fill="#fac000"/>
<rect x="839.2" y="142.01" width="17.3" height="3.40" fill="#fabd00"/>
<rect x="839.2" y="144.91" width="17.3" height="3.40" fill="#f9ba00"/>
<rect x="839.2" y="147.82" width="17.3" height="3.40" fill="#f9b700"/>
<rect x="839.2" y="150.72" width="17.3" height="3.40" fill="#f8b300"/>
<rect x="839.2" y="153.62" width="17.3" height="3.40" fill="#f7b000"/>
<rect x="839.2" y="156.52" width="17.3" height="3.40" fill="#f7ad00"/>
<rect x="839.2" y="159.43" width="17.3" height="3.40" fill="#f6a702"/>
<rect x="839.2" y="162.33" width="17.3" height="3.40" fill="#f6a203"/>
<rect x="839.2" y="165.23" width="17.3" height="3.40" fill="#f59e05"/>
<rect x="839.2" y="168.13" width="17.3" height="3.40" fill="#f49906"/>
<rect x="839.2" y="171.04" width="17.3" height="3.40" fill="#f49408"/>
<rect x="839.2" y="173.94" width="17.3" height="3.40" fill="#f38e09"/>
<rect x="839.2" y="176.84" width="17.3" height="3.40" fill="#f38a0a"/>
<rect x="839.2" y="179.74" width="17.3" height="3.40" fill="#f2840c"/>
<rect x="839.2" y="182.65" width="17.3" height="3.40" fill="#f17e0d"/>
<rect x="839.2" y="185.55" width="17.3" height="3.40" fill="#f0780e"/>
<rect x="839.2" y="188.45" width="17.3" height="3.40" fill="#f0710f"/>
<rect x="839.2" y="191.35" width="17.3" height="3.40" fill="#ef6b10"/>
<rect x="839.2" y="194.26" width="17.3" height="3.40" fill="#ee6411"/>
<rect x="839.2" y="197.16" width="17.3" height="3.40" fill="#ed5d13"/>
<rect x="839.2" y="200.06" width="17.3" height="3.40" fill="#ec5714"/>
<rect x="839.2" y="202.96" width="17.3" height="3.40" fill="#eb5014"/>
<rect x="839.2" y="205.87" width="17.3" height="3.40" fill="#ea4813"/>
<rect x="839.2" y="208.77" width="17.3" height="3.40" fill="#e94112"/>
<rect x="839.2" y="211.67" width="17.3" height="3.40" fill="#e83912"/>
<rect x="839.2" y="214.57" width="17.3" height="3.40" fill="#e73211"/>
<rect x="839.2" y="217.48" width="17.3" height="3.40" fill="#e62a10"/>
<rect x="839.2" y="220.38" width="17.3" height="3.40" fill="#e6250f"/>
<rect x="839.2" y="223.28" width="17.3" height="3.40" fill="#e6210f"/>
<rect x="839.2" y="226.18" width="17.3" height="3.40" fill="#e51d0e"/>
<rect x="839.2" y="229.09" width="17.3" height="3.40" fill="#e5190d"/>
<rect x="839.2" y="231.99" width="17.3" height="3.40" fill="#e5140c"/>
<rect x="839.2" y="234.89" width="17.3" height="3.40" fill="#e4100b"/>
<rect x="839.2" y="237.79" width="17.3" height="3.40" fill="#e40c0a"/>
<rect x="839.2" y="240.70" width="17.3" height="3.40" fill="#e20b0a"/>
<rect x="839.2" y="243.60" width="17.3" height="3.40" fill="#dd0c0b"/>
<rect x="839.2" y="246.50" width="17.3" height="3.40" fill="#d90d0c"/>
<rect x="839.2" y="249.40" width="17.3" height="3.40" fill="#d40e0d"/>
<rect x="839.2" y="252.31" width="17.3" height="3.40" fill="#d00f0e"/>
<rect x="839.2" y="255.21" width="17.3" height="3.40" fill="#cc100f"/>
<rect x="839.2" y="258.11" width="17.3" height="3.40" fill="#c7110f"/>
<rect x="839.2" y="261.01" width="17.3" height="3.40" fill="#c21210"/>
<rect x="839.2" y="263.91" width="17.3" height="3.40" fill="#bb120f"/>
<rect x="839.2" y="266.82" width="17.3" height="3.40" fill="#b5130f"/>
<rect x="839.2" y="269.72" width="17.3" height="3.40" fill="#ae130e"/>
<rect x="839.2" y="272.62" width="17.3" height="3.40" fill="#a7130e"/>
<rect x="839.2" y="275.53" width="17.3" height="3.40" fill="#a1140d"/>
<rect x="839.2" y="278.43" width="17.3" height="3.40" fill="#9a140d"/>
<rect x="839.2" y="281.33" width="17.3" height="3.40" fill="#95140d"/>
<rect x="839.2" y="284.23" width="17.3" height="3.40" fill="#8f130c"/>
<rect x="839.2" y="287.13" width="17.3" height="3.40" fill="#89130c"/>
<rect x="839.2" y="290.04" width="17.3" height="3.40" fill="#84130c"/>
<rect x="839.2" y="292.94" width="17.3" height="3.40" fill="#7e120b"/>
<rect x="839.2" y="295.84" width="17.3" height="3.40" fill="#78120b"/>
<rect x="839.2" y="298.75" width="17.3" height="3.40" fill="#73120b"/>
<rect x="839.2" y="301.65" width="17.3" height="3.40" fill="#6e120b"/>
<rect x="839.2" y="304.55" width="17.3" height="3.40" fill="#68130c"/>
<rect x="839.2" y="307.45" width="17.3" height="3.40" fill="#63130c"/>
<rect x="839.2" y="310.36" width="17.3" height="3.40" fill="#5e130c"/>
<rect x="839.2" y="313.26" width="17.3" height="3.40" fill="#59130c"/>
<rect x="839.2" y="316.16" width="17.3" height="3.40" fill="#54130d"/>
<rect x="839.2" y="319.06" width="17.3" height="3.40" fill="#4f130d"/>
<rect x="839.2" y="321.97" width="17.3" height="3.40" fill="#4a130e"/>
<rect x="839.2" y="324.87" width="17.3" height="3.40" fill="#46140e"/>
<rect x="839.2" y="327.77" width="17.3" height="3.40" fill="#41140f"/>
<rect x="839.2" y="330.67" width="17.3" height="3.40" fill="#3c140f"/>
<rect x="839.2" y="333.57" width="17.3" height="3.40" fill="#381410"/>
<rect x="839.2" y="336.48" width="17.3" height="3.40" fill="#351410"/>
<rect x="839.2" y="339.38" width="17.3" height="3.40" fill="#321410"/>
<rect x="839.2" y="342.28" width="17.3" height="3.40" fill="#2f1410"/>
<rect x="839.2" y="345.19" width="17.3" height="3.40" fill="#2c1410"/>
<rect x="839.2" y="348.09" width="17.3" height="3.40" fill="#291410"/>
<rect x="839.2" y="350.99" width="17.3" height="3.40" fill="#261410"/>
<rect x="839.2" y="353.89" width="17.3" height="3.40" fill="#231410"/>
<rect x="839.2" y="356.80" width="17.3" height="3.40" fill="#201410"/>
<rect x="839.2" y="359.70" width="17.3" height="3.40" fill="#1d1410"/>
</g>
<rect x="839.7" y="14.80" width="16.3" height="347.30" fill="none" stroke="#aaa" stroke-width="1"/>
<line x1="852" y1="27.5" x2="856" y2="27.5" stroke="#333" stroke-width="0.8"/>
<text transform="translate(868.50,35.80) scale(1.07,1.0)" font-size="25" text-anchor="start" fill="#000">−113</text>
<line x1="852" y1="138.2" x2="856" y2="138.2" stroke="#333" stroke-width="0.8"/>
<text transform="translate(868.50,146.50) scale(1.07,1.0)" font-size="25" text-anchor="start" fill="#000">−118</text>
<line x1="852" y1="249.9" x2="856" y2="249.9" stroke="#333" stroke-width="0.8"/>
<text transform="translate(868.50,258.20) scale(1.07,1.0)" font-size="25" text-anchor="start" fill="#000">−123</text>
<line x1="852" y1="361.1" x2="856" y2="361.1" stroke="#333" stroke-width="0.8"/>
<text transform="translate(868.50,369.40) scale(1.07,1.0)" font-size="25" text-anchor="start" fill="#000">−128</text>
<text transform="translate(959.20,193.50) rotate(-90)" font-size="25.3" text-anchor="middle" fill="#000">RF power (dBm)</text>
<clipPath id="cpB"><rect x="127.2" y="473.0" width="698.9" height="512.4"/></clipPath>
<polyline clip-path="url(#cpB)" points="127.8,841.4 128.6,814.1 129.4,813.6 129.9,843.0 131.0,981.8 131.8,920.5 132.6,855.4 133.4,846.5 134.2,879.9 135.0,987.4 135.8,841.2 136.6,834.8 137.4,843.2 138.2,861.7 139.0,854.2 139.6,822.9 140.6,831.0 141.4,864.4 142.2,867.5 143.0,858.8 143.8,987.4 144.6,987.4 145.4,987.4 146.2,987.4 147.0,874.7 147.8,987.4 148.6,987.4 149.2,987.4 150.2,987.4 151.0,888.3 151.8,838.1 152.6,884.4 153.4,987.4 154.2,851.9 155.0,839.2 155.8,855.7 156.6,835.1 157.4,826.8 158.2,857.9 158.8,886.1 159.8,858.5 160.6,835.2 161.4,842.9 162.2,987.4 163.0,987.4 163.8,888.0 164.6,987.4 165.4,915.5 166.2,854.5 167.0,856.1 167.8,816.3 168.5,807.5 169.4,824.9 170.2,829.9 171.0,845.8 171.8,987.4 172.6,855.1 173.4,864.6 174.2,987.4 175.0,963.9 175.8,852.0 176.6,839.3 177.4,837.4 178.1,820.6 179.0,850.7 179.8,916.3 180.6,861.3 181.4,851.2 182.2,858.4 183.0,859.2 183.8,829.8 184.6,832.1 185.4,849.8 186.2,828.2 187.0,806.7 187.7,811.9 188.6,886.1 189.4,850.1 190.2,837.1 191.0,902.5 191.8,937.7 192.6,856.6 193.4,920.1 194.2,842.9 195.0,835.0 195.8,987.4 196.6,987.4 197.4,886.8 198.2,840.6 199.0,807.3 199.8,816.1 200.6,987.4 201.4,987.4 202.2,829.0 203.0,813.3 203.8,837.0 204.6,908.5 205.4,865.5 206.2,851.1 207.0,858.2 207.8,911.5 208.6,856.9 209.4,848.3 210.2,872.3 211.0,987.4 211.8,987.4 212.6,931.2 213.4,832.3 214.2,872.8 215.0,899.0 215.8,804.1 216.6,777.9 217.4,793.7 218.2,832.1 219.0,987.4 219.8,987.4 220.6,816.7 221.4,804.1 222.2,858.4 223.0,915.3 223.8,840.6 224.6,827.9 225.4,784.9 226.3,751.0 227.0,778.7 227.8,815.4 228.6,834.4 229.4,840.3 230.2,860.8 231.0,987.4 231.8,987.4 232.6,987.4 233.4,845.2 234.2,819.8 235.0,782.3 235.9,750.4 236.6,772.9 237.4,806.8 238.2,825.4 239.0,869.4 239.8,987.4 240.6,987.4 241.4,915.0 242.2,906.6 243.0,987.4 243.8,834.3 244.6,797.0 245.6,769.3 246.2,811.8 247.0,887.9 247.8,838.3 248.6,821.7 249.4,835.6 250.2,987.4 251.0,870.4 251.8,810.5 252.6,803.9 253.4,795.7 254.2,795.8 255.2,804.5 255.8,822.2 256.6,827.2 257.4,827.5 258.2,830.4 259.0,840.0 259.8,900.2 260.6,987.4 261.4,987.4 262.2,939.2 263.0,854.2 263.8,815.0 264.8,775.2 265.4,788.2 266.2,821.4 267.0,839.0 267.8,860.0 268.6,918.4 269.4,967.9 270.2,893.6 271.0,848.5 271.8,835.8 272.6,845.7 273.4,848.1 274.5,797.3 275.0,826.6 275.8,987.4 276.6,958.7 277.4,929.9 278.2,874.2 279.0,935.5 279.8,987.4 280.6,987.4 281.4,819.7 282.2,834.1 283.0,847.3 284.1,790.5 284.6,805.7 285.4,826.2 286.2,911.8 287.0,855.1 287.8,850.5 288.6,919.7 289.4,848.2 290.2,812.0 291.0,815.1 291.8,811.3 292.6,792.9 293.7,765.3 294.2,781.0 295.0,821.8 295.8,845.3 296.6,881.0 297.4,847.2 298.2,987.4 299.0,987.4 299.8,825.7 300.6,795.4 301.4,801.9 302.2,807.1 303.4,771.1 303.8,787.1 304.6,839.1 305.4,987.4 306.2,987.4 307.0,987.4 307.8,987.4 308.6,987.4 309.4,866.2 310.2,867.0 311.0,905.7 311.8,784.5 313.0,746.5 313.4,759.2 314.2,798.9 315.0,931.4 315.8,987.4 316.6,914.2 317.4,835.1 318.2,853.3 319.0,830.6 319.8,829.1 320.6,987.4 321.4,939.0 322.2,790.3 322.6,776.6 323.8,824.4 324.6,802.5 325.3,906.8 326.2,821.9 327.0,814.2 327.8,800.6 328.6,796.8 329.4,795.7 330.2,790.1 331.0,755.4 331.8,717.4 332.3,710.4 333.4,775.4 334.2,800.0 335.0,789.1 335.5,987.4 336.6,815.3 337.4,799.8 338.2,835.9 339.0,814.4 339.8,811.1 340.6,792.3 341.4,741.1 341.9,733.9 343.0,803.1 343.8,813.2 344.9,987.4 345.4,837.4 346.2,987.4 347.0,790.2 347.8,770.8 348.6,765.5 349.4,748.8 350.2,719.3 351.0,679.3 351.5,665.8 352.6,721.3 353.4,768.2 354.2,792.8 355.0,987.4 355.5,987.4 356.6,758.4 357.4,763.2 358.2,776.1 359.0,764.6 359.8,744.7 360.6,707.9 361.2,694.3 362.2,750.9 363.0,816.5 363.8,771.3 364.6,881.6 365.4,843.5 366.2,847.0 367.0,779.0 367.8,768.7 368.6,753.6 369.4,706.2 370.2,669.1 370.8,658.4 371.8,712.0 372.6,759.4 373.4,808.8 374.5,987.4 375.0,897.4 375.8,748.5 376.6,721.9 377.4,701.6 378.2,681.6 379.0,646.8 379.8,604.2 380.4,586.4 381.4,640.1 382.2,717.0 383.0,770.3 383.8,749.9 384.4,961.0 385.4,774.0 386.2,729.4 387.0,704.5 387.8,720.2 388.6,791.5 389.4,711.2 390.1,683.5 391.0,713.9 391.8,721.7 392.6,707.9 393.1,987.4 394.2,713.7 395.0,720.6 395.8,717.6 396.6,697.3 397.4,675.9 398.2,652.6 399.0,613.8 399.7,591.7 400.6,636.4 401.4,705.0 402.2,810.1 403.0,871.1 403.6,987.4 404.6,987.4 405.4,725.7 406.2,707.7 407.0,710.2 407.8,695.0 408.6,678.3 409.3,670.6 410.2,746.7 411.0,756.8 411.8,703.2 412.6,987.4 413.4,681.1 414.2,693.5 415.0,796.9 415.8,807.2 416.6,711.3 417.4,681.6 418.2,653.5 419.0,633.4 419.8,672.1 420.6,739.3 421.4,730.1 422.2,893.9 423.0,708.2 423.8,702.7 424.6,705.5 425.4,699.7 426.2,687.5 427.0,666.9 427.8,638.5 428.6,615.6 429.4,649.1 430.2,678.7 431.0,691.7 431.8,690.9 432.6,987.4 433.4,711.9 434.2,698.2 435.0,667.5 435.8,641.1 436.6,612.5 437.4,572.6 438.2,542.2 439.0,577.0 439.8,644.6 440.6,987.4 441.4,836.3 442.2,714.4 443.0,700.3 443.8,691.7 444.6,668.1 445.4,646.5 446.2,625.8 447.0,589.5 447.9,558.7 448.6,591.3 449.4,655.1 450.2,714.1 450.7,958.2 451.8,713.0 452.6,688.0 453.4,669.4 454.2,656.7 455.0,632.9 455.8,600.6 456.6,561.6 457.5,528.3 458.2,558.3 459.0,628.3 459.8,730.5 460.6,987.4 461.4,692.1 462.2,701.5 463.0,725.6 463.8,696.4 464.6,669.6 465.4,636.4 466.2,597.0 467.2,560.6 467.8,587.4 468.6,655.6 469.4,788.2 470.2,987.4 471.0,676.3 471.8,695.2 472.6,683.3 473.4,692.3 474.2,692.7 475.0,669.3 475.8,631.0 476.8,591.9 477.4,615.0 478.2,678.6 479.0,766.1 479.8,987.4 480.9,938.2 481.4,698.9 482.2,741.5 483.0,703.9 483.8,664.3 484.6,637.1 485.4,606.0 486.4,570.3 487.0,593.2 487.8,653.8 488.6,709.4 489.4,711.0 490.2,678.0 491.0,670.4 491.8,685.4 492.6,697.6 493.4,709.4 494.2,785.3 495.0,721.4 496.1,669.8 496.6,659.7 497.4,671.9 498.2,693.7 499.0,751.9 499.8,796.5 500.6,686.0 501.4,663.5 502.2,659.4 503.0,636.2 503.8,609.6 504.6,572.5 505.7,528.2 506.2,546.0 507.0,610.1 507.8,685.2 508.6,737.0 509.3,987.4 510.2,707.8 511.0,688.2 511.8,697.5 512.6,679.0 513.4,673.9 514.2,645.9 515.3,596.1 515.8,611.1 516.6,668.6 517.4,711.6 518.2,698.4 519.0,699.6 519.5,930.5 520.6,682.4 521.4,656.8 522.2,629.1 523.0,603.1 523.8,566.9 525.0,519.0 525.4,532.7 526.2,594.6 527.0,675.2 527.7,858.7 528.6,751.9 529.4,698.3 530.2,655.4 531.0,623.2 531.8,595.9 532.6,565.5 533.4,527.0 534.2,484.7 534.6,477.2 535.8,551.9 536.6,647.2 537.4,869.3 538.2,987.4 539.0,708.4 539.8,694.6 540.6,696.2 541.4,679.9 542.2,679.9 543.0,664.0 543.8,624.8 544.2,612.7 545.4,655.3 546.2,671.8 547.0,689.8 548.2,987.4 549.4,674.3 550.2,643.5 551.0,613.2 551.8,584.1 552.6,547.3 553.4,504.3 553.9,493.9 555.0,562.9 555.8,656.4 556.6,987.4 557.4,921.5 558.2,698.4 559.0,689.9 559.8,702.1 560.6,679.2 561.4,650.4 562.2,617.0 563.0,573.1 563.5,560.5 564.6,620.4 565.4,677.2 566.2,719.7 567.2,987.4 567.8,702.8 568.6,706.9 569.4,693.9 570.2,679.9 571.0,672.9 571.8,644.7 572.6,601.8 573.1,588.0 574.2,644.6 575.0,697.9 575.8,733.0 576.5,919.8 577.4,781.9 578.2,721.0 579.0,714.4 579.8,692.4 580.6,657.4 581.4,618.4 582.2,574.2 582.8,558.8 583.8,616.1 584.6,680.5 585.4,727.2 586.5,847.8 587.0,731.4 587.8,765.9 588.6,751.6 589.4,723.3 590.2,697.1 591.0,668.1 591.8,626.0 592.4,610.2 593.4,667.2 594.2,719.6 595.0,729.5 595.9,987.4 596.6,764.1 597.4,828.9 598.2,821.8 599.0,803.1 599.8,767.4 600.6,764.4 601.4,703.8 602.0,674.5 603.0,710.9 603.8,757.1 604.6,775.4 605.4,786.4 606.2,799.0 607.0,777.6 607.8,781.1 608.6,817.3 609.4,802.9 610.2,799.6 611.0,783.5 611.7,750.4 612.6,767.8 613.4,799.2 614.2,791.2 615.0,802.4 615.8,808.1 616.6,790.4 617.4,798.4 618.2,796.7 619.0,780.1 619.8,773.4 620.6,766.1 621.3,761.6 622.2,824.6 623.0,828.9 623.8,863.3 624.6,987.4 625.4,987.4 626.2,987.4 627.0,907.0 627.8,820.7 628.6,855.6 629.4,858.5 630.2,798.4 631.0,779.4 631.8,844.7 632.6,987.4 633.4,848.9 634.2,824.5 635.0,828.5 635.8,857.0 636.6,854.3 637.4,845.4 638.2,826.7 639.0,823.9 639.8,796.7 640.6,766.3 641.4,784.7 642.2,794.3 643.0,826.1 643.8,824.3 644.6,825.9 645.4,987.4 646.2,987.4 647.0,987.4 647.8,823.4 648.6,785.4 649.4,774.4 650.2,760.0 651.0,810.4 651.8,851.2 652.6,987.4 653.4,852.1 654.2,851.4 655.0,987.4 655.8,862.9 656.6,901.9 657.4,815.5 658.2,803.5 659.0,831.3 659.9,807.5 660.6,823.2 661.4,869.3 662.2,867.9 663.0,903.1 663.8,842.0 664.6,843.7 665.4,987.4 666.2,987.4 667.0,987.4 667.8,987.4 668.6,883.5 669.5,802.9 670.2,825.1 671.0,861.4 671.8,823.8 672.6,862.5 673.4,987.4 674.2,812.4 675.0,803.8 675.8,844.9 676.6,987.4 677.4,849.9 678.2,807.4 679.1,766.9 679.8,781.6 680.6,814.8 681.4,840.8 682.2,845.2 683.0,841.2 683.8,822.0 684.6,823.6 685.4,849.5 686.2,818.6 687.0,791.8 687.8,783.5 688.8,758.1 689.4,774.7 690.2,827.5 691.0,987.4 691.8,885.7 692.6,987.4 693.4,987.4 694.2,859.9 695.0,880.5 695.8,957.3 696.6,931.1 697.4,817.5 698.4,777.1 699.0,806.9 699.8,847.0 700.6,821.5 701.4,832.1 702.2,817.4 703.0,816.2 703.8,880.5 704.6,987.4 705.4,855.9 706.2,821.2 707.0,811.4 708.0,793.1 708.6,799.0 709.4,821.2 710.2,859.3 711.0,834.9 711.8,847.3 712.6,987.4 713.4,857.7 714.2,816.0 715.0,835.0 715.8,987.4 716.6,920.7 717.7,838.6 718.2,863.8 719.0,987.4 719.8,918.3 720.6,891.2 721.4,987.4 722.2,987.4 723.0,987.4 723.8,987.4 724.6,847.6 725.4,849.6 726.2,908.7 727.3,853.3 727.8,846.3 728.6,839.8 729.4,848.2 730.2,868.7 731.0,907.9 731.8,902.7 732.6,982.7 733.4,987.4 734.2,854.1 735.0,885.1 735.8,863.1 736.9,808.2 737.4,820.3 738.2,871.5 739.0,987.4 739.8,902.9 740.6,877.0 741.4,844.7 742.2,864.2 743.0,855.7 743.8,987.4 744.6,987.4 745.4,839.5 746.6,802.4 747.0,814.4 747.8,939.5 748.6,892.7 749.4,879.6 750.2,987.4 751.0,987.4 751.8,987.4 752.6,987.4 753.4,987.4 754.2,935.6 755.0,834.9 755.8,856.8 756.2,884.1 757.4,837.9 758.2,840.3 759.0,987.4 759.8,987.4 760.6,931.8 761.4,857.7 762.2,892.1 763.0,987.4 763.8,865.9 764.6,843.6 765.4,851.7 765.8,854.1 767.0,905.1 767.8,823.8 768.6,815.0 769.4,833.7 770.2,858.3 771.0,918.2 771.8,987.4 772.6,987.4 773.4,987.4 774.2,987.4 775.0,987.4 775.5,864.1 776.6,851.9 777.4,846.8 778.2,877.5 779.0,986.0 779.8,875.4 780.6,856.5 781.4,856.4 782.2,987.4 783.0,879.7 783.8,951.7 784.6,819.0 785.1,823.3 786.2,860.0 787.0,849.8 787.8,848.6 788.6,866.9 789.4,913.3 790.2,893.1 791.0,892.0 791.8,987.4 792.6,987.4 793.4,876.6 794.2,835.9 794.7,832.5 795.8,849.0 796.6,836.2 797.4,823.7 798.2,836.8 799.0,834.7 799.8,829.5 800.6,852.2 801.4,859.2 802.2,836.0 803.0,829.5 803.8,836.6 804.4,841.0 805.4,896.8 806.2,987.4 807.0,871.1 807.8,987.4 808.6,987.4 809.4,916.8 810.2,987.4 811.0,915.6 811.8,987.4 812.6,912.1 813.4,863.5 814.0,877.3 815.0,887.8 815.8,849.6 816.6,837.6 817.4,844.3 818.2,866.0 819.0,886.1 819.8,872.2 820.6,862.2 821.4,887.1 822.2,878.2 823.0,863.0 823.7,857.2 824.6,858.3 825.4,841.0" fill="none" stroke="#3046a6" stroke-width="1.7" stroke-linejoin="round"/>
<rect x="439" y="853.7" width="91" height="31.7" fill="#fff"/>
<path d="M130.60,985.4v-10M130.60,473.0v10M179.70,985.4v-16M179.70,473.0v16M228.80,985.4v-10M228.80,473.0v10M277.90,985.4v-10M277.90,473.0v10M327.00,985.4v-10M327.00,473.0v10M376.10,985.4v-10M376.10,473.0v10M425.20,985.4v-16M425.20,473.0v16M474.30,985.4v-10M474.30,473.0v10M523.40,985.4v-10M523.40,473.0v10M572.50,985.4v-10M572.50,473.0v10M621.60,985.4v-10M621.60,473.0v10M670.70,985.4v-16M670.70,473.0v16M719.80,985.4v-10M719.80,473.0v10M768.90,985.4v-10M768.90,473.0v10M818.00,985.4v-10M818.00,473.0v10M127.2,483.40h16M826.1,483.40h-16M127.2,567.00h16M826.1,567.00h-16M127.2,541.83h10M826.1,541.83h-10M127.2,527.11h10M826.1,527.11h-10M127.2,516.67h10M826.1,516.67h-10M127.2,508.57h10M826.1,508.57h-10M127.2,501.95h10M826.1,501.95h-10M127.2,496.35h10M826.1,496.35h-10M127.2,491.50h10M826.1,491.50h-10M127.2,487.23h10M826.1,487.23h-10M127.2,650.60h16M826.1,650.60h-16M127.2,625.43h10M826.1,625.43h-10M127.2,610.71h10M826.1,610.71h-10M127.2,600.27h10M826.1,600.27h-10M127.2,592.17h10M826.1,592.17h-10M127.2,585.55h10M826.1,585.55h-10M127.2,579.95h10M826.1,579.95h-10M127.2,575.10h10M826.1,575.10h-10M127.2,570.83h10M826.1,570.83h-10M127.2,734.20h16M826.1,734.20h-16M127.2,709.03h10M826.1,709.03h-10M127.2,694.31h10M826.1,694.31h-10M127.2,683.87h10M826.1,683.87h-10M127.2,675.77h10M826.1,675.77h-10M127.2,669.15h10M826.1,669.15h-10M127.2,663.55h10M826.1,663.55h-10M127.2,658.70h10M826.1,658.70h-10M127.2,654.43h10M826.1,654.43h-10M127.2,817.80h16M826.1,817.80h-16M127.2,792.63h10M826.1,792.63h-10M127.2,777.91h10M826.1,777.91h-10M127.2,767.47h10M826.1,767.47h-10M127.2,759.37h10M826.1,759.37h-10M127.2,752.75h10M826.1,752.75h-10M127.2,747.15h10M826.1,747.15h-10M127.2,742.30h10M826.1,742.30h-10M127.2,738.03h10M826.1,738.03h-10M127.2,901.40h16M826.1,901.40h-16M127.2,876.23h10M826.1,876.23h-10M127.2,861.51h10M826.1,861.51h-10M127.2,851.07h10M826.1,851.07h-10M127.2,842.97h10M826.1,842.97h-10M127.2,836.35h10M826.1,836.35h-10M127.2,830.75h10M826.1,830.75h-10M127.2,825.90h10M826.1,825.90h-10M127.2,821.63h10M826.1,821.63h-10M127.2,985.00h16M826.1,985.00h-16M127.2,959.83h10M826.1,959.83h-10M127.2,945.11h10M826.1,945.11h-10M127.2,934.67h10M826.1,934.67h-10M127.2,926.57h10M826.1,926.57h-10M127.2,919.95h10M826.1,919.95h-10M127.2,914.35h10M826.1,914.35h-10M127.2,909.50h10M826.1,909.50h-10M127.2,905.23h10M826.1,905.23h-10" stroke="#000" stroke-width="1.6" fill="none"/>
<rect x="127.2" y="473.0" width="698.9" height="512.4" fill="none" stroke="#000" stroke-width="2"/>
<path d="M222,838.5H744" stroke="#e8141e" stroke-width="3.6" fill="none"/>
<path d="M236,829.5L219,838.5L236,847.5M730,829.5L747,838.5L730,847.5" stroke="#e8141e" stroke-width="3.6" fill="none" stroke-linecap="butt"/>
<text transform="translate(438.60,880.00)" font-size="24.5" text-anchor="start" fill="#e8141e">1.1</text>
<text transform="translate(529.00,880.00)" font-size="24.5" text-anchor="end" fill="#e8141e">THz</text>
<text transform="translate(0.40,508.90) scale(1.0,1.07)" font-size="42" text-anchor="start" fill="#000" font-weight="bold">B</text>
<text transform="translate(103.80,508.80)" font-size="24.5" text-anchor="end" fill="#000">1</text>
<text transform="translate(103.40,663.60)" font-size="24.5" text-anchor="end" fill="#000">0.01</text>
<text transform="translate(103.30,831.30)" font-size="24.5" text-anchor="end" fill="#000">0.0001</text>
<text transform="translate(104.10,997.00)" font-size="24.5" text-anchor="end" fill="#000">0.000001</text>
<text transform="translate(180.50,1018.90) scale(1.06,1.0)" font-size="24.5" text-anchor="middle" fill="#000">2.5</text>
<text transform="translate(426.60,1018.90) scale(1.06,1.0)" font-size="24.5" text-anchor="middle" fill="#000">3.0</text>
<text transform="translate(673.90,1018.90) scale(1.06,1.0)" font-size="24.5" text-anchor="middle" fill="#000">3.5</text>
<text transform="translate(476.30,1050.00)" font-size="25" text-anchor="middle" fill="#000">Frequency (THz)</text>
<text transform="translate(21.50,728.60) rotate(-90)" font-size="25" text-anchor="middle" fill="#000">Intensity (a. u.)</text>
<polyline points="125.8,1414.9 126.8,1414.9 127.8,1394.6 128.8,1342.7 129.8,1325.7 130.8,1358.7 131.8,1401.6 132.8,1398.1 133.8,1333.3 134.8,1330.2 135.8,1360.0 136.8,1414.9 137.8,1406.3 138.8,1329.9 139.8,1369.4 140.8,1414.9 141.8,1414.9 142.8,1414.9 143.8,1414.9 144.8,1363.2 145.4,1326.0 145.8,1350.1 146.8,1351.8 147.8,1361.6 148.8,1372.9 149.8,1339.7 150.8,1345.7 151.8,1411.0 152.8,1407.3 153.8,1405.0 154.8,1400.7 155.8,1411.4 156.8,1380.0 157.8,1368.3 158.8,1388.9 159.8,1411.8 160.8,1409.8 161.8,1414.9 162.8,1414.9 163.8,1388.0 164.8,1344.0 165.5,1300.0 165.8,1317.8 166.8,1345.3 167.8,1414.9 168.8,1398.1 169.8,1352.2 170.4,1315.0 170.8,1339.1 171.8,1396.7 172.8,1414.9 173.8,1411.8 174.8,1371.5 175.8,1355.3 176.8,1389.3 177.8,1375.8 178.8,1405.5 179.8,1407.7 180.8,1381.8 181.8,1321.2 182.8,1321.2 183.8,1321.5 184.8,1321.9 185.8,1322.4 186.8,1331.9 187.8,1376.9 188.8,1358.9 189.8,1324.8 190.8,1359.2 191.8,1365.2 192.8,1357.2 193.8,1351.4 194.6,1301.6 194.8,1313.3 195.8,1378.2 196.8,1366.7 197.8,1382.0 198.8,1399.3 199.8,1386.4 200.8,1414.9 201.8,1414.9 202.8,1414.9 203.8,1392.2 204.8,1414.9 205.8,1414.9 206.8,1414.9 207.8,1414.9 208.8,1414.9 209.8,1351.5 210.7,1293.4 210.8,1299.2 211.8,1366.3 212.8,1405.8 213.8,1384.9 214.8,1384.9 215.8,1354.4 216.8,1323.8 217.8,1382.4 218.8,1414.9 219.8,1414.9 220.8,1401.8 221.8,1373.0 222.8,1360.8 223.8,1357.0 224.5,1313.0 224.8,1330.8 225.8,1396.8 226.8,1381.0 227.8,1358.1 228.8,1414.9 229.8,1408.2 230.8,1366.9 231.8,1410.6 232.8,1414.9 233.8,1393.6 234.8,1410.9 235.8,1414.9 236.8,1414.9 237.8,1414.9 238.8,1414.9 239.8,1414.9 240.8,1414.9 241.8,1414.9 242.8,1402.2 243.8,1414.9 244.8,1398.6 245.8,1383.4 246.8,1414.9 247.8,1414.9 248.8,1414.9 249.8,1414.9 250.8,1414.9 251.8,1414.9 252.8,1414.9 253.8,1414.9 254.8,1414.9 255.8,1404.1 256.8,1401.4 257.8,1393.6 258.8,1397.8 259.8,1385.8 260.8,1360.2 261.8,1386.1 262.8,1409.4 263.8,1414.9 264.8,1414.9 265.8,1403.9 266.8,1354.9 267.8,1343.6 268.8,1341.8 269.8,1380.6 270.8,1405.0 271.8,1335.7 272.8,1318.2 273.0,1306.5 273.8,1357.5 274.8,1342.9 275.8,1385.9 276.8,1414.9 277.8,1414.9 278.8,1388.2 279.8,1348.1 280.8,1400.4 281.8,1326.5 282.3,1296.0 282.8,1326.5 283.8,1400.6 284.8,1414.9 285.8,1391.9 286.8,1358.8 287.8,1380.2 288.8,1388.6 289.8,1319.7 290.0,1308.0 290.8,1359.0 291.8,1414.9 292.8,1414.9 293.8,1414.9 294.8,1350.1 295.8,1346.2 296.8,1392.6 297.8,1345.6 298.8,1355.1 299.8,1414.9 300.8,1414.9 301.8,1394.9 302.8,1347.5 302.8,1347.5 303.8,1380.7 304.8,1392.8 305.8,1360.5 306.8,1341.4 307.8,1341.8 308.8,1382.5 309.8,1385.5 310.8,1338.2 311.8,1386.6 312.8,1411.3 313.8,1342.4 314.0,1330.7 314.8,1341.7 315.8,1330.2 316.8,1357.0 317.8,1392.9 318.8,1363.4 319.8,1329.8 320.8,1329.4 321.8,1366.8 322.8,1414.9 323.8,1408.6 324.8,1341.4 325.8,1397.7 326.8,1399.2 327.8,1326.9 328.2,1302.8 328.8,1340.0 329.8,1328.5 330.8,1366.1 331.8,1335.6 332.8,1330.9 333.8,1375.5 334.8,1351.4 335.8,1321.2 336.8,1324.3 337.8,1327.5 338.8,1330.7 339.8,1333.3 340.8,1370.5 341.8,1326.7 342.0,1315.0 342.8,1366.0 343.8,1395.2 344.8,1344.3 345.8,1337.0 346.8,1335.7 347.8,1334.3 348.8,1332.9 349.8,1346.3 350.8,1366.8 351.8,1414.9 352.8,1370.8 353.8,1296.7 354.3,1266.2 354.8,1296.7 355.8,1370.8 356.8,1352.7 357.8,1376.7 358.8,1413.3 359.8,1399.7 360.8,1374.7 361.8,1332.2 362.8,1333.6 363.8,1343.7 364.4,1306.5 364.8,1330.6 365.8,1345.7 366.8,1307.9 367.8,1309.4 368.8,1325.3 369.8,1318.2 370.0,1306.5 370.8,1357.5 371.8,1390.2 372.8,1341.2 373.8,1357.1 374.8,1412.0 375.8,1414.9 376.8,1383.0 377.8,1373.9 378.8,1378.1 379.8,1368.2 380.8,1343.7 381.8,1323.6 382.8,1310.0 383.8,1310.9 384.8,1311.9 385.8,1312.9 386.8,1332.6 386.8,1332.6 387.8,1358.9 388.8,1346.8 389.8,1354.4 390.8,1326.2 391.8,1321.7 392.8,1396.5 393.8,1414.9 394.8,1339.3 395.8,1329.5 396.8,1346.3 397.8,1367.1 398.8,1310.0 399.8,1310.3 400.8,1353.4 401.8,1360.6 402.5,1316.6 402.8,1334.4 403.8,1373.2 404.8,1394.8 405.8,1396.1 406.8,1342.2 407.8,1356.1 408.8,1373.7 409.8,1408.9 410.8,1414.9 411.8,1399.7 412.8,1361.1 413.0,1349.4 413.8,1391.6 414.8,1391.6 415.8,1398.2 416.8,1369.1 417.8,1403.4 418.8,1402.7 419.8,1326.9 420.4,1289.7 420.8,1313.8 421.8,1357.7 422.8,1410.1 423.8,1414.9 424.8,1376.1 425.8,1383.3 426.8,1330.1 427.8,1264.7 427.8,1264.7 428.8,1330.1 429.8,1402.0 430.8,1354.8 431.8,1337.4 432.8,1351.9 433.8,1330.2 434.8,1329.6 435.3,1320.0 435.8,1350.5 436.8,1414.9 437.8,1414.9 438.8,1414.9 439.8,1414.9 440.8,1414.9 441.8,1411.6 442.8,1395.2 443.8,1381.0 444.6,1330.0 444.8,1341.7 445.8,1299.7 446.8,1298.5 447.8,1297.7 448.8,1297.3 449.8,1297.3 450.8,1297.7 451.8,1349.9 452.8,1377.6 453.8,1308.7 454.0,1297.0 454.8,1348.0 455.8,1398.2 456.8,1390.2 457.8,1369.8 458.8,1355.6 459.8,1348.4 460.8,1324.6 461.6,1273.6 461.8,1285.3 462.5,1274.8 462.8,1292.6 463.8,1316.9 464.8,1318.6 465.8,1320.2 466.6,1309.5 468.4,1260.8 469.6,1236.5 470.8,1241.3 473.6,1090.6 476.4,1241.3 477.8,1236.5 479.2,1268.9 481.0,1311.1 481.8,1291.4 482.1,1273.6 482.8,1287.2 483.0,1275.5 483.8,1326.5 484.8,1359.5 485.8,1343.6 486.8,1360.3 487.8,1396.9 488.8,1392.8 489.8,1360.3 490.8,1365.2 491.8,1403.6 492.8,1414.9 493.8,1414.9 494.8,1376.4 495.8,1312.8 496.1,1309.5 496.8,1304.2 497.8,1304.5 498.8,1331.0 499.8,1368.7 500.8,1394.6 501.8,1354.0 502.8,1361.2 503.8,1346.8 504.8,1342.9 505.8,1337.3 506.8,1335.9 507.8,1378.7 508.8,1403.4 509.8,1412.1 510.8,1372.2 511.8,1324.9 511.8,1324.9 512.8,1339.6 513.8,1325.7 514.8,1326.1 515.8,1326.5 516.8,1345.1 517.8,1390.4 518.8,1350.3 519.8,1328.8 520.8,1378.0 521.8,1398.0 522.8,1402.3 523.8,1394.6 524.8,1395.2 525.8,1348.8 526.8,1400.6 527.8,1414.9 528.8,1346.3 529.8,1347.0 530.8,1320.0 531.6,1269.0 531.8,1280.7 532.8,1349.6 533.8,1388.5 534.8,1345.5 535.8,1335.4 536.8,1331.5 537.8,1356.4 538.8,1383.0 539.8,1358.6 540.8,1312.9 541.8,1308.3 542.0,1315.7 542.8,1345.1 543.8,1347.9 544.8,1298.5 545.8,1297.2 546.8,1324.4 547.8,1387.9 548.8,1387.1 549.8,1373.5 550.8,1376.8 551.8,1395.5 552.8,1330.3 553.8,1325.1 554.8,1357.7 555.8,1399.5 556.8,1363.1 557.8,1338.3 558.8,1395.7 559.8,1363.1 560.7,1310.0 560.8,1315.8 561.8,1363.0 562.8,1342.6 563.8,1339.9 564.8,1313.1 565.8,1313.7 566.8,1312.4 567.8,1312.3 568.8,1312.4 569.8,1312.8 570.8,1352.0 571.5,1308.0 571.8,1325.8 572.8,1326.6 573.8,1316.7 574.8,1339.2 575.8,1350.5 576.8,1390.2 577.8,1389.7 578.8,1401.3 579.8,1378.0 580.8,1389.7 581.8,1395.0 582.8,1348.8 583.8,1323.9 584.8,1389.6 585.8,1367.2 586.4,1330.0 586.8,1350.7 587.8,1350.4 588.8,1334.2 589.8,1343.2 590.8,1364.5 591.8,1337.4 592.8,1334.2 593.8,1333.2 594.8,1343.7 595.8,1383.8 596.8,1414.9 597.8,1410.1 598.8,1331.6 599.8,1332.1 600.6,1286.7 600.8,1298.4 601.8,1353.2 602.8,1383.1 603.8,1384.3 604.8,1397.5 605.8,1380.4 606.8,1391.2 607.8,1374.4 608.8,1349.4 609.8,1349.0 610.8,1322.9 611.8,1313.3 612.8,1304.4 613.8,1311.4 614.8,1400.8 615.8,1412.8 616.8,1328.1 617.8,1297.5 618.8,1299.3 619.8,1301.9 620.4,1311.7 620.8,1318.2 621.8,1361.8 622.8,1333.8 623.8,1344.2 624.8,1409.8 625.8,1414.9 626.8,1385.4 627.8,1320.0 627.8,1320.0 628.8,1385.4 629.8,1414.1 630.8,1369.3 631.8,1370.5 632.8,1356.9 633.8,1363.2 634.8,1392.8 635.8,1371.7 636.8,1385.4 637.8,1401.0 638.8,1351.9 639.8,1332.1 640.8,1414.9 641.8,1414.9 642.8,1414.9 643.8,1321.9 644.8,1348.1 645.8,1384.3 646.8,1327.6 647.2,1303.5 647.8,1340.7 648.8,1414.9 649.8,1402.1 650.8,1402.7 651.8,1414.9 652.8,1414.9 653.8,1414.9 654.8,1396.3 655.8,1360.2 656.8,1340.8 657.8,1339.3 658.8,1337.6 659.8,1335.7 660.8,1404.4 661.8,1332.1 662.2,1308.0 662.8,1338.0 663.8,1348.0 664.8,1398.9 665.8,1414.9 666.8,1414.9 667.8,1366.3 668.8,1349.4 669.8,1379.1 670.8,1411.6 671.8,1414.9 672.8,1361.6 673.8,1322.1 674.8,1324.0 675.8,1347.4 676.8,1394.9 677.8,1328.1 678.2,1304.0 678.8,1333.3 679.8,1335.1 680.8,1372.5 681.8,1378.3 682.8,1386.6 683.8,1414.9 684.8,1392.6 685.8,1316.8 686.4,1279.6 686.8,1303.7 687.8,1376.0 688.8,1414.9 689.8,1414.9 690.8,1365.4 691.8,1332.9 692.8,1361.7 693.8,1386.0 694.8,1396.5 695.8,1384.8 696.8,1384.1 697.8,1381.5 698.8,1369.2 699.8,1341.5 700.8,1330.7 701.8,1397.4 702.8,1393.7 703.8,1414.9 704.8,1414.9 705.8,1414.9 706.8,1413.4 707.8,1414.9 708.8,1414.9 709.8,1404.0 710.8,1414.9 711.8,1411.4 712.8,1386.1 713.8,1351.1 714.8,1354.7 715.8,1391.7 716.8,1364.8 717.8,1370.2 718.8,1338.5 719.3,1308.0 719.8,1338.5 720.8,1363.6 721.8,1398.3 722.8,1359.1 723.8,1324.2 724.8,1331.7 725.8,1325.5 726.8,1367.0 727.8,1383.9 728.8,1402.1 729.8,1408.4 730.8,1336.1 731.2,1312.0 731.8,1349.2 732.8,1396.9 733.8,1388.6 734.8,1327.6 735.8,1322.7 736.8,1345.9 737.8,1278.8 737.9,1273.0 738.8,1331.1 739.8,1318.3 740.8,1317.7 741.8,1317.0 742.8,1327.5 743.8,1380.1 744.8,1414.9 745.8,1372.3 746.8,1370.3 747.8,1354.0 748.8,1327.6 749.8,1303.2 750.8,1301.7 751.0,1301.5 751.8,1300.6 752.8,1299.9 753.8,1325.1 754.8,1319.8 755.8,1330.1 756.8,1358.0 757.8,1305.4 758.8,1365.6 759.8,1382.9 760.8,1310.8 761.8,1314.0 762.8,1360.7 763.8,1349.1 764.8,1323.2 765.8,1350.5 766.8,1414.9 767.8,1389.0 768.5,1345.0 768.8,1328.8 769.8,1328.5 770.8,1327.4 771.8,1325.8 772.8,1330.7 773.8,1392.1 774.8,1414.9 775.8,1388.3 776.8,1396.9 777.8,1350.7 778.8,1313.3 779.8,1312.7 780.4,1299.0 780.8,1323.1 781.8,1340.9 782.8,1315.0 783.8,1329.8 784.8,1384.5 785.8,1338.1 786.8,1306.3 787.8,1307.8 788.8,1378.0 789.8,1414.9 790.8,1414.9 791.8,1373.4 792.8,1308.0 792.8,1308.0 793.8,1352.2 794.8,1404.7 795.8,1405.3 796.8,1388.6 797.8,1388.9 798.8,1405.6 799.8,1404.5 800.8,1347.5 801.8,1337.4 802.8,1359.9 803.8,1291.0 804.0,1279.3 804.8,1330.3 805.8,1409.5 806.8,1414.9 807.8,1404.3 808.8,1388.5 809.8,1407.0 810.8,1414.9 811.8,1413.2 812.8,1414.9 813.8,1414.9 814.8,1414.9 815.8,1414.9 816.8,1375.4 817.8,1310.0 817.8,1310.0 818.8,1344.6 819.8,1346.2 820.8,1383.0 821.8,1399.7 822.8,1381.5" fill="none" stroke="#e6121c" stroke-width="1.6" stroke-linejoin="round"/>
<path d="M298.55,1414.9v-6.5M298.55,1090.5v6.5M473.60,1414.9v-6.5M473.60,1090.5v6.5M648.65,1414.9v-6.5M648.65,1090.5v6.5M125.0,1171.60h6.5M823.6,1171.60h-6.5M125.0,1252.70h6.5M823.6,1252.70h-6.5M125.0,1333.80h6.5M823.6,1333.80h-6.5" stroke="#000" stroke-width="1.5" fill="none"/>
<path d="M125.0,1090.5H823.6V1414.9H125.0Z" fill="none" stroke="#000" stroke-width="1.6"/>
<path d="M124.2,1414.9H824.4" stroke="#000" stroke-width="2.2"/>
<path d="M418.7,1134.8H469M452.5,1123.4L471.0,1134.8L452.5,1146.2M529.3,1134.8H479M495.5,1123.4L477.0,1134.8L495.5,1146.2" stroke="#000" stroke-width="3.4" fill="none" stroke-linejoin="miter" stroke-miterlimit="2"/>
<text transform="translate(537.00,1142.70)" font-size="24.5" text-anchor="start" fill="#000">18 kHz</text>
<text transform="translate(1.00,1104.60) scale(1.0,1.04)" font-size="41" text-anchor="start" fill="#000" font-weight="bold">C</text>
<text transform="translate(106.80,1105.00) scale(1.04,1.0)" font-size="24.5" text-anchor="end" fill="#000">−105</text>
<text transform="translate(106.80,1186.10) scale(1.04,1.0)" font-size="24.5" text-anchor="end" fill="#000">−110</text>
<text transform="translate(106.80,1267.20) scale(1.04,1.0)" font-size="24.5" text-anchor="end" fill="#000">−115</text>
<text transform="translate(106.80,1348.30) scale(1.04,1.0)" font-size="24.5" text-anchor="end" fill="#000">−120</text>
<text transform="translate(106.80,1429.40) scale(1.04,1.0)" font-size="24.5" text-anchor="end" fill="#000">−125</text>
<text transform="translate(126.00,1447.60)" font-size="24.5" text-anchor="middle" fill="#000">−2</text>
<text transform="translate(298.55,1447.60)" font-size="24.5" text-anchor="middle" fill="#000">−1</text>
<text transform="translate(478.10,1447.60)" font-size="24.5" text-anchor="middle" fill="#000">0</text>
<text transform="translate(653.15,1447.60)" font-size="24.5" text-anchor="middle" fill="#000">1</text>
<text transform="translate(828.20,1447.60)" font-size="24.5" text-anchor="middle" fill="#000">2</text>
<text transform="translate(475.50,1488.30)" font-size="25" text-anchor="middle" fill="#000">Offset frequency (MHz)</text>
<text transform="translate(21.50,1251.00) rotate(-90)" font-size="25" text-anchor="middle" fill="#000">RF power (dBm)</text>
</svg></body></html>
